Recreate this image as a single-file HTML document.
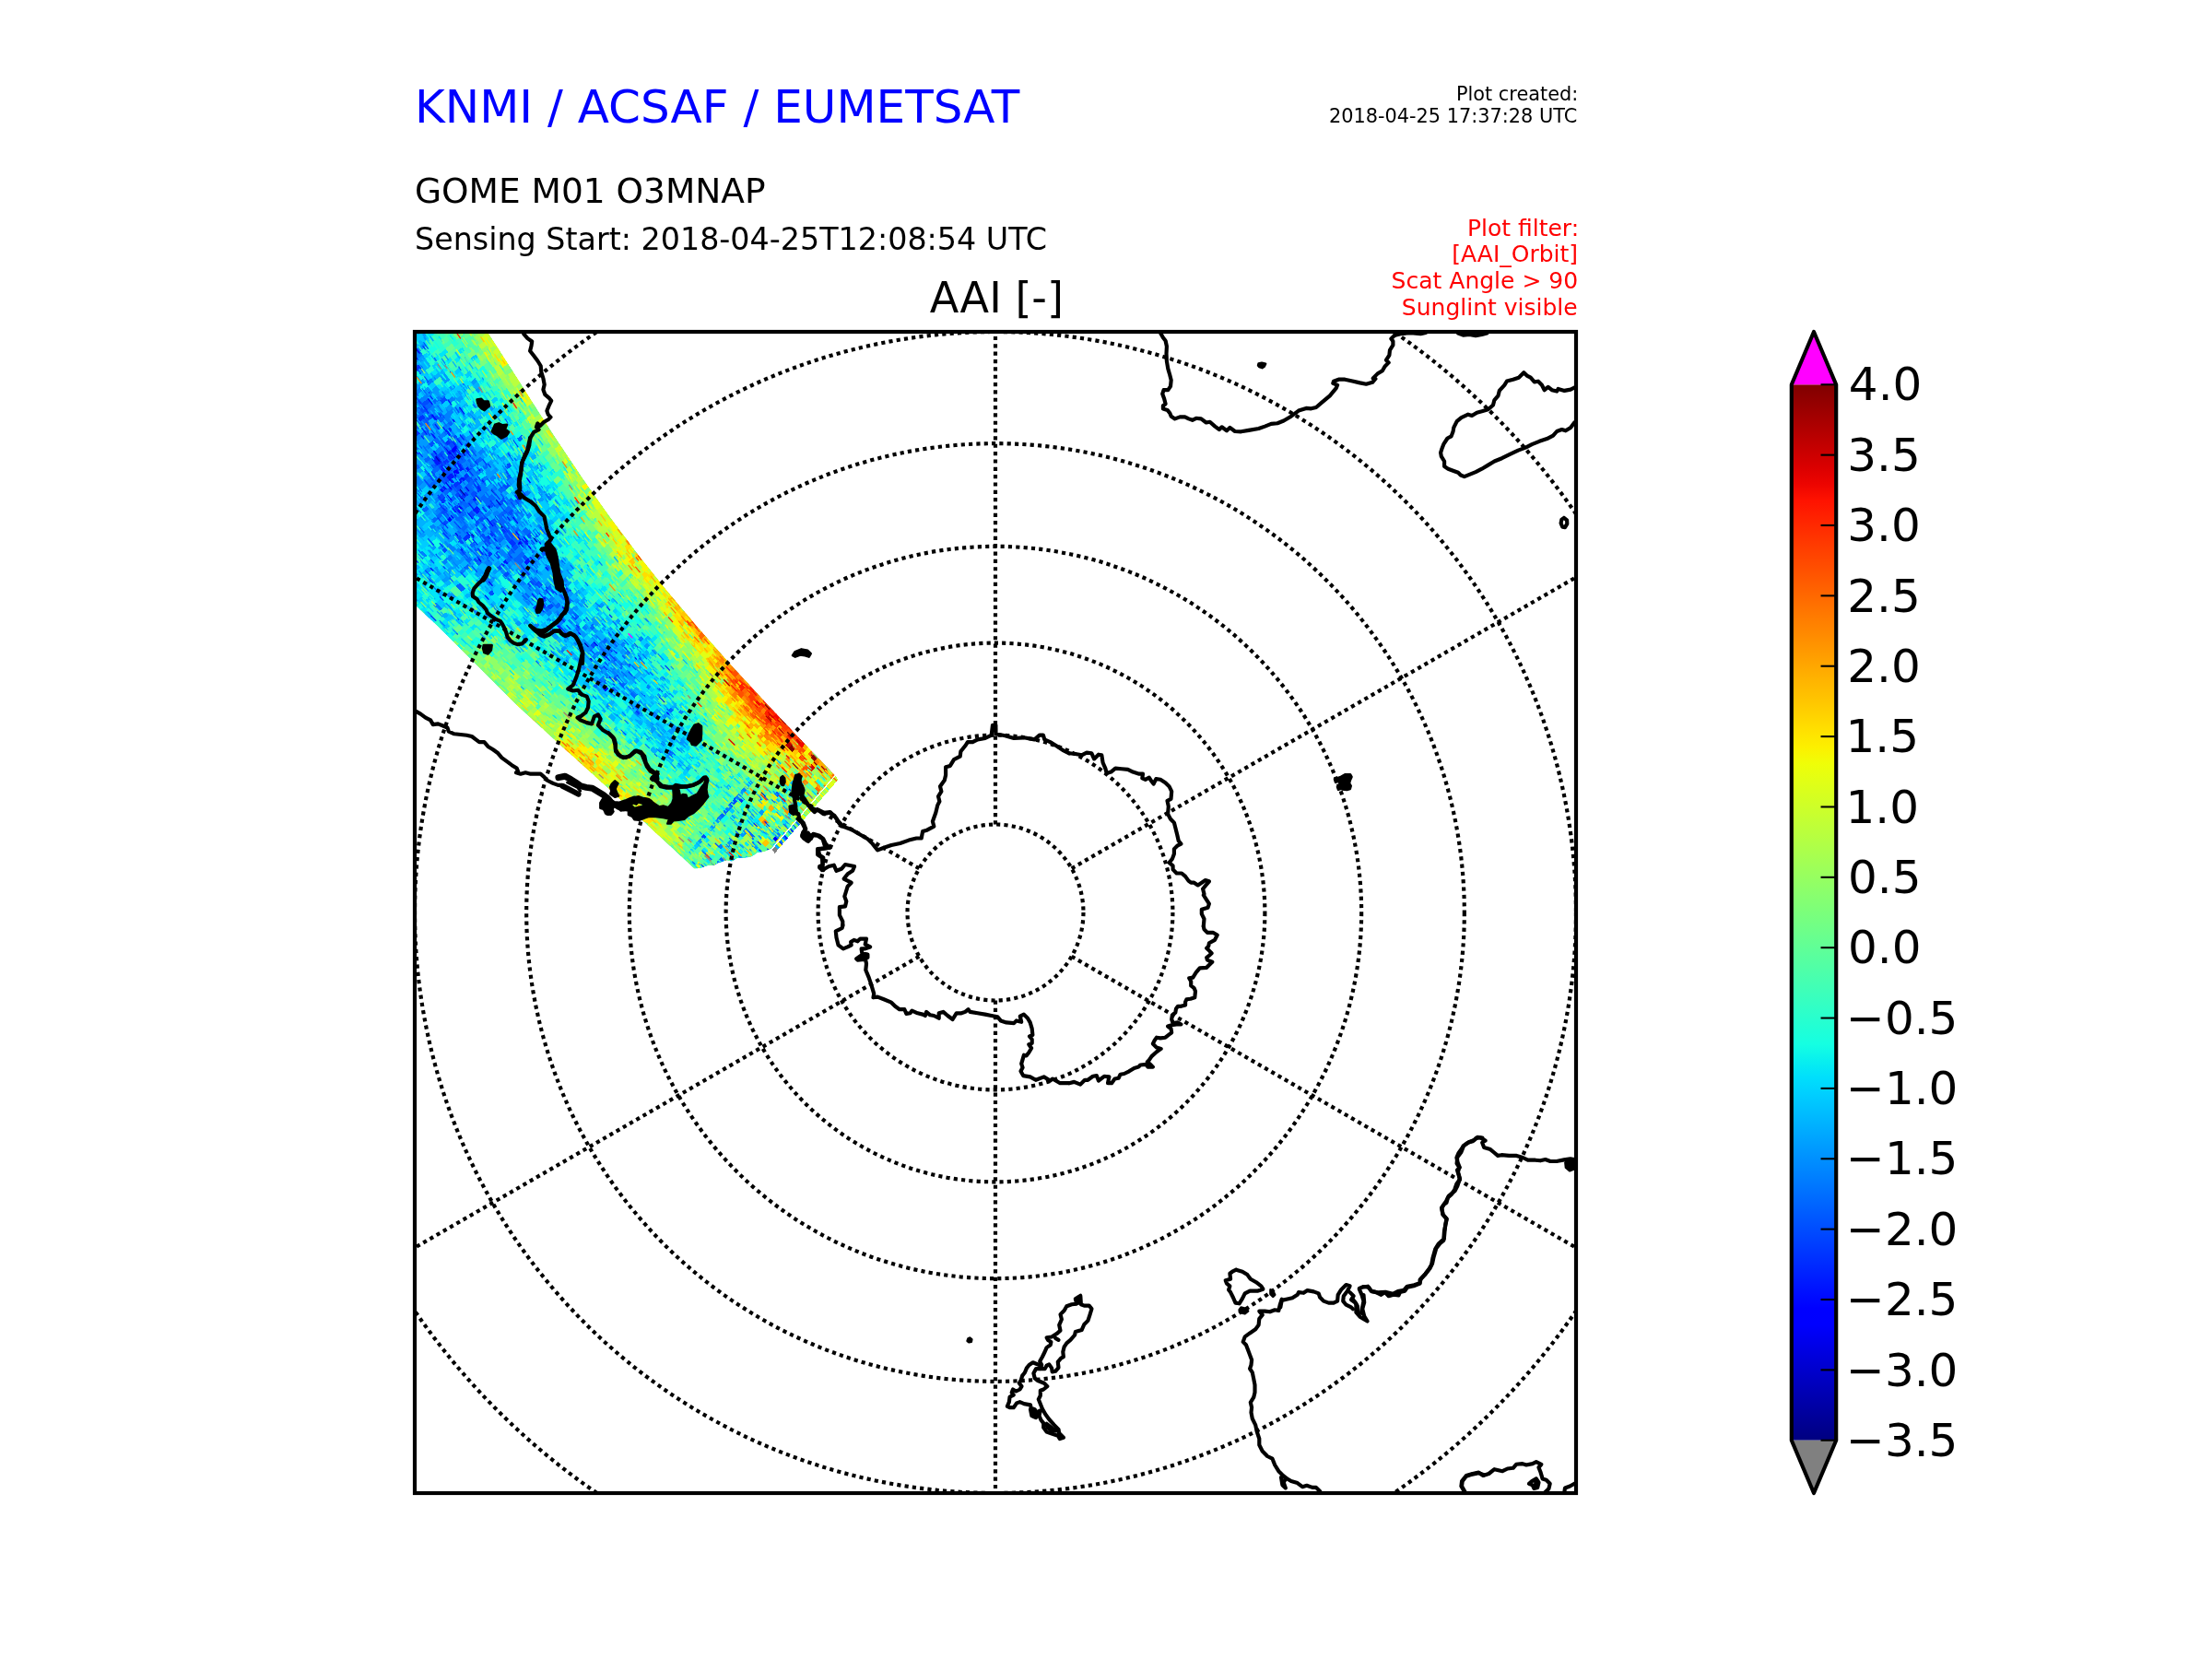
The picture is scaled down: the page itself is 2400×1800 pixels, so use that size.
<!DOCTYPE html>
<html lang="en"><head><meta charset="utf-8"><title>AAI plot</title>
<style>html,body{margin:0;padding:0;background:#fff;}body{width:2400px;height:1800px;overflow:hidden;}svg{display:block;will-change:transform;}</style>
</head><body>
<svg width="2400" height="1800" viewBox="0 0 2400 1800" font-family='"DejaVu Sans","Liberation Sans",sans-serif'>
<defs>
<clipPath id="mapclip"><rect x="450" y="360" width="1260" height="1260"/></clipPath>
<linearGradient id="jet" x1="0" y1="0" x2="0" y2="1"><stop offset="0.0000" stop-color="#800000"/><stop offset="0.0156" stop-color="#920000"/><stop offset="0.0312" stop-color="#a40000"/><stop offset="0.0469" stop-color="#b60000"/><stop offset="0.0625" stop-color="#c80000"/><stop offset="0.0781" stop-color="#da0000"/><stop offset="0.0938" stop-color="#ec0400"/><stop offset="0.1094" stop-color="#fe1200"/><stop offset="0.1250" stop-color="#ff2100"/><stop offset="0.1406" stop-color="#ff3000"/><stop offset="0.1562" stop-color="#ff3f00"/><stop offset="0.1719" stop-color="#ff4d00"/><stop offset="0.1875" stop-color="#ff5c00"/><stop offset="0.2031" stop-color="#ff6b00"/><stop offset="0.2188" stop-color="#ff7a00"/><stop offset="0.2344" stop-color="#ff8800"/><stop offset="0.2500" stop-color="#ff9700"/><stop offset="0.2656" stop-color="#ffa600"/><stop offset="0.2812" stop-color="#ffb500"/><stop offset="0.2969" stop-color="#ffc300"/><stop offset="0.3125" stop-color="#ffd200"/><stop offset="0.3281" stop-color="#ffe100"/><stop offset="0.3438" stop-color="#fcf000"/><stop offset="0.3594" stop-color="#effe08"/><stop offset="0.3750" stop-color="#e2ff15"/><stop offset="0.3906" stop-color="#d5ff21"/><stop offset="0.4062" stop-color="#c9ff2e"/><stop offset="0.4219" stop-color="#bcff3b"/><stop offset="0.4375" stop-color="#afff48"/><stop offset="0.4531" stop-color="#a2ff55"/><stop offset="0.4688" stop-color="#95ff62"/><stop offset="0.4844" stop-color="#88ff6f"/><stop offset="0.5000" stop-color="#7bff7b"/><stop offset="0.5156" stop-color="#6fff88"/><stop offset="0.5312" stop-color="#62ff95"/><stop offset="0.5469" stop-color="#55ffa2"/><stop offset="0.5625" stop-color="#48ffaf"/><stop offset="0.5781" stop-color="#3bffbc"/><stop offset="0.5938" stop-color="#2effc9"/><stop offset="0.6094" stop-color="#21ffd5"/><stop offset="0.6250" stop-color="#15ffe2"/><stop offset="0.6406" stop-color="#08efef"/><stop offset="0.6562" stop-color="#00dffc"/><stop offset="0.6719" stop-color="#00cfff"/><stop offset="0.6875" stop-color="#00bfff"/><stop offset="0.7031" stop-color="#00afff"/><stop offset="0.7188" stop-color="#009fff"/><stop offset="0.7344" stop-color="#008fff"/><stop offset="0.7500" stop-color="#0080ff"/><stop offset="0.7656" stop-color="#0070ff"/><stop offset="0.7812" stop-color="#0060ff"/><stop offset="0.7969" stop-color="#0050ff"/><stop offset="0.8125" stop-color="#0040ff"/><stop offset="0.8281" stop-color="#0030ff"/><stop offset="0.8438" stop-color="#0020ff"/><stop offset="0.8594" stop-color="#0010ff"/><stop offset="0.8750" stop-color="#0000ff"/><stop offset="0.8906" stop-color="#0000fe"/><stop offset="0.9062" stop-color="#0000ec"/><stop offset="0.9219" stop-color="#0000da"/><stop offset="0.9375" stop-color="#0000c8"/><stop offset="0.9531" stop-color="#0000b6"/><stop offset="0.9688" stop-color="#0000a4"/><stop offset="0.9844" stop-color="#000092"/><stop offset="1.0000" stop-color="#000080"/></linearGradient>
</defs>
<rect width="2400" height="1800" fill="#fff"/>
<g clip-path="url(#mapclip)">
<clipPath id="swclip"><polygon points="450.0,360.0 529.4,361.0 555.2,401.0 580.6,441.0 606.5,481.0 633.4,521.0 661.7,561.0 691.7,601.0 723.6,641.0 757.3,681.0 792.7,721.0 829.6,761.0 867.4,801.0 905.6,841.0 836.3,921.0 829.5,923.8 822.0,925.0 815.0,929.5 809.2,930.5 800.0,931.0 794.0,934.5 788.8,933.3 780.0,936.0 774.0,939.0 768.5,938.7 761.0,941.5 753.6,942.5 697.5,890.6 660.7,855.7 605.5,806.1 561.4,765.6 513.6,717.8 476.8,681.0 451.0,657.1 450.0,656.2"/></clipPath>
<g clip-path="url(#swclip)" shape-rendering="crispEdges">
<polygon points="450.0,360.0 529.4,361.0 555.2,401.0 580.6,441.0 606.5,481.0 633.4,521.0 661.7,561.0 691.7,601.0 723.6,641.0 757.3,681.0 792.7,721.0 829.6,761.0 867.4,801.0 905.6,841.0 836.3,921.0 829.5,923.8 822.0,925.0 815.0,929.5 809.2,930.5 800.0,931.0 794.0,934.5 788.8,933.3 780.0,936.0 774.0,939.0 768.5,938.7 761.0,941.5 753.6,942.5 697.5,890.6 660.7,855.7 605.5,806.1 561.4,765.6 513.6,717.8 476.8,681.0 451.0,657.1 450.0,656.2" fill="#40e0c0"/>
<path fill="#0000f3" d="M837.2,910.6l3.7-4.4l4,3.9l-3.7,4.4z"/>
<path fill="#0000ff" d="M442.9,417l6.9-5.6l3.4,4.4l-6.9,5.5zM488.2,488.1l6.5-5.1l3.4,4.4l-6.5,5.1zM489.1,513.1l6.4-5.1l4,4.9l-6.3,5.1zM483.8,563.1l6.1-5l3.5,4.3l-6.1,4.9zM571.3,593.3l5.6-4.9l3.5,4.3l-5.5,4.9z"/>
<path fill="#0019ff" d="M467.7,497.9l6.5-5.2l3.4,4.4l-6.5,5.1zM470.8,501.8l6.5-5.1l3.4,4.4l-6.5,5.1zM477,509.6l6.4-5.1l3.4,4.4l-6.4,5.1zM491.5,504.4l6.4-5.1l3.6,4.7l-6.4,5.1zM483.4,517.6l6.4-5.1l4,4.9l-6.3,5.1zM494.7,508.6l6.4-5.1l3.9,4.9l-6.3,5.1zM475.8,531.1l6.3-5.1l3.5,4.3l-6.3,5.1zM503.9,508.4l6.3-5.1l3.4,4.4l-6.3,5.1zM495.8,521.4l6.3-5.1l3.4,4.4l-6.2,5zM494.7,554.2l6.1-5l3.5,4.3l-6.1,4.9zM511.2,540.9l6.1-5l3.4,4.4l-6.1,4.9zM511.8,553.1l6.1-4.9l5,5.9l-6,5zM560,590l5.6-4.9l3.5,4.3l-5.6,4.9zM543.2,611.4l5.6-4.9l3.6,4.2l-5.6,4.9zM567.8,609.7l5.5-4.8l3.6,4.3l-5.5,4.8zM653.2,747.6l4.5-4.7l3.9,4l-4.5,4.7z"/>
<path fill="#0033ff" d="M449.2,399.1l7-5.6l3.3,4.5l-7,5.6zM443.1,455.1l6.7-5.4l3.5,4.4l-6.7,5.4zM452.2,454.1l6.7-5.4l3.4,4.4l-6.7,5.4zM446.5,471.5l6.7-5.4l3.5,4.3l-6.6,5.3zM481.9,467.6l6.6-5.2l3.3,4.5l-6.6,5.2zM482.1,480.2l6.5-5.2l3.4,4.4l-6.5,5.2zM491,479.5l6.5-5.2l3.3,4.5l-6.5,5.1zM482.4,492.6l6.5-5.1l3.4,4.4l-6.5,5.1zM479.7,501.1l6.5-5.1l3.4,4.4l-6.4,5.1zM485.4,496.6l6.5-5.1l3.4,4.4l-6.4,5.1zM491.2,492l6.5-5.1l3.4,4.4l-6.4,5.1zM490.2,525.9l6.3-5.1l3.5,4.4l-6.2,5zM501.4,516.9l6.3-5.1l3.4,4.4l-6.2,5zM476.6,543.3l6.2-5l3.5,4.3l-6.2,5zM499.5,537.6l6.2-5l3.4,4.4l-6.2,5zM491.6,550.4l6.2-5l3.5,4.3l-6.1,5zM513.6,532.6l6.2-5l3.4,4.4l-6.1,5zM501.7,583.9l5.9-5l3.6,4.2l-5.9,4.9zM527,582.1l5.9-4.9l3.5,4.3l-5.8,4.9zM540.6,577.2l5.8-4.9l3.5,4.4l-5.8,4.9zM526.2,602.2l5.8-4.8l3.6,4.3l-5.8,4.8zM536.5,593.6l5.8-4.8l3.5,4.3l-5.8,4.8zM549.8,588.7l5.8-4.8l5.5,6.2l-5.6,4.9zM585,658.6l5.2-4.8l3.7,4.2l-5.2,4.8zM800.8,868.1l3.8-4.5l4,3.9l-3.8,4.5zM829.8,896.2l3.7-4.4l4,3.9l-3.7,4.4z"/>
<path fill="#004dff" d="M452.1,441.5l6.8-5.5l3.4,4.4l-6.7,5.4zM458.1,436.6l6.8-5.5l3.4,4.4l-6.7,5.4zM455.2,445.4l6.7-5.4l3.4,4.4l-6.7,5.4zM476.2,434.8l6.7-5.4l3.3,4.5l-6.7,5.4zM461.3,453.2l6.7-5.4l3.4,4.4l-6.7,5.4zM470.3,452.3l6.7-5.4l3.4,4.4l-6.6,5.3zM464.3,481.6l6.6-5.2l3.4,4.4l-6.6,5.2zM488,475.5l6.5-5.2l3.3,4.5l-6.5,5.2zM473.5,493.3l6.5-5.2l3.4,4.4l-6.5,5.1zM485.1,484.1l6.5-5.2l3.4,4.4l-6.5,5.1zM465,506.4l6.5-5.1l3.5,4.4l-6.5,5.1zM462.4,514.8l6.5-5.1l3.5,4.3l-6.4,5.1zM473.9,505.7l6.5-5.1l3.4,4.4l-6.4,5.1zM502.7,482.9l6.5-5.1l3.3,4.5l-6.4,5.1zM465.5,518.7l6.4-5.1l3.5,4.3l-6.4,5.1zM494.2,496l6.4-5.1l3.4,4.5l-6.4,5.1zM474.4,518l6.4-5.1l3.7,4.6l-6.4,5.1zM480.1,513.5l6.4-5.1l3.7,4.6l-6.4,5.1zM477.7,522.1l6.4-5.1l4.1,4.9l-6.3,5.1zM473.4,539.5l6.3-5.1l3.5,4.3l-6.2,5zM484.6,530.5l6.3-5.1l3.5,4.3l-6.2,5zM493.3,529.8l6.2-5l3.5,4.4l-6.2,5zM504.4,520.8l6.2-5l3.4,4.4l-6.2,5zM490.8,538.2l6.2-5l3.5,4.4l-6.2,5zM513.1,520.3l6.2-5l3.4,4.4l-6.2,5zM477.4,555.4l6.2-5l3.6,4.3l-6.2,5zM510.6,528.7l6.2-5l3.4,4.4l-6.2,5zM508.1,537l6.2-5l3.4,4.4l-6.1,5zM546.7,505.9l6.2-5l3.2,4.5l-6.1,5zM478.3,567.5l6.1-5l3.6,4.3l-6.1,4.9zM506.4,557.4l6.1-4.9l5.1,6l-6,5zM544.5,526.7l6.1-4.9l4.3,5.4l-6,5zM527.2,549.6l6-5l3.5,4.4l-5.9,5zM477.2,597.9l5.9-5l3.7,4.2l-5.9,5zM493.1,584.5l5.9-5l3.6,4.2l-5.9,5zM514.3,566.8l5.9-5l3.5,4.3l-5.9,5zM519.6,562.3l5.9-5l3.5,4.3l-5.9,5zM540.9,544.6l5.9-5l3.4,4.4l-5.9,5zM496.4,588.3l5.9-5l3.6,4.2l-5.9,4.9zM531.2,565.6l5.9-4.9l3.5,4.4l-5.9,4.9zM518.6,582.6l5.9-4.9l3.5,4.3l-5.9,4.9zM534.4,569.5l5.9-4.9l3.5,4.4l-5.9,4.9zM550.1,556.3l5.9-4.9l3.4,4.4l-5.9,4.9zM521.8,586.5l5.9-4.9l3.5,4.3l-5.8,4.9zM525,590.3l5.8-4.9l3.5,4.3l-5.8,4.9zM512.6,607.1l5.8-4.9l3.6,4.2l-5.8,4.8zM543.7,581.1l5.8-4.9l3.5,4.4l-5.8,4.8zM548.9,576.7l5.8-4.9l3.4,4.4l-5.8,4.8zM546.8,585l5.8-4.8l3.5,4.4l-5.8,4.8zM552,580.6l5.8-4.8l3.4,4.4l-5.8,4.8zM534.4,601.6l5.8-4.8l5.9,6.5l-5.6,4.9zM555,594.4l5.6-4.9l3.6,4.3l-5.6,4.9zM570,581.3l5.6-4.9l3.5,4.3l-5.6,4.9zM538.2,615.8l5.6-4.9l3.6,4.2l-5.6,4.9zM578.1,580.7l5.6-4.9l3.5,4.4l-5.6,4.9zM544.8,623.2l5.5-4.9l3.6,4.2l-5.5,4.8zM564.6,605.9l5.5-4.9l3.6,4.3l-5.5,4.8zM528.3,644.3l5.5-4.8l3.7,4.1l-5.5,4.8zM580.8,604.9l5.5-4.8l3.5,4.3l-5.5,4.8zM570.8,633.4l5.4-4.8l4.5,5.2l-5.4,4.8zM579.6,633.8l5.4-4.8l5.1,5.5l-5.3,4.9zM577,659.2l5.2-4.8l3.7,4.1l-5.2,4.8zM586.3,650.6l5.2-4.8l3.7,4.2l-5.2,4.8zM595.6,642l5.2-4.8l3.7,4.2l-5.2,4.8zM592.9,658l5.2-4.8l3.7,4.2l-5.2,4.8zM619.3,668.9l5-4.8l5.2,5.4l-4.9,4.8zM640,700.1l4.8-4.7l3.8,4.1l-4.8,4.7zM663.1,715.8l4.6-4.8l3.8,4l-4.6,4.8zM661.3,739.2l4.5-4.7l3.9,4l-4.5,4.7zM665.3,735l4.5-4.7l3.9,4l-4.5,4.7zM677.5,722.3l4.5-4.7l3.8,4.1l-4.5,4.7zM759.5,908.7l3.8-4.5l4.1,3.8l-3.8,4.5zM790.4,872.7l3.8-4.5l4,3.9l-3.8,4.5zM793.8,868.7l3.8-4.5l4,3.9l-3.8,4.5z"/>
<path fill="#0066ff" d="M452.2,403.1l7-5.6l3.3,4.5l-6.9,5.6zM449,437.6l6.8-5.5l3.4,4.4l-6.8,5.5zM449.1,450.2l6.7-5.4l3.4,4.4l-6.7,5.4zM461.2,440.5l6.7-5.4l3.4,4.4l-6.7,5.4zM467.2,435.7l6.7-5.4l3.4,4.4l-6.7,5.4zM449.4,462.8l6.7-5.4l3.5,4.4l-6.7,5.4zM455.3,458l6.7-5.4l3.4,4.4l-6.7,5.4zM455.6,470.6l6.6-5.3l3.5,4.4l-6.6,5.3zM473.4,456.3l6.6-5.3l3.4,4.4l-6.6,5.3zM449.4,487.1l6.6-5.2l3.5,4.3l-6.6,5.2zM484.8,459l6.6-5.2l3.3,4.5l-6.6,5.2zM470.2,476.9l6.6-5.2l3.4,4.4l-6.6,5.2zM473.2,480.9l6.6-5.2l3.4,4.4l-6.5,5.2zM447.1,507.9l6.5-5.2l3.5,4.3l-6.5,5.2zM458.8,498.7l6.5-5.2l3.5,4.4l-6.5,5.2zM464.6,494l6.5-5.2l3.4,4.4l-6.5,5.2zM479.3,488.7l6.5-5.2l3.4,4.4l-6.5,5.1zM476.6,497.2l6.5-5.1l3.4,4.4l-6.5,5.1zM468.1,510.3l6.5-5.1l3.5,4.4l-6.4,5.1zM499.9,491.4l6.4-5.1l3.3,4.5l-6.4,5.1zM462.9,527.1l6.4-5.1l3.8,4.6l-6.4,5.1zM468.6,522.5l6.4-5.1l3.8,4.6l-6.4,5.1zM485.8,509l6.4-5.1l3.6,4.7l-6.4,5.1zM497.2,499.9l6.4-5.1l3.6,4.7l-6.4,5.1zM506.1,499.5l6.4-5.1l3.8,4.9l-6.3,5.1zM509.5,503.9l6.3-5.1l3.4,4.4l-6.3,5.1zM515.2,499.4l6.3-5.1l3.3,4.5l-6.3,5.1zM456.6,553.1l6.3-5.1l3.6,4.2l-6.2,5zM479,535l6.3-5.1l3.5,4.3l-6.2,5zM515.6,511.8l6.2-5l3.4,4.5l-6.2,5zM521.2,507.3l6.2-5l3.3,4.5l-6.2,5zM560.2,475.8l6.2-5l3.1,4.6l-6.2,5zM474.2,551.6l6.2-5l3.6,4.3l-6.2,5zM485.3,542.7l6.2-5l3.5,4.3l-6.2,5zM501.9,529.2l6.2-5l3.4,4.4l-6.2,5zM507.5,524.7l6.2-5l3.4,4.4l-6.2,5zM466.3,564.4l6.2-5l3.6,4.3l-6.2,5zM471.9,559.9l6.2-5l3.6,4.3l-6.2,5zM505,533.1l6.2-5l3.4,4.4l-6.2,5zM516.1,524.2l6.2-5l3.4,4.4l-6.2,5zM486.1,554.8l6.2-5l3.5,4.3l-6.1,5zM497.1,545.9l6.2-5l3.5,4.4l-6.1,5zM489.3,558.6l6.1-5l3.5,4.3l-6.1,4.9zM500.2,549.8l6.1-5l3.5,4.4l-6.1,4.9zM505.7,545.4l6.1-5l3.4,4.4l-6.1,4.9zM492.4,562.5l6.1-4.9l3.5,4.3l-6.1,4.9zM497.9,558.1l6.1-4.9l3.5,4.3l-6.1,4.9zM519.7,540.4l6.1-4.9l3.4,4.4l-6.1,4.9zM547,518.4l6.1-4.9l3.3,4.5l-6.1,4.9zM522.7,544.3l6.1-4.9l4.8,5.7l-6,5zM528.1,539.9l6.1-4.9l4.6,5.7l-6,5zM539,531.1l6.1-4.9l4.4,5.5l-6,5zM495.2,576.3l6-5l3.6,4.2l-5.9,5zM500.5,571.9l6-5l3.6,4.3l-5.9,5zM516.5,558.5l6-5l3.5,4.3l-5.9,5zM535.6,549l5.9-5l3.4,4.4l-5.9,5zM549.2,544l5.9-5l3.4,4.4l-5.9,4.9zM520.7,574.4l5.9-4.9l3.5,4.3l-5.9,4.9zM526,570l5.9-4.9l3.5,4.3l-5.9,4.9zM536.5,561.2l5.9-4.9l3.5,4.4l-5.9,4.9zM541.8,556.8l5.9-4.9l3.4,4.4l-5.9,4.9zM547,552.4l5.9-4.9l3.4,4.4l-5.9,4.9zM557.6,543.6l5.9-4.9l3.4,4.4l-5.9,4.9zM497.6,600.2l5.9-4.9l3.6,4.2l-5.9,4.9zM508.1,591.4l5.9-4.9l3.6,4.3l-5.9,4.9zM529.1,573.9l5.9-4.9l3.5,4.3l-5.9,4.9zM539.6,565.1l5.9-4.9l3.5,4.4l-5.9,4.9zM532.3,577.7l5.9-4.9l3.5,4.3l-5.8,4.9zM537.5,573.3l5.9-4.9l3.5,4.4l-5.8,4.9zM542.7,569l5.9-4.9l3.5,4.4l-5.8,4.9zM553.2,560.2l5.9-4.9l3.4,4.4l-5.8,4.9zM558.4,555.9l5.9-4.9l3.4,4.4l-5.8,4.9zM504.2,607.7l5.8-4.9l3.6,4.2l-5.8,4.9zM545.8,572.9l5.8-4.9l3.4,4.4l-5.8,4.9zM502.3,615.8l5.8-4.9l3.7,4.2l-5.8,4.8zM523,598.4l5.8-4.9l3.6,4.3l-5.8,4.8zM538.5,585.4l5.8-4.9l3.5,4.3l-5.8,4.8zM515.9,610.9l5.8-4.8l3.6,4.2l-5.8,4.8zM557.2,576.3l5.8-4.8l3.4,4.4l-5.8,4.8zM493.2,636l5.8-4.8l7.1,7.3l-5.6,4.9zM555,584.4l5.8-4.8l5.3,6.1l-5.6,4.9zM565.3,575.8l5.8-4.8l5,5.9l-5.6,4.9zM550,598.8l5.6-4.9l3.6,4.3l-5.6,4.9zM548.2,607l5.6-4.9l3.6,4.2l-5.6,4.9zM556.4,606.4l5.6-4.9l3.6,4.3l-5.5,4.9zM561.4,602.1l5.6-4.9l3.6,4.3l-5.5,4.9zM559.6,610.2l5.5-4.9l3.6,4.3l-5.5,4.8zM574.5,597.2l5.5-4.9l3.5,4.3l-5.5,4.8zM561.1,622.1l5.5-4.8l3.6,4.3l-5.5,4.8zM585.7,600.6l5.5-4.8l3.5,4.3l-5.5,4.8zM565.2,646.6l5.4-4.8l5.5,5.7l-5.3,4.9zM592.4,638.2l5.2-4.9l3.7,4.2l-5.2,4.8zM588.3,662.3l5.2-4.8l3.7,4.2l-5.2,4.8zM611.4,640.9l5.2-4.8l3.6,4.3l-5.2,4.8zM600.9,657.5l5.2-4.8l3.7,4.2l-5.1,4.8zM610.1,648.9l5.2-4.8l3.6,4.2l-5.1,4.8zM613.3,652.7l5.1-4.8l3.6,4.2l-5.1,4.7zM623.1,681.8l4.9-4.8l3.8,4.1l-4.9,4.8zM631.8,673.2l4.9-4.8l3.7,4.1l-4.9,4.8zM638.5,680.6l4.9-4.8l3.7,4.1l-4.8,4.8zM651.9,695.3l4.8-4.7l3.7,4.2l-4.8,4.7zM638.2,715.8l4.8-4.7l3.8,4.1l-4.8,4.7zM662.7,698.4l4.8-4.7l5.6,5.6l-4.6,4.8zM647.4,725l4.6-4.8l3.9,4l-4.6,4.8zM642.1,744.8l4.6-4.8l3.9,4l-4.6,4.7zM646.2,740.6l4.6-4.8l3.9,4l-4.6,4.7zM678.8,706.6l4.6-4.8l3.8,4.1l-4.6,4.7zM653.7,739.9l4.6-4.7l3.9,4l-4.5,4.7zM670,723l4.6-4.7l3.8,4l-4.5,4.7zM668.8,738.6l4.5-4.7l3.9,4l-4.5,4.7zM672.3,742.1l4.5-4.7l3.9,4l-4.5,4.7zM682.5,752.8l4.5-4.6l5.9,5.7l-4.3,4.7zM687.4,773.5l4.3-4.7l4,3.9l-4.3,4.7zM724.1,770.3l4.2-4.6l3.9,4l-4.2,4.6zM780.1,884.7l3.8-4.5l4,3.9l-3.8,4.5zM783.5,880.7l3.8-4.5l4,3.9l-3.8,4.5zM811,848.7l3.8-4.5l4,3.9l-3.8,4.5zM785.1,918.1l3.8-4.5l4.1,3.8l-3.8,4.4zM778.7,933.4l3.8-4.4l4.1,3.8l-3.8,4.4zM839.3,862l3.8-4.4l4,4l-3.8,4.4zM809.2,905.1l3.8-4.4l4,3.9l-3.8,4.4zM812.8,908.5l3.8-4.4l4,3.9l-3.7,4.4zM830.8,925.8l3.7-4.4l4,3.9l-3.7,4.4zM847.4,906.2l3.7-4.4l4,3.9l-3.7,4.4z"/>
<path fill="#0080ff" d="M446.5,382.2l7.1-5.7l3.3,4.5l-7,5.7zM449.5,386.1l7-5.7l3.3,4.5l-7,5.6zM443,404.1l7-5.6l3.4,4.4l-7,5.6zM449,424.8l6.9-5.5l3.4,4.4l-6.8,5.5zM461.2,415l6.9-5.5l3.3,4.5l-6.8,5.5zM455.1,432.7l6.8-5.5l3.4,4.4l-6.8,5.5zM461.2,427.8l6.8-5.5l3.4,4.4l-6.8,5.5zM446,446.3l6.8-5.5l3.4,4.4l-6.7,5.4zM473.2,430.8l6.7-5.4l3.3,4.5l-6.7,5.4zM458.2,449.3l6.7-5.4l3.4,4.4l-6.7,5.4zM464.2,444.5l6.7-5.4l3.4,4.4l-6.7,5.4zM467.3,448.4l6.7-5.4l3.4,4.4l-6.7,5.4zM485.2,434l6.7-5.4l3.3,4.5l-6.7,5.4zM458.4,461.9l6.7-5.4l3.4,4.4l-6.6,5.3zM449.7,475.3l6.6-5.3l3.5,4.3l-6.6,5.3zM467.4,461l6.6-5.3l3.4,4.4l-6.6,5.3zM479.3,451.5l6.6-5.3l3.3,4.5l-6.6,5.3zM485.2,446.7l6.6-5.3l3.3,4.5l-6.6,5.3zM470.5,465l6.6-5.3l2.8,3.9l-6.6,5.2zM482.3,455.5l6.6-5.3l2.9,4l-6.6,5.2zM478.9,463.6l6.6-5.2l3.3,4.5l-6.6,5.2zM458.4,486.3l6.6-5.2l3.4,4.4l-6.6,5.2zM476.1,472.3l6.6-5.2l3.4,4.4l-6.6,5.2zM485,471.6l6.6-5.2l3.3,4.5l-6.5,5.2zM496.7,462.3l6.6-5.2l3.3,4.5l-6.5,5.2zM470.5,489.4l6.5-5.2l3.4,4.4l-6.5,5.2zM476.3,484.8l6.5-5.2l3.4,4.4l-6.5,5.2zM505.5,461.7l6.5-5.2l3.2,4.5l-6.5,5.2zM461.9,502.5l6.5-5.2l3.5,4.4l-6.5,5.1zM496.8,474.9l6.5-5.2l3.3,4.5l-6.5,5.1zM447.7,520.2l6.5-5.1l3.5,4.3l-6.5,5.1zM450.9,524l6.5-5.1l3.5,4.3l-6.4,5.1zM459.8,523.3l6.4-5.1l3.5,4.3l-6.4,5.1zM482.7,505.1l6.4-5.1l3.4,4.4l-6.4,5.1zM488.5,500.5l6.4-5.1l3.4,4.4l-6.4,5.1zM505.7,486.9l6.4-5.1l3.3,4.5l-6.4,5.1zM508.6,490.8l6.4-5.1l3.5,4.7l-6.4,5.1zM443.6,549.3l6.4-5.1l4.5,5l-6.3,5.1zM455,540.2l6.4-5.1l4.3,5l-6.3,5.1zM500.4,504l6.4-5.1l3.8,4.9l-6.3,5.1zM517.4,490.5l6.4-5.1l3.7,4.8l-6.3,5.1zM492.7,517.5l6.3-5.1l3.4,4.4l-6.3,5.1zM543.3,476.7l6.3-5.1l3.2,4.6l-6.3,5.1zM467.8,544l6.3-5.1l3.6,4.3l-6.2,5zM507,512.4l6.3-5.1l3.4,4.4l-6.2,5zM487.7,534.3l6.2-5l3.5,4.3l-6.2,5zM510,516.3l6.2-5l3.4,4.4l-6.2,5zM468.6,556.1l6.2-5l3.6,4.3l-6.2,5zM496.4,533.7l6.2-5l3.5,4.4l-6.2,5zM521.6,519.7l6.2-5l3.3,4.5l-6.2,5zM464.1,572.6l6.2-5l3.6,4.2l-6.1,5zM480.6,559.3l6.2-5l3.5,4.3l-6.1,5zM502.6,541.5l6.2-5l3.4,4.4l-6.1,5zM519.1,528.1l6.2-5l3.4,4.4l-6.1,5zM530.1,519.2l6.2-5l3.3,4.5l-6.1,5zM472.8,571.9l6.1-5l3.6,4.3l-6.1,4.9zM516.7,536.5l6.1-5l3.4,4.4l-6.1,4.9zM522.2,532.1l6.1-5l3.4,4.4l-6.1,4.9zM476,575.7l6.1-4.9l3.6,4.3l-6.1,4.9zM508.8,549.2l6.1-4.9l3.4,4.4l-6.1,4.9zM514.3,544.8l6.1-4.9l3.4,4.4l-6.1,4.9zM530.7,531.6l6.1-4.9l3.3,4.5l-6.1,4.9zM541.6,522.8l6.1-4.9l3.3,4.5l-6.1,4.9zM451.9,601.3l6.1-4.9l6.3,6.7l-6,5zM479.2,579.4l6.1-4.9l5.7,6.4l-6,5zM495.5,566.2l6.1-4.9l5.4,6.1l-6,5zM489.8,580.8l6-5l3.6,4.2l-5.9,5zM532.5,545.1l6-5l3.4,4.4l-5.9,5zM559.1,522.8l6-5l3.3,4.5l-5.9,5zM580.5,505l6-5l3.2,4.6l-5.9,5zM482.5,593.4l5.9-5l3.7,4.2l-5.9,5zM498.4,580.1l5.9-5l3.6,4.2l-5.9,5zM503.7,575.7l5.9-5l3.6,4.3l-5.9,5zM525,557.9l5.9-5l3.5,4.3l-5.9,5zM485.8,597.1l5.9-5l3.7,4.2l-5.9,4.9zM533.4,557.3l5.9-5l3.5,4.4l-5.9,4.9zM544,548.5l5.9-5l3.4,4.4l-5.9,4.9zM478.6,609.7l5.9-4.9l3.7,4.2l-5.9,4.9zM483.8,605.3l5.9-4.9l3.7,4.2l-5.9,4.9zM494.4,596.5l5.9-4.9l3.6,4.2l-5.9,4.9zM552.3,548l5.9-4.9l3.4,4.4l-5.9,4.9zM562.8,539.2l5.9-4.9l3.3,4.5l-5.9,4.9zM568.1,534.8l5.9-4.9l3.3,4.5l-5.9,4.9zM560.6,547.5l5.9-4.9l3.4,4.5l-5.9,4.9zM480,621.4l5.9-4.9l3.7,4.1l-5.8,4.9zM547.9,564.6l5.9-4.9l3.4,4.4l-5.8,4.9zM530.2,585.9l5.8-4.9l3.5,4.3l-5.8,4.9zM535.4,581.6l5.8-4.9l3.5,4.3l-5.8,4.9zM556.2,564.1l5.8-4.9l3.4,4.4l-5.8,4.9zM561.4,559.8l5.8-4.9l3.4,4.4l-5.8,4.9zM497.1,620.1l5.8-4.9l3.7,4.2l-5.8,4.8zM517.8,602.8l5.8-4.9l3.6,4.3l-5.8,4.8zM533.4,589.8l5.8-4.9l3.5,4.3l-5.8,4.8zM554.1,572.4l5.8-4.9l3.4,4.4l-5.8,4.8zM569.6,559.4l5.8-4.9l3.4,4.5l-5.8,4.8zM590.4,542l5.8-4.9l3.3,4.5l-5.8,4.8zM467.5,657.5l5.8-4.8l7.9,7.8l-5.6,4.9zM524.1,610.2l5.8-4.8l6.2,6.7l-5.6,4.9zM539.5,597.3l5.8-4.8l5.8,6.4l-5.6,4.9zM560.1,580.1l5.8-4.8l5.2,6l-5.6,4.9zM544.9,603.2l5.6-4.9l3.6,4.2l-5.6,4.9zM575,576.9l5.6-4.9l3.5,4.4l-5.6,4.9zM580,572.5l5.6-4.9l3.5,4.4l-5.6,4.9zM523.2,628.9l5.6-4.9l3.7,4.2l-5.6,4.9zM553.2,602.6l5.6-4.9l3.6,4.3l-5.6,4.9zM558.2,598.2l5.6-4.9l3.6,4.3l-5.6,4.9zM563.2,593.9l5.6-4.9l3.5,4.3l-5.6,4.9zM568.1,589.5l5.6-4.9l3.5,4.3l-5.6,4.9zM526.6,632.6l5.6-4.9l3.7,4.2l-5.5,4.9zM541.5,619.5l5.6-4.9l3.6,4.2l-5.5,4.9zM546.5,615.1l5.6-4.9l3.6,4.2l-5.5,4.9zM548,627l5.5-4.8l3.6,4.2l-5.5,4.8zM572.7,605.3l5.5-4.8l3.5,4.3l-5.5,4.8zM592.4,588l5.5-4.8l3.4,4.4l-5.5,4.8zM566,617.8l5.5-4.8l3.6,4.3l-5.5,4.8zM575.9,609.2l5.5-4.8l3.5,4.3l-5.5,4.8zM569.2,621.6l5.5-4.8l3.6,4.3l-5.5,4.8zM562.7,634l5.5-4.8l3.6,4.2l-5.4,4.8zM575.6,629.2l5.4-4.8l4.5,5.1l-5.4,4.8zM590.2,616.4l5.4-4.8l4.2,5l-5.4,4.8zM574.8,638l5.4-4.8l5.2,5.6l-5.3,4.9zM598.8,616.6l5.4-4.8l4.7,5.3l-5.3,4.9zM579.7,643.2l5.3-4.9l3.7,4.2l-5.2,4.9zM603.1,621.4l5.3-4.9l3.6,4.3l-5.2,4.9zM587.7,642.6l5.2-4.9l3.7,4.2l-5.2,4.8zM597,633.9l5.2-4.9l3.6,4.2l-5.2,4.8zM581.7,654.9l5.2-4.8l3.7,4.2l-5.2,4.8zM609.6,629l5.2-4.8l3.6,4.3l-5.2,4.8zM594.3,650l5.2-4.8l3.7,4.2l-5.2,4.8zM608.2,637.1l5.2-4.8l3.6,4.2l-5.2,4.8zM577.8,678.8l5.2-4.8l3.8,4.1l-5.1,4.8zM591.7,666l5.2-4.8l3.7,4.2l-5.1,4.8zM590.4,674l5.1-4.8l3.7,4.2l-5.1,4.7zM599.6,665.5l5.1-4.8l3.7,4.2l-5.1,4.7zM608.7,656.9l5.1-4.8l3.6,4.2l-5.1,4.7zM607.4,664.9l5.1-4.7l3.7,4.2l-5.1,4.7zM601.6,677.1l5.1-4.7l4.7,5.1l-5,4.8zM606.1,672.8l5.1-4.7l4.7,5.1l-5,4.8zM615.2,664.4l5.1-4.7l4.5,5l-5,4.8zM614.8,673.2l5-4.8l5.3,5.5l-4.9,4.8zM610.9,686.8l4.9-4.8l3.8,4.1l-4.9,4.8zM604.7,706.9l4.9-4.8l3.9,4l-4.9,4.8zM630.8,681.2l4.9-4.8l3.7,4.1l-4.9,4.8zM621.2,697.6l4.9-4.8l3.8,4.1l-4.8,4.8zM628,704.9l4.8-4.8l3.8,4.1l-4.8,4.7zM635.7,704.3l4.8-4.7l3.8,4.1l-4.8,4.7zM634.8,712.2l4.8-4.7l3.8,4.1l-4.8,4.7zM647.6,699.5l4.8-4.7l3.7,4.1l-4.8,4.7zM629.7,724.2l4.8-4.7l3.8,4.1l-4.8,4.7zM642.5,711.6l4.8-4.7l3.8,4.1l-4.8,4.7zM646.7,707.4l4.8-4.7l3.8,4.1l-4.8,4.7zM651,703.2l4.8-4.7l3.7,4.1l-4.8,4.7zM650,711l4.8-4.7l6,5.9l-4.6,4.8zM654.2,706.8l4.8-4.7l5.9,5.8l-4.6,4.8zM658.5,702.6l4.8-4.7l5.7,5.7l-4.6,4.8zM672,699.4l4.6-4.8l3.8,4.1l-4.6,4.8zM659,720l4.6-4.8l3.9,4l-4.6,4.8zM650.3,736.3l4.6-4.8l3.9,4l-4.6,4.7zM654.3,732.1l4.6-4.8l3.9,4l-4.6,4.7zM658.4,727.9l4.6-4.8l3.9,4l-4.6,4.7zM662.5,723.6l4.6-4.8l3.9,4l-4.6,4.7zM666.6,719.4l4.6-4.8l3.8,4l-4.6,4.7zM674.8,710.9l4.6-4.8l3.8,4.1l-4.6,4.7zM691.1,693.9l4.6-4.8l3.7,4.1l-4.6,4.7zM661.9,731.4l4.6-4.7l3.9,4l-4.5,4.7zM667.7,754.1l4.5-4.7l3.9,4l-4.5,4.7zM687.2,741l4.5-4.7l3.8,4.1l-4.5,4.6zM680.3,766.5l4.3-4.7l4,3.9l-4.3,4.7zM699.7,745.4l4.3-4.7l3.9,4l-4.3,4.7zM687.7,765.8l4.3-4.7l4,3.9l-4.3,4.7zM710.5,748.3l4.3-4.7l3.9,4l-4.3,4.7zM705.7,775.6l4.3-4.7l3.9,4l-4.3,4.6zM716.5,778.5l4.2-4.6l3.9,4l-4.2,4.6zM723.8,777.9l4.2-4.6l3.9,4l-4.2,4.6zM734.8,773.3l4.2-4.6l3.9,4l-4.2,4.6zM724.7,817.4l4.1-4.6l4,3.9l-4.1,4.6zM776.6,888.7l3.8-4.5l4,3.8l-3.8,4.5zM786.9,876.7l3.8-4.5l4,3.9l-3.8,4.5zM797.2,864.7l3.8-4.5l4,3.9l-3.8,4.5zM804.1,856.7l3.8-4.5l4,3.9l-3.8,4.5zM778.1,918.7l3.8-4.5l4.1,3.8l-3.8,4.5zM775.3,937.4l3.8-4.4l4.1,3.8l-3.8,4.4zM788.8,921.5l3.8-4.4l4.1,3.8l-3.8,4.4zM805.6,901.7l3.8-4.4l4,3.9l-3.8,4.4zM846.4,869l3.8-4.4l3.9,4l-3.7,4.4zM813.1,915.9l3.7-4.4l4,3.9l-3.7,4.4zM840.3,899.2l3.7-4.4l4,3.9l-3.7,4.4zM840.5,906.7l3.7-4.4l4,3.9l-3.7,4.4z"/>
<path fill="#0099ff" d="M452.8,377.1l7.1-5.7l3.3,4.5l-7,5.7zM443.2,391.2l7-5.7l3.3,4.5l-7,5.6zM452.5,390.1l7-5.6l3.3,4.5l-7,5.6zM445.9,420.9l6.9-5.5l3.4,4.4l-6.9,5.5zM452.1,416l6.9-5.5l3.4,4.4l-6.9,5.5zM445.9,433.7l6.8-5.5l3.4,4.4l-6.8,5.5zM458.1,423.8l6.8-5.5l3.4,4.4l-6.8,5.5zM476.4,409.1l6.8-5.5l3.3,4.5l-6.8,5.5zM467.2,422.9l6.8-5.5l3.3,4.5l-6.8,5.5zM479.4,413.1l6.8-5.5l3.3,4.5l-6.8,5.5zM470.2,426.9l6.8-5.5l3.3,4.5l-6.7,5.4zM485.3,421.1l6.7-5.4l3.3,4.5l-6.7,5.4zM446.2,458.9l6.7-5.4l3.5,4.4l-6.7,5.4zM470.2,439.6l6.7-5.4l3.4,4.5l-6.7,5.4zM443.4,467.6l6.7-5.4l3.5,4.3l-6.7,5.4zM497.1,424.4l6.7-5.4l3.2,4.5l-6.7,5.4zM509.1,414.7l6.7-5.4l3.2,4.6l-6.7,5.4zM482.2,442.8l6.7-5.4l3.3,4.5l-6.6,5.3zM494.1,433.2l6.7-5.4l3.3,4.5l-6.6,5.3zM514.8,422.9l6.6-5.3l3.2,4.6l-6.6,5.3zM447,484l6.6-5.3l2.8,3.6l-6.6,5.2zM452.9,479.2l6.6-5.3l2.8,3.7l-6.6,5.2zM458.8,474.5l6.6-5.3l2.8,3.7l-6.6,5.2zM494.1,446l6.6-5.3l2.9,4.1l-6.6,5.2zM455.3,482.4l6.6-5.2l3.5,4.4l-6.6,5.2zM461.2,477.7l6.6-5.2l3.4,4.4l-6.6,5.2zM467.1,473l6.6-5.2l3.4,4.4l-6.6,5.2zM446.6,495.6l6.6-5.2l3.5,4.3l-6.6,5.2zM452.5,490.9l6.6-5.2l3.5,4.4l-6.6,5.2zM505.5,448.9l6.6-5.2l3.2,4.6l-6.6,5.2zM443.9,504.1l6.6-5.2l3.5,4.3l-6.5,5.2zM449.8,499.4l6.6-5.2l3.5,4.3l-6.5,5.2zM455.7,494.8l6.6-5.2l3.5,4.4l-6.5,5.2zM461.5,490.2l6.6-5.2l3.4,4.4l-6.5,5.2zM452.9,503.3l6.5-5.2l3.5,4.3l-6.5,5.2zM528.8,443.1l6.5-5.2l3.1,4.6l-6.5,5.2zM450.3,511.8l6.5-5.2l3.5,4.3l-6.5,5.1zM494,483.5l6.5-5.1l3.3,4.5l-6.5,5.1zM499.7,478.9l6.5-5.1l3.3,4.5l-6.5,5.1zM505.5,474.3l6.5-5.1l3.3,4.5l-6.5,5.1zM445.1,528.6l6.5-5.1l3.6,4.3l-6.4,5.1zM456.6,519.4l6.5-5.1l3.5,4.3l-6.4,5.1zM448.3,532.4l6.4-5.1l3.6,4.3l-6.4,5.1zM454.1,527.8l6.4-5.1l3.5,4.3l-6.4,5.1zM471.3,514.2l6.4-5.1l3.5,4.4l-6.4,5.1zM502.9,495.4l6.4-5.1l3.5,4.7l-6.4,5.1zM449.3,544.8l6.4-5.1l4.4,5l-6.3,5.1zM460.7,535.7l6.4-5.1l4.3,5l-6.3,5.1zM472,526.7l6.4-5.1l4.1,5l-6.3,5.1zM511.8,495l6.4-5.1l3.7,4.9l-6.3,5.1zM442.1,558.4l6.3-5.1l3.7,4.2l-6.3,5.1zM459,544.8l6.3-5.1l3.6,4.3l-6.3,5.1zM464.6,540.2l6.3-5.1l3.6,4.3l-6.3,5.1zM470.2,535.7l6.3-5.1l3.5,4.3l-6.3,5.1zM481.4,526.6l6.3-5.1l3.5,4.3l-6.3,5.1zM498.3,513l6.3-5.1l3.4,4.4l-6.3,5.1zM520.8,494.8l6.3-5.1l3.3,4.5l-6.3,5.1zM532,485.8l6.3-5.1l3.3,4.5l-6.3,5.1zM518.2,503.3l6.3-5.1l3.3,4.5l-6.2,5zM529.4,494.3l6.3-5.1l3.3,4.5l-6.2,5zM454.3,561.3l6.2-5l3.6,4.2l-6.2,5zM459.8,556.8l6.2-5l3.6,4.2l-6.2,5zM498.9,525.3l6.2-5l3.4,4.4l-6.2,5zM526.7,502.8l6.2-5l3.3,4.5l-6.2,5zM524.2,511.3l6.2-5l3.3,4.5l-6.2,5zM540.8,497.8l6.2-5l3.2,4.5l-6.2,5zM494,542l6.2-5l3.5,4.4l-6.2,5zM527.1,515.3l6.2-5l3.3,4.5l-6.2,5zM532.7,510.8l6.2-5l3.3,4.5l-6.2,5zM453.1,581.5l6.2-5l3.7,4.2l-6.1,5zM475.1,563.7l6.2-5l3.6,4.3l-6.1,5zM467.3,576.4l6.1-5l3.6,4.2l-6.1,4.9zM527.6,527.6l6.1-5l3.3,4.5l-6.1,4.9zM544.1,514.4l6.1-5l3.3,4.5l-6.1,4.9zM487,566.9l6.1-4.9l3.5,4.3l-6.1,4.9zM503.3,553.7l6.1-4.9l3.5,4.4l-6.1,4.9zM525.2,536l6.1-4.9l3.4,4.4l-6.1,4.9zM563.4,505.1l6.1-4.9l3.2,4.6l-6.1,4.9zM462.8,592.5l6.1-4.9l6.1,6.6l-6,5zM490,570.6l6.1-4.9l5.5,6.2l-6,5zM500.9,561.8l6.1-4.9l5.3,6.1l-6,5zM533.6,535.5l6.1-4.9l4.5,5.6l-6,5zM549.9,522.3l6.1-4.9l4.2,5.4l-6,5zM473.8,594.2l6-5l3.7,4.2l-5.9,5zM479.2,589.7l6-5l3.7,4.2l-5.9,5zM484.5,585.2l6-5l3.7,4.2l-5.9,5zM537.8,540.6l6-5l3.4,4.4l-5.9,5zM543.1,536.2l6-5l3.4,4.4l-5.9,5zM445.3,624.5l5.9-5l3.8,4l-5.9,5zM509,571.2l5.9-5l3.6,4.3l-5.9,5zM530.3,553.4l5.9-5l3.5,4.4l-5.9,5zM459.3,619.3l5.9-5l3.8,4.1l-5.9,4.9zM517.5,570.6l5.9-5l3.5,4.3l-5.9,4.9zM522.8,566.2l5.9-5l3.5,4.3l-5.9,4.9zM538.7,552.9l5.9-5l3.4,4.4l-5.9,4.9zM468,618.5l5.9-4.9l3.8,4.1l-5.9,4.9zM499.6,592l5.9-4.9l3.6,4.2l-5.9,4.9zM515.4,578.8l5.9-4.9l3.5,4.3l-5.9,4.9zM471.4,622.1l5.9-4.9l3.8,4.1l-5.9,4.9zM487.1,609l5.9-4.9l3.7,4.2l-5.9,4.9zM523.9,578.3l5.9-4.9l3.5,4.3l-5.9,4.9zM544.8,560.7l5.9-4.9l3.4,4.4l-5.9,4.9zM581.6,530l5.9-4.9l3.3,4.5l-5.9,4.9zM485.2,617.1l5.9-4.9l3.7,4.2l-5.8,4.9zM490.5,612.7l5.9-4.9l3.7,4.2l-5.8,4.9zM495.7,608.3l5.9-4.9l3.7,4.2l-5.8,4.9zM500.9,603.9l5.9-4.9l3.6,4.2l-5.8,4.9zM511.4,595.2l5.9-4.9l3.6,4.3l-5.8,4.9zM516.6,590.8l5.9-4.9l3.6,4.3l-5.8,4.9zM574,542.7l5.9-4.9l3.3,4.5l-5.8,4.9zM584.5,534l5.9-4.9l3.3,4.5l-5.8,4.9zM478.2,629.5l5.8-4.9l3.7,4.1l-5.8,4.9zM483.4,625.1l5.8-4.9l3.7,4.1l-5.8,4.9zM514.6,599l5.8-4.9l3.6,4.3l-5.8,4.9zM582.2,542.4l5.8-4.9l3.3,4.5l-5.8,4.9zM507.4,611.4l5.8-4.9l3.6,4.2l-5.8,4.8zM559.3,568.1l5.8-4.9l3.4,4.4l-5.8,4.8zM521,606.6l5.8-4.8l3.6,4.3l-5.8,4.8zM541.7,589.3l5.8-4.8l3.5,4.3l-5.8,4.8zM567.5,567.7l5.8-4.8l3.4,4.4l-5.8,4.8zM482.9,644.6l5.8-4.8l7.4,7.5l-5.6,4.9zM513.8,618.8l5.8-4.8l6.5,6.9l-5.6,4.9zM580.7,563l5.8-4.8l4.6,5.5l-5.6,4.9zM514.9,629.6l5.6-4.9l3.7,4.1l-5.6,4.9zM519.9,625.2l5.6-4.9l3.7,4.1l-5.6,4.9zM534.9,612l5.6-4.9l3.7,4.2l-5.6,4.9zM565,585.6l5.6-4.9l3.5,4.3l-5.6,4.9zM533.2,620.1l5.6-4.9l3.7,4.2l-5.6,4.9zM588.1,572l5.6-4.9l3.4,4.4l-5.6,4.9zM531.6,628.2l5.6-4.9l3.7,4.2l-5.5,4.9zM551.4,610.8l5.6-4.9l3.6,4.2l-5.5,4.9zM549.7,618.9l5.5-4.9l3.6,4.2l-5.5,4.8zM557.9,618.3l5.5-4.8l3.6,4.3l-5.5,4.8zM562.8,614l5.5-4.8l3.6,4.3l-5.5,4.8zM577.6,601l5.5-4.8l3.5,4.3l-5.5,4.8zM541.5,639.4l5.5-4.8l3.7,4.2l-5.5,4.8zM554.6,634.5l5.5-4.8l3.6,4.2l-5.5,4.8zM559.5,630.2l5.5-4.8l3.6,4.2l-5.5,4.8zM564.4,625.9l5.5-4.8l3.6,4.3l-5.5,4.8zM574.1,617.3l5.5-4.8l3.5,4.3l-5.5,4.8zM579,613l5.5-4.8l3.5,4.3l-5.5,4.8zM577.3,621.1l5.5-4.8l3.5,4.3l-5.4,4.8zM541.6,659l5.4-4.8l5,5.4l-5.4,4.8zM565.9,637.7l5.4-4.8l4.6,5.2l-5.4,4.8zM570,642.3l5.4-4.8l5.3,5.7l-5.3,4.9zM603.6,612.3l5.4-4.8l4.6,5.2l-5.3,4.9zM575,647.5l5.3-4.9l3.7,4.2l-5.2,4.9zM589.1,634.5l5.3-4.9l3.7,4.2l-5.2,4.9zM558.4,676.5l5.2-4.8l3.8,4.1l-5.2,4.8zM600.3,637.6l5.2-4.8l3.6,4.2l-5.2,4.8zM566.5,675.8l5.2-4.8l3.8,4.1l-5.2,4.8zM580.4,662.9l5.2-4.8l3.7,4.1l-5.2,4.8zM603.5,641.4l5.2-4.8l3.6,4.2l-5.2,4.8zM612.8,632.8l5.2-4.8l3.6,4.3l-5.2,4.8zM626.7,619.9l5.2-4.8l3.5,4.3l-5.2,4.8zM583.7,666.6l5.2-4.8l3.7,4.1l-5.2,4.8zM597.6,653.7l5.2-4.8l3.7,4.2l-5.2,4.8zM596.3,661.7l5.2-4.8l3.7,4.2l-5.1,4.8zM614.7,644.6l5.2-4.8l3.6,4.3l-5.1,4.8zM604.1,661.2l5.1-4.8l3.7,4.2l-5.1,4.7zM622.5,644.2l5.1-4.8l3.6,4.3l-5.1,4.7zM612,660.7l5.1-4.7l3.6,4.2l-5.1,4.7zM621.1,652.2l5.1-4.7l3.6,4.3l-5.1,4.7zM619.8,660.2l5.1-4.7l4.4,5l-5,4.8zM628.9,651.7l5.1-4.7l4.3,4.9l-5,4.8zM596.8,690.2l5-4.8l5.7,5.7l-4.9,4.8zM619.7,678.2l4.9-4.8l3.8,4.1l-4.9,4.8zM610,694.7l4.9-4.8l3.8,4.1l-4.9,4.8zM618.7,686.1l4.9-4.8l3.8,4.1l-4.9,4.8zM644.9,660.3l4.9-4.8l3.7,4.2l-4.9,4.8zM649.3,656l4.9-4.8l3.7,4.2l-4.9,4.8zM609.1,702.6l4.9-4.8l3.8,4l-4.9,4.8zM622.1,689.7l4.9-4.8l3.8,4.1l-4.9,4.8zM626.5,685.5l4.9-4.8l3.8,4.1l-4.9,4.8zM639.5,672.6l4.9-4.8l3.7,4.2l-4.9,4.8zM629.9,689.1l4.9-4.8l3.8,4.1l-4.8,4.8zM642.9,676.3l4.9-4.8l3.7,4.2l-4.8,4.8zM647.2,672l4.9-4.8l3.7,4.2l-4.8,4.8zM611.6,714l4.8-4.8l3.8,4l-4.8,4.8zM615.9,709.8l4.8-4.8l3.8,4l-4.8,4.8zM628.9,697l4.8-4.8l3.8,4.1l-4.8,4.8zM641.9,684.2l4.8-4.8l3.7,4.1l-4.8,4.8zM632.3,700.7l4.8-4.8l3.8,4.1l-4.8,4.7zM640.9,692.2l4.8-4.8l3.7,4.1l-4.8,4.7zM649.5,683.7l4.8-4.8l3.7,4.2l-4.8,4.7zM622.8,717l4.8-4.7l3.8,4.1l-4.8,4.7zM631.4,708.5l4.8-4.7l3.8,4.1l-4.8,4.7zM657.1,683.2l4.8-4.7l3.7,4.2l-4.8,4.7zM665.7,674.7l4.8-4.7l3.7,4.2l-4.8,4.7zM656.2,691.1l4.8-4.7l3.7,4.2l-4.8,4.7zM655.2,699l4.8-4.7l3.7,4.2l-4.8,4.7zM659.5,694.8l4.8-4.7l3.7,4.2l-4.8,4.7zM668,686.4l4.8-4.7l3.7,4.2l-4.8,4.7zM637.2,723.5l4.8-4.7l6.5,6.2l-4.6,4.8zM641.5,719.3l4.8-4.7l6.3,6.1l-4.6,4.8zM642.7,737.1l4.6-4.8l3.9,4l-4.6,4.8zM650.9,728.5l4.6-4.8l3.9,4l-4.6,4.8zM671.3,707.2l4.6-4.8l3.8,4.1l-4.6,4.8zM682.9,702.4l4.6-4.8l3.8,4.1l-4.6,4.7zM645.6,748.4l4.6-4.7l3.9,4l-4.5,4.7zM649.7,744.1l4.6-4.7l3.9,4l-4.5,4.7zM666,727.2l4.6-4.7l3.8,4l-4.5,4.7zM674.1,718.7l4.6-4.7l3.8,4.1l-4.5,4.7zM697.8,701.3l4.5-4.7l3.7,4.1l-4.5,4.7zM672.9,734.4l4.5-4.7l3.8,4l-4.5,4.7zM676.9,730.2l4.5-4.7l3.8,4.1l-4.5,4.7zM676.3,738l4.5-4.7l3.8,4l-4.5,4.7zM680.3,733.8l4.5-4.7l3.8,4.1l-4.5,4.7zM688.4,725.4l4.5-4.7l3.8,4.1l-4.5,4.7zM655.6,766.6l4.5-4.7l3.9,4l-4.5,4.7zM683.8,737.4l4.5-4.7l3.8,4.1l-4.5,4.7zM691.6,761.6l4.3-4.7l3.9,3.9l-4.3,4.7zM714.7,736.3l4.3-4.7l3.9,4l-4.3,4.7zM691,777l4.3-4.7l4,3.9l-4.3,4.7zM698.6,768.6l4.3-4.7l3.9,4l-4.3,4.7zM710.1,756l4.3-4.7l3.9,4l-4.3,4.7zM698.3,776.3l4.3-4.7l3.9,3.9l-4.3,4.7zM717.5,755.4l4.3-4.7l3.9,4l-4.3,4.7zM709.2,779.2l4.3-4.6l3.9,4l-4.2,4.6zM701.3,795.1l4.2-4.6l4,3.9l-4.2,4.6zM705.1,790.9l4.2-4.6l3.9,3.9l-4.2,4.6zM708.9,786.8l4.2-4.6l3.9,3.9l-4.2,4.6zM712.2,798l4.2-4.6l3.9,3.9l-4.2,4.6zM716,793.8l4.2-4.6l3.9,4l-4.2,4.6zM723.2,793.2l4.2-4.6l5.7,5.3l-4.1,4.7zM726.9,789.1l4.2-4.6l5.6,5.2l-4.1,4.7zM724.8,802.2l4.1-4.7l4,3.9l-4.1,4.6zM721,821.5l4.1-4.6l4,3.8l-4.1,4.6zM735.6,805l4.1-4.6l4,3.9l-4.1,4.6zM739.1,808.4l4.1-4.6l4,3.9l-4,4.6zM756,912.7l3.8-4.5l4.1,3.8l-3.8,4.5zM769.8,896.7l3.8-4.5l4.1,3.8l-3.8,4.5zM773.2,892.7l3.8-4.5l4.1,3.8l-3.8,4.5zM800.7,860.7l3.8-4.5l4,3.9l-3.8,4.5zM807.5,852.7l3.8-4.5l4,3.9l-3.8,4.5zM790.7,887.5l3.8-4.5l4.5,4.3l-3.8,4.5zM788.5,914.1l3.8-4.5l4.1,3.8l-3.8,4.4zM812.1,886.3l3.8-4.5l4,3.9l-3.8,4.4zM802.3,905.6l3.8-4.4l4,3.9l-3.8,4.4zM822.5,881.8l3.8-4.4l4,3.9l-3.8,4.4zM816.7,919.4l3.7-4.4l4,3.9l-3.7,4.4z"/>
<path fill="#00b2ff" d="M440.9,361.1l7.2-5.8l3.3,4.5l-7.2,5.8zM450.3,359.9l7.2-5.8l3.3,4.5l-7.1,5.7zM449.8,373.1l7.1-5.7l3.3,4.5l-7.1,5.7zM446.2,395.2l7-5.6l3.3,4.5l-7,5.6zM455.4,394.1l7-5.6l3.3,4.5l-7,5.6zM458.4,398.1l7-5.6l3.3,4.5l-6.9,5.6zM442.8,429.8l6.9-5.5l3.4,4.4l-6.8,5.5zM467.4,410l6.9-5.5l3.3,4.5l-6.8,5.5zM473.5,405.1l6.9-5.5l3.3,4.5l-6.8,5.5zM464.2,431.7l6.8-5.5l3.4,4.4l-6.7,5.4zM479.3,426l6.7-5.4l3.3,4.5l-6.7,5.4zM473.3,443.6l6.7-5.4l3.4,4.5l-6.7,5.4zM491.2,429.2l6.7-5.4l3.3,4.5l-6.7,5.4zM452.5,466.7l6.7-5.4l3.5,4.4l-6.6,5.3zM464.4,457.1l6.7-5.4l3.4,4.4l-6.6,5.3zM476.3,447.5l6.7-5.4l3.3,4.5l-6.6,5.3zM512,418.8l6.7-5.4l3.2,4.6l-6.6,5.3zM461.5,465.8l6.6-5.3l3.4,4.4l-6.6,5.3zM491.1,442l6.6-5.3l3.3,4.5l-6.6,5.3zM464.7,469.7l6.6-5.3l2.8,3.8l-6.6,5.2zM476.4,460.2l6.6-5.3l2.8,3.9l-6.6,5.2zM500,441.2l6.6-5.3l2.9,4.2l-6.6,5.2zM443.5,491.8l6.6-5.2l3.5,4.3l-6.6,5.2zM487.8,462.9l6.6-5.2l3.3,4.5l-6.6,5.2zM499.6,453.6l6.6-5.2l3.3,4.5l-6.6,5.2zM490.8,466.9l6.6-5.2l3.3,4.5l-6.5,5.2zM508.4,453l6.6-5.2l3.2,4.6l-6.5,5.2zM441.3,512.5l6.5-5.2l3.6,4.3l-6.5,5.2zM511.3,457l6.5-5.2l3.2,4.6l-6.5,5.2zM517.1,452.4l6.5-5.2l3.2,4.6l-6.5,5.2zM444.5,516.4l6.5-5.2l3.5,4.3l-6.5,5.1zM508.4,465.7l6.5-5.2l3.2,4.5l-6.5,5.1zM514.2,461.1l6.5-5.2l3.2,4.6l-6.5,5.1zM534.5,451.3l6.5-5.1l3.1,4.6l-6.5,5.1zM525.8,464.6l6.5-5.1l3.2,4.6l-6.4,5.1zM511.4,482.3l6.4-5.1l3.3,4.5l-6.4,5.1zM445.8,540.7l6.4-5.1l3.9,4.6l-6.4,5.1zM514.4,486.3l6.4-5.1l3.4,4.7l-6.4,5.1zM523.1,485.9l6.4-5.1l3.6,4.8l-6.3,5.1zM487.1,522.1l6.3-5.1l3.5,4.4l-6.3,5.1zM462.2,548.5l6.3-5.1l3.6,4.3l-6.2,5zM443.1,570.3l6.2-5l3.7,4.2l-6.2,5zM448.7,565.8l6.2-5l3.7,4.2l-6.2,5zM465.4,552.3l6.2-5l3.6,4.3l-6.2,5zM471,547.8l6.2-5l3.6,4.3l-6.2,5zM532.3,498.3l6.2-5l3.3,4.5l-6.2,5zM446.4,574l6.2-5l3.7,4.2l-6.2,5zM452,569.6l6.2-5l3.7,4.2l-6.2,5zM457.5,565.1l6.2-5l3.6,4.2l-6.2,5zM463.1,560.6l6.2-5l3.6,4.2l-6.2,5zM529.7,506.8l6.2-5l3.3,4.5l-6.2,5zM546.4,493.4l6.2-5l3.2,4.6l-6.2,5zM449.7,577.8l6.2-5l3.7,4.2l-6.2,5zM482.9,551l6.2-5l3.5,4.3l-6.2,5zM488.4,546.5l6.2-5l3.5,4.3l-6.2,5zM458.6,577l6.2-5l3.6,4.2l-6.1,5zM469.6,568.1l6.2-5l3.6,4.3l-6.1,5zM541.1,510.3l6.2-5l3.3,4.5l-6.1,5zM557.7,497l6.2-5l3.2,4.6l-6.1,5zM461.8,580.8l6.1-5l3.6,4.2l-6.1,4.9zM443.3,602.2l6.1-4.9l3.7,4.1l-6.1,4.9zM470.6,580.1l6.1-4.9l3.6,4.2l-6.1,4.9zM481.5,571.3l6.1-4.9l3.6,4.3l-6.1,4.9zM536.1,527.2l6.1-4.9l3.3,4.5l-6.1,4.9zM574.3,496.3l6.1-4.9l3.1,4.6l-6.1,4.9zM473.7,583.8l6.1-4.9l5.9,6.4l-6,5zM484.6,575l6.1-4.9l5.6,6.3l-6,5zM517.3,548.7l6.1-4.9l4.9,5.8l-6,5zM555.4,518l6.1-4.9l4,5.3l-6,5zM560.8,513.6l6.1-4.9l3.9,5.2l-6,5zM571.7,504.8l6.1-4.9l3.7,5.1l-6,5zM447.2,616.5l6-5l3.8,4.1l-5.9,5zM463.2,603.1l6-5l3.8,4.1l-5.9,5zM505.8,567.4l6-5l3.6,4.3l-5.9,5zM553.8,527.3l6-5l3.3,4.5l-5.9,5zM575.1,509.4l6-5l3.2,4.5l-5.9,5zM461.2,611.2l5.9-5l3.8,4.1l-5.9,5zM471.9,602.3l5.9-5l3.7,4.1l-5.9,5zM556.8,531.2l5.9-5l3.3,4.5l-5.9,5zM562.1,526.8l5.9-5l3.3,4.5l-5.9,5zM572.7,517.9l5.9-5l3.3,4.5l-5.9,5zM583.4,509l5.9-5l3.2,4.6l-5.9,5zM454.1,623.7l5.9-5l3.8,4.1l-5.9,4.9zM512.2,575l5.9-5l3.6,4.3l-5.9,4.9zM528.1,561.7l5.9-5l3.5,4.3l-5.9,4.9zM489.1,600.9l5.9-4.9l3.7,4.2l-5.9,4.9zM510.2,583.2l5.9-4.9l3.6,4.3l-5.9,4.9zM481.9,613.4l5.9-4.9l3.7,4.2l-5.9,4.9zM492.4,604.6l5.9-4.9l3.7,4.2l-5.9,4.9zM474.8,625.8l5.9-4.9l3.8,4.1l-5.8,4.9zM506.1,599.6l5.9-4.9l3.6,4.2l-5.8,4.9zM563.6,551.5l5.9-4.9l3.4,4.5l-5.8,4.9zM499,612l5.8-4.9l3.7,4.2l-5.8,4.9zM509.4,603.3l5.8-4.9l3.6,4.2l-5.8,4.9zM587.4,538l5.8-4.9l3.3,4.5l-5.8,4.9zM471.2,641.8l5.8-4.9l3.8,4.1l-5.8,4.8zM481.5,633.1l5.8-4.9l3.7,4.1l-5.8,4.8zM528.2,594.1l5.8-4.9l3.5,4.3l-5.8,4.8zM595.6,537.7l5.8-4.9l3.2,4.6l-5.8,4.8zM474.6,645.4l5.8-4.8l3.8,4.1l-5.8,4.8zM505.5,619.5l5.8-4.8l3.6,4.2l-5.8,4.8zM531.4,597.9l5.8-4.8l3.5,4.3l-5.8,4.8zM562.3,572l5.8-4.8l3.4,4.4l-5.8,4.8zM577.8,559l5.8-4.8l3.3,4.5l-5.8,4.8zM518.9,614.5l5.8-4.8l6.4,6.8l-5.6,4.9zM529.2,605.9l5.8-4.8l6.1,6.6l-5.6,4.9zM544.7,593l5.8-4.8l5.6,6.3l-5.6,4.9zM575.6,567.3l5.8-4.8l4.7,5.6l-5.6,4.9zM591,554.4l5.8-4.8l4.3,5.3l-5.6,4.9zM596.2,550.1l5.8-4.8l4.1,5.2l-5.6,4.9zM539.9,607.6l5.6-4.9l3.6,4.2l-5.6,4.9zM600,554.9l5.6-4.9l3.4,4.5l-5.6,4.9zM478.3,668.3l5.6-4.9l3.9,4l-5.6,4.9zM503.3,646.4l5.6-4.9l3.8,4.1l-5.6,4.9zM508.3,642l5.6-4.9l3.8,4.1l-5.6,4.9zM528.2,624.5l5.6-4.9l3.7,4.2l-5.6,4.9zM573.1,585.1l5.6-4.9l3.5,4.3l-5.6,4.9zM583.1,576.4l5.6-4.9l3.5,4.4l-5.6,4.9zM593.1,567.6l5.6-4.9l3.4,4.4l-5.6,4.9zM566.3,597.7l5.6-4.9l3.5,4.3l-5.5,4.9zM576.3,589l5.6-4.9l3.5,4.3l-5.5,4.9zM591.2,575.9l5.6-4.9l3.4,4.4l-5.5,4.9zM606.1,562.8l5.6-4.9l3.4,4.5l-5.5,4.9zM525,640.6l5.5-4.9l3.7,4.1l-5.5,4.8zM529.9,636.3l5.5-4.9l3.7,4.2l-5.5,4.8zM554.7,614.6l5.5-4.9l3.6,4.3l-5.5,4.8zM584.4,588.5l5.5-4.9l3.5,4.4l-5.5,4.8zM589.3,584.1l5.5-4.9l3.4,4.4l-5.5,4.8zM582.6,596.7l5.5-4.8l3.5,4.3l-5.5,4.8zM587.5,592.4l5.5-4.8l3.5,4.4l-5.5,4.8zM551.3,630.7l5.5-4.8l3.6,4.2l-5.5,4.8zM571,613.5l5.5-4.8l3.6,4.3l-5.5,4.8zM590.6,596.2l5.5-4.8l3.5,4.4l-5.5,4.8zM530.1,656l5.5-4.8l3.7,4.1l-5.5,4.8zM598.6,595.8l5.5-4.8l3.4,4.4l-5.5,4.8zM603.5,591.5l5.5-4.8l3.4,4.4l-5.5,4.8zM557.8,638.2l5.5-4.8l3.6,4.2l-5.4,4.8zM572.5,625.4l5.5-4.8l3.6,4.3l-5.4,4.8zM556.2,646.2l5.4-4.8l4.8,5.3l-5.4,4.8zM561,641.9l5.4-4.8l4.7,5.2l-5.4,4.8zM580.5,624.9l5.4-4.8l4.4,5.1l-5.4,4.8zM585.3,620.6l5.4-4.8l4.3,5.1l-5.4,4.8zM599.9,607.9l5.4-4.8l4.1,5l-5.4,4.8zM560.5,650.9l5.4-4.8l5.6,5.8l-5.3,4.9zM584.4,629.5l5.4-4.8l5,5.5l-5.3,4.9zM589.2,625.2l5.4-4.8l4.9,5.4l-5.3,4.9zM594,620.9l5.4-4.8l4.8,5.3l-5.3,4.9zM565.6,656.2l5.3-4.9l3.8,4.1l-5.2,4.9zM570.3,651.9l5.3-4.9l3.7,4.1l-5.2,4.9zM593.8,630.1l5.3-4.9l3.6,4.2l-5.2,4.9zM598.4,625.8l5.3-4.9l3.6,4.2l-5.2,4.9zM607.8,617.1l5.3-4.9l3.6,4.3l-5.2,4.9zM612.5,612.7l5.3-4.9l3.6,4.3l-5.2,4.9zM555,672.9l5.2-4.9l3.8,4.1l-5.2,4.8zM578.3,651.2l5.2-4.9l3.7,4.2l-5.2,4.8zM601.7,629.5l5.2-4.9l3.6,4.2l-5.2,4.8zM606.4,625.2l5.2-4.9l3.6,4.3l-5.2,4.8zM611,620.9l5.2-4.9l3.6,4.3l-5.2,4.8zM615.7,616.5l5.2-4.9l3.6,4.3l-5.2,4.8zM567.7,667.9l5.2-4.8l3.8,4.1l-5.2,4.8zM604.9,633.3l5.2-4.8l3.6,4.2l-5.2,4.8zM614.3,624.7l5.2-4.8l3.6,4.3l-5.2,4.8zM598.9,645.7l5.2-4.8l3.6,4.2l-5.2,4.8zM602.2,649.4l5.2-4.8l3.6,4.2l-5.2,4.8zM606.8,645.2l5.2-4.8l3.6,4.2l-5.2,4.8zM564,691.6l5.2-4.8l3.8,4.1l-5.1,4.8zM605.5,653.2l5.2-4.8l3.6,4.2l-5.1,4.8zM585.8,678.2l5.1-4.8l3.7,4.1l-5.1,4.7zM617.9,648.4l5.1-4.8l3.6,4.3l-5.1,4.7zM627.1,639.9l5.1-4.8l3.6,4.3l-5.1,4.7zM584.6,686.1l5.1-4.7l3.7,4.1l-5.1,4.7zM598.3,673.4l5.1-4.7l3.7,4.2l-5.1,4.7zM602.9,669.2l5.1-4.7l3.7,4.2l-5.1,4.7zM605.8,681.7l5-4.8l5.5,5.6l-4.9,4.8zM623.8,664.6l5-4.8l5.1,5.3l-4.9,4.8zM597.8,699.8l4.9-4.8l3.9,4l-4.9,4.8zM602.2,695.4l4.9-4.8l3.8,4l-4.9,4.8zM624.1,673.8l4.9-4.8l3.8,4.1l-4.9,4.8zM601.3,703.3l4.9-4.8l3.9,4l-4.9,4.8zM614.4,690.4l4.9-4.8l3.8,4.1l-4.9,4.8zM635.2,676.9l4.9-4.8l3.7,4.1l-4.9,4.8zM643.9,668.3l4.9-4.8l3.7,4.2l-4.9,4.8zM603.8,714.7l4.9-4.8l3.9,4l-4.8,4.8zM616.8,701.9l4.9-4.8l3.8,4.1l-4.8,4.8zM625.5,693.4l4.9-4.8l3.8,4.1l-4.8,4.8zM634.2,684.8l4.9-4.8l3.7,4.1l-4.8,4.8zM603,722.6l4.8-4.8l3.9,4l-4.8,4.8zM619.4,713.4l4.8-4.8l3.8,4l-4.8,4.7zM636.6,696.4l4.8-4.8l3.8,4.1l-4.8,4.7zM645.2,687.9l4.8-4.8l3.7,4.1l-4.8,4.7zM648.6,691.6l4.8-4.7l3.7,4.1l-4.8,4.7zM626.2,720.6l4.8-4.7l3.8,4.1l-4.8,4.7zM630.5,716.4l4.8-4.7l3.8,4.1l-4.8,4.7zM625.4,728.4l4.8-4.7l3.8,4l-4.8,4.7zM633.9,720l4.8-4.7l3.8,4.1l-4.8,4.7zM663.8,690.6l4.8-4.7l3.7,4.2l-4.8,4.7zM667,694.2l4.8-4.7l5.4,5.5l-4.6,4.8zM630.9,742.1l4.6-4.8l3.9,3.9l-4.6,4.8zM635,737.8l4.6-4.8l3.9,3.9l-4.6,4.8zM643.3,729.3l4.6-4.8l3.9,4l-4.6,4.8zM651.5,720.7l4.6-4.8l3.9,4l-4.6,4.8zM659.7,712.2l4.6-4.8l3.8,4l-4.6,4.8zM663.8,707.9l4.6-4.8l3.8,4.1l-4.6,4.8zM667.9,703.6l4.6-4.8l3.8,4.1l-4.6,4.8zM634.5,745.6l4.6-4.8l3.9,3.9l-4.6,4.8zM657.8,735.7l4.6-4.7l3.9,4l-4.5,4.7zM678.2,714.5l4.6-4.7l3.8,4.1l-4.5,4.7zM682.2,710.3l4.6-4.7l3.8,4.1l-4.5,4.7zM698.5,693.3l4.6-4.7l3.7,4.2l-4.5,4.7zM649.1,751.9l4.5-4.7l3.9,4l-4.5,4.7zM657.2,743.4l4.5-4.7l3.9,4l-4.5,4.7zM669.4,730.8l4.5-4.7l3.8,4l-4.5,4.7zM673.5,726.6l4.5-4.7l3.8,4.1l-4.5,4.7zM689.7,709.7l4.5-4.7l3.8,4.1l-4.5,4.7zM685,721.8l4.5-4.7l3.8,4.1l-4.5,4.7zM689,717.6l4.5-4.7l3.8,4.1l-4.5,4.7zM697.1,709.1l4.5-4.7l3.8,4.1l-4.5,4.7zM668.2,746.3l4.5-4.7l3.9,4l-4.5,4.7zM651.6,770.8l4.5-4.7l3.9,3.9l-4.5,4.7zM659.7,762.4l4.5-4.7l3.9,4l-4.5,4.7zM679.7,741.6l4.5-4.7l3.8,4l-4.5,4.7zM687.8,733.2l4.5-4.7l3.8,4.1l-4.5,4.7zM691.8,729l4.5-4.7l3.8,4.1l-4.5,4.7zM675.2,753.5l4.5-4.7l3.9,4l-4.5,4.6zM679.2,749.3l4.5-4.7l3.8,4l-4.5,4.6zM695.2,732.7l4.5-4.7l3.8,4.1l-4.5,4.6zM658.5,777.7l4.5-4.6l6.7,6.2l-4.3,4.7zM686.5,748.7l4.5-4.6l5.8,5.6l-4.3,4.7zM684.2,762.3l4.3-4.7l4,3.9l-4.3,4.7zM691.9,753.9l4.3-4.7l3.9,4l-4.3,4.7zM707.4,736.9l4.3-4.7l3.9,4l-4.3,4.7zM683.9,770l4.3-4.7l4,3.9l-4.3,4.7zM679.7,781.9l4.3-4.7l4,3.9l-4.3,4.7zM691.3,769.3l4.3-4.7l3.9,3.9l-4.3,4.7zM702.8,756.7l4.3-4.7l3.9,4l-4.3,4.7zM702.5,764.4l4.3-4.7l3.9,4l-4.3,4.7zM690.7,784.6l4.3-4.7l4,3.9l-4.3,4.7zM698.1,784l4.3-4.7l4,3.9l-4.3,4.6zM709.5,771.5l4.3-4.7l3.9,4l-4.3,4.6zM686.4,804l4.3-4.6l4,3.9l-4.2,4.6zM701.6,787.5l4.3-4.6l4,3.9l-4.2,4.6zM720.3,774.4l4.2-4.6l3.9,4l-4.2,4.6zM727.9,766.1l4.2-4.6l3.9,4l-4.2,4.6zM701.1,802.7l4.2-4.6l4,3.9l-4.2,4.6zM708.7,794.4l4.2-4.6l3.9,3.9l-4.2,4.6zM712.5,790.3l4.2-4.6l3.9,4l-4.2,4.6zM704.3,813.7l4.2-4.6l6.2,5.6l-4.1,4.7zM715.6,801.4l4.2-4.6l5.9,5.4l-4.1,4.7zM735.7,789.7l4.1-4.7l4,3.9l-4.1,4.6zM739.2,800.8l4.1-4.6l4,3.9l-4.1,4.6zM742.8,796.7l4.1-4.6l4,3.9l-4.1,4.6zM724.6,825l4.1-4.6l4,3.9l-4,4.6zM746.2,823l4-4.6l4,3.9l-4,4.6zM742.6,834.6l4-4.6l4,3.9l-4,4.6zM786.5,854.3l3.9-4.5l4,3.9l-3.9,4.5zM766.3,900.7l3.8-4.5l4.1,3.8l-3.8,4.5zM760.9,931.3l3.8-4.5l4.1,3.8l-3.8,4.5zM798.4,894.8l3.8-4.5l4,3.9l-3.8,4.5zM856.3,849.7l3.8-4.4l3.9,4l-3.8,4.4zM789.3,936.2l3.8-4.4l4.1,3.8l-3.7,4.4zM859.8,853.2l3.8-4.4l3.9,4l-3.7,4.4zM799.7,931.7l3.7-4.4l4.1,3.8l-3.7,4.4zM853.6,883.5l3.7-4.4l4,4l-3.7,4.4zM850.5,894.9l3.7-4.4l4,3.9l-3.7,4.4z"/>
<path fill="#00ccff" d="M443.9,365.1l7.2-5.8l3.3,4.5l-7.1,5.7zM446.9,369.1l7.1-5.7l3.3,4.5l-7.1,5.7zM453.2,363.9l7.1-5.7l3.3,4.5l-7.1,5.7zM443.5,378.2l7.1-5.7l3.3,4.5l-7.1,5.7zM456.2,368l7.1-5.7l3.3,4.5l-7.1,5.7zM458.7,385.1l7-5.6l3.3,4.5l-7,5.6zM455.2,407l6.9-5.6l3.3,4.5l-6.9,5.5zM467.6,397.1l6.9-5.6l3.3,4.5l-6.9,5.5zM458.2,411l6.9-5.5l3.3,4.5l-6.9,5.5zM452,428.8l6.8-5.5l3.4,4.4l-6.8,5.5zM464.2,418.9l6.8-5.5l3.3,4.5l-6.8,5.5zM442.9,442.5l6.8-5.5l3.4,4.4l-6.8,5.5zM491.5,403.3l6.8-5.5l3.2,4.6l-6.8,5.5zM509.8,388.7l6.8-5.5l3.1,4.6l-6.8,5.5zM476.3,422l6.8-5.5l3.3,4.5l-6.7,5.4zM503.4,406.6l6.7-5.4l3.2,4.6l-6.7,5.4zM482.2,430l6.7-5.4l3.3,4.5l-6.7,5.4zM488.2,425.2l6.7-5.4l3.3,4.5l-6.7,5.4zM494.2,420.3l6.7-5.4l3.2,4.5l-6.7,5.4zM479.2,438.8l6.7-5.4l3.3,4.5l-6.7,5.4zM500.1,428.4l6.7-5.4l3.2,4.5l-6.6,5.3zM497.1,437.2l6.6-5.3l3.3,4.5l-6.6,5.3zM488.2,450.7l6.6-5.3l2.9,4.1l-6.6,5.2zM473,468.3l6.6-5.2l3.4,4.4l-6.6,5.2zM490.8,454.3l6.6-5.2l3.3,4.5l-6.6,5.2zM496.7,449.6l6.6-5.2l3.3,4.5l-6.6,5.2zM493.7,458.3l6.6-5.2l3.3,4.5l-6.6,5.2zM467.4,485.5l6.6-5.2l3.4,4.4l-6.5,5.2zM479.1,476.2l6.6-5.2l3.4,4.4l-6.5,5.2zM514.3,448.3l6.6-5.2l3.2,4.6l-6.5,5.2zM531.8,434.4l6.6-5.2l3.1,4.6l-6.5,5.2zM493.8,470.9l6.5-5.2l3.3,4.5l-6.5,5.2zM523,447.8l6.5-5.2l3.2,4.6l-6.5,5.2zM502.6,470.3l6.5-5.2l3.3,4.5l-6.5,5.1zM531.6,447.2l6.5-5.2l3.1,4.6l-6.5,5.1zM537.4,442.6l6.5-5.2l3.1,4.6l-6.5,5.1zM453.5,515.6l6.5-5.1l3.5,4.3l-6.5,5.1zM459.2,511l6.5-5.1l3.5,4.3l-6.5,5.1zM522.9,460.5l6.5-5.1l3.2,4.6l-6.5,5.1zM540.2,446.8l6.5-5.1l3.1,4.6l-6.5,5.1zM497,487.4l6.5-5.1l3.3,4.5l-6.4,5.1zM508.5,478.3l6.5-5.1l3.3,4.5l-6.4,5.1zM520,469.2l6.5-5.1l3.2,4.6l-6.4,5.1zM442.6,536.9l6.4-5.1l3.6,4.3l-6.4,5.1zM534.4,464.1l6.4-5.1l3.2,4.6l-6.4,5.1zM545.8,455l6.4-5.1l3.1,4.6l-6.4,5.1zM457.2,531.6l6.4-5.1l3.9,4.6l-6.4,5.1zM548.6,459.1l6.4-5.1l3.2,4.7l-6.4,5.1zM466.4,531.2l6.4-5.1l4.2,5l-6.3,5.1zM534.5,476.9l6.4-5.1l3.5,4.8l-6.3,5.1zM447.7,553.8l6.3-5.1l3.6,4.2l-6.3,5.1zM453.3,549.3l6.3-5.1l3.6,4.2l-6.3,5.1zM537.6,481.2l6.3-5.1l3.2,4.6l-6.3,5.1zM512.6,507.9l6.3-5.1l3.4,4.4l-6.2,5zM523.8,498.8l6.3-5.1l3.3,4.5l-6.2,5zM535,489.8l6.3-5.1l3.3,4.5l-6.2,5zM546.2,480.7l6.3-5.1l3.2,4.6l-6.2,5zM551.7,476.2l6.3-5.1l3.2,4.6l-6.2,5zM482.1,538.8l6.2-5l3.5,4.3l-6.2,5zM479.7,547.1l6.2-5l3.5,4.3l-6.2,5zM535.3,502.3l6.2-5l3.3,4.5l-6.2,5zM455.3,573.3l6.2-5l3.7,4.2l-6.2,5zM460.8,568.8l6.2-5l3.6,4.2l-6.2,5zM538.2,506.3l6.2-5l3.3,4.5l-6.2,5zM543.7,501.9l6.2-5l3.2,4.5l-6.2,5zM549.3,497.4l6.2-5l3.2,4.6l-6.2,5zM554.8,492.9l6.2-5l3.2,4.6l-6.2,5zM442,590.4l6.2-5l3.7,4.2l-6.1,5zM447.5,585.9l6.2-5l3.7,4.2l-6.1,5zM535.6,514.8l6.2-5l3.3,4.5l-6.1,5zM552.2,501.5l6.2-5l3.2,4.6l-6.1,5zM450.9,589.6l6.1-5l3.7,4.2l-6.1,4.9zM456.4,585.2l6.1-5l3.7,4.2l-6.1,4.9zM555.1,505.5l6.1-5l3.2,4.6l-6.1,4.9zM571.5,492.2l6.1-5l3.1,4.6l-6.1,4.9zM454.2,593.3l6.1-4.9l3.7,4.2l-6.1,4.9zM459.7,588.9l6.1-4.9l3.7,4.2l-6.1,4.9zM465.1,584.5l6.1-4.9l3.6,4.2l-6.1,4.9zM558,509.6l6.1-4.9l3.2,4.6l-6.1,4.9zM511.2,562.9l6-5l3.5,4.3l-5.9,5zM521.8,554l6-5l3.5,4.3l-5.9,5zM569.8,513.9l6-5l3.3,4.5l-5.9,5zM455.9,615.6l5.9-5l3.8,4.1l-5.9,5zM466.6,606.7l5.9-5l3.7,4.1l-5.9,5zM546.2,540.1l5.9-5l3.4,4.4l-5.9,5zM551.5,535.7l5.9-5l3.4,4.4l-5.9,5zM443.5,632.5l5.9-5l3.9,4l-5.9,4.9zM464.6,614.8l5.9-5l3.8,4.1l-5.9,4.9zM480.5,601.6l5.9-5l3.7,4.2l-5.9,4.9zM491.1,592.7l5.9-5l3.6,4.2l-5.9,4.9zM506.9,579.4l5.9-5l3.6,4.3l-5.9,4.9zM565.1,530.8l5.9-5l3.3,4.5l-5.9,4.9zM570.4,526.3l5.9-5l3.3,4.5l-5.9,4.9zM575.7,521.9l5.9-5l3.3,4.5l-5.9,4.9zM581,517.5l5.9-5l3.2,4.5l-5.9,4.9zM441.7,640.5l5.9-4.9l3.9,4l-5.9,4.9zM447,636.1l5.9-4.9l3.9,4l-5.9,4.9zM445.2,644.1l5.9-4.9l3.9,4l-5.9,4.9zM455.7,635.3l5.9-4.9l3.8,4.1l-5.9,4.9zM460.9,630.9l5.9-4.9l3.8,4.1l-5.9,4.9zM476.6,617.8l5.9-4.9l3.7,4.1l-5.9,4.9zM502.9,595.8l5.9-4.9l3.6,4.2l-5.9,4.9zM513.4,587l5.9-4.9l3.6,4.3l-5.9,4.9zM555.3,551.9l5.9-4.9l3.4,4.4l-5.9,4.9zM565.8,543.1l5.9-4.9l3.3,4.5l-5.9,4.9zM571.1,538.7l5.9-4.9l3.3,4.5l-5.9,4.9zM469.6,630.2l5.9-4.9l3.8,4.1l-5.8,4.9zM568.8,547.1l5.9-4.9l3.3,4.5l-5.8,4.9zM589.7,529.6l5.9-4.9l3.2,4.5l-5.8,4.9zM452.1,651.2l5.8-4.9l3.9,4l-5.8,4.9zM488.6,620.8l5.8-4.9l3.7,4.2l-5.8,4.9zM493.8,616.4l5.8-4.9l3.7,4.2l-5.8,4.9zM519.8,594.6l5.8-4.9l3.6,4.3l-5.8,4.9zM551,568.5l5.8-4.9l3.4,4.4l-5.8,4.9zM566.6,555.4l5.8-4.9l3.4,4.5l-5.8,4.9zM597.8,529.3l5.8-4.9l3.2,4.6l-5.8,4.9zM460.8,650.5l5.8-4.9l3.8,4.1l-5.8,4.8zM476.3,637.5l5.8-4.9l3.8,4.1l-5.8,4.8zM491.9,624.5l5.8-4.9l3.7,4.2l-5.8,4.8zM564.5,563.7l5.8-4.9l3.4,4.4l-5.8,4.8zM574.8,555.1l5.8-4.9l3.3,4.5l-5.8,4.8zM585.2,546.4l5.8-4.9l3.3,4.5l-5.8,4.8zM490,632.5l5.8-4.8l3.7,4.2l-5.8,4.8zM500.4,623.8l5.8-4.8l3.7,4.2l-5.8,4.8zM510.7,615.2l5.8-4.8l3.6,4.2l-5.8,4.8zM588.1,550.4l5.8-4.8l3.3,4.5l-5.8,4.8zM457.2,666.1l5.8-4.8l8.2,8.1l-5.6,4.9zM472.6,653.2l5.8-4.8l7.7,7.7l-5.6,4.9zM570.4,571.5l5.8-4.8l4.9,5.7l-5.6,4.9zM585.9,558.7l5.8-4.8l4.4,5.4l-5.6,4.9zM529.9,616.4l5.6-4.9l3.7,4.2l-5.6,4.9zM585,568.1l5.6-4.9l3.4,4.4l-5.6,4.9zM590,563.7l5.6-4.9l3.4,4.4l-5.6,4.9zM610.1,546.1l5.6-4.9l3.3,4.5l-5.6,4.9zM518.3,633.3l5.6-4.9l3.7,4.1l-5.6,4.9zM598.1,563.2l5.6-4.9l3.4,4.4l-5.6,4.9zM481.9,671.9l5.6-4.9l3.9,4l-5.5,4.9zM486.8,667.5l5.6-4.9l3.9,4l-5.5,4.9zM516.6,641.3l5.6-4.9l3.8,4.1l-5.5,4.9zM521.6,637l5.6-4.9l3.7,4.1l-5.5,4.9zM536.5,623.9l5.6-4.9l3.7,4.2l-5.5,4.9zM586.2,580.2l5.6-4.9l3.5,4.4l-5.5,4.9zM480.4,679.7l5.5-4.9l3.9,4l-5.5,4.8zM495.3,666.7l5.5-4.9l3.9,4l-5.5,4.8zM505.2,658l5.5-4.9l3.8,4.1l-5.5,4.8zM515.1,649.3l5.5-4.9l3.8,4.1l-5.5,4.8zM534.9,631.9l5.5-4.9l3.7,4.2l-5.5,4.8zM569.5,601.5l5.5-4.9l3.5,4.3l-5.5,4.8zM523.4,648.6l5.5-4.8l3.7,4.1l-5.5,4.8zM533.2,640l5.5-4.8l3.7,4.2l-5.5,4.8zM538.2,635.7l5.5-4.8l3.7,4.2l-5.5,4.8zM553,622.7l5.5-4.8l3.6,4.2l-5.5,4.8zM512,665.2l5.5-4.8l3.8,4.1l-5.5,4.8zM526.7,652.3l5.5-4.8l3.7,4.1l-5.5,4.8zM536.6,643.7l5.5-4.8l3.7,4.2l-5.5,4.8zM600.4,587.6l5.5-4.8l3.4,4.4l-5.5,4.8zM544.8,643.1l5.5-4.8l3.7,4.2l-5.5,4.8zM583.9,608.7l5.5-4.8l3.5,4.3l-5.5,4.8zM588.8,604.4l5.5-4.8l3.5,4.4l-5.5,4.8zM593.7,600.1l5.5-4.8l3.5,4.4l-5.5,4.8zM538.3,655.4l5.5-4.8l3.7,4.2l-5.4,4.8zM553,642.5l5.5-4.8l3.6,4.2l-5.4,4.8zM582.2,616.8l5.5-4.8l3.5,4.3l-5.4,4.8zM587.1,612.6l5.5-4.8l3.5,4.3l-5.4,4.8zM592,608.3l5.5-4.8l3.5,4.4l-5.4,4.8zM596.8,604l5.5-4.8l3.5,4.4l-5.4,4.8zM531.7,676.7l5.4-4.8l6.2,6.2l-5.3,4.9zM541.3,668.1l5.4-4.8l6,6.1l-5.3,4.9zM608.4,608l5.4-4.8l4.5,5.1l-5.3,4.9zM560.9,660.6l5.3-4.9l3.8,4.1l-5.2,4.9zM584.4,638.8l5.3-4.9l3.7,4.2l-5.2,4.9zM626.6,599.7l5.3-4.9l3.5,4.4l-5.2,4.9zM564.3,664.2l5.2-4.9l3.8,4.1l-5.2,4.8zM569,659.9l5.2-4.9l3.8,4.1l-5.2,4.8zM573.7,655.6l5.2-4.9l3.7,4.1l-5.2,4.8zM583,646.9l5.2-4.9l3.7,4.2l-5.2,4.8zM572.4,663.6l5.2-4.8l3.7,4.1l-5.2,4.8zM591,646.3l5.2-4.8l3.7,4.2l-5.2,4.8zM589.6,654.3l5.2-4.8l3.7,4.2l-5.2,4.8zM569.9,679.5l5.2-4.8l3.8,4.1l-5.2,4.8zM620.7,632.3l5.2-4.8l3.6,4.3l-5.2,4.8zM587.1,670.3l5.2-4.8l3.7,4.1l-5.1,4.8zM567.5,695.3l5.1-4.8l3.8,4.1l-5.1,4.7zM581.2,682.5l5.1-4.8l3.8,4.1l-5.1,4.7zM595,669.7l5.1-4.8l3.7,4.2l-5.1,4.7zM589.2,681.9l5.1-4.7l3.7,4.1l-5.1,4.7zM625.7,648l5.1-4.7l3.6,4.3l-5.1,4.7zM630.3,643.7l5.1-4.7l3.6,4.3l-5.1,4.7zM610.7,668.6l5.1-4.7l4.6,5.1l-5,4.8zM624.3,656l5.1-4.7l4.4,5l-5,4.8zM628.3,660.4l5-4.8l5,5.3l-4.9,4.8zM615.3,682.5l4.9-4.8l3.8,4.1l-4.9,4.8zM632.9,665.2l4.9-4.8l3.7,4.2l-4.9,4.8zM641.6,656.6l4.9-4.8l3.7,4.2l-4.9,4.8zM588.2,716.2l4.9-4.8l3.9,4l-4.9,4.8zM605.6,699l4.9-4.8l3.8,4l-4.9,4.8zM636.2,668.9l4.9-4.8l3.7,4.2l-4.9,4.8zM613.4,698.3l4.9-4.8l3.8,4.1l-4.9,4.8zM617.8,694l4.9-4.8l3.8,4.1l-4.9,4.8zM648.2,664l4.9-4.8l3.7,4.2l-4.9,4.8zM661.3,651.2l4.9-4.8l3.6,4.2l-4.9,4.8zM607.3,718.3l4.8-4.8l3.9,4l-4.8,4.8zM624.6,701.3l4.8-4.8l3.8,4.1l-4.8,4.8zM633.2,692.8l4.8-4.8l3.8,4.1l-4.8,4.8zM654.8,671.5l4.8-4.8l3.7,4.2l-4.8,4.8zM663.5,663l4.8-4.8l3.6,4.2l-4.8,4.8zM658.1,675.2l4.8-4.8l3.7,4.2l-4.8,4.7zM627.1,712.8l4.8-4.7l3.8,4.1l-4.8,4.7zM652.9,687.4l4.8-4.7l3.7,4.2l-4.8,4.7zM613.4,733.2l4.8-4.7l3.9,4l-4.8,4.7zM639.1,707.9l4.8-4.7l3.8,4.1l-4.8,4.7zM643.4,703.7l4.8-4.7l3.8,4.1l-4.8,4.7zM660.5,686.9l4.8-4.7l3.7,4.2l-4.8,4.7zM664.7,682.7l4.8-4.7l3.7,4.2l-4.8,4.7zM672.3,682.2l4.8-4.7l3.7,4.2l-4.8,4.7zM676.6,678l4.8-4.7l3.6,4.2l-4.8,4.7zM620.2,740.2l4.8-4.7l7.1,6.6l-4.6,4.8zM624.4,736l4.8-4.7l6.9,6.5l-4.6,4.8zM632.9,727.7l4.8-4.7l6.6,6.3l-4.6,4.8zM618.6,754.9l4.6-4.8l4,3.9l-4.6,4.8zM639.1,733.5l4.6-4.8l3.9,4l-4.6,4.8zM655.6,716.5l4.6-4.8l3.9,4l-4.6,4.8zM646.8,732.8l4.6-4.8l3.9,4l-4.6,4.8zM654.9,724.3l4.6-4.8l3.9,4l-4.6,4.8zM667.2,711.5l4.6-4.8l3.8,4.1l-4.6,4.8zM670.7,715.1l4.6-4.8l3.8,4.1l-4.6,4.7zM694.4,697.6l4.6-4.7l3.7,4.1l-4.5,4.7zM681.6,718.1l4.5-4.7l3.8,4.1l-4.5,4.7zM701.9,697l4.5-4.7l3.7,4.2l-4.5,4.7zM652.6,755.4l4.5-4.7l3.9,4l-4.5,4.7zM656.7,751.2l4.5-4.7l3.9,4l-4.5,4.7zM664.8,742.8l4.5-4.7l3.9,4l-4.5,4.7zM680.9,726l4.5-4.7l3.8,4.1l-4.5,4.7zM693.1,713.3l4.5-4.7l3.8,4.1l-4.5,4.7zM652.1,763.1l4.5-4.7l3.9,4l-4.5,4.7zM692.4,721.2l4.5-4.7l3.8,4.1l-4.5,4.7zM700.5,712.8l4.5-4.7l3.8,4.1l-4.5,4.7zM704.5,708.6l4.5-4.7l3.7,4.1l-4.5,4.7zM671.7,749.9l4.5-4.7l3.9,4l-4.5,4.7zM675.7,745.7l4.5-4.7l3.9,4l-4.5,4.7zM659.2,770.1l4.5-4.7l3.9,4l-4.5,4.6zM663.2,766l4.5-4.7l3.9,4l-4.5,4.6zM691.2,736.8l4.5-4.7l3.8,4.1l-4.5,4.6zM703.2,724.3l4.5-4.7l3.8,4.1l-4.5,4.6zM678.5,756.9l4.5-4.6l6.1,5.8l-4.3,4.7zM657.1,791.9l4.3-4.7l4.1,3.8l-4.3,4.7zM672.6,775l4.3-4.7l4,3.9l-4.3,4.7zM676.4,770.8l4.3-4.7l4,3.9l-4.3,4.7zM703.5,741.2l4.3-4.7l3.9,4l-4.3,4.7zM664.6,791.1l4.3-4.7l4,3.8l-4.3,4.7zM695.4,757.4l4.3-4.7l3.9,4l-4.3,4.7zM703.2,748.9l4.3-4.7l3.9,4l-4.3,4.7zM707,744.7l4.3-4.7l3.9,4l-4.3,4.7zM683.6,777.7l4.3-4.7l4,3.9l-4.3,4.7zM695.1,765.1l4.3-4.7l3.9,3.9l-4.3,4.7zM699,760.9l4.3-4.7l3.9,4l-4.3,4.7zM687.1,781.2l4.3-4.7l4,3.9l-4.3,4.7zM706.3,760.2l4.3-4.7l3.9,4l-4.3,4.7zM694.5,780.5l4.3-4.7l4,3.9l-4.3,4.7zM709.8,763.8l4.3-4.7l3.9,4l-4.3,4.7zM701.9,779.8l4.3-4.7l3.9,3.9l-4.3,4.6zM728.6,750.7l4.3-4.7l3.9,4l-4.3,4.6zM716.8,770.9l4.3-4.6l3.9,4l-4.2,4.6zM724.4,762.6l4.3-4.6l3.9,4l-4.2,4.6zM712.7,782.7l4.2-4.6l3.9,4l-4.2,4.6zM704.9,798.6l4.2-4.6l4,3.9l-4.2,4.6zM716.2,786.2l4.2-4.6l3.9,4l-4.2,4.6zM735.1,765.6l4.2-4.6l3.9,4l-4.2,4.6zM708.4,802.1l4.2-4.6l4,3.9l-4.2,4.6zM723.5,785.6l4.2-4.6l3.9,4l-4.2,4.6zM711.9,805.5l4.2-4.6l6,5.5l-4.1,4.7zM719.4,797.3l4.2-4.6l5.8,5.4l-4.1,4.7zM713.8,814.7l4.1-4.7l4,3.8l-4.1,4.6zM717.4,810.5l4.1-4.7l4,3.9l-4.1,4.6zM732.1,793.9l4.1-4.7l4,3.9l-4.1,4.6zM724.7,809.8l4.1-4.6l4,3.9l-4.1,4.6zM728.3,805.7l4.1-4.6l4,3.9l-4.1,4.6zM732,801.5l4.1-4.6l4,3.9l-4.1,4.6zM735.5,812.6l4.1-4.6l4,3.9l-4,4.6zM742.8,804.3l4.1-4.6l4,3.9l-4,4.6zM742.7,811.9l4-4.6l4,3.9l-4,4.6zM731.8,831.8l4-4.6l4,3.9l-4,4.6zM735.5,827.7l4-4.6l4,3.9l-4,4.6zM757,810.7l4-4.6l4,3.9l-4,4.6zM739.1,838.7l4-4.6l4,3.9l-4,4.6zM753.4,822.3l4-4.6l4,3.9l-4,4.6zM739.1,846.2l4-4.6l4,3.9l-4,4.5zM753.4,829.9l4-4.6l4,3.9l-4,4.5zM758.2,856.7l3.9-4.6l4,3.8l-3.9,4.5zM761.7,852.6l3.9-4.6l4,3.8l-3.9,4.5zM745.7,924.7l3.8-4.5l4.1,3.8l-3.8,4.5zM749.2,920.7l3.8-4.5l4.1,3.8l-3.8,4.5zM752.6,916.7l3.8-4.5l4.1,3.8l-3.8,4.5zM790.5,880.1l3.8-4.5l4,3.9l-3.8,4.5zM782.3,936.8l3.8-4.4l4.1,3.8l-3.8,4.4zM819.3,893.2l3.8-4.4l4,3.9l-3.8,4.4zM839.5,869.5l3.8-4.4l4,3.9l-3.8,4.4zM863.1,849.3l3.8-4.4l3.9,4l-3.7,4.4zM859.9,860.7l3.7-4.4l3.9,4l-3.7,4.4zM806.7,931.2l3.7-4.4l4,3.8l-3.7,4.4zM837,903.2l3.7-4.4l4,3.9l-3.7,4.4zM837.4,918l3.7-4.4l4,3.9l-3.7,4.4z"/>
<path fill="#00e5f7" d="M462.5,362.9l7.1-5.7l3.2,4.6l-7.1,5.7zM459.1,372l7.1-5.7l3.3,4.5l-7,5.7zM470.8,388.1l7-5.6l3.2,4.5l-6.9,5.6zM477.1,383.1l7-5.6l3.2,4.6l-6.9,5.6zM464.4,406l6.9-5.5l3.3,4.5l-6.9,5.5zM470.5,401.1l6.9-5.5l3.3,4.5l-6.9,5.5zM482.9,391.2l6.9-5.5l3.2,4.6l-6.9,5.5zM495.2,381.3l6.9-5.5l3.2,4.6l-6.9,5.5zM479.6,400.2l6.9-5.5l3.2,4.5l-6.8,5.5zM491.9,390.3l6.9-5.5l3.2,4.6l-6.8,5.5zM473.3,418l6.8-5.5l3.3,4.5l-6.8,5.5zM494.4,407.4l6.8-5.5l3.2,4.6l-6.7,5.4zM491.3,416.3l6.7-5.4l3.2,4.5l-6.7,5.4zM500.2,415.5l6.7-5.4l3.2,4.6l-6.7,5.4zM503.1,419.6l6.7-5.4l3.2,4.6l-6.7,5.4zM517.9,414l6.7-5.4l3.1,4.6l-6.6,5.3zM443.8,480.1l6.6-5.3l3.5,4.3l-6.6,5.3zM517.7,427l6.6-5.3l2.9,4.4l-6.6,5.2zM502.6,444.9l6.6-5.2l3.2,4.5l-6.6,5.2zM508.5,440.2l6.6-5.2l3.2,4.6l-6.6,5.2zM517.3,439.6l6.6-5.2l3.2,4.6l-6.6,5.2zM540.5,433.9l6.5-5.2l3.1,4.7l-6.5,5.2zM525.8,451.9l6.5-5.2l3.2,4.6l-6.5,5.1zM441.9,524.8l6.5-5.1l3.6,4.3l-6.5,5.1zM517.1,465.1l6.5-5.1l3.2,4.6l-6.5,5.1zM528.7,455.9l6.5-5.1l3.2,4.6l-6.5,5.1zM514.2,473.7l6.5-5.1l3.2,4.5l-6.4,5.1zM543,450.9l6.5-5.1l3.1,4.6l-6.4,5.1zM517.2,477.8l6.4-5.1l3.2,4.5l-6.4,5.1zM522.9,473.2l6.4-5.1l3.2,4.6l-6.4,5.1zM451.5,536.1l6.4-5.1l3.9,4.6l-6.4,5.1zM525.8,477.2l6.4-5.1l3.3,4.7l-6.4,5.1zM531.5,472.7l6.4-5.1l3.3,4.7l-6.4,5.1zM557.2,458.8l6.4-5.1l3.2,4.7l-6.3,5.1zM526.4,490.3l6.3-5.1l3.3,4.5l-6.3,5.1zM548.9,472.1l6.3-5.1l3.2,4.6l-6.3,5.1zM445.4,562.1l6.3-5.1l3.7,4.2l-6.2,5zM537.9,493.8l6.2-5l3.2,4.5l-6.2,5zM549,484.8l6.2-5l3.2,4.6l-6.2,5zM554.6,480.3l6.2-5l3.2,4.6l-6.2,5zM518.6,515.8l6.2-5l3.3,4.5l-6.2,5zM557.5,484.4l6.2-5l3.2,4.6l-6.2,5zM444.2,582.2l6.2-5l3.7,4.2l-6.2,5zM560.3,488.5l6.2-5l3.2,4.6l-6.2,5zM524.6,523.7l6.2-5l3.3,4.5l-6.1,5zM533.1,523.2l6.1-5l3.3,4.5l-6.1,4.9zM538.6,518.8l6.1-5l3.3,4.5l-6.1,4.9zM549.6,509.9l6.1-5l3.2,4.5l-6.1,4.9zM560.5,501.1l6.1-5l3.2,4.6l-6.1,4.9zM566,496.6l6.1-5l3.2,4.6l-6.1,4.9zM577,487.8l6.1-5l3.1,4.6l-6.1,4.9zM448.7,597.8l6.1-4.9l3.7,4.2l-6.1,4.9zM552.5,514l6.1-4.9l3.2,4.5l-6.1,4.9zM568.9,500.7l6.1-4.9l3.2,4.6l-6.1,4.9zM457.4,596.9l6.1-4.9l6.2,6.7l-6,5zM441.9,620.9l6-5l3.8,4l-5.9,5zM452.5,612l6-5l3.8,4.1l-5.9,5zM468.5,598.6l6-5l3.7,4.1l-5.9,5zM450.6,620.1l5.9-5l3.8,4.1l-5.9,5zM487.8,589l5.9-5l3.7,4.2l-5.9,5zM567.4,522.3l5.9-5l3.3,4.5l-5.9,5zM469.9,610.4l5.9-5l3.7,4.1l-5.9,4.9zM554.5,539.6l5.9-5l3.4,4.4l-5.9,4.9zM559.8,535.2l5.9-5l3.3,4.5l-5.9,4.9zM457.5,627.3l5.9-4.9l3.8,4.1l-5.9,4.9zM462.8,622.9l5.9-4.9l3.8,4.1l-5.9,4.9zM473.3,614.1l5.9-4.9l3.7,4.1l-5.9,4.9zM573.4,530.4l5.9-4.9l3.3,4.5l-5.9,4.9zM578.6,525.9l5.9-4.9l3.3,4.5l-5.9,4.9zM594.4,512.7l5.9-4.9l3.2,4.6l-5.9,4.9zM450.4,639.7l5.9-4.9l3.9,4l-5.9,4.9zM466.2,626.5l5.9-4.9l3.8,4.1l-5.9,4.9zM576.3,534.4l5.9-4.9l3.3,4.5l-5.9,4.9zM448.7,647.7l5.9-4.9l3.9,4l-5.8,4.9zM453.9,643.3l5.9-4.9l3.8,4l-5.8,4.9zM594.9,525.3l5.9-4.9l3.2,4.6l-5.8,4.9zM446.9,655.6l5.8-4.9l3.9,4l-5.8,4.9zM462.5,642.5l5.8-4.9l3.8,4.1l-5.8,4.9zM467.7,638.2l5.8-4.9l3.8,4.1l-5.8,4.9zM571.8,551.1l5.8-4.9l3.3,4.5l-5.8,4.9zM455.6,654.8l5.8-4.9l3.9,4l-5.8,4.8zM466,646.1l5.8-4.9l3.8,4.1l-5.8,4.8zM580,550.7l5.8-4.9l3.3,4.5l-5.8,4.8zM453.9,662.7l5.8-4.8l3.9,4l-5.8,4.8zM459.1,658.4l5.8-4.8l3.9,4l-5.8,4.8zM469.4,649.8l5.8-4.8l3.8,4.1l-5.8,4.8zM572.7,563.4l5.8-4.8l3.4,4.5l-5.8,4.8zM583,554.7l5.8-4.8l3.3,4.5l-5.8,4.8zM603.6,537.4l5.8-4.8l3.2,4.6l-5.8,4.8zM508.6,623.1l5.8-4.8l6.7,7l-5.6,4.9zM606.5,541.5l5.8-4.8l3.8,5l-5.6,4.9zM464.8,673.6l5.6-4.9l4,3.9l-5.6,4.9zM484.8,656l5.6-4.9l3.9,4l-5.6,4.9zM489.9,651.6l5.6-4.9l3.8,4l-5.6,4.9zM499.9,642.8l5.6-4.9l3.8,4.1l-5.6,4.9zM524.9,620.8l5.6-4.9l3.7,4.2l-5.6,4.9zM595,559.3l5.6-4.9l3.4,4.4l-5.6,4.9zM498.3,650.8l5.6-4.9l3.8,4.1l-5.6,4.9zM603.1,558.8l5.6-4.9l3.4,4.5l-5.6,4.9zM613,550.1l5.6-4.9l3.3,4.5l-5.6,4.9zM476.9,676.2l5.6-4.9l3.9,4l-5.5,4.9zM491.8,663.1l5.6-4.9l3.9,4l-5.5,4.9zM506.7,650l5.6-4.9l3.8,4.1l-5.5,4.9zM611.1,558.4l5.6-4.9l3.3,4.5l-5.5,4.9zM475.5,684.1l5.5-4.9l3.9,4l-5.5,4.8zM490.3,671.1l5.5-4.9l3.9,4l-5.5,4.8zM520,645l5.5-4.9l3.7,4.1l-5.5,4.8zM579.4,592.8l5.5-4.9l3.5,4.3l-5.5,4.8zM594.3,579.8l5.5-4.9l3.4,4.4l-5.5,4.8zM614.1,562.4l5.5-4.9l3.3,4.5l-5.5,4.8zM479,687.6l5.5-4.8l3.9,4l-5.5,4.8zM493.8,674.6l5.5-4.8l3.9,4l-5.5,4.8zM597.3,583.7l5.5-4.8l3.4,4.4l-5.5,4.8zM487.4,686.8l5.5-4.8l3.9,4l-5.5,4.8zM502.2,673.9l5.5-4.8l3.8,4l-5.5,4.8zM507.1,669.6l5.5-4.8l3.8,4.1l-5.5,4.8zM531.7,648l5.5-4.8l3.7,4.1l-5.5,4.8zM595.5,591.9l5.5-4.8l3.4,4.4l-5.5,4.8zM515.4,668.9l5.5-4.8l3.8,4.1l-5.5,4.8zM525.2,660.3l5.5-4.8l3.8,4.1l-5.5,4.8zM535,651.7l5.5-4.8l3.7,4.1l-5.5,4.8zM608.4,587.2l5.5-4.8l3.4,4.4l-5.5,4.8zM613.3,582.9l5.5-4.8l3.4,4.4l-5.5,4.8zM509.1,681l5.5-4.8l3.8,4l-5.4,4.8zM518.8,672.5l5.5-4.8l3.8,4.1l-5.4,4.8zM523.7,668.2l5.5-4.8l3.8,4.1l-5.4,4.8zM548.1,646.8l5.5-4.8l3.7,4.2l-5.4,4.8zM567.6,629.7l5.5-4.8l3.6,4.3l-5.4,4.8zM611.5,591.2l5.5-4.8l3.4,4.4l-5.4,4.8zM522.2,676l5.4-4.8l5.3,5.5l-5.4,4.8zM531.9,667.5l5.4-4.8l5.1,5.4l-5.4,4.8zM536.7,663.2l5.4-4.8l5.1,5.4l-5.4,4.8zM546.5,654.7l5.4-4.8l4.9,5.3l-5.4,4.8zM551.3,650.5l5.4-4.8l4.8,5.3l-5.4,4.8zM595,612.1l5.4-4.8l4.2,5l-5.4,4.8zM624.2,586.6l5.4-4.8l3.7,4.8l-5.4,4.8zM629.1,582.3l5.4-4.8l3.6,4.7l-5.4,4.8zM550.9,659.5l5.4-4.8l5.8,5.9l-5.3,4.9zM632.3,586.6l5.4-4.8l3.9,4.8l-5.3,4.9zM528.1,691.1l5.3-4.9l3.9,4l-5.2,4.9zM546.9,673.7l5.3-4.9l3.8,4l-5.2,4.9zM551.6,669.3l5.3-4.9l3.8,4.1l-5.2,4.9zM621.9,604l5.3-4.9l3.5,4.3l-5.2,4.9zM563.1,672.2l5.2-4.8l3.8,4.1l-5.2,4.8zM623.6,616l5.2-4.8l3.5,4.3l-5.2,4.8zM561.8,680.1l5.2-4.8l3.8,4.1l-5.2,4.8zM571.1,671.5l5.2-4.8l3.8,4.1l-5.2,4.8zM575.7,667.2l5.2-4.8l3.7,4.1l-5.2,4.8zM565.2,683.8l5.2-4.8l3.8,4.1l-5.2,4.8zM579.1,670.9l5.2-4.8l3.7,4.1l-5.2,4.8zM634.5,619.4l5.2-4.8l3.5,4.3l-5.2,4.8zM643.8,610.8l5.2-4.8l3.5,4.4l-5.2,4.8zM568.6,687.4l5.2-4.8l3.8,4.1l-5.1,4.8zM573.2,683.1l5.2-4.8l3.8,4.1l-5.1,4.8zM582.4,674.6l5.2-4.8l3.7,4.1l-5.1,4.8zM623.9,636.1l5.2-4.8l3.6,4.3l-5.1,4.8zM637.7,623.3l5.2-4.8l3.5,4.3l-5.1,4.8zM562.9,699.5l5.1-4.8l3.8,4l-5.1,4.7zM576.6,686.7l5.1-4.8l3.8,4.1l-5.1,4.7zM631.7,635.7l5.1-4.8l3.5,4.3l-5.1,4.7zM566.3,703.1l5.1-4.7l3.8,4l-5.1,4.7zM580,690.4l5.1-4.7l3.8,4.1l-5.1,4.7zM634.8,639.5l5.1-4.7l3.5,4.3l-5.1,4.7zM583.3,694l5.1-4.7l5.1,5.3l-5,4.8zM592.4,685.5l5.1-4.7l4.9,5.2l-5,4.8zM597,681.3l5.1-4.7l4.8,5.2l-5,4.8zM638,643.3l5.1-4.7l4.1,4.8l-5,4.8zM583.4,702.9l5-4.8l6.1,5.9l-4.9,4.8zM610.3,677.4l5-4.8l5.4,5.5l-4.9,4.8zM650.7,639.1l5-4.8l4.4,4.9l-4.9,4.8zM580.3,717l4.9-4.8l3.9,3.9l-4.9,4.8zM606.6,691.1l4.9-4.8l3.8,4l-4.9,4.8zM628.5,669.5l4.9-4.8l3.7,4.1l-4.9,4.8zM637.2,660.9l4.9-4.8l3.7,4.2l-4.9,4.8zM646,652.3l4.9-4.8l3.7,4.2l-4.9,4.8zM600.4,711.2l4.9-4.8l3.9,4l-4.9,4.8zM590.8,727.6l4.9-4.8l3.9,4l-4.8,4.8zM599.5,719l4.9-4.8l3.9,4l-4.8,4.8zM612.5,706.2l4.9-4.8l3.8,4l-4.8,4.8zM598.7,726.8l4.8-4.8l3.9,4l-4.8,4.8zM650.5,675.7l4.8-4.8l3.7,4.2l-4.8,4.8zM606.5,726.1l4.8-4.8l3.9,4l-4.8,4.7zM610.8,721.9l4.8-4.8l3.9,4l-4.8,4.7zM653.8,679.4l4.8-4.8l3.7,4.2l-4.8,4.7zM666.8,666.7l4.8-4.8l3.6,4.2l-4.8,4.7zM609.9,729.7l4.8-4.7l3.9,4l-4.8,4.7zM644.3,695.8l4.8-4.7l3.7,4.1l-4.8,4.7zM617.7,729l4.8-4.7l3.9,4l-4.8,4.7zM616.9,736.8l4.8-4.7l3.9,4l-4.8,4.7zM628.7,731.9l4.8-4.7l6.8,6.4l-4.6,4.8zM626.8,746.4l4.6-4.8l4,3.9l-4.6,4.8zM676.1,695.1l4.6-4.8l3.8,4.1l-4.6,4.8zM680.3,690.8l4.6-4.8l3.8,4.1l-4.6,4.8zM638.6,741.3l4.6-4.8l3.9,3.9l-4.6,4.8zM675.4,703l4.6-4.8l3.8,4.1l-4.6,4.8zM679.5,698.7l4.6-4.8l3.8,4.1l-4.6,4.8zM683.6,694.5l4.6-4.8l3.8,4.1l-4.6,4.8zM700,677.4l4.6-4.8l3.7,4.2l-4.6,4.8zM633.9,753.3l4.6-4.8l4,3.9l-4.6,4.7zM637.5,756.8l4.6-4.7l4,3.9l-4.5,4.7zM645.1,756.1l4.5-4.7l3.9,3.9l-4.5,4.7zM685.6,713.9l4.5-4.7l3.8,4.1l-4.5,4.7zM693.7,705.5l4.5-4.7l3.8,4.1l-4.5,4.7zM705.9,692.8l4.5-4.7l3.7,4.2l-4.5,4.7zM640.5,768l4.5-4.7l4,3.9l-4.5,4.7zM660.7,747l4.5-4.7l3.9,4l-4.5,4.7zM705.2,700.7l4.5-4.7l3.7,4.2l-4.5,4.7zM644.1,771.5l4.5-4.7l4,3.9l-4.5,4.7zM660.2,754.7l4.5-4.7l3.9,4l-4.5,4.7zM664.2,750.5l4.5-4.7l3.9,4l-4.5,4.7zM684.4,729.6l4.5-4.7l3.8,4.1l-4.5,4.7zM647.6,775l4.5-4.7l4,3.9l-4.5,4.7zM699.8,720.7l4.5-4.7l3.8,4.1l-4.5,4.7zM683.2,745.1l4.5-4.7l3.8,4l-4.5,4.6zM699.2,728.5l4.5-4.7l3.8,4.1l-4.5,4.6zM715.2,711.8l4.5-4.7l3.7,4.2l-4.5,4.6zM662.5,773.5l4.5-4.6l6.6,6.1l-4.3,4.7zM666.5,769.4l4.5-4.6l6.5,6l-4.3,4.7zM674.5,761.1l4.5-4.6l6.2,5.9l-4.3,4.7zM690.5,744.5l4.5-4.6l5.7,5.5l-4.3,4.7zM694.5,740.4l4.5-4.6l5.5,5.5l-4.3,4.7zM698.5,736.2l4.5-4.6l5.4,5.4l-4.3,4.7zM702.5,732.1l4.5-4.6l5.3,5.3l-4.3,4.7zM718.5,715.5l4.5-4.6l4.7,4.9l-4.3,4.7zM664.8,783.4l4.3-4.7l4,3.9l-4.3,4.7zM668.7,779.2l4.3-4.7l4,3.9l-4.3,4.7zM695.8,749.6l4.3-4.7l3.9,4l-4.3,4.7zM718.6,732.1l4.3-4.7l3.8,4l-4.3,4.7zM706.6,752.5l4.3-4.7l3.9,4l-4.3,4.7zM714.3,744.1l4.3-4.7l3.9,4l-4.3,4.7zM671.8,797.9l4.3-4.7l4,3.9l-4.3,4.7zM675.6,793.7l4.3-4.7l4,3.9l-4.3,4.7zM679.5,789.5l4.3-4.7l4,3.9l-4.3,4.7zM683.3,785.4l4.3-4.7l4,3.9l-4.3,4.7zM686.9,788.8l4.3-4.7l4,3.9l-4.3,4.7zM702.2,772.1l4.3-4.7l3.9,4l-4.3,4.7zM706,767.9l4.3-4.7l3.9,4l-4.3,4.7zM732.7,738.7l4.3-4.7l3.8,4.1l-4.3,4.7zM679,804.8l4.3-4.7l4,3.9l-4.3,4.6zM686.6,796.4l4.3-4.7l4,3.9l-4.3,4.6zM694.2,788.1l4.3-4.7l4,3.9l-4.3,4.6zM713.3,767.3l4.3-4.7l3.9,4l-4.3,4.6zM736.2,742.3l4.3-4.7l3.8,4.1l-4.3,4.6zM690.2,799.9l4.3-4.6l4,3.9l-4.2,4.6zM694,795.8l4.3-4.6l4,3.9l-4.2,4.6zM705.4,783.3l4.3-4.6l3.9,3.9l-4.2,4.6zM720.6,766.7l4.3-4.6l3.9,4l-4.2,4.6zM735.8,750.1l4.3-4.6l3.8,4.1l-4.2,4.6zM690,807.5l4.2-4.6l4,3.9l-4.2,4.6zM739.2,753.7l4.2-4.6l3.8,4.1l-4.2,4.6zM704.7,806.2l4.2-4.6l4,3.9l-4.2,4.6zM719.7,789.7l4.2-4.6l3.9,4l-4.2,4.6zM731,777.4l4.2-4.6l3.9,4l-4.2,4.6zM708.1,809.6l4.2-4.6l6.1,5.6l-4.1,4.7zM717.4,818.1l4.1-4.6l4,3.8l-4.1,4.6zM721.1,814l4.1-4.6l4,3.9l-4.1,4.6zM735.6,797.4l4.1-4.6l4,3.9l-4.1,4.6zM739.3,793.2l4.1-4.6l4,3.9l-4.1,4.6zM742.9,789.1l4.1-4.6l4,3.9l-4.1,4.6zM750.2,780.8l4.1-4.6l3.9,4l-4.1,4.6zM717.4,825.7l4.1-4.6l4,3.8l-4.1,4.6zM731.9,809.1l4.1-4.6l4,3.9l-4.1,4.6zM717.4,833.2l4.1-4.6l4.1,3.8l-4,4.6zM728.3,820.8l4.1-4.6l4,3.9l-4,4.6zM731.9,824.3l4-4.6l4,3.9l-4,4.6zM728.2,835.9l4-4.6l4,3.8l-4,4.6zM739.1,823.6l4-4.6l4,3.9l-4,4.6zM742.7,819.5l4-4.6l4,3.9l-4,4.6zM757.1,803.1l4-4.6l3.9,3.9l-4,4.6zM735.5,842.8l4-4.6l4,3.9l-4,4.6zM742.7,842.1l4-4.6l4,3.9l-4,4.5zM753.3,844.9l4-4.5l5.2,4.8l-3.9,4.6zM775.7,836.4l3.9-4.6l4,3.9l-3.9,4.5zM789.9,842.7l3.9-4.5l4,3.9l-3.9,4.5zM807.4,845.1l3.9-4.5l4,3.9l-3.8,4.5zM763.1,912.1l3.8-4.5l4.1,3.8l-3.8,4.5zM807.7,860.2l3.8-4.5l4,3.9l-3.8,4.5zM759.9,923.4l3.8-4.5l4.8,4.3l-3.8,4.5zM764.6,934.6l3.8-4.5l4.1,3.8l-3.8,4.5zM828.8,858.9l3.8-4.5l4,3.9l-3.8,4.5zM778.4,926.1l3.8-4.5l4.1,3.8l-3.8,4.4zM781.8,922.1l3.8-4.5l4.1,3.8l-3.8,4.4zM795.3,906.2l3.8-4.5l4,3.8l-3.8,4.4zM808.8,890.3l3.8-4.5l4,3.9l-3.8,4.4zM815.7,889.8l3.8-4.4l4,3.9l-3.8,4.4zM849.6,857.6l3.8-4.4l3.9,4l-3.8,4.4zM799.4,924.4l3.8-4.4l4.1,3.8l-3.7,4.4zM806.1,916.4l3.8-4.4l4,3.9l-3.7,4.4zM806.4,923.8l3.7-4.4l4,3.8l-3.7,4.4zM856.8,872.1l3.7-4.4l3.9,4l-3.7,4.4zM820.3,922.8l3.7-4.4l4,3.9l-3.7,4.4zM847,891.4l3.7-4.4l4,3.9l-3.7,4.4zM863.6,871.7l3.7-4.4l3.9,4l-3.7,4.4zM834.1,921.9l3.7-4.4l4,3.9l-3.7,4.4z"/>
<path fill="#15ffe2" d="M468.9,357.8l7.1-5.7l3.2,4.6l-7.1,5.7zM462,376l7-5.7l3.3,4.5l-7,5.6zM465,380l7-5.6l3.2,4.5l-7,5.6zM461.7,389.1l7-5.6l3.3,4.5l-7,5.6zM486.6,369l7-5.6l3.2,4.6l-7,5.6zM446,408.1l7-5.6l3.4,4.4l-6.9,5.6zM449,412l6.9-5.6l3.4,4.4l-6.9,5.5zM476.7,396.1l6.9-5.5l3.2,4.5l-6.9,5.5zM455.1,419.9l6.9-5.5l3.4,4.4l-6.8,5.5zM482.3,417.1l6.8-5.5l3.3,4.5l-6.7,5.4zM488.4,412.3l6.8-5.5l3.2,4.5l-6.7,5.4zM497.3,411.4l6.7-5.4l3.2,4.6l-6.7,5.4zM506.2,410.7l6.7-5.4l3.2,4.6l-6.7,5.4zM518.2,401l6.7-5.4l3.1,4.6l-6.7,5.4zM521,405.1l6.7-5.4l3.1,4.6l-6.7,5.4zM488.2,438l6.7-5.4l3.3,4.5l-6.6,5.3zM503,432.4l6.6-5.3l3.2,4.5l-6.6,5.3zM508.9,427.7l6.6-5.3l3.2,4.6l-6.6,5.3zM505.9,436.5l6.6-5.3l2.9,4.3l-6.6,5.2zM511.8,431.7l6.6-5.3l2.9,4.3l-6.6,5.2zM520.3,430.8l6.6-5.2l3.1,4.6l-6.6,5.2zM534.9,425.6l6.6-5.2l3.1,4.7l-6.6,5.2zM502.5,457.6l6.6-5.2l3.3,4.5l-6.5,5.2zM520.1,443.7l6.6-5.2l3.2,4.6l-6.5,5.2zM499.6,466.3l6.5-5.2l3.3,4.5l-6.5,5.2zM534.6,438.5l6.5-5.2l3.1,4.6l-6.5,5.2zM456.1,507.1l6.5-5.2l3.5,4.3l-6.5,5.1zM543.2,438l6.5-5.2l3.1,4.7l-6.5,5.1zM548.8,446.3l6.5-5.1l3.1,4.7l-6.4,5.1zM528.6,468.7l6.4-5.1l3.2,4.6l-6.4,5.1zM540.1,459.6l6.4-5.1l3.1,4.6l-6.4,5.1zM520.1,481.8l6.4-5.1l3.4,4.7l-6.4,5.1zM537.2,468.2l6.4-5.1l3.3,4.7l-6.4,5.1zM540.2,472.4l6.4-5.1l3.4,4.8l-6.3,5.1zM545.8,467.8l6.4-5.1l3.3,4.8l-6.3,5.1zM560.1,463.1l6.3-5.1l3.1,4.6l-6.3,5.1zM451,557.6l6.3-5.1l3.6,4.2l-6.2,5zM540.6,485.3l6.3-5.1l3.2,4.6l-6.2,5zM557.3,471.7l6.3-5.1l3.1,4.6l-6.2,5zM543.5,489.3l6.2-5l3.2,4.6l-6.2,5zM571.3,466.8l6.2-5l3.1,4.7l-6.2,5zM551.9,488.9l6.2-5l3.2,4.6l-6.2,5zM563,479.9l6.2-5l3.1,4.6l-6.2,5zM568.6,475.4l6.2-5l3.1,4.6l-6.2,5zM568.7,488.1l6.2-5l3.1,4.6l-6.1,5zM445.4,594.1l6.1-5l3.7,4.2l-6.1,4.9zM441,610.1l6.1-4.9l6.6,6.9l-6,5zM468.3,588.1l6.1-4.9l6,6.5l-6,5zM457.9,607.5l6-5l3.8,4.1l-5.9,5zM564.5,518.3l6-5l3.3,4.5l-5.9,5zM578,513.5l5.9-5l3.2,4.5l-5.9,5zM588.7,504.6l5.9-5l3.2,4.6l-5.9,5zM448.8,628.1l5.9-5l3.8,4.1l-5.9,4.9zM452.2,631.7l5.9-4.9l3.8,4.1l-5.9,4.9zM583.9,521.5l5.9-4.9l3.2,4.5l-5.9,4.9zM589.2,517.1l5.9-4.9l3.2,4.6l-5.9,4.9zM586.8,525.6l5.9-4.9l3.2,4.5l-5.9,4.9zM592.1,521.2l5.9-4.9l3.2,4.6l-5.9,4.9zM459.1,638.9l5.9-4.9l3.8,4.1l-5.8,4.9zM464.3,634.5l5.9-4.9l3.8,4.1l-5.8,4.9zM579.3,538.4l5.9-4.9l3.3,4.5l-5.8,4.9zM472.9,633.8l5.8-4.9l3.8,4.1l-5.8,4.9zM577,546.7l5.8-4.9l3.3,4.5l-5.8,4.9zM592.6,533.7l5.8-4.9l3.2,4.6l-5.8,4.9zM603,525l5.8-4.9l3.2,4.6l-5.8,4.9zM450.4,659.2l5.8-4.9l3.9,4l-5.8,4.8zM464.2,654.1l5.8-4.8l3.8,4.1l-5.8,4.8zM484.9,636.8l5.8-4.8l3.7,4.1l-5.8,4.8zM593.3,546.1l5.8-4.8l3.3,4.5l-5.8,4.8zM598.5,541.8l5.8-4.8l3.2,4.6l-5.8,4.8zM477.8,648.9l5.8-4.8l7.6,7.6l-5.6,4.9zM503.5,627.4l5.8-4.8l6.8,7.1l-5.6,4.9zM601.3,545.8l5.8-4.8l4,5.1l-5.6,4.9zM494.9,647.2l5.6-4.9l3.8,4.1l-5.6,4.9zM504.9,638.4l5.6-4.9l3.8,4.1l-5.6,4.9zM509.9,634l5.6-4.9l3.8,4.1l-5.6,4.9zM605.1,550.5l5.6-4.9l3.3,4.5l-5.6,4.9zM488.3,659.6l5.6-4.9l3.9,4l-5.6,4.9zM513.3,637.7l5.6-4.9l3.8,4.1l-5.6,4.9zM608.1,554.5l5.6-4.9l3.3,4.5l-5.6,4.9zM496.8,658.8l5.6-4.9l3.8,4l-5.5,4.9zM501.7,654.4l5.6-4.9l3.8,4.1l-5.5,4.9zM511.7,645.7l5.6-4.9l3.8,4.1l-5.5,4.9zM581.2,584.6l5.6-4.9l3.5,4.4l-5.5,4.9zM596.2,571.5l5.6-4.9l3.4,4.4l-5.5,4.9zM510.1,653.7l5.5-4.9l3.8,4.1l-5.5,4.8zM539.8,627.6l5.5-4.9l3.7,4.2l-5.5,4.8zM599.2,575.4l5.5-4.9l3.4,4.4l-5.5,4.8zM609.1,566.8l5.5-4.9l3.4,4.5l-5.5,4.8zM503.7,666l5.5-4.8l3.8,4l-5.5,4.8zM513.5,657.3l5.5-4.8l3.8,4.1l-5.5,4.8zM518.4,653l5.5-4.8l3.8,4.1l-5.5,4.8zM543.1,631.3l5.5-4.8l3.7,4.2l-5.5,4.8zM602.3,579.4l5.5-4.8l3.4,4.4l-5.5,4.8zM482.5,691.1l5.5-4.8l3.9,4l-5.5,4.8zM521.8,656.6l5.5-4.8l3.8,4.1l-5.5,4.8zM546.4,635.1l5.5-4.8l3.7,4.2l-5.5,4.8zM520.3,664.6l5.5-4.8l3.8,4.1l-5.5,4.8zM539.9,647.4l5.5-4.8l3.7,4.2l-5.5,4.8zM504.2,685.3l5.5-4.8l3.9,4l-5.4,4.8zM543.2,651.1l5.5-4.8l3.7,4.2l-5.4,4.8zM601.7,599.7l5.5-4.8l3.4,4.4l-5.4,4.8zM606.6,595.5l5.5-4.8l3.4,4.4l-5.4,4.8zM616.3,586.9l5.5-4.8l3.4,4.4l-5.4,4.8zM626.1,578.3l5.5-4.8l3.3,4.5l-5.4,4.8zM493,701.6l5.4-4.8l5.8,5.7l-5.4,4.8zM527,671.8l5.4-4.8l5.2,5.5l-5.4,4.8zM609.6,599.3l5.4-4.8l3.9,4.9l-5.4,4.8zM614.5,595.1l5.4-4.8l3.8,4.9l-5.4,4.8zM507.7,698.1l5.4-4.8l6.8,6.5l-5.3,4.9zM512.5,693.8l5.4-4.8l6.7,6.4l-5.3,4.9zM536.5,672.4l5.4-4.8l6.1,6.1l-5.3,4.9zM555.7,655.2l5.4-4.8l5.7,5.9l-5.3,4.9zM618,599.4l5.4-4.8l4.2,5l-5.3,4.9zM532.8,686.7l5.3-4.9l3.9,4l-5.2,4.9zM537.5,682.4l5.3-4.9l3.9,4l-5.2,4.9zM542.2,678l5.3-4.9l3.9,4l-5.2,4.9zM556.2,665l5.3-4.9l3.8,4.1l-5.2,4.9zM617.2,608.4l5.3-4.9l3.5,4.3l-5.2,4.9zM536.3,690.3l5.2-4.9l3.9,4l-5.2,4.8zM541,685.9l5.2-4.9l3.9,4l-5.2,4.8zM545.6,681.6l5.2-4.9l3.8,4l-5.2,4.8zM550.3,677.2l5.2-4.9l3.8,4l-5.2,4.8zM559.7,668.6l5.2-4.9l3.8,4.1l-5.2,4.8zM629.7,603.5l5.2-4.9l3.5,4.4l-5.2,4.8zM618.9,620.4l5.2-4.8l3.6,4.3l-5.2,4.8zM632.9,607.4l5.2-4.8l3.5,4.4l-5.2,4.8zM529.4,710.3l5.2-4.8l3.9,3.9l-5.2,4.8zM543.3,697.4l5.2-4.8l3.9,4l-5.2,4.8zM547.9,693l5.2-4.8l3.9,4l-5.2,4.8zM631.4,615.6l5.2-4.8l3.5,4.3l-5.2,4.8zM574.5,675.2l5.2-4.8l3.8,4.1l-5.2,4.8zM616,636.6l5.2-4.8l3.6,4.3l-5.2,4.8zM625.3,628l5.2-4.8l3.6,4.3l-5.2,4.8zM639.1,615.1l5.2-4.8l3.5,4.4l-5.2,4.8zM628.5,631.8l5.2-4.8l3.5,4.3l-5.1,4.8zM633.1,627.6l5.2-4.8l3.5,4.3l-5.1,4.8zM572,691l5.1-4.8l3.8,4.1l-5.1,4.7zM640.8,627.1l5.1-4.8l3.5,4.3l-5.1,4.7zM593.7,677.7l5.1-4.7l3.7,4.2l-5.1,4.7zM639.4,635.2l5.1-4.7l3.5,4.3l-5.1,4.7zM653.1,622.5l5.1-4.7l3.5,4.4l-5.1,4.7zM560.6,715.1l5.1-4.7l5.4,5.5l-5,4.8zM574.2,702.4l5.1-4.7l5.2,5.4l-5,4.8zM578.8,698.2l5.1-4.7l5.1,5.3l-5,4.8zM633.4,647.5l5.1-4.7l4.2,4.9l-5,4.8zM642.6,639.1l5.1-4.7l4.1,4.8l-5,4.8zM646.2,643.4l5-4.8l4.5,5l-4.9,4.8zM659.7,630.6l5-4.8l4.2,4.8l-4.9,4.8zM668.7,622.1l5-4.8l3.9,4.7l-4.9,4.8zM584.6,712.7l4.9-4.8l3.9,4l-4.9,4.8zM589,708.4l4.9-4.8l3.9,4l-4.9,4.8zM596.9,707.6l4.9-4.8l3.9,4l-4.9,4.8zM627.5,677.5l4.9-4.8l3.8,4.1l-4.9,4.8zM640.6,664.6l4.9-4.8l3.7,4.2l-4.9,4.8zM658,647.4l4.9-4.8l3.6,4.2l-4.9,4.8zM587.3,724l4.9-4.8l3.9,4l-4.9,4.8zM591.7,719.8l4.9-4.8l3.9,4l-4.9,4.8zM656.9,655.4l4.9-4.8l3.6,4.2l-4.9,4.8zM651.5,667.7l4.9-4.8l3.7,4.2l-4.8,4.8zM664.5,654.9l4.9-4.8l3.6,4.2l-4.8,4.8zM590,735.3l4.8-4.8l3.9,3.9l-4.8,4.8zM620.3,705.5l4.8-4.8l3.8,4.1l-4.8,4.8zM637.6,688.5l4.8-4.8l3.7,4.1l-4.8,4.8zM646.2,680l4.8-4.8l3.7,4.2l-4.8,4.8zM667.8,658.7l4.8-4.8l3.6,4.2l-4.8,4.8zM672.1,654.4l4.8-4.8l3.6,4.3l-4.8,4.8zM597.9,734.6l4.8-4.8l3.9,4l-4.8,4.7zM602.2,730.4l4.8-4.8l3.9,4l-4.8,4.7zM623.7,709.1l4.8-4.8l3.8,4.1l-4.8,4.7zM675.4,658.2l4.8-4.8l3.6,4.3l-4.8,4.7zM679.7,654l4.8-4.8l3.6,4.3l-4.8,4.7zM684,649.7l4.8-4.8l3.6,4.3l-4.8,4.7zM614.2,725.4l4.8-4.7l3.9,4l-4.8,4.7zM618.5,721.2l4.8-4.7l3.8,4l-4.8,4.7zM661.4,678.9l4.8-4.7l3.7,4.2l-4.8,4.7zM670,670.5l4.8-4.7l3.6,4.2l-4.8,4.7zM596.3,750.1l4.8-4.7l3.9,3.9l-4.8,4.7zM600.6,745.9l4.8-4.7l3.9,4l-4.8,4.7zM621.1,732.6l4.8-4.7l3.8,4l-4.8,4.7zM680.8,673.8l4.8-4.7l3.6,4.3l-4.8,4.7zM685.1,669.6l4.8-4.7l3.6,4.3l-4.8,4.7zM693.6,661.2l4.8-4.7l3.6,4.3l-4.8,4.7zM645.7,715.1l4.8-4.7l6.2,6l-4.6,4.8zM688.3,673.4l4.8-4.7l4.6,5l-4.6,4.8zM626.3,754.1l4.6-4.8l4,3.9l-4.6,4.8zM630.4,749.8l4.6-4.8l4,3.9l-4.6,4.8zM621.7,766.1l4.6-4.8l4,3.9l-4.6,4.7zM695.2,689.6l4.6-4.8l3.7,4.2l-4.6,4.7zM629.3,765.3l4.6-4.7l4,3.9l-4.5,4.7zM686.3,706l4.6-4.7l3.8,4.1l-4.5,4.7zM690.4,701.8l4.6-4.7l3.8,4.1l-4.5,4.7zM636.9,764.5l4.5-4.7l4,3.9l-4.5,4.7zM710,688.6l4.5-4.7l3.7,4.2l-4.5,4.7zM648.6,759.6l4.5-4.7l3.9,3.9l-4.5,4.7zM701.2,704.9l4.5-4.7l3.7,4.1l-4.5,4.7zM656.1,758.9l4.5-4.7l3.9,4l-4.5,4.7zM696.5,717l4.5-4.7l3.8,4.1l-4.5,4.7zM663.7,758.3l4.5-4.7l3.9,4l-4.5,4.7zM695.8,724.8l4.5-4.7l3.8,4.1l-4.5,4.7zM651.1,778.5l4.5-4.7l3.9,3.9l-4.5,4.6zM667.2,761.8l4.5-4.7l3.9,4l-4.5,4.6zM671.2,757.6l4.5-4.7l3.9,4l-4.5,4.6zM646.5,790.1l4.5-4.6l7.1,6.5l-4.3,4.7zM714.5,719.6l4.5-4.6l4.8,5l-4.3,4.7zM653.2,796.1l4.3-4.7l4.1,3.8l-4.3,4.7zM715.1,728.5l4.3-4.7l3.8,4l-4.3,4.7zM668.4,786.9l4.3-4.7l4,3.9l-4.3,4.7zM676.1,778.4l4.3-4.7l4,3.9l-4.3,4.7zM680,774.2l4.3-4.7l4,3.9l-4.3,4.7zM699.3,753.2l4.3-4.7l3.9,4l-4.3,4.7zM710.9,740.5l4.3-4.7l3.9,4l-4.3,4.7zM675.9,786.1l4.3-4.7l4,3.9l-4.3,4.7zM718.2,739.9l4.3-4.7l3.9,4l-4.3,4.7zM725.9,731.5l4.3-4.7l3.8,4.1l-4.3,4.7zM714,751.9l4.3-4.7l3.9,4l-4.3,4.7zM717.8,747.7l4.3-4.7l3.9,4l-4.3,4.7zM721.6,743.5l4.3-4.7l3.9,4l-4.3,4.7zM675.4,801.3l4.3-4.7l4,3.9l-4.3,4.7zM721.3,751.2l4.3-4.7l3.9,4l-4.3,4.7zM728.9,742.9l4.3-4.7l3.8,4.1l-4.3,4.7zM690.4,792.3l4.3-4.7l4,3.9l-4.3,4.6zM720.9,759l4.3-4.7l3.9,4l-4.3,4.6zM724.7,754.8l4.3-4.7l3.9,4l-4.3,4.6zM697.8,791.6l4.3-4.6l4,3.9l-4.2,4.6zM743.4,741.8l4.3-4.6l3.8,4.1l-4.2,4.6zM686.2,811.6l4.2-4.6l4,3.9l-4.2,4.6zM697.6,799.2l4.2-4.6l4,3.9l-4.2,4.6zM731.7,762l4.2-4.6l3.9,4l-4.2,4.6zM697.3,806.8l4.2-4.6l4,3.9l-4.2,4.6zM727.6,773.8l4.2-4.6l3.9,4l-4.2,4.6zM731.3,769.7l4.2-4.6l3.9,4l-4.2,4.6zM738.9,761.5l4.2-4.6l3.8,4l-4.2,4.6zM738.6,769.2l4.2-4.6l3.9,4l-4.2,4.6zM734.4,780.9l4.2-4.6l5.3,5.1l-4.1,4.7zM742,772.7l4.2-4.6l5.1,5l-4.1,4.7zM721.1,806.4l4.1-4.7l4,3.9l-4.1,4.6zM753.9,776.6l4.1-4.6l3.9,4l-4.1,4.6zM728.3,813.3l4.1-4.6l4,3.9l-4.1,4.6zM761,776l4.1-4.6l3.9,4l-4.1,4.6zM750,796.1l4.1-4.6l4,3.9l-4,4.6zM721,836.6l4-4.6l4,3.8l-4,4.6zM735.5,820.1l4-4.6l4,3.9l-4,4.6zM739.1,816l4-4.6l4,3.9l-4,4.6zM749.9,803.7l4-4.6l4,3.9l-4,4.6zM746.3,815.4l4-4.6l4,3.9l-4,4.6zM735.5,835.2l4-4.6l4,3.9l-4,4.6zM742.6,827.1l4-4.6l4,3.9l-4,4.6zM749.8,818.9l4-4.6l4,3.9l-4,4.6zM724.7,855l4-4.6l4.1,3.8l-4,4.6zM728.3,850.9l4-4.6l4,3.8l-4,4.6zM731.9,846.8l4-4.6l4,3.8l-4,4.6zM746.2,830.5l4-4.6l4,3.9l-4,4.6zM749.8,826.4l4-4.6l4,3.9l-4,4.6zM757,818.3l4-4.6l4,3.9l-4,4.6zM735.5,850.3l4-4.6l4,3.8l-4,4.5zM764.1,817.7l4-4.6l4,3.9l-4,4.5zM767.7,813.6l4-4.6l3.9,4l-4,4.5zM742.6,857l4-4.5l5.4,4.9l-3.9,4.6zM749.8,849l4-4.5l5.2,4.8l-3.9,4.6zM756.9,840.9l4-4.5l5.1,4.7l-3.9,4.6zM765.1,841.1l3.9-4.6l4,3.9l-3.9,4.6zM765.2,848.6l3.9-4.6l4,3.9l-3.9,4.5zM751.4,872.3l3.9-4.5l4.1,3.8l-3.9,4.5zM754.9,868.3l3.9-4.5l4.1,3.8l-3.9,4.5zM772.4,855.4l3.9-4.5l4,3.9l-3.9,4.5zM779.3,847.3l3.9-4.5l4,3.9l-3.9,4.5zM772.5,862.9l3.9-4.5l4,3.9l-3.9,4.5zM776,858.9l3.9-4.5l4,3.9l-3.9,4.5zM796.9,842.2l3.9-4.5l4,3.9l-3.9,4.5zM783.2,865.8l3.9-4.5l4,3.9l-3.9,4.5zM762.9,904.7l3.8-4.5l4.1,3.8l-3.8,4.5zM780.3,892.1l3.8-4.5l4,3.8l-3.8,4.5zM783.7,888.1l3.8-4.5l4,3.9l-3.8,4.5zM800.9,875.6l3.8-4.5l4.4,4.2l-3.8,4.5zM804.4,871.6l3.8-4.5l4.4,4.2l-3.8,4.5zM784.6,903.3l3.8-4.5l4.1,3.8l-3.8,4.5zM788,899.4l3.8-4.5l4.1,3.8l-3.8,4.5zM801.6,883.4l3.8-4.5l4,3.9l-3.8,4.5zM757.8,942.6l3.8-4.5l4.1,3.7l-3.8,4.5zM764.9,942l3.8-4.5l4.1,3.8l-3.8,4.4zM845.9,846.5l3.8-4.5l3.9,4l-3.8,4.4zM819.1,885.8l3.8-4.4l4,3.9l-3.8,4.4zM825.8,877.8l3.8-4.4l4,3.9l-3.8,4.4zM792.4,924.9l3.8-4.4l4.1,3.8l-3.8,4.4zM852.9,853.6l3.8-4.4l3.9,4l-3.8,4.4zM796.1,928.3l3.8-4.4l4.1,3.8l-3.7,4.4zM836.3,880.9l3.8-4.4l4,3.9l-3.7,4.4zM816.4,912l3.7-4.4l4,3.9l-3.7,4.4zM856.6,864.6l3.7-4.4l3.9,4l-3.7,4.4zM826.7,907.6l3.7-4.4l4,3.9l-3.7,4.4zM840.1,891.8l3.7-4.4l4,3.9l-3.7,4.4zM813.6,930.7l3.7-4.4l4,3.9l-3.7,4.4zM883.6,848.1l3.7-4.4l3.9,4l-3.7,4.4zM874,874.9l3.7-4.4l3.9,4l-3.7,4.4z"/>
<path fill="#29ffce" d="M459.6,358.8l7.1-5.7l3.2,4.6l-7.1,5.7zM465.4,366.9l7.1-5.7l3.2,4.6l-7,5.7zM455.8,381.1l7-5.7l3.3,4.5l-7,5.6zM468.3,370.9l7-5.7l3.2,4.6l-7,5.6zM471.2,375l7-5.6l3.2,4.6l-7,5.6zM474.1,379l7-5.6l3.2,4.6l-7,5.6zM464.6,393.1l7-5.6l3.3,4.5l-6.9,5.6zM489.5,373.1l7-5.6l3.2,4.6l-6.9,5.6zM461.4,402.1l6.9-5.6l3.3,4.5l-6.9,5.5zM498.5,372.2l6.9-5.6l3.1,4.6l-6.9,5.5zM489,386.2l6.9-5.5l3.2,4.6l-6.9,5.5zM482.5,404.2l6.8-5.5l3.2,4.5l-6.8,5.5zM494.8,394.4l6.8-5.5l3.2,4.6l-6.8,5.5zM485.5,408.2l6.8-5.5l3.2,4.5l-6.8,5.5zM497.6,398.4l6.8-5.5l3.2,4.6l-6.8,5.5zM503.7,393.6l6.8-5.5l3.2,4.6l-6.8,5.5zM512.6,392.8l6.8-5.5l3.1,4.6l-6.7,5.4zM509.4,401.8l6.7-5.4l3.2,4.6l-6.7,5.4zM520.7,418.1l6.6-5.3l3.1,4.6l-6.6,5.3zM514.4,435.5l6.6-5.2l3.2,4.6l-6.6,5.2zM526.2,426.2l6.6-5.2l3.1,4.6l-6.6,5.2zM511.4,444.3l6.6-5.2l3.2,4.6l-6.6,5.2zM523.1,434.9l6.6-5.2l3.1,4.6l-6.6,5.2zM537.7,429.7l6.6-5.2l3.1,4.7l-6.5,5.2zM543.5,425.1l6.6-5.2l3.1,4.7l-6.5,5.2zM546.3,429.3l6.5-5.2l3.1,4.7l-6.5,5.2zM520,456.5l6.5-5.2l3.2,4.6l-6.5,5.1zM511.3,469.7l6.5-5.1l3.2,4.5l-6.5,5.1zM546,442.2l6.5-5.1l3.1,4.7l-6.5,5.1zM528.8,481.4l6.4-5.1l3.5,4.8l-6.3,5.1zM562.9,454.3l6.4-5.1l3.2,4.7l-6.3,5.1zM554.5,467.6l6.3-5.1l3.1,4.6l-6.3,5.1zM574.1,470.9l6.2-5l3.1,4.7l-6.2,5zM571.4,479.5l6.2-5l3.1,4.6l-6.2,5zM563.2,492.6l6.2-5l3.2,4.6l-6.1,5zM574.2,483.7l6.2-5l3.1,4.6l-6.1,5zM566.3,509.2l6.1-4.9l3.8,5.1l-6,5zM577.1,500.4l6.1-4.9l3.6,5l-6,5zM548.5,531.7l6-5l3.4,4.4l-5.9,5zM475.2,606l5.9-5l3.7,4.1l-5.9,4.9zM586.3,513.1l5.9-5l3.2,4.6l-5.9,4.9zM504.9,587.6l5.9-4.9l3.6,4.3l-5.9,4.9zM597.3,516.8l5.9-4.9l3.2,4.6l-5.9,4.9zM602.5,512.4l5.9-4.9l3.2,4.6l-5.9,4.9zM605.4,516.5l5.9-4.9l3.2,4.6l-5.8,4.9zM457.3,646.9l5.8-4.9l3.8,4l-5.8,4.9zM479.7,641.1l5.8-4.8l3.8,4.1l-5.8,4.8zM495.2,628.2l5.8-4.8l3.7,4.2l-5.8,4.8zM462.3,661.8l5.8-4.8l8,8l-5.6,4.9zM498.4,631.7l5.8-4.8l7,7.2l-5.6,4.9zM468.4,677.1l5.6-4.9l4,3.9l-5.6,4.9zM473.4,672.7l5.6-4.9l3.9,4l-5.6,4.9zM483.3,663.9l5.6-4.9l3.9,4l-5.6,4.9zM471.9,680.6l5.6-4.9l3.9,3.9l-5.5,4.9zM616,554.1l5.6-4.9l3.3,4.5l-5.5,4.9zM604.2,571.1l5.5-4.9l3.4,4.4l-5.5,4.8zM483.9,683.3l5.5-4.8l3.9,4l-5.5,4.8zM626.9,557.7l5.5-4.8l3.3,4.5l-5.5,4.8zM497.3,678.2l5.5-4.8l3.9,4l-5.5,4.8zM516.9,660.9l5.5-4.8l3.8,4.1l-5.5,4.8zM556.2,626.4l5.5-4.8l3.6,4.2l-5.5,4.8zM605.3,583.3l5.5-4.8l3.4,4.4l-5.5,4.8zM615.2,574.7l5.5-4.8l3.4,4.5l-5.5,4.8zM486.1,694.6l5.5-4.8l3.9,4l-5.5,4.8zM495.9,686l5.5-4.8l3.9,4l-5.5,4.8zM549.7,638.8l5.5-4.8l3.7,4.2l-5.5,4.8zM494.5,693.9l5.5-4.8l3.9,4l-5.4,4.8zM621.2,582.6l5.5-4.8l3.4,4.5l-5.4,4.8zM497.9,697.3l5.4-4.8l5.7,5.7l-5.4,4.8zM517.3,680.3l5.4-4.8l5.4,5.6l-5.4,4.8zM604.8,603.6l5.4-4.8l4,4.9l-5.4,4.8zM633.9,578l5.4-4.8l3.5,4.7l-5.4,4.8zM522.1,685.2l5.4-4.8l6.4,6.3l-5.3,4.9zM627.6,590.9l5.4-4.8l4,4.9l-5.3,4.9zM631.3,595.3l5.3-4.9l3.5,4.4l-5.2,4.9zM640.7,586.6l5.3-4.9l3.4,4.4l-5.2,4.9zM517.6,707.6l5.2-4.9l4,3.9l-5.2,4.8zM639.1,594.9l5.2-4.9l3.5,4.4l-5.2,4.8zM530.5,702.4l5.2-4.8l3.9,4l-5.2,4.8zM539.8,693.8l5.2-4.8l3.9,4l-5.2,4.8zM544.4,689.5l5.2-4.8l3.9,4l-5.2,4.8zM549.1,685.2l5.2-4.8l3.8,4l-5.2,4.8zM640.6,607l5.2-4.8l3.5,4.4l-5.2,4.8zM645.3,602.7l5.2-4.8l3.5,4.4l-5.2,4.8zM629.9,623.7l5.2-4.8l3.5,4.3l-5.2,4.8zM648.4,606.6l5.2-4.8l3.5,4.4l-5.2,4.8zM559.4,695.9l5.2-4.8l3.8,4l-5.1,4.8zM619.3,640.4l5.2-4.8l3.6,4.3l-5.1,4.8zM642.3,619l5.2-4.8l3.5,4.4l-5.1,4.8zM651.5,610.5l5.2-4.8l3.5,4.4l-5.1,4.8zM557.2,711.6l5.1-4.7l3.9,4l-5.1,4.7zM570.9,698.9l5.1-4.7l3.8,4.1l-5.1,4.7zM616.6,656.4l5.1-4.7l3.6,4.2l-5.1,4.7zM648.6,626.8l5.1-4.7l3.5,4.4l-5.1,4.7zM551.4,723.5l5.1-4.7l5.6,5.5l-5,4.8zM565.1,710.9l5.1-4.7l5.4,5.4l-5,4.8zM647.1,634.8l5.1-4.7l4,4.8l-5,4.8zM656.2,626.4l5.1-4.7l3.8,4.7l-5,4.8zM569.9,715.7l5-4.8l6.4,6.1l-4.9,4.8zM601.3,685.9l5-4.8l5.6,5.7l-4.9,4.8zM641.7,647.6l5-4.8l4.6,5.1l-4.9,4.8zM655.2,634.9l5-4.8l4.3,4.9l-4.9,4.8zM593.4,704.1l4.9-4.8l3.9,4l-4.9,4.8zM583.8,720.5l4.9-4.8l3.9,3.9l-4.9,4.8zM652.6,659.7l4.9-4.8l3.7,4.2l-4.9,4.8zM670,642.6l4.9-4.8l3.6,4.3l-4.9,4.8zM668.9,650.7l4.9-4.8l3.6,4.3l-4.8,4.8zM659.2,667.2l4.8-4.8l3.7,4.2l-4.8,4.8zM680.8,645.9l4.8-4.8l3.6,4.3l-4.8,4.8zM615.1,717.6l4.8-4.8l3.8,4l-4.8,4.7zM671.1,662.5l4.8-4.8l3.6,4.2l-4.8,4.7zM601.4,738.1l4.8-4.7l3.9,4l-4.8,4.7zM605.7,733.9l4.8-4.7l3.9,4l-4.8,4.7zM682.9,657.8l4.8-4.7l3.6,4.3l-4.8,4.7zM609.1,737.4l4.8-4.7l3.9,4l-4.8,4.7zM622,724.8l4.8-4.7l3.8,4l-4.8,4.7zM669,678.5l4.8-4.7l3.7,4.2l-4.8,4.7zM673.3,674.2l4.8-4.7l3.6,4.2l-4.8,4.7zM677.6,670l4.8-4.7l3.6,4.2l-4.8,4.7zM690.4,657.4l4.8-4.7l3.6,4.3l-4.8,4.7zM612.6,741l4.8-4.7l3.9,4l-4.8,4.7zM697.9,657l4.8-4.7l3.6,4.3l-4.8,4.7zM671.2,690.1l4.8-4.7l5.2,5.4l-4.6,4.8zM675.5,685.9l4.8-4.7l5.1,5.3l-4.6,4.8zM684,677.5l4.8-4.7l4.8,5.1l-4.6,4.8zM622.7,750.6l4.6-4.8l4,3.9l-4.6,4.8zM684.4,686.5l4.6-4.8l3.7,4.1l-4.6,4.8zM691.8,685.9l4.6-4.8l3.7,4.2l-4.6,4.8zM625.7,761.8l4.6-4.8l4,3.9l-4.6,4.7zM638,749.1l4.6-4.8l3.9,3.9l-4.6,4.7zM707.4,676.9l4.6-4.8l3.7,4.2l-4.6,4.7zM633.4,761l4.6-4.7l4,3.9l-4.5,4.7zM632.9,768.7l4.5-4.7l4,3.9l-4.5,4.7zM641,760.3l4.5-4.7l3.9,3.9l-4.5,4.7zM636.5,772.2l4.5-4.7l4,3.9l-4.5,4.7zM644.5,763.8l4.5-4.7l3.9,3.9l-4.5,4.7zM713.3,692.3l4.5-4.7l3.7,4.2l-4.5,4.7zM640,775.7l4.5-4.7l4,3.9l-4.5,4.7zM648.1,767.3l4.5-4.7l3.9,3.9l-4.5,4.7zM639.6,783.3l4.5-4.7l4,3.9l-4.5,4.7zM711.9,708.1l4.5-4.7l3.7,4.2l-4.5,4.7zM715.9,704l4.5-4.7l3.7,4.2l-4.5,4.7zM711.2,716l4.5-4.7l3.7,4.1l-4.5,4.6zM642.5,794.3l4.5-4.6l7.3,6.6l-4.3,4.7zM654.5,781.8l4.5-4.6l6.9,6.3l-4.3,4.7zM670.5,765.2l4.5-4.6l6.3,6l-4.3,4.7zM688,758.1l4.3-4.7l3.9,3.9l-4.3,4.7zM711.3,732.7l4.3-4.7l3.9,4l-4.3,4.7zM719,724.3l4.3-4.7l3.8,4.1l-4.3,4.7zM722.9,720l4.3-4.7l3.8,4.1l-4.3,4.7zM726.8,715.8l4.3-4.7l3.8,4.1l-4.3,4.7zM730.6,711.6l4.3-4.7l3.8,4.1l-4.3,4.7zM668.2,794.5l4.3-4.7l4,3.8l-4.3,4.7zM694.8,772.8l4.3-4.7l3.9,3.9l-4.3,4.7zM740.8,722.5l4.3-4.7l3.8,4.1l-4.3,4.7zM679.2,797.2l4.3-4.7l4,3.9l-4.3,4.7zM683,793l4.3-4.7l4,3.9l-4.3,4.7zM713.6,759.6l4.3-4.7l3.9,4l-4.3,4.7zM713,775l4.3-4.6l3.9,4l-4.2,4.6zM732,754.3l4.3-4.6l3.9,4l-4.2,4.6zM743,749.6l4.2-4.6l3.8,4.1l-4.2,4.6zM689.8,815.1l4.2-4.6l4,3.9l-4.2,4.6zM700.9,810.3l4.2-4.6l4,3.9l-4.2,4.6zM742.3,765l4.2-4.6l3.8,4l-4.2,4.6zM696.8,821.9l4.2-4.6l6.5,5.8l-4.1,4.7zM730.7,785l4.2-4.6l5.4,5.2l-4.1,4.7zM738.2,776.8l4.2-4.6l5.2,5l-4.1,4.7zM710.1,818.9l4.1-4.7l4.1,3.8l-4.1,4.6zM739.4,785.6l4.1-4.7l4,3.9l-4.1,4.6zM746.7,777.2l4.1-4.7l3.9,4l-4.1,4.6zM750.4,773.1l4.1-4.7l3.9,4l-4.1,4.6zM695.5,843l4.1-4.6l4.1,3.8l-4.1,4.6zM713.8,822.3l4.1-4.6l4,3.8l-4.1,4.6zM746.6,784.9l4.1-4.6l3.9,3.9l-4.1,4.6zM710.1,833.9l4.1-4.6l4.1,3.8l-4.1,4.6zM750.1,788.4l4.1-4.6l3.9,3.9l-4.1,4.6zM757.4,780.2l4.1-4.6l3.9,4l-4.1,4.6zM710.1,841.5l4.1-4.6l4.1,3.8l-4,4.6zM713.8,837.3l4.1-4.6l4.1,3.8l-4,4.6zM721,829.1l4.1-4.6l4,3.8l-4,4.6zM731.9,816.7l4.1-4.6l4,3.9l-4,4.6zM746.4,800.2l4.1-4.6l4,3.9l-4,4.6zM713.8,844.8l4-4.6l4.1,3.8l-4,4.6zM724.6,832.5l4-4.6l4,3.8l-4,4.6zM757.2,795.5l4-4.6l3.9,4l-4,4.6zM713.8,852.3l4-4.6l4.1,3.8l-4,4.6zM760.7,799l4-4.6l3.9,4l-4,4.6zM717.5,855.7l4-4.6l4.1,3.8l-4,4.6zM739,831.1l4-4.6l4,3.9l-4,4.6zM753.4,814.8l4-4.6l4,3.9l-4,4.6zM764.2,802.5l4-4.6l3.9,4l-4,4.6zM760.6,814.2l4-4.6l4,3.9l-4,4.6zM764.2,810.1l4-4.6l3.9,3.9l-4,4.6zM767.8,806l4-4.6l3.9,4l-4,4.6zM728.3,858.4l4-4.6l4.1,3.8l-4,4.5zM746.2,838l4-4.6l4,3.9l-4,4.5zM739.1,853.7l4-4.5l4,3.8l-4,4.5zM742.7,849.6l4-4.5l4,3.9l-4,4.5zM749.8,841.5l4-4.5l4,3.9l-4,4.5zM760.5,829.3l4-4.5l4,3.9l-4,4.5zM767.7,821.2l4-4.5l4,3.9l-4,4.5zM771.2,817.1l4-4.5l3.9,4l-4,4.5zM724.8,877.3l4-4.5l5.7,5l-3.9,4.6zM760.5,836.8l4-4.5l5,4.7l-3.9,4.6zM771.1,824.7l4-4.5l4.8,4.6l-3.9,4.6zM747.6,861.5l3.9-4.6l4.1,3.8l-3.9,4.6zM772.1,832.9l3.9-4.6l4,3.9l-3.9,4.6zM775.6,828.8l3.9-4.6l4,3.9l-3.9,4.6zM744.2,873l3.9-4.6l4.1,3.8l-3.9,4.5zM751.2,864.9l3.9-4.6l4.1,3.8l-3.9,4.5zM775.8,843.9l3.9-4.5l4,3.9l-3.9,4.5zM779.2,839.8l3.9-4.5l4,3.9l-3.9,4.5zM782.7,835.8l3.9-4.5l4,3.9l-3.9,4.5zM762,867.6l3.9-4.5l4.1,3.8l-3.9,4.5zM765.4,863.5l3.9-4.5l4,3.8l-3.9,4.5zM775.9,851.4l3.9-4.5l4,3.9l-3.9,4.5zM762.1,875l3.9-4.5l4.1,3.8l-3.9,4.5zM782.9,850.8l3.9-4.5l4,3.9l-3.9,4.5zM769.2,874.4l3.9-4.5l4,3.8l-3.9,4.5zM790,850.2l3.9-4.5l4,3.9l-3.9,4.5zM762.5,889.9l3.9-4.5l4.1,3.8l-3.9,4.5zM772.8,877.8l3.9-4.5l4,3.8l-3.9,4.5zM762.7,897.3l3.9-4.5l4.1,3.8l-3.8,4.5zM769.6,889.3l3.9-4.5l4.1,3.8l-3.8,4.5zM779.9,877.2l3.9-4.5l4,3.9l-3.8,4.5zM790.2,865.2l3.9-4.5l4,3.9l-3.8,4.5zM797.1,857.2l3.9-4.5l4,3.9l-3.8,4.5zM763.3,919.4l3.8-4.5l4.8,4.3l-3.8,4.5zM814.6,859.6l3.8-4.5l4.3,4.2l-3.8,4.5zM818,855.7l3.8-4.5l4.3,4.2l-3.8,4.5zM811.7,871.4l3.8-4.5l4,3.9l-3.8,4.5zM768,930.7l3.8-4.5l4.1,3.8l-3.8,4.5zM771.4,926.7l3.8-4.5l4.1,3.8l-3.8,4.5zM781.5,914.7l3.8-4.5l4.1,3.8l-3.8,4.5zM822.1,866.9l3.8-4.5l4,3.9l-3.8,4.5zM825.5,862.9l3.8-4.5l4,3.9l-3.8,4.5zM805.4,894.2l3.8-4.5l4,3.9l-3.8,4.4zM782,929.4l3.8-4.4l4.1,3.8l-3.8,4.4zM812.4,893.7l3.8-4.4l4,3.9l-3.8,4.4zM859.5,838.2l3.8-4.4l3.9,4l-3.8,4.4zM789.1,928.9l3.8-4.4l4.1,3.8l-3.8,4.4zM799.1,917l3.8-4.4l4,3.8l-3.8,4.4zM842.8,865.5l3.8-4.4l3.9,4l-3.8,4.4zM846.2,861.5l3.8-4.4l3.9,4l-3.8,4.4zM859.6,845.7l3.8-4.4l3.9,4l-3.8,4.4zM823.1,904.1l3.7-4.4l4,3.9l-3.7,4.4zM863.5,864.2l3.7-4.4l3.9,4l-3.7,4.4zM860.3,875.7l3.7-4.4l3.9,4l-3.7,4.4zM854,898.4l3.7-4.4l4,3.9l-3.7,4.4zM864,886.6l3.7-4.4l3.9,4l-3.7,4.4z"/>
<path fill="#3effb9" d="M474.6,365.9l7-5.7l3.2,4.6l-7,5.6zM483.8,364.9l7-5.6l3.2,4.6l-7,5.6zM467.9,384.1l7-5.6l3.2,4.5l-7,5.6zM480.4,374l7-5.6l3.2,4.6l-7,5.6zM495.7,368.1l7-5.6l3.1,4.6l-6.9,5.6zM473.8,392.1l6.9-5.6l3.2,4.5l-6.9,5.5zM492.3,377.2l6.9-5.6l3.2,4.6l-6.9,5.5zM501.3,376.3l6.9-5.5l3.1,4.6l-6.9,5.5zM504.1,380.4l6.9-5.5l3.1,4.6l-6.8,5.5zM470.3,414l6.8-5.5l3.3,4.5l-6.8,5.5zM488.6,399.3l6.8-5.5l3.2,4.6l-6.8,5.5zM500.5,402.5l6.8-5.5l3.2,4.6l-6.7,5.4zM512.2,405.8l6.7-5.4l3.2,4.6l-6.7,5.4zM515.1,409.9l6.7-5.4l3.1,4.6l-6.7,5.4zM523.9,409.3l6.7-5.4l3.1,4.6l-6.6,5.3zM529.5,417.5l6.6-5.3l3,4.5l-6.6,5.2zM535.4,412.8l6.6-5.3l3,4.6l-6.6,5.2zM532.1,421.5l6.6-5.2l3.1,4.7l-6.6,5.2zM529,430.3l6.6-5.2l3.1,4.6l-6.6,5.2zM526,439l6.6-5.2l3.1,4.6l-6.5,5.2zM531.5,460l6.5-5.1l3.2,4.6l-6.4,5.1zM537.3,455.5l6.5-5.1l3.1,4.6l-6.4,5.1zM560.1,450.1l6.4-5.1l3.1,4.7l-6.4,5.1zM562.9,467.2l6.3-5.1l3.1,4.6l-6.2,5zM565.8,471.3l6.2-5l3.1,4.6l-6.2,5zM565.8,484l6.2-5l3.1,4.6l-6.2,5zM446.5,605.7l6.1-4.9l6.5,6.8l-6,5zM582.6,496l6.1-4.9l3.4,4.9l-6,5zM588,491.6l6.1-4.9l3.3,4.8l-6,5zM585.8,500.5l6-5l3.2,4.6l-5.9,5zM591.5,508.6l5.9-5l3.2,4.6l-5.9,4.9zM605,503.9l5.9-4.9l3.1,4.6l-5.9,4.9zM443.4,652l5.9-4.9l3.9,4l-5.8,4.9zM486.7,628.8l5.8-4.9l3.7,4.1l-5.8,4.8zM600.7,533.4l5.8-4.9l3.2,4.6l-5.8,4.8zM469.8,669.2l5.6-4.9l3.9,4l-5.6,4.9zM479.8,660.4l5.6-4.9l3.9,4l-5.6,4.9zM615.1,541.7l5.6-4.9l3.3,4.5l-5.6,4.9zM493.3,655.2l5.6-4.9l3.8,4l-5.6,4.9zM618,545.7l5.6-4.9l3.3,4.5l-5.6,4.9zM601.1,567.2l5.6-4.9l3.4,4.4l-5.5,4.9zM500.2,662.4l5.5-4.9l3.8,4l-5.5,4.8zM619,558.1l5.5-4.9l3.3,4.5l-5.5,4.8zM488.9,678.9l5.5-4.8l3.9,4l-5.5,4.8zM607.2,575l5.5-4.8l3.4,4.4l-5.5,4.8zM622,562.1l5.5-4.8l3.3,4.5l-5.5,4.8zM610.3,579l5.5-4.8l3.4,4.4l-5.5,4.8zM620.1,570.4l5.5-4.8l3.3,4.5l-5.5,4.8zM625,566.1l5.5-4.8l3.3,4.5l-5.5,4.8zM500.7,681.7l5.5-4.8l3.9,4l-5.5,4.8zM510.5,673.2l5.5-4.8l3.8,4.1l-5.5,4.8zM618.2,578.6l5.5-4.8l3.4,4.5l-5.5,4.8zM623.1,574.4l5.5-4.8l3.3,4.5l-5.5,4.8zM499.3,689.6l5.5-4.8l3.9,4l-5.4,4.8zM528.6,663.9l5.5-4.8l3.8,4.1l-5.4,4.8zM507.6,688.8l5.4-4.8l5.5,5.6l-5.4,4.8zM619.3,590.8l5.4-4.8l3.8,4.8l-5.4,4.8zM546.1,663.8l5.4-4.8l5.9,6l-5.3,4.9zM613.2,603.7l5.4-4.8l4.3,5.1l-5.3,4.9zM622.8,595.1l5.4-4.8l4.1,4.9l-5.3,4.9zM641.9,578l5.4-4.8l3.7,4.7l-5.3,4.9zM509.4,708.5l5.3-4.9l4,3.9l-5.2,4.9zM514,704.1l5.3-4.9l4,3.9l-5.2,4.9zM522.3,703.3l5.2-4.9l3.9,3.9l-5.2,4.8zM620.4,612.2l5.2-4.9l3.5,4.3l-5.2,4.8zM634.4,599.2l5.2-4.9l3.5,4.4l-5.2,4.8zM553.7,680.8l5.2-4.8l3.8,4l-5.2,4.8zM637.5,603.1l5.2-4.8l3.5,4.4l-5.2,4.8zM642.2,598.8l5.2-4.8l3.5,4.4l-5.2,4.8zM552.5,688.7l5.2-4.8l3.8,4l-5.2,4.8zM617.5,628.5l5.2-4.8l3.6,4.3l-5.2,4.8zM622.1,624.2l5.2-4.8l3.6,4.3l-5.2,4.8zM560.6,688l5.2-4.8l3.8,4.1l-5.2,4.8zM653,602.3l5.2-4.8l3.4,4.4l-5.2,4.8zM554.8,700.2l5.2-4.8l3.9,4l-5.1,4.8zM646.9,614.7l5.2-4.8l3.5,4.4l-5.1,4.8zM650,618.6l5.1-4.8l3.5,4.4l-5.1,4.7zM654.6,614.4l5.1-4.8l3.5,4.4l-5.1,4.7zM659.2,610.1l5.1-4.8l3.4,4.4l-5.1,4.7zM644,631l5.1-4.7l3.5,4.3l-5.1,4.7zM587.9,689.7l5.1-4.7l5,5.2l-5,4.8zM560.9,724.2l5-4.8l6.6,6.3l-4.9,4.8zM578.9,707.2l5-4.8l6.2,6l-4.9,4.8zM587.9,698.7l5-4.8l6,5.9l-4.9,4.8zM592.4,694.4l5-4.8l5.9,5.8l-4.9,4.8zM632.8,656.1l5-4.8l4.8,5.2l-4.9,4.8zM637.2,651.9l5-4.8l4.7,5.1l-4.9,4.8zM664.2,626.4l5-4.8l4,4.7l-4.9,4.8zM650.4,647.9l4.9-4.8l3.6,4.2l-4.9,4.8zM575.1,729.1l4.9-4.8l4,3.9l-4.9,4.8zM579.4,724.8l4.9-4.8l3.9,3.9l-4.9,4.8zM592.5,711.9l4.9-4.8l3.9,4l-4.9,4.8zM653.7,651.7l4.9-4.8l3.6,4.2l-4.9,4.8zM671.1,634.5l4.9-4.8l3.6,4.3l-4.9,4.8zM675.5,630.2l4.9-4.8l3.6,4.3l-4.9,4.8zM679.9,625.9l4.9-4.8l3.5,4.3l-4.9,4.8zM574.3,736.9l4.9-4.8l4,3.9l-4.9,4.8zM583,728.3l4.9-4.8l3.9,3.9l-4.9,4.8zM596,715.5l4.9-4.8l3.9,4l-4.9,4.8zM665.6,646.9l4.9-4.8l3.6,4.3l-4.9,4.8zM595.2,723.3l4.9-4.8l3.9,4l-4.8,4.8zM608.2,710.5l4.9-4.8l3.8,4l-4.8,4.8zM655.9,663.5l4.9-4.8l3.7,4.2l-4.8,4.8zM660.2,659.2l4.9-4.8l3.6,4.2l-4.8,4.8zM677.6,642.1l4.9-4.8l3.6,4.3l-4.8,4.8zM577.1,748.1l4.8-4.8l4,3.9l-4.8,4.8zM594.3,731.1l4.8-4.8l3.9,4l-4.8,4.8zM589.2,743.1l4.8-4.8l3.9,3.9l-4.8,4.7zM588.5,750.8l4.8-4.7l4,3.9l-4.8,4.7zM678.6,662l4.8-4.7l3.6,4.3l-4.8,4.7zM579.2,766.9l4.8-4.7l4,3.9l-4.8,4.7zM592,754.3l4.8-4.7l4,3.9l-4.8,4.7zM604.9,741.6l4.8-4.7l3.9,4l-4.8,4.7zM681.8,665.8l4.8-4.7l3.6,4.3l-4.8,4.7zM686.1,661.6l4.8-4.7l3.6,4.3l-4.8,4.7zM591.3,762l4.8-4.7l4,3.9l-4.8,4.7zM599.8,753.6l4.8-4.7l3.9,3.9l-4.8,4.7zM604.1,749.4l4.8-4.7l3.9,4l-4.8,4.7zM689.3,665.4l4.8-4.7l3.6,4.3l-4.8,4.7zM607.4,752.7l4.8-4.7l7.5,6.9l-4.6,4.8zM611.7,748.6l4.8-4.7l7.4,6.8l-4.6,4.8zM615.9,744.4l4.8-4.7l7.2,6.7l-4.6,4.8zM679.7,681.7l4.8-4.7l4.9,5.2l-4.6,4.8zM696.8,665l4.8-4.7l4.3,4.8l-4.6,4.8zM692.6,678l4.6-4.8l3.7,4.2l-4.6,4.8zM687.7,690.2l4.6-4.8l3.7,4.1l-4.6,4.8zM629.8,757.6l4.6-4.8l4,3.9l-4.6,4.7zM687,698.1l4.6-4.8l3.8,4.1l-4.6,4.7zM703.3,681.2l4.6-4.8l3.7,4.2l-4.6,4.7zM621.2,773.7l4.6-4.7l4,3.9l-4.5,4.7zM641.5,752.6l4.6-4.7l3.9,3.9l-4.5,4.7zM702.6,689.1l4.6-4.7l3.7,4.2l-4.5,4.7zM706.7,684.9l4.6-4.7l3.7,4.2l-4.5,4.7zM624.8,777.2l4.5-4.7l4,3.9l-4.5,4.7zM628.8,773l4.5-4.7l4,3.9l-4.5,4.7zM632.4,776.4l4.5-4.7l4,3.9l-4.5,4.7zM709.2,696.5l4.5-4.7l3.7,4.2l-4.5,4.7zM643.6,779.1l4.5-4.7l4,3.9l-4.5,4.7zM703.8,716.5l4.5-4.7l3.8,4.1l-4.5,4.7zM707.9,712.3l4.5-4.7l3.7,4.1l-4.5,4.7zM647.1,782.6l4.5-4.7l4,3.9l-4.5,4.6zM655.2,774.3l4.5-4.7l3.9,3.9l-4.5,4.6zM707.2,720.2l4.5-4.7l3.8,4.1l-4.5,4.6zM723.2,703.5l4.5-4.7l3.7,4.2l-4.5,4.6zM726.5,707.2l4.5-4.6l4.4,4.8l-4.3,4.7zM653,803.7l4.3-4.7l4.1,3.8l-4.3,4.7zM672,790.3l4.3-4.7l4,3.9l-4.3,4.7zM722,735.7l4.3-4.7l3.8,4l-4.3,4.7zM725.5,739.3l4.3-4.7l3.8,4.1l-4.3,4.7zM729.3,735.1l4.3-4.7l3.8,4.1l-4.3,4.7zM737,726.7l4.3-4.7l3.8,4.1l-4.3,4.7zM682.8,800.6l4.3-4.7l4,3.9l-4.3,4.6zM740,738.2l4.3-4.7l3.8,4.1l-4.3,4.6zM747.6,729.9l4.3-4.7l3.8,4.1l-4.3,4.6zM728.2,758.4l4.3-4.6l3.9,4l-4.2,4.6zM739.6,746l4.3-4.6l3.8,4.1l-4.2,4.6zM678.6,819.9l4.2-4.6l4,3.8l-4.2,4.6zM682.4,815.8l4.2-4.6l4,3.9l-4.2,4.6zM693.8,803.4l4.2-4.6l4,3.9l-4.2,4.6zM735.5,757.9l4.2-4.6l3.8,4l-4.2,4.6zM682.2,823.3l4.2-4.6l4,3.8l-4.2,4.6zM720,782.1l4.2-4.6l3.9,4l-4.2,4.6zM742.7,757.3l4.2-4.6l3.8,4.1l-4.2,4.6zM746.5,753.2l4.2-4.6l3.8,4.1l-4.2,4.6zM689.6,822.6l4.2-4.6l4,3.9l-4.2,4.6zM727.3,781.5l4.2-4.6l3.9,4l-4.2,4.6zM746.1,760.9l4.2-4.6l3.8,4.1l-4.2,4.6zM749.9,756.8l4.2-4.6l3.8,4.1l-4.2,4.6zM753.7,752.7l4.2-4.6l3.8,4.1l-4.2,4.6zM700.6,817.8l4.2-4.6l6.3,5.7l-4.1,4.7zM728.4,798l4.1-4.7l4,3.9l-4.1,4.6zM743,781.4l4.1-4.7l3.9,3.9l-4.1,4.6zM702.8,834.7l4.1-4.6l4.1,3.8l-4.1,4.6zM706.5,830.6l4.1-4.6l4.1,3.8l-4.1,4.6zM710.1,826.4l4.1-4.6l4.1,3.8l-4.1,4.6zM717.4,840.7l4-4.6l4.1,3.8l-4,4.6zM728.2,828.4l4-4.6l4,3.9l-4,4.6zM746.3,807.8l4-4.6l4,3.9l-4,4.6zM753.6,799.6l4-4.6l4,3.9l-4,4.6zM721,844.1l4-4.6l4.1,3.8l-4,4.6zM724.6,840l4-4.6l4,3.8l-4,4.6zM749.9,811.3l4-4.6l4,3.9l-4,4.6zM753.5,807.2l4-4.6l4,3.9l-4,4.6zM724.7,847.5l4-4.6l4.1,3.8l-4,4.6zM728.3,843.4l4-4.6l4,3.8l-4,4.6zM771.4,794.3l4-4.6l3.9,4l-4,4.6zM721.1,859.1l4-4.6l4.1,3.8l-4,4.6zM749.8,834l4-4.6l4,3.9l-4,4.5zM771.3,809.5l4-4.6l3.9,4l-4,4.5zM735.5,857.7l4-4.5l4,3.8l-4,4.5zM764.1,825.3l4-4.5l4,3.9l-4,4.5zM774.8,813.1l4-4.5l3.9,4l-4,4.5zM728.4,873.2l4-4.5l5.6,5l-3.9,4.6zM735.5,865.1l4-4.5l5.5,4.9l-3.9,4.6zM764,832.8l4-4.5l5,4.7l-3.9,4.6zM774.7,820.6l4-4.5l4.8,4.6l-3.9,4.6zM740.6,869.6l3.9-4.6l4.1,3.8l-3.9,4.6zM782.6,820.7l3.9-4.6l4,3.9l-3.9,4.6zM733.8,885.2l3.9-4.6l4.1,3.8l-3.9,4.5zM772.2,840.4l3.9-4.6l4,3.9l-3.9,4.5zM744.4,880.4l3.9-4.5l4.1,3.8l-3.9,4.5zM758.3,864.2l3.9-4.5l4.1,3.8l-3.9,4.5zM765.3,856.1l3.9-4.5l4,3.8l-3.9,4.5zM744.8,895.2l3.9-4.5l4.1,3.8l-3.9,4.5zM751.7,887.2l3.9-4.5l4.1,3.8l-3.9,4.5zM779.5,854.8l3.9-4.5l4,3.9l-3.9,4.5zM800.3,838.1l3.9-4.5l4,3.9l-3.9,4.5zM748.9,913.4l3.9-4.5l4.1,3.8l-3.8,4.5zM738.9,932.7l3.8-4.5l4.1,3.7l-3.8,4.5zM777,903.5l3.8-4.5l4.7,4.3l-3.8,4.5zM783.8,895.5l3.8-4.5l4.6,4.3l-3.8,4.5zM787.3,891.5l3.8-4.5l4.6,4.3l-3.8,4.5zM764.3,927.3l3.8-4.5l4.1,3.8l-3.8,4.5zM791.4,895.4l3.8-4.5l4,3.8l-3.8,4.5zM808.4,875.4l3.8-4.5l4,3.9l-3.8,4.5zM774.7,922.7l3.8-4.5l4.1,3.8l-3.8,4.5zM784.9,910.7l3.8-4.5l4.1,3.8l-3.8,4.5zM791.6,902.8l3.8-4.5l4,3.8l-3.8,4.5zM811.9,878.9l3.8-4.5l4,3.9l-3.8,4.5zM775,930l3.8-4.5l4.1,3.8l-3.8,4.4zM835.8,858.5l3.8-4.5l4,3.9l-3.8,4.4zM798.9,909.6l3.8-4.4l4,3.8l-3.8,4.4zM832.6,869.9l3.8-4.4l4,3.9l-3.8,4.4zM822.9,896.7l3.8-4.4l4,3.9l-3.7,4.4zM796.3,935.7l3.7-4.4l4.1,3.8l-3.7,4.4zM826.5,900.2l3.7-4.4l4,3.9l-3.7,4.4zM883.4,833.1l3.7-4.4l3.9,4l-3.7,4.4zM836.7,895.7l3.7-4.4l4,3.9l-3.7,4.4zM866.8,860.3l3.7-4.4l3.9,4l-3.7,4.4zM870.3,863.9l3.7-4.4l3.9,4l-3.7,4.4zM880.5,859.6l3.7-4.4l3.9,4l-3.7,4.4zM887.1,851.7l3.7-4.4l3.9,4l-3.7,4.4z"/>
<path fill="#52ffa5" d="M471.8,361.8l7.1-5.7l3.2,4.6l-7,5.7zM480.9,360.8l7-5.7l3.2,4.6l-7,5.6zM477.5,370l7-5.6l3.2,4.6l-7,5.6zM480,387.1l6.9-5.6l3.2,4.6l-6.9,5.5zM486.1,382.2l6.9-5.6l3.2,4.6l-6.9,5.5zM504.7,367.2l6.9-5.6l3.1,4.7l-6.9,5.5zM507.5,371.4l6.9-5.5l3.1,4.7l-6.9,5.5zM485.8,395.2l6.9-5.5l3.2,4.6l-6.8,5.5zM498,385.4l6.9-5.5l3.2,4.6l-6.8,5.5zM510.3,375.5l6.9-5.5l3.1,4.7l-6.8,5.5zM500.9,389.5l6.8-5.5l3.2,4.6l-6.8,5.5zM513.1,379.6l6.8-5.5l3.1,4.7l-6.8,5.5zM506.5,397.7l6.8-5.5l3.2,4.6l-6.7,5.4zM524.2,396.2l6.7-5.4l3.1,4.7l-6.7,5.4zM527,400.3l6.7-5.4l3.1,4.7l-6.7,5.4zM506,423.6l6.7-5.4l3.2,4.6l-6.6,5.3zM529.8,404.5l6.7-5.4l3.1,4.7l-6.6,5.3zM526.7,413.4l6.6-5.3l3.1,4.6l-6.6,5.3zM523.6,422.2l6.6-5.3l3,4.5l-6.6,5.2zM554.9,428.8l6.5-5.2l3,4.7l-6.5,5.1zM551.8,437.6l6.5-5.1l3.1,4.7l-6.5,5.1zM551.6,450.5l6.4-5.1l3.1,4.7l-6.4,5.1zM551.5,463.3l6.4-5.1l3.3,4.8l-6.3,5.1zM565.8,458.5l6.3-5.1l3.1,4.7l-6.3,5.1zM568.5,462.7l6.3-5.1l3.1,4.7l-6.2,5zM582.5,483.4l6.1-5l3.1,4.7l-6.1,4.9zM590.7,483.1l6.1-4.9l3.1,4.7l-6.1,4.9zM594,500.1l5.9-5l3.2,4.6l-5.9,5zM607.8,508l5.9-4.9l3.1,4.6l-5.9,4.9zM605.9,529l5.8-4.9l3.2,4.6l-5.8,4.8zM608.8,533.1l5.8-4.8l3.2,4.6l-5.8,4.8zM614,528.8l5.8-4.8l3.2,4.6l-5.8,4.8zM488.1,640.3l5.8-4.8l7.3,7.4l-5.6,4.9zM611.6,537.2l5.8-4.8l3.7,4.9l-5.6,4.9zM616.8,532.9l5.8-4.8l3.5,4.8l-5.6,4.9zM474.8,664.8l5.6-4.9l3.9,4l-5.6,4.9zM485.4,675.4l5.5-4.9l3.9,4l-5.5,4.8zM498.7,670.3l5.5-4.8l3.9,4l-5.5,4.8zM612.1,570.7l5.5-4.8l3.4,4.5l-5.5,4.8zM617.1,566.4l5.5-4.8l3.3,4.5l-5.5,4.8zM631.9,553.4l5.5-4.8l3.3,4.5l-5.5,4.8zM491,690.3l5.5-4.8l3.9,4l-5.5,4.8zM505.6,677.4l5.5-4.8l3.8,4l-5.5,4.8zM514,676.8l5.5-4.8l3.8,4.1l-5.4,4.8zM640.7,565.5l5.5-4.8l3.3,4.5l-5.4,4.8zM502.7,693.1l5.4-4.8l5.6,5.7l-5.4,4.8zM512.4,684.5l5.4-4.8l5.4,5.6l-5.4,4.8zM502.9,702.4l5.4-4.8l6.9,6.6l-5.3,4.9zM517.3,689.5l5.4-4.8l6.6,6.4l-5.3,4.9zM526.9,680.9l5.4-4.8l6.3,6.3l-5.3,4.9zM637.1,582.3l5.4-4.8l3.8,4.7l-5.3,4.9zM504.7,712.8l5.3-4.9l4,3.9l-5.2,4.9zM518.7,699.8l5.3-4.9l4,3.9l-5.2,4.9zM636,591l5.3-4.9l3.5,4.4l-5.2,4.9zM527,698.9l5.2-4.9l3.9,4l-5.2,4.8zM628.2,611.7l5.2-4.8l3.5,4.3l-5.2,4.8zM534,706l5.2-4.8l3.9,4l-5.2,4.8zM557.2,684.4l5.2-4.8l3.8,4.1l-5.2,4.8zM532.9,713.8l5.2-4.8l3.9,3.9l-5.2,4.8zM542.1,705.2l5.2-4.8l3.9,4l-5.2,4.8zM551.4,696.6l5.2-4.8l3.9,4l-5.2,4.8zM541,713l5.2-4.8l3.9,4l-5.1,4.8zM545.6,708.7l5.2-4.8l3.9,4l-5.1,4.8zM656.1,606.2l5.2-4.8l3.4,4.4l-5.1,4.8zM544.5,716.5l5.1-4.8l3.9,4l-5.1,4.7zM558.3,703.8l5.1-4.8l3.8,4l-5.1,4.7zM636.2,631.4l5.1-4.8l3.5,4.3l-5.1,4.7zM552.6,715.8l5.1-4.7l3.9,4l-5.1,4.7zM561.7,707.3l5.1-4.7l3.8,4l-5.1,4.7zM556,719.3l5.1-4.7l5.5,5.5l-5,4.8zM569.7,706.6l5.1-4.7l5.3,5.4l-5,4.8zM651.7,630.6l5.1-4.7l3.9,4.7l-5,4.8zM571.5,725.7l4.9-4.8l4,3.9l-4.9,4.8zM575.9,721.3l4.9-4.8l3.9,3.9l-4.9,4.8zM562,742l4.9-4.8l4,3.9l-4.9,4.8zM662.4,643.1l4.9-4.8l3.6,4.3l-4.9,4.8zM578.6,732.6l4.9-4.8l4,3.9l-4.9,4.8zM560.5,757.5l4.9-4.8l4,3.8l-4.8,4.8zM577.8,740.4l4.9-4.8l4,3.9l-4.8,4.8zM586.5,731.8l4.9-4.8l3.9,3.9l-4.8,4.8zM673.2,646.4l4.9-4.8l3.6,4.3l-4.8,4.8zM581.4,743.8l4.8-4.8l4,3.9l-4.8,4.8zM585.7,739.6l4.8-4.8l3.9,3.9l-4.8,4.8zM676.4,650.2l4.8-4.8l3.6,4.3l-4.8,4.8zM576.3,755.8l4.8-4.8l4,3.9l-4.8,4.7zM593.5,738.8l4.8-4.8l3.9,3.9l-4.8,4.7zM662.4,671l4.8-4.8l3.7,4.2l-4.8,4.7zM579.9,759.3l4.8-4.7l4,3.9l-4.8,4.7zM691.5,649.3l4.8-4.7l3.6,4.3l-4.8,4.7zM608.4,745.2l4.8-4.7l3.9,4l-4.8,4.7zM606.3,767.7l4.6-4.8l4,3.8l-4.6,4.8zM696.7,673.7l4.6-4.8l3.7,4.2l-4.6,4.8zM704.9,665.2l4.6-4.8l3.7,4.2l-4.6,4.8zM614,766.9l4.6-4.8l4,3.9l-4.6,4.8zM617.6,770.3l4.6-4.8l4,3.9l-4.6,4.7zM699.3,685.4l4.6-4.8l3.7,4.2l-4.6,4.7zM625.3,769.5l4.6-4.7l4,3.9l-4.5,4.7zM714.8,676.4l4.6-4.7l3.7,4.2l-4.5,4.7zM612.6,789.8l4.5-4.7l4.1,3.8l-4.5,4.7zM717.3,688.1l4.5-4.7l3.7,4.2l-4.5,4.7zM632,784.1l4.5-4.7l4,3.9l-4.5,4.7zM636,779.9l4.5-4.7l4,3.9l-4.5,4.7zM708.5,704.4l4.5-4.7l3.7,4.2l-4.5,4.7zM719.9,699.8l4.5-4.7l3.7,4.2l-4.5,4.7zM719.2,707.7l4.5-4.7l3.7,4.2l-4.5,4.6zM650.5,786l4.5-4.6l7,6.4l-4.3,4.7zM706.5,727.9l4.5-4.6l5.1,5.2l-4.3,4.7zM710.5,723.8l4.5-4.6l5,5.1l-4.3,4.7zM649.3,800.3l4.3-4.7l4.1,3.8l-4.3,4.7zM660.9,787.7l4.3-4.7l4,3.8l-4.3,4.7zM672.3,782.7l4.3-4.7l4,3.9l-4.3,4.7zM730.2,719.5l4.3-4.7l3.8,4.1l-4.3,4.7zM729.7,727.3l4.3-4.7l3.8,4.1l-4.3,4.7zM667.9,802.1l4.3-4.7l4,3.8l-4.3,4.7zM733.2,730.9l4.3-4.7l3.8,4.1l-4.3,4.7zM725.1,747.1l4.3-4.7l3.9,4l-4.3,4.7zM744.2,726.2l4.3-4.7l3.8,4.1l-4.3,4.7zM671.4,813.1l4.3-4.7l4,3.8l-4.3,4.6zM675.2,808.9l4.3-4.7l4,3.8l-4.3,4.6zM732.4,746.5l4.3-4.7l3.8,4.1l-4.3,4.6zM747.2,737.7l4.3-4.6l3.8,4.1l-4.2,4.6zM751,733.5l4.3-4.6l3.8,4.1l-4.2,4.6zM750.6,741.3l4.2-4.6l3.8,4.1l-4.2,4.6zM686,819.2l4.2-4.6l4,3.9l-4.2,4.6zM754,745l4.2-4.6l3.8,4.1l-4.2,4.6zM697.1,814.4l4.2-4.6l4,3.9l-4.2,4.6zM693.1,826l4.2-4.6l6.6,5.8l-4.1,4.7zM749.5,764.5l4.2-4.6l4.9,4.8l-4.1,4.7zM695.5,835.5l4.1-4.7l4.1,3.8l-4.1,4.6zM702.8,827.2l4.1-4.7l4.1,3.8l-4.1,4.6zM706.5,823l4.1-4.7l4.1,3.8l-4.1,4.6zM691.9,854.6l4.1-4.6l4.1,3.7l-4.1,4.6zM713.7,829.8l4.1-4.6l4.1,3.8l-4.1,4.6zM746.5,792.6l4.1-4.6l4,3.9l-4.1,4.6zM753.6,791.9l4.1-4.6l3.9,4l-4,4.6zM757.3,787.8l4.1-4.6l3.9,4l-4,4.6zM760.9,783.7l4.1-4.6l3.9,4l-4,4.6zM764.5,779.6l4.1-4.6l3.9,4l-4,4.6zM710.2,849l4-4.6l4.1,3.8l-4,4.6zM767.9,790.8l4-4.6l3.9,4l-4,4.6zM721.1,851.6l4-4.6l4.1,3.8l-4,4.6zM731.9,839.3l4-4.6l4,3.8l-4,4.6zM731.9,854.3l4-4.6l4,3.8l-4,4.5zM760.5,821.8l4-4.6l4,3.9l-4,4.5zM728.4,865.9l4-4.5l4.1,3.8l-4,4.5zM753.4,837.4l4-4.5l4,3.9l-4,4.5zM757,833.4l4-4.5l4,3.9l-4,4.5zM778.4,809l4-4.5l3.9,4l-4,4.5zM796.2,788.7l4-4.5l3.9,4l-4,4.5zM732,869.2l4-4.5l5.6,5l-3.9,4.6zM739.1,861.1l4-4.5l5.4,4.9l-3.9,4.6zM746.2,853l4-4.5l5.3,4.8l-3.9,4.6zM767.6,828.7l4-4.5l4.9,4.6l-3.9,4.6zM744.1,865.5l3.9-4.6l4.1,3.8l-3.9,4.6zM751.1,857.4l3.9-4.6l4.1,3.8l-3.9,4.6zM737.3,881.1l3.9-4.6l4.1,3.8l-3.9,4.5zM747.7,868.9l3.9-4.6l4.1,3.8l-3.9,4.5zM754.7,860.8l3.9-4.6l4.1,3.8l-3.9,4.5zM786.1,824.2l3.9-4.6l4,3.9l-3.9,4.5zM761.8,860.1l3.9-4.5l4,3.8l-3.9,4.5zM768.8,852l3.9-4.5l4,3.9l-3.9,4.5zM786.2,831.7l3.9-4.5l4,3.9l-3.9,4.5zM734.2,900l3.9-4.5l4.1,3.7l-3.9,4.5zM748.1,883.8l3.9-4.5l4.1,3.8l-3.9,4.5zM724,919.5l3.9-4.5l4.2,3.7l-3.9,4.5zM748.3,891.2l3.9-4.5l4.1,3.8l-3.9,4.5zM755.2,883.1l3.9-4.5l4.1,3.8l-3.9,4.5zM769.1,867l3.9-4.5l4,3.8l-3.9,4.5zM803.7,826.6l3.9-4.5l3.9,4l-3.9,4.5zM751.9,894.6l3.9-4.5l4.1,3.8l-3.9,4.5zM776.1,866.4l3.9-4.5l4,3.9l-3.9,4.5zM779.6,862.3l3.9-4.5l4,3.9l-3.9,4.5zM783.1,858.3l3.9-4.5l4,3.9l-3.9,4.5zM759,893.9l3.9-4.5l4.1,3.8l-3.9,4.5zM765.9,885.9l3.9-4.5l4.1,3.8l-3.9,4.5zM769.4,881.9l3.9-4.5l4.1,3.8l-3.9,4.5zM776.3,873.8l3.9-4.5l4,3.9l-3.9,4.5zM786.6,861.8l3.9-4.5l4,3.9l-3.9,4.5zM797,849.7l3.9-4.5l4,3.9l-3.9,4.5zM803.9,841.6l3.9-4.5l4,3.9l-3.9,4.5zM807.3,837.6l3.9-4.5l4,3.9l-3.9,4.5zM738.6,925.4l3.9-4.5l4.1,3.7l-3.8,4.5zM776.5,881.3l3.9-4.5l4,3.8l-3.8,4.5zM742.3,928.7l3.8-4.5l4.1,3.7l-3.8,4.5zM752.9,924.1l3.8-4.5l4.1,3.8l-3.8,4.5zM759.7,916.1l3.8-4.5l4.1,3.8l-3.8,4.5zM770,904.1l3.8-4.5l4.1,3.8l-3.8,4.5zM773.4,900.1l3.8-4.5l4.1,3.8l-3.8,4.5zM787.1,884.1l3.8-4.5l4,3.9l-3.8,4.5zM835.1,828.2l3.8-4.5l3.9,4l-3.8,4.5zM746.2,939.3l3.8-4.5l5,4.4l-3.8,4.5zM831.7,839.7l3.8-4.5l4.2,4.1l-3.8,4.5zM757.5,935.3l3.8-4.5l4.1,3.7l-3.8,4.5zM798.2,887.4l3.8-4.5l4,3.9l-3.8,4.5zM842.2,835.5l3.8-4.5l3.9,4l-3.8,4.5zM795,898.8l3.8-4.5l4,3.8l-3.8,4.5zM771.6,934l3.8-4.5l4.1,3.8l-3.8,4.4zM802,898.2l3.8-4.5l4,3.9l-3.8,4.4zM832.4,862.4l3.8-4.5l4,3.9l-3.8,4.4zM792.7,932.3l3.8-4.4l4.1,3.8l-3.7,4.4zM802.8,920.4l3.8-4.4l4,3.8l-3.7,4.4zM816.2,904.6l3.8-4.4l4,3.9l-3.7,4.4zM829.6,888.8l3.8-4.4l4,3.9l-3.7,4.4zM849.7,865.1l3.8-4.4l3.9,4l-3.7,4.4zM856.4,857.2l3.8-4.4l3.9,4l-3.7,4.4zM803,927.8l3.7-4.4l4,3.8l-3.7,4.4zM843.2,880.4l3.7-4.4l4,3.9l-3.7,4.4zM873.5,852.4l3.7-4.4l3.9,4l-3.7,4.4zM816.9,926.8l3.7-4.4l4,3.9l-3.7,4.4zM823.6,918.9l3.7-4.4l4,3.9l-3.7,4.4zM850.3,887.4l3.7-4.4l4,3.9l-3.7,4.4zM877,856l3.7-4.4l3.9,4l-3.7,4.4zM823.9,926.3l3.7-4.4l4,3.9l-3.7,4.4zM827.2,922.3l3.7-4.4l4,3.9l-3.7,4.4zM863.8,879.2l3.7-4.4l3.9,4l-3.7,4.4zM890.5,847.8l3.7-4.4l3.9,4l-3.7,4.4z"/>
<path fill="#67ff90" d="M483.3,378.1l7-5.6l3.2,4.6l-6.9,5.6zM501.9,363.1l7-5.6l3.1,4.7l-6.9,5.6zM510.9,362.3l6.9-5.6l3.1,4.7l-6.9,5.5zM515.9,383.8l6.8-5.5l3.1,4.7l-6.8,5.5zM538,416.8l6.6-5.2l3.1,4.7l-6.6,5.2zM557.6,433l6.5-5.1l3,4.7l-6.5,5.1zM557.3,445.9l6.4-5.1l3.1,4.7l-6.4,5.1zM542.9,463.7l6.4-5.1l3.2,4.7l-6.4,5.1zM554.4,454.6l6.4-5.1l3.1,4.7l-6.4,5.1zM568.5,449.8l6.4-5.1l3.1,4.7l-6.3,5.1zM579.7,479.2l6.2-5l3.1,4.7l-6.1,5zM579.8,491.9l6.1-4.9l3.1,4.6l-6.1,4.9zM585.3,487.5l6.1-4.9l3.1,4.7l-6.1,4.9zM591.1,496l6-5l3.2,4.6l-5.9,5zM599.3,495.7l5.9-5l3.1,4.6l-5.9,5zM596.8,504.2l5.9-5l3.2,4.6l-5.9,4.9zM599.7,508.3l5.9-4.9l3.2,4.6l-5.9,4.9zM608.3,520.6l5.8-4.9l3.2,4.6l-5.8,4.9zM611.1,524.7l5.8-4.9l3.2,4.6l-5.8,4.8zM620.1,537.3l5.6-4.9l3.3,4.5l-5.6,4.9zM621,549.7l5.6-4.9l3.3,4.5l-5.5,4.9zM633.9,545l5.5-4.9l3.3,4.6l-5.5,4.8zM492.4,682.5l5.5-4.8l3.9,4l-5.5,4.8zM629.9,561.7l5.5-4.8l3.3,4.5l-5.5,4.8zM533.5,659.6l5.5-4.8l3.7,4.1l-5.4,4.8zM631,574.1l5.5-4.8l3.3,4.5l-5.4,4.8zM508.3,716.3l5.2-4.9l4,3.9l-5.2,4.8zM625.1,607.9l5.2-4.9l3.5,4.3l-5.2,4.8zM521.2,711.1l5.2-4.8l4,3.9l-5.2,4.8zM525.8,706.8l5.2-4.8l3.9,3.9l-5.2,4.8zM535.1,698.1l5.2-4.8l3.9,4l-5.2,4.8zM520.1,718.9l5.2-4.8l4,3.9l-5.2,4.8zM538.6,701.7l5.2-4.8l3.9,4l-5.2,4.8zM636,611.3l5.2-4.8l3.5,4.4l-5.2,4.8zM649.9,598.4l5.2-4.8l3.4,4.4l-5.2,4.8zM546.8,700.9l5.2-4.8l3.9,4l-5.2,4.8zM527.2,725.8l5.2-4.8l4,3.9l-5.1,4.8zM536.4,717.3l5.2-4.8l3.9,4l-5.1,4.8zM530.8,729.3l5.1-4.8l4,3.9l-5.1,4.7zM549.1,712.3l5.1-4.8l3.9,4l-5.1,4.7zM553.7,708l5.1-4.8l3.9,4l-5.1,4.7zM645.4,622.9l5.1-4.8l3.5,4.4l-5.1,4.7zM543.5,724.3l5.1-4.7l3.9,4l-5.1,4.7zM548,720.1l5.1-4.7l3.9,4l-5.1,4.7zM575.4,694.6l5.1-4.7l3.8,4.1l-5.1,4.7zM538.5,745.5l5-4.8l7.2,6.6l-4.9,4.8zM556.4,728.5l5-4.8l6.8,6.3l-4.9,4.8zM545.2,751.6l4.9-4.8l4.1,3.8l-4.9,4.8zM558.3,738.6l4.9-4.8l4,3.9l-4.9,4.8zM562.7,734.3l4.9-4.8l4,3.9l-4.9,4.8zM654.8,643.6l4.9-4.8l3.6,4.2l-4.9,4.8zM659.2,639.3l4.9-4.8l3.6,4.3l-4.9,4.8zM667.9,630.7l4.9-4.8l3.6,4.3l-4.9,4.8zM544.5,759.3l4.9-4.8l4.1,3.8l-4.9,4.8zM566.3,737.7l4.9-4.8l4,3.9l-4.9,4.8zM666.8,638.8l4.9-4.8l3.6,4.3l-4.9,4.8zM556.8,754.1l4.9-4.8l4,3.8l-4.9,4.8zM565.6,745.5l4.9-4.8l4,3.9l-4.9,4.8zM569.9,741.2l4.9-4.8l4,3.9l-4.9,4.8zM674.3,638.3l4.9-4.8l3.6,4.3l-4.9,4.8zM573.5,744.6l4.9-4.8l4,3.9l-4.8,4.8zM582.2,736.1l4.9-4.8l4,3.9l-4.8,4.8zM685.1,641.7l4.8-4.8l3.6,4.3l-4.8,4.8zM597.1,742.3l4.8-4.7l3.9,4l-4.8,4.7zM687.2,653.6l4.8-4.7l3.6,4.3l-4.8,4.7zM694.7,653.2l4.8-4.7l3.6,4.3l-4.8,4.7zM595.6,757.8l4.8-4.7l3.9,3.9l-4.8,4.7zM598.9,761.1l4.8-4.7l7.8,7.1l-4.6,4.8zM603.2,756.9l4.8-4.7l7.7,7l-4.6,4.8zM692.5,669.2l4.8-4.7l4.5,4.9l-4.6,4.8zM701,660.8l4.8-4.7l4.2,4.7l-4.6,4.8zM589.8,784.8l4.6-4.8l4.1,3.8l-4.6,4.8zM598,776.3l4.6-4.8l4.1,3.8l-4.6,4.8zM614.5,759.2l4.6-4.8l4,3.9l-4.6,4.8zM688.5,682.3l4.6-4.8l3.7,4.2l-4.6,4.8zM601.7,779.7l4.6-4.8l4.1,3.8l-4.6,4.8zM622.2,758.4l4.6-4.8l4,3.9l-4.6,4.8zM695.9,681.7l4.6-4.8l3.7,4.2l-4.6,4.8zM704.1,673.2l4.6-4.8l3.7,4.2l-4.6,4.8zM613.5,774.6l4.6-4.8l4,3.8l-4.6,4.7zM718.1,680.2l4.5-4.7l3.7,4.2l-4.5,4.7zM620.3,789l4.5-4.7l4,3.8l-4.5,4.7zM721.4,683.9l4.5-4.7l3.7,4.2l-4.5,4.7zM712.6,700.2l4.5-4.7l3.7,4.2l-4.5,4.7zM716.6,696.1l4.5-4.7l3.7,4.2l-4.5,4.7zM720.6,691.9l4.5-4.7l3.7,4.2l-4.5,4.7zM724.7,687.7l4.5-4.7l3.7,4.2l-4.5,4.7zM623.5,800l4.5-4.7l4,3.8l-4.5,4.7zM635.5,787.5l4.5-4.7l4,3.9l-4.5,4.7zM728,691.4l4.5-4.7l3.7,4.2l-4.5,4.7zM639.1,790.9l4.5-4.7l4,3.9l-4.5,4.6zM643.1,786.8l4.5-4.7l4,3.9l-4.5,4.6zM656.8,799.5l4.3-4.7l4.1,3.8l-4.3,4.7zM660.7,795.3l4.3-4.7l4,3.8l-4.3,4.7zM722.5,727.9l4.3-4.7l3.8,4.1l-4.3,4.7zM664.3,798.7l4.3-4.7l4,3.8l-4.3,4.7zM737.4,718.9l4.3-4.7l3.8,4.1l-4.3,4.7zM664.1,806.3l4.3-4.7l4.1,3.8l-4.3,4.7zM744.7,718.4l4.3-4.7l3.8,4.1l-4.3,4.7zM736.6,734.5l4.3-4.7l3.8,4.1l-4.3,4.7zM740.4,730.4l4.3-4.7l3.8,4.1l-4.3,4.7zM717.1,763.1l4.3-4.7l3.9,4l-4.3,4.6zM671.2,820.6l4.3-4.6l4.1,3.8l-4.2,4.6zM675,816.5l4.3-4.6l4,3.8l-4.2,4.6zM678.8,812.3l4.3-4.6l4,3.8l-4.2,4.6zM754.4,737.2l4.2-4.6l3.8,4.1l-4.2,4.6zM693.6,810.9l4.2-4.6l4,3.9l-4.2,4.6zM745.7,768.6l4.2-4.6l5,4.9l-4.1,4.7zM753.3,760.4l4.2-4.6l4.8,4.8l-4.1,4.7zM699.2,831.3l4.1-4.7l4.1,3.8l-4.1,4.6zM754,768.9l4.1-4.7l3.9,4l-4.1,4.6zM761.2,768.3l4.1-4.6l3.9,4l-4.1,4.6zM764.8,764.2l4.1-4.6l3.9,4l-4.1,4.6zM699.3,853.8l4.1-4.6l4.1,3.8l-4,4.6zM768.1,775.4l4.1-4.6l3.9,4l-4,4.6zM702.9,857.2l4-4.6l4.1,3.8l-4,4.6zM760.8,791.3l4-4.6l3.9,4l-4,4.6zM764.4,787.2l4-4.6l3.9,4l-4,4.6zM768,783.1l4-4.6l3.9,4l-4,4.6zM710.3,863.9l4-4.6l4.1,3.8l-4,4.6zM760.6,806.6l4-4.6l3.9,3.9l-4,4.6zM767.8,798.4l4-4.6l3.9,4l-4,4.6zM724.8,862.5l4-4.6l4.1,3.8l-4,4.5zM757,825.8l4-4.6l4,3.9l-4,4.5zM782,797.3l4-4.6l3.9,4l-4,4.5zM724.8,869.9l4-4.5l4.1,3.8l-4,4.5zM746.2,845.6l4-4.5l4,3.9l-4,4.5zM778.3,816.6l4-4.5l4.7,4.5l-3.9,4.6zM733.6,877.8l3.9-4.6l4.1,3.8l-3.9,4.6zM737.1,873.7l3.9-4.6l4.1,3.8l-3.9,4.6zM754.6,853.3l3.9-4.6l4.1,3.8l-3.9,4.6zM758.1,849.2l3.9-4.6l4,3.8l-3.9,4.6zM761.6,845.1l3.9-4.6l4,3.9l-3.9,4.6zM768.6,837l3.9-4.6l4,3.9l-3.9,4.6zM740.7,877.1l3.9-4.6l4.1,3.8l-3.9,4.5zM768.7,844.5l3.9-4.6l4,3.9l-3.9,4.5zM782.6,828.2l3.9-4.6l4,3.9l-3.9,4.5zM789.6,820.1l3.9-4.6l4,3.9l-3.9,4.5zM734,892.6l3.9-4.5l4.1,3.7l-3.9,4.5zM737.4,888.5l3.9-4.5l4.1,3.8l-3.9,4.5zM740.9,884.5l3.9-4.5l4.1,3.8l-3.9,4.5zM744.6,887.8l3.9-4.5l4.1,3.8l-3.9,4.5zM768.9,859.5l3.9-4.5l4,3.9l-3.9,4.5zM789.8,835.2l3.9-4.5l4,3.9l-3.9,4.5zM793.2,831.1l3.9-4.5l4,3.9l-3.9,4.5zM796.7,827.1l3.9-4.5l4,3.9l-3.9,4.5zM737.9,903.3l3.9-4.5l4.1,3.7l-3.9,4.5zM765.6,871l3.9-4.5l4,3.8l-3.9,4.5zM786.4,846.8l3.9-4.5l4,3.9l-3.9,4.5zM800.3,830.6l3.9-4.5l4,3.9l-3.9,4.5zM748.5,898.6l3.9-4.5l4.1,3.8l-3.9,4.5zM772.7,870.4l3.9-4.5l4,3.8l-3.9,4.5zM814.2,822l3.9-4.5l3.9,4l-3.9,4.5zM738.4,918.1l3.9-4.5l4.1,3.7l-3.9,4.5zM745.2,910l3.9-4.5l4.1,3.8l-3.9,4.5zM748.7,906l3.9-4.5l4.1,3.8l-3.9,4.5zM752.1,902l3.9-4.5l4.1,3.8l-3.9,4.5zM779.7,869.8l3.9-4.5l4,3.9l-3.9,4.5zM755.8,905.3l3.9-4.5l4.1,3.8l-3.8,4.5zM759.3,901.3l3.9-4.5l4.1,3.8l-3.8,4.5zM766.1,893.3l3.9-4.5l4.1,3.8l-3.8,4.5zM783.3,873.2l3.9-4.5l4,3.9l-3.8,4.5zM786.8,869.2l3.9-4.5l4,3.9l-3.8,4.5zM800.5,853.2l3.9-4.5l4,3.9l-3.8,4.5zM814.4,844.7l3.8-4.5l3.9,4l-3.8,4.5zM824.7,832.6l3.8-4.5l3.9,4l-3.8,4.5zM742.6,936l3.8-4.5l4.1,3.7l-3.8,4.5zM756.3,920.1l3.8-4.5l4.1,3.8l-3.8,4.5zM749.6,935.3l3.8-4.5l4.9,4.4l-3.8,4.5zM766.7,915.4l3.8-4.5l4.8,4.3l-3.8,4.5zM773.6,907.5l3.8-4.5l4.7,4.3l-3.8,4.5zM780.4,899.5l3.8-4.5l4.6,4.3l-3.8,4.5zM794.1,883.6l3.8-4.5l4.5,4.2l-3.8,4.5zM807.8,867.6l3.8-4.5l4.4,4.2l-3.8,4.5zM750.7,943.3l3.8-4.5l4.1,3.7l-3.8,4.5zM781.2,907.3l3.8-4.5l4.1,3.8l-3.8,4.5zM838.9,839.4l3.8-4.5l3.9,4l-3.8,4.5zM761.2,938.6l3.8-4.5l4.1,3.8l-3.8,4.5zM801.8,890.8l3.8-4.5l4,3.9l-3.8,4.5zM808.6,882.8l3.8-4.5l4,3.9l-3.8,4.5zM768.3,938l3.8-4.5l4.1,3.8l-3.8,4.4zM818.9,878.3l3.8-4.5l4,3.9l-3.8,4.4zM792.2,917.5l3.8-4.4l4.1,3.8l-3.8,4.4zM809,897.7l3.8-4.4l4,3.9l-3.8,4.4zM846,854l3.8-4.4l3.9,4l-3.8,4.4zM853.1,861.1l3.8-4.4l3.9,4l-3.7,4.4zM866.5,845.3l3.8-4.4l3.9,4l-3.7,4.4zM843.8,902.7l3.7-4.4l4,3.9l-3.7,4.4zM853.8,891l3.7-4.4l4,3.9l-3.7,4.4zM867.3,882.7l3.7-4.4l3.9,4l-3.7,4.4z"/>
<path fill="#7bff7b" d="M490,359.9l7-5.6l3.1,4.6l-7,5.6zM492.9,364l7-5.6l3.1,4.6l-7,5.6zM507,384.6l6.8-5.5l3.1,4.6l-6.8,5.5zM515.4,396.9l6.7-5.4l3.1,4.6l-6.7,5.4zM521.4,392.1l6.7-5.4l3.1,4.7l-6.7,5.4zM532.6,408.6l6.6-5.3l3.1,4.7l-6.6,5.3zM547.2,403.3l6.6-5.3l3,4.7l-6.6,5.2zM540.8,420.9l6.6-5.2l3.1,4.7l-6.6,5.2zM549.1,433.4l6.5-5.2l3.1,4.7l-6.5,5.1zM563.1,441.4l6.4-5.1l3,4.7l-6.4,5.1zM565.8,445.5l6.4-5.1l3,4.7l-6.4,5.1zM574.2,445.2l6.4-5.1l3,4.7l-6.3,5.1zM577,449.4l6.3-5.1l3,4.7l-6.3,5.1zM579.7,466.5l6.2-5l3.1,4.7l-6.2,5zM585.2,462l6.2-5l3,4.7l-6.2,5zM576.9,475.1l6.2-5l3.1,4.7l-6.2,5zM582.4,470.6l6.2-5l3.1,4.7l-6.2,5zM588,478.9l6.1-5l3.1,4.7l-6.1,4.9zM613,503.6l5.9-4.9l3.1,4.6l-5.9,4.9zM600.2,520.9l5.9-4.9l3.2,4.6l-5.8,4.9zM618.7,511.9l5.8-4.9l3.1,4.6l-5.8,4.9zM619.1,524.5l5.8-4.8l3.1,4.6l-5.8,4.8zM628,536.9l5.6-4.9l3.3,4.6l-5.6,4.9zM633,532.6l5.6-4.9l3.2,4.6l-5.6,4.9zM626,545.3l5.6-4.9l3.3,4.5l-5.5,4.9zM508.6,661.6l5.5-4.8l3.8,4.1l-5.5,4.8zM628,570.1l5.5-4.8l3.3,4.5l-5.5,4.8zM632.9,565.8l5.5-4.8l3.3,4.5l-5.5,4.8zM635.8,569.8l5.5-4.8l3.3,4.5l-5.4,4.8zM638.8,573.8l5.4-4.8l3.5,4.7l-5.4,4.8zM523.4,695.4l5.3-4.9l3.9,3.9l-5.2,4.9zM512.9,711.9l5.2-4.9l4,3.9l-5.2,4.8zM643.7,590.5l5.2-4.9l3.4,4.4l-5.2,4.8zM511.9,719.7l5.2-4.8l4,3.9l-5.2,4.8zM516.5,715.4l5.2-4.8l4,3.9l-5.2,4.8zM646.8,594.4l5.2-4.8l3.4,4.4l-5.2,4.8zM654.6,594l5.2-4.8l3.4,4.4l-5.2,4.8zM519,726.6l5.2-4.8l4,3.9l-5.2,4.8zM537.5,709.5l5.2-4.8l3.9,4l-5.2,4.8zM556,692.3l5.2-4.8l3.8,4l-5.2,4.8zM657.6,598l5.2-4.8l3.4,4.4l-5.2,4.8zM550.2,704.5l5.2-4.8l3.9,4l-5.1,4.8zM526.2,733.6l5.1-4.8l4,3.9l-5.1,4.7zM539.9,720.8l5.1-4.8l3.9,4l-5.1,4.7zM663.8,605.9l5.1-4.8l3.4,4.4l-5.1,4.7zM657.7,618.3l5.1-4.7l3.5,4.4l-5.1,4.7zM533.2,740.4l5.1-4.7l5.9,5.7l-5,4.8zM537.8,736.2l5.1-4.7l5.8,5.6l-5,4.8zM542.3,732l5.1-4.7l5.7,5.6l-5,4.8zM660.8,622.2l5.1-4.7l3.7,4.7l-5,4.8zM565.4,719.9l5-4.8l6.5,6.2l-4.9,4.8zM574.4,711.4l5-4.8l6.3,6.1l-4.9,4.8zM553.2,750.6l4.9-4.8l4,3.8l-4.9,4.8zM570.7,733.4l4.9-4.8l4,3.9l-4.9,4.8zM561.2,749.8l4.9-4.8l4,3.9l-4.9,4.8zM678.7,634l4.9-4.8l3.6,4.3l-4.9,4.8zM569.1,748.9l4.9-4.8l4,3.9l-4.8,4.8zM681.9,637.8l4.9-4.8l3.6,4.3l-4.8,4.8zM572,760l4.8-4.8l4,3.9l-4.8,4.7zM580.6,751.6l4.8-4.8l4,3.9l-4.8,4.7zM692.6,641.3l4.8-4.8l3.5,4.3l-4.8,4.7zM567,771.9l4.8-4.7l4,3.8l-4.8,4.7zM592.8,746.6l4.8-4.7l3.9,3.9l-4.8,4.7zM674.3,666.2l4.8-4.7l3.6,4.2l-4.8,4.7zM587.8,758.5l4.8-4.7l4,3.9l-4.8,4.7zM703.2,644.7l4.8-4.7l3.5,4.3l-4.8,4.7zM573.4,786.2l4.8-4.7l8.7,7.7l-4.6,4.8zM594.7,765.3l4.8-4.7l8,7.2l-4.6,4.8zM610.4,763.5l4.6-4.8l4,3.8l-4.6,4.8zM700.8,669.4l4.6-4.8l3.7,4.2l-4.6,4.8zM709,660.9l4.6-4.8l3.7,4.2l-4.6,4.8zM609.9,771.2l4.6-4.8l4,3.8l-4.6,4.8zM618.1,762.6l4.6-4.8l4,3.9l-4.6,4.8zM708.2,668.9l4.6-4.8l3.7,4.2l-4.6,4.8zM711.5,672.7l4.6-4.8l3.7,4.2l-4.6,4.7zM710.7,680.6l4.6-4.7l3.7,4.2l-4.5,4.7zM718.9,672.2l4.6-4.7l3.7,4.2l-4.5,4.7zM624.3,784.8l4.5-4.7l4,3.9l-4.5,4.7zM628.4,780.6l4.5-4.7l4,3.9l-4.5,4.7zM627.5,795.9l4.5-4.7l4,3.8l-4.5,4.7zM631.5,791.7l4.5-4.7l4,3.9l-4.5,4.7zM723.9,695.6l4.5-4.7l3.7,4.2l-4.5,4.7zM727.2,699.3l4.5-4.7l3.7,4.2l-4.5,4.6zM634.5,802.5l4.5-4.6l7.5,6.7l-4.3,4.7zM638.5,798.4l4.5-4.6l7.4,6.6l-4.3,4.7zM722.5,711.4l4.5-4.6l4.6,4.9l-4.3,4.7zM641.6,808.8l4.3-4.7l4.1,3.8l-4.3,4.7zM645.5,804.6l4.3-4.7l4.1,3.8l-4.3,4.7zM645.3,812.1l4.3-4.7l4.1,3.8l-4.3,4.7zM649.1,807.9l4.3-4.7l4.1,3.8l-4.3,4.7zM726.3,723.7l4.3-4.7l3.8,4.1l-4.3,4.7zM737.9,711l4.3-4.7l3.8,4.1l-4.3,4.7zM652.8,811.3l4.3-4.7l4.1,3.8l-4.3,4.7zM656.6,807.1l4.3-4.7l4.1,3.8l-4.3,4.7zM660.5,802.9l4.3-4.7l4.1,3.8l-4.3,4.7zM745.1,710.5l4.3-4.7l3.8,4.1l-4.3,4.7zM749,706.3l4.3-4.7l3.8,4.2l-4.3,4.7zM656.3,822.2l4.3-4.7l4.1,3.8l-4.3,4.7zM663.9,813.9l4.3-4.7l4.1,3.8l-4.3,4.7zM667.7,809.7l4.3-4.7l4,3.8l-4.3,4.7zM671.6,805.5l4.3-4.7l4,3.8l-4.3,4.7zM751.9,717.8l4.3-4.7l3.8,4.1l-4.3,4.7zM743.8,734l4.3-4.7l3.8,4.1l-4.3,4.6zM682.6,808.2l4.3-4.6l4,3.9l-4.2,4.6zM754.8,729.4l4.3-4.6l3.8,4.1l-4.2,4.6zM648.3,853l4.2-4.6l4.1,3.7l-4.2,4.6zM667.2,832.3l4.2-4.6l4.1,3.8l-4.2,4.6zM671,828.2l4.2-4.6l4.1,3.8l-4.2,4.6zM746.8,745.4l4.2-4.6l3.8,4.1l-4.2,4.6zM750.2,749.1l4.2-4.6l3.8,4.1l-4.2,4.6zM663.2,851.4l4.2-4.6l4.1,3.8l-4.2,4.6zM674.5,839.1l4.2-4.6l4.1,3.8l-4.2,4.6zM693.4,818.5l4.2-4.6l4,3.9l-4.2,4.6zM761.2,744.5l4.2-4.6l3.8,4.1l-4.2,4.6zM678,842.3l4.2-4.6l7,6.1l-4.1,4.7zM681.8,838.2l4.2-4.6l6.9,6l-4.1,4.7zM685.5,834.2l4.2-4.6l6.8,6l-4.1,4.7zM689.3,830.1l4.2-4.6l6.7,5.9l-4.1,4.7zM760.8,752.2l4.2-4.6l4.5,4.6l-4.1,4.7zM772.1,739.9l4.2-4.6l4.2,4.4l-4.1,4.7zM688.2,843.8l4.1-4.7l4.1,3.7l-4.1,4.6zM757.7,764.8l4.1-4.7l3.9,4l-4.1,4.6zM765,756.4l4.1-4.7l3.9,4l-4.1,4.6zM699.2,838.9l4.1-4.6l4.1,3.8l-4.1,4.6zM757.5,772.5l4.1-4.6l3.9,4l-4.1,4.6zM699.2,846.4l4.1-4.6l4.1,3.8l-4.1,4.6zM702.8,842.2l4.1-4.6l4.1,3.8l-4.1,4.6zM706.5,838.1l4.1-4.6l4.1,3.8l-4.1,4.6zM753.7,784.3l4.1-4.6l3.9,4l-4.1,4.6zM768.3,767.7l4.1-4.6l3.9,4l-4.1,4.6zM706.5,845.6l4.1-4.6l4.1,3.8l-4,4.6zM771.8,771.3l4.1-4.6l3.9,4l-4,4.6zM695.7,865.4l4-4.6l4.1,3.7l-4,4.6zM703,864.6l4-4.6l4.1,3.8l-4,4.6zM706.6,860.5l4-4.6l4.1,3.8l-4,4.6zM710.2,856.4l4-4.6l4.1,3.8l-4,4.6zM717.4,848.2l4-4.6l4.1,3.8l-4,4.6zM688.7,888.4l4-4.6l4.2,3.7l-4,4.6zM699.5,876.2l4-4.6l4.1,3.7l-4,4.6zM713.9,859.8l4-4.6l4.1,3.8l-4,4.6zM775,790.2l4-4.6l3.9,4l-4,4.6zM710.4,871.3l4-4.6l4.1,3.8l-4,4.6zM771.3,801.9l4-4.6l3.9,4l-4,4.6zM774.9,797.9l4-4.6l3.9,4l-4,4.6zM696.1,895l4-4.6l4.1,3.7l-4,4.5zM774.9,805.5l4-4.6l3.9,4l-4,4.5zM778.4,801.4l4-4.6l3.9,4l-4,4.5zM789.2,789.2l4-4.6l3.9,4l-4,4.5zM721.3,874l4-4.5l4.1,3.8l-4,4.5zM732,861.8l4-4.5l4.1,3.8l-4,4.5zM721.3,881.3l4-4.5l5.8,5.1l-3.9,4.6zM785.4,808.5l4-4.5l4.6,4.5l-3.9,4.6zM730.1,881.9l3.9-4.6l4.1,3.8l-3.9,4.6zM789.6,812.5l3.9-4.6l4,3.9l-3.9,4.6zM779.1,832.3l3.9-4.6l4,3.9l-3.9,4.5zM772.3,848l3.9-4.5l4,3.9l-3.9,4.5zM789.7,827.7l3.9-4.5l4,3.9l-3.9,4.5zM793.2,823.6l3.9-4.5l4,3.9l-3.9,4.5zM741.1,891.9l3.9-4.5l4.1,3.8l-3.9,4.5zM786.3,839.2l3.9-4.5l4,3.9l-3.9,4.5zM800.2,823l3.9-4.5l3.9,4l-3.9,4.5zM727.5,915.5l3.9-4.5l4.1,3.7l-3.9,4.5zM758.7,879.1l3.9-4.5l4.1,3.8l-3.9,4.5zM793.3,838.7l3.9-4.5l4,3.9l-3.9,4.5zM796.8,834.6l3.9-4.5l4,3.9l-3.9,4.5zM727.7,922.8l3.9-4.5l4.2,3.7l-3.9,4.5zM741.6,906.7l3.9-4.5l4.1,3.8l-3.9,4.5zM755.4,890.5l3.9-4.5l4.1,3.8l-3.9,4.5zM762.3,882.5l3.9-4.5l4.1,3.8l-3.9,4.5zM765.8,878.5l3.9-4.5l4.1,3.8l-3.9,4.5zM734.9,922.1l3.9-4.5l4.1,3.7l-3.9,4.5zM755.6,897.9l3.9-4.5l4.1,3.8l-3.9,4.5zM793.5,853.7l3.9-4.5l4,3.9l-3.9,4.5zM800.4,845.7l3.9-4.5l4,3.9l-3.9,4.5zM735.2,929.4l3.9-4.5l4.1,3.7l-3.8,4.5zM742,921.4l3.9-4.5l4.1,3.7l-3.8,4.5zM752.4,909.3l3.9-4.5l4.1,3.8l-3.8,4.5zM773,885.3l3.9-4.5l4,3.8l-3.8,4.5zM804,849.2l3.9-4.5l4,3.9l-3.8,4.5zM821.3,836.6l3.8-4.5l3.9,4l-3.8,4.5zM776.8,896.1l3.8-4.5l4,3.8l-3.8,4.5zM804.2,864.1l3.8-4.5l4,3.9l-3.8,4.5zM811.1,856.2l3.8-4.5l4,3.9l-3.8,4.5zM814.5,852.2l3.8-4.5l4,3.9l-3.8,4.5zM753.1,931.4l3.8-4.5l4.9,4.4l-3.8,4.5zM797.5,879.6l3.8-4.5l4.5,4.2l-3.8,4.5zM811.2,863.6l3.8-4.5l4.3,4.2l-3.8,4.5zM828.3,843.7l3.8-4.5l4.2,4.2l-3.8,4.5zM838.6,831.8l3.8-4.5l4.1,4.1l-3.8,4.5zM842,827.8l3.8-4.5l4.1,4.1l-3.8,4.5zM774.5,915.3l3.8-4.5l4.1,3.8l-3.8,4.5zM828.7,851.4l3.8-4.5l4,3.9l-3.8,4.5zM805.2,886.8l3.8-4.5l4,3.9l-3.8,4.5zM815.3,874.9l3.8-4.5l4,3.9l-3.8,4.5zM832.2,854.9l3.8-4.5l4,3.9l-3.8,4.5zM842.4,843l3.8-4.5l3.9,4l-3.8,4.5zM815.5,882.3l3.8-4.5l4,3.9l-3.8,4.4zM842.5,850.5l3.8-4.5l3.9,4l-3.8,4.4zM785.7,932.8l3.8-4.4l4.1,3.8l-3.8,4.4zM846.6,876.5l3.7-4.4l4,3.9l-3.7,4.4zM810,927.3l3.7-4.4l4,3.9l-3.7,4.4zM870.1,856.4l3.7-4.4l3.9,4l-3.7,4.4zM833.6,907.1l3.7-4.4l4,3.9l-3.7,4.4zM843.6,895.3l3.7-4.4l4,3.9l-3.7,4.4zM857,879.6l3.7-4.4l3.9,4l-3.7,4.4zM833.9,914.5l3.7-4.4l4,3.9l-3.7,4.4zM860.7,890.6l3.7-4.4l3.9,4l-3.7,4.4z"/>
<path fill="#90ff67" d="M516.4,370.6l6.9-5.5l3.1,4.7l-6.8,5.5zM521.9,378.9l6.8-5.5l3.1,4.7l-6.8,5.5zM518.6,387.9l6.8-5.5l3.1,4.7l-6.7,5.4zM527.5,387.2l6.7-5.4l3.1,4.7l-6.7,5.4zM544.4,399.1l6.6-5.3l3,4.7l-6.6,5.3zM543.9,412.1l6.6-5.2l3,4.7l-6.6,5.2zM546.7,416.3l6.6-5.2l3,4.7l-6.6,5.2zM549.4,420.5l6.6-5.2l3,4.7l-6.5,5.2zM558,420l6.5-5.2l3,4.7l-6.5,5.2zM554.6,441.7l6.5-5.1l3.1,4.7l-6.4,5.1zM571.5,441l6.4-5.1l3,4.7l-6.4,5.1zM576.9,462.3l6.2-5l3.1,4.7l-6.2,5zM588,466.1l6.2-5l3,4.7l-6.2,5zM585.2,474.8l6.2-5l3.1,4.7l-6.1,5zM590.7,470.3l6.2-5l3,4.7l-6.1,5zM593.5,487.2l6.1-4.9l3.2,4.8l-6,5zM598.9,482.9l6.1-4.9l3.1,4.7l-6,5zM596.5,491.6l6-5l3.1,4.6l-5.9,5zM602.1,499.8l5.9-5l3.1,4.6l-5.9,4.9zM616.3,520.4l5.8-4.9l3.1,4.6l-5.8,4.8zM621.5,516l5.8-4.9l3.1,4.6l-5.8,4.8zM624,553.7l5.5-4.9l3.3,4.5l-5.5,4.8zM638.8,540.7l5.5-4.9l3.2,4.6l-5.5,4.8zM489.6,698.2l5.5-4.8l3.9,4l-5.4,4.8zM498.1,706.7l5.4-4.8l7,6.6l-5.3,4.9zM531.6,694.6l5.2-4.9l3.9,4l-5.2,4.8zM648.4,586.2l5.2-4.9l3.4,4.4l-5.2,4.8zM515.4,723.2l5.2-4.8l4,3.9l-5.2,4.8zM528.3,718.1l5.2-4.8l4,3.9l-5.2,4.8zM522.6,730.1l5.2-4.8l4,3.9l-5.1,4.8zM531.8,721.6l5.2-4.8l3.9,3.9l-5.1,4.8zM535.4,725.1l5.1-4.8l3.9,3.9l-5.1,4.7zM662.3,614l5.1-4.7l3.4,4.4l-5.1,4.7zM666.8,609.8l5.1-4.7l3.4,4.4l-5.1,4.7zM671.4,605.6l5.1-4.7l3.4,4.4l-5.1,4.7zM546.9,727.7l5.1-4.7l5.7,5.6l-5,4.8zM665.3,617.9l5.1-4.7l3.7,4.6l-5,4.8zM683.6,601.1l5.1-4.7l3.4,4.5l-5,4.8zM543,741.2l5-4.8l7.1,6.5l-4.9,4.8zM567.1,730l4.9-4.8l4,3.9l-4.9,4.8zM663.5,635l4.9-4.8l3.6,4.3l-4.9,4.8zM672.3,626.3l4.9-4.8l3.6,4.3l-4.9,4.8zM556.1,761.7l4.9-4.8l4.1,3.8l-4.8,4.8zM572.7,752.4l4.8-4.8l4,3.9l-4.8,4.8zM563.4,768.5l4.8-4.8l4,3.8l-4.8,4.7zM584.9,747.3l4.8-4.8l4,3.9l-4.8,4.7zM688.3,645.5l4.8-4.8l3.6,4.3l-4.8,4.7zM571.3,767.7l4.8-4.7l4,3.9l-4.8,4.7zM584.2,755l4.8-4.7l4,3.9l-4.8,4.7zM583.5,762.7l4.8-4.7l4,3.9l-4.8,4.7zM702.1,652.8l4.8-4.7l3.5,4.3l-4.8,4.7zM577.6,782l4.8-4.7l8.6,7.6l-4.6,4.8zM586.1,773.6l4.8-4.7l8.3,7.4l-4.6,4.8zM590.4,769.5l4.8-4.7l8.1,7.3l-4.6,4.8zM605.8,775.4l4.6-4.8l4.1,3.8l-4.6,4.8zM609.4,778.8l4.6-4.8l4,3.8l-4.6,4.7zM596.8,799.1l4.6-4.7l4.1,3.8l-4.5,4.7zM722.9,667.9l4.6-4.7l3.6,4.3l-4.5,4.7zM616.7,785.6l4.5-4.7l4,3.8l-4.5,4.7zM620.7,781.4l4.5-4.7l4,3.9l-4.5,4.7zM714,684.4l4.5-4.7l3.7,4.2l-4.5,4.7zM722.1,675.9l4.5-4.7l3.7,4.2l-4.5,4.7zM619.9,796.6l4.5-4.7l4,3.8l-4.5,4.7zM627.9,788.2l4.5-4.7l4,3.9l-4.5,4.7zM635.1,795.1l4.5-4.7l4,3.9l-4.5,4.6zM734.5,707.4l4.3-4.7l3.8,4.1l-4.3,4.7zM738.4,703.1l4.3-4.7l3.8,4.1l-4.3,4.7zM742.2,698.9l4.3-4.7l3.8,4.1l-4.3,4.7zM741.7,706.8l4.3-4.7l3.8,4.1l-4.3,4.7zM745.6,702.6l4.3-4.7l3.8,4.1l-4.3,4.7zM641.2,823.9l4.3-4.7l4.1,3.7l-4.3,4.7zM733.6,723.1l4.3-4.7l3.8,4.1l-4.3,4.7zM741.3,714.7l4.3-4.7l3.8,4.1l-4.3,4.7zM656.4,814.7l4.3-4.7l4.1,3.8l-4.3,4.7zM656,837.2l4.3-4.6l4.1,3.8l-4.2,4.6zM758.6,725.2l4.3-4.6l3.8,4.1l-4.2,4.6zM674.8,824l4.2-4.6l4,3.8l-4.2,4.6zM655.8,852.2l4.2-4.6l4.1,3.8l-4.2,4.6zM678.3,835l4.2-4.6l4.1,3.8l-4.2,4.6zM685.8,826.7l4.2-4.6l4,3.8l-4.2,4.6zM677.2,856.3l4.1-4.7l4.2,3.7l-4.1,4.6zM691.8,839.7l4.1-4.7l4.1,3.8l-4.1,4.6zM761.3,760.6l4.1-4.7l3.9,4l-4.1,4.6zM779.6,739.8l4.1-4.7l3.8,4.1l-4.1,4.6zM680.9,859.6l4.1-4.6l4.2,3.7l-4.1,4.6zM768.5,760l4.1-4.6l3.9,4l-4.1,4.6zM684.7,862.9l4.1-4.6l4.1,3.7l-4.1,4.6zM695.6,850.5l4.1-4.6l4.1,3.8l-4.1,4.6zM764.7,771.9l4.1-4.6l3.9,4l-4.1,4.6zM771.9,763.6l4.1-4.6l3.9,4l-4.1,4.6zM702.9,849.7l4.1-4.6l4.1,3.8l-4,4.6zM692.2,876.9l4-4.6l4.1,3.7l-4,4.6zM764.3,794.9l4-4.6l3.9,4l-4,4.6zM778.7,778.5l4-4.6l3.9,4l-4,4.6zM782.2,782l4-4.6l3.9,4l-4,4.6zM789.4,773.8l4-4.6l3.9,4l-4,4.6zM703.2,879.5l4-4.6l4.1,3.7l-4,4.6zM717.5,863.2l4-4.6l4.1,3.8l-4,4.6zM778.5,793.8l4-4.6l3.9,4l-4,4.6zM721.2,866.5l4-4.6l4.1,3.8l-4,4.5zM710.6,886.2l4-4.5l4.1,3.8l-4,4.5zM781.9,804.9l4-4.5l3.9,4l-4,4.5zM714.1,889.4l4-4.5l5.9,5.1l-3.9,4.6zM796.1,796.3l4-4.5l4.4,4.4l-3.9,4.6zM779.1,824.7l3.9-4.6l4,3.9l-3.9,4.6zM786.1,816.6l3.9-4.6l4,3.9l-3.9,4.6zM793.1,808.4l3.9-4.6l3.9,4l-3.9,4.6zM796.6,804.3l3.9-4.6l3.9,4l-3.9,4.6zM719.8,901.5l3.9-4.6l4.2,3.7l-3.9,4.5zM723.3,897.4l3.9-4.6l4.1,3.7l-3.9,4.5zM793.1,816l3.9-4.6l4,3.9l-3.9,4.5zM800.1,807.9l3.9-4.6l3.9,4l-3.9,4.5zM723.5,904.8l3.9-4.5l4.1,3.7l-3.9,4.5zM747.9,876.4l3.9-4.5l4.1,3.8l-3.9,4.5zM720.3,916.2l3.9-4.5l4.2,3.7l-3.9,4.5zM737.7,895.9l3.9-4.5l4.1,3.8l-3.9,4.5zM751.6,879.7l3.9-4.5l4.1,3.8l-3.9,4.5zM755,875.7l3.9-4.5l4.1,3.8l-3.9,4.5zM758.5,871.6l3.9-4.5l4.1,3.8l-3.9,4.5zM782.8,843.3l3.9-4.5l4,3.9l-3.9,4.5zM807.2,822.5l3.9-4.5l3.9,4l-3.9,4.5zM810.6,818.5l3.9-4.5l3.9,4l-3.9,4.5zM731.2,918.8l3.9-4.5l4.1,3.7l-3.9,4.5zM738.1,910.7l3.9-4.5l4.1,3.7l-3.9,4.5zM758.9,886.5l3.9-4.5l4.1,3.8l-3.9,4.5zM793.4,846.2l3.9-4.5l4,3.9l-3.9,4.5zM803.8,834.1l3.9-4.5l4,3.9l-3.9,4.5zM741.8,914l3.9-4.5l4.1,3.7l-3.9,4.5zM790.1,857.7l3.9-4.5l4,3.9l-3.9,4.5zM745.5,917.4l3.9-4.5l4.1,3.8l-3.8,4.5zM793.7,861.2l3.9-4.5l4,3.9l-3.8,4.5zM814.3,837.1l3.9-4.5l3.9,4l-3.8,4.5zM821.2,829.1l3.9-4.5l3.9,4l-3.8,4.5zM817.8,840.6l3.8-4.5l3.9,4l-3.8,4.5zM746,932l3.8-4.5l4.1,3.7l-3.8,4.5zM749.4,928.1l3.8-4.5l4.1,3.8l-3.8,4.5zM766.6,908.1l3.8-4.5l4.1,3.8l-3.8,4.5zM794,876.1l3.8-4.5l4,3.9l-3.8,4.5zM797.4,872.1l3.8-4.5l4,3.9l-3.8,4.5zM770.2,911.4l3.8-4.5l4.7,4.3l-3.8,4.5zM821.5,851.7l3.8-4.5l4.3,4.2l-3.8,4.5zM824.9,847.7l3.8-4.5l4.2,4.2l-3.8,4.5zM767.7,923.3l3.8-4.5l4.1,3.8l-3.8,4.5zM794.8,891.4l3.8-4.5l4,3.9l-3.8,4.5zM805,879.4l3.8-4.5l4,3.9l-3.8,4.5zM815.1,867.4l3.8-4.5l4,3.9l-3.8,4.5zM825.3,855.4l3.8-4.5l4,3.9l-3.8,4.5zM788.3,906.8l3.8-4.5l4.1,3.8l-3.8,4.5zM835.6,851l3.8-4.5l3.9,4l-3.8,4.5zM845.8,839l3.8-4.5l3.9,4l-3.8,4.5zM798.6,902.2l3.8-4.5l4,3.8l-3.8,4.4zM839.1,854.5l3.8-4.5l3.9,4l-3.8,4.4zM856,834.6l3.8-4.5l3.9,4l-3.8,4.4zM795.5,913.6l3.8-4.4l4.1,3.8l-3.8,4.4zM812.6,901.1l3.8-4.4l4,3.9l-3.8,4.4zM809.5,912.5l3.8-4.4l4,3.9l-3.7,4.4zM809.7,919.9l3.7-4.4l4,3.9l-3.7,4.4zM819.8,908l3.7-4.4l4,3.9l-3.7,4.4zM873.3,844.9l3.7-4.4l3.9,4l-3.7,4.4zM876.7,841l3.7-4.4l3.9,4l-3.7,4.4zM820,915.4l3.7-4.4l4,3.9l-3.7,4.4zM846.8,883.9l3.7-4.4l4,3.9l-3.7,4.4zM853.4,876.1l3.7-4.4l3.9,4l-3.7,4.4zM883.5,840.6l3.7-4.4l3.9,4l-3.7,4.4zM830.5,918.4l3.7-4.4l4,3.9l-3.7,4.4zM867.2,875.3l3.7-4.4l3.9,4l-3.7,4.4zM877.1,863.5l3.7-4.4l3.9,4l-3.7,4.4z"/>
<path fill="#a5ff52" d="M513.6,366.4l6.9-5.5l3.1,4.7l-6.9,5.5zM519.8,361.5l6.9-5.5l3,4.7l-6.9,5.5zM530.7,378.2l6.8-5.5l3,4.7l-6.7,5.4zM530.2,391.4l6.7-5.4l3.1,4.7l-6.7,5.4zM533,395.5l6.7-5.4l3.1,4.7l-6.7,5.4zM541.3,408l6.6-5.3l3,4.6l-6.6,5.2zM552.1,424.6l6.5-5.2l3,4.7l-6.5,5.2zM560.3,437.2l6.5-5.1l3,4.7l-6.4,5.1zM574.1,458.1l6.3-5.1l3.1,4.7l-6.2,5zM579.7,453.6l6.3-5.1l3,4.7l-6.2,5zM593.4,474.5l6.1-5l3,4.7l-6.1,4.9zM596.2,478.7l6.1-4.9l3,4.7l-6.1,4.9zM604.6,491.2l5.9-5l3.1,4.6l-5.9,5zM627.1,524.3l5.8-4.8l3.2,4.6l-5.6,4.9zM625.1,532.9l5.6-4.9l3.3,4.6l-5.6,4.9zM628.9,549.4l5.5-4.9l3.3,4.5l-5.5,4.8zM634.8,557.4l5.5-4.8l3.3,4.5l-5.5,4.8zM639.7,553.1l5.5-4.8l3.3,4.6l-5.5,4.8zM643.6,569.5l5.4-4.8l3.4,4.6l-5.4,4.8zM650,577.9l5.3-4.9l3.4,4.4l-5.2,4.9zM524.7,714.6l5.2-4.8l4,3.9l-5.2,4.8zM659.2,589.7l5.2-4.8l3.4,4.4l-5.2,4.8zM523.7,722.3l5.2-4.8l4,3.9l-5.2,4.8zM534.3,732.8l5.1-4.7l4,3.9l-5.1,4.7zM538.9,728.6l5.1-4.7l3.9,3.9l-5.1,4.7zM547.5,737l5-4.8l7,6.5l-4.9,4.8zM673.2,617.9l5-4.8l3.8,4.6l-4.9,4.8zM554,742.9l4.9-4.8l4,3.8l-4.9,4.8zM557.6,746.3l4.9-4.8l4,3.8l-4.9,4.8zM552.5,758.3l4.9-4.8l4.1,3.8l-4.9,4.8zM568.4,756.6l4.8-4.8l4,3.9l-4.8,4.8zM559.1,772.8l4.8-4.8l4.1,3.8l-4.8,4.7zM562.7,776.2l4.8-4.7l4.1,3.8l-4.8,4.7zM695.8,645.1l4.8-4.7l3.5,4.3l-4.8,4.7zM574.9,771.1l4.8-4.7l4,3.9l-4.8,4.7zM582.8,770.4l4.8-4.7l4,3.9l-4.8,4.7zM581.9,777.8l4.8-4.7l8.4,7.5l-4.6,4.8zM705.3,656.6l4.8-4.7l4,4.6l-4.6,4.8zM593.9,780.6l4.6-4.8l4.1,3.8l-4.6,4.8zM602.1,772l4.6-4.8l4.1,3.8l-4.6,4.8zM589.4,792.5l4.6-4.8l4.1,3.8l-4.6,4.8zM597.6,783.9l4.6-4.8l4.1,3.8l-4.6,4.8zM712.3,664.6l4.6-4.8l3.7,4.2l-4.6,4.8zM593.1,795.8l4.6-4.8l4.1,3.8l-4.6,4.7zM597.2,791.5l4.6-4.8l4.1,3.8l-4.6,4.7zM601.2,787.3l4.6-4.8l4.1,3.8l-4.6,4.7zM605.3,783.1l4.6-4.8l4.1,3.8l-4.6,4.7zM609,786.4l4.6-4.7l4.1,3.8l-4.5,4.7zM613,782.2l4.6-4.7l4,3.8l-4.5,4.7zM725.4,679.7l4.5-4.7l3.7,4.2l-4.5,4.7zM623.9,792.4l4.5-4.7l4,3.8l-4.5,4.7zM619.5,804.2l4.5-4.7l4.1,3.8l-4.5,4.7zM623.1,807.6l4.5-4.7l4,3.8l-4.5,4.6zM627.1,803.4l4.5-4.7l4,3.8l-4.5,4.6zM631.1,799.3l4.5-4.7l4,3.9l-4.5,4.6zM731.2,695.2l4.5-4.7l3.7,4.2l-4.5,4.6zM739.2,686.9l4.5-4.7l3.6,4.3l-4.5,4.6zM630.5,806.7l4.5-4.6l7.7,6.8l-4.3,4.7zM730.5,703.1l4.5-4.6l4.3,4.7l-4.3,4.7zM641.4,816.4l4.3-4.7l4.1,3.8l-4.3,4.7zM734,715.2l4.3-4.7l3.8,4.1l-4.3,4.7zM748.5,714.2l4.3-4.7l3.8,4.1l-4.3,4.7zM748,722l4.3-4.7l3.8,4.1l-4.3,4.7zM755.7,713.7l4.3-4.7l3.8,4.2l-4.3,4.7zM652.3,833.9l4.3-4.7l4.1,3.8l-4.3,4.6zM656.1,829.7l4.3-4.7l4.1,3.8l-4.3,4.6zM659.9,825.6l4.3-4.7l4.1,3.8l-4.3,4.6zM667.6,817.3l4.3-4.7l4.1,3.8l-4.3,4.6zM758.2,733l4.2-4.6l3.8,4.1l-4.2,4.6zM670.9,835.7l4.2-4.6l4.1,3.8l-4.2,4.6zM674.7,831.6l4.2-4.6l4.1,3.8l-4.2,4.6zM678.4,827.4l4.2-4.6l4,3.8l-4.2,4.6zM761.6,736.7l4.2-4.6l3.8,4.1l-4.2,4.6zM674.2,846.4l4.2-4.6l7.1,6.2l-4.1,4.7zM764.5,748.1l4.2-4.6l4.4,4.6l-4.1,4.7zM684.5,848l4.1-4.7l4.1,3.7l-4.1,4.6zM768.6,752.3l4.1-4.7l3.9,4l-4.1,4.6zM691.9,847.2l4.1-4.6l4.1,3.8l-4.1,4.6zM772.1,755.9l4.1-4.6l3.9,4l-4.1,4.6zM673.8,875.3l4.1-4.6l4.2,3.7l-4.1,4.6zM677.4,871.2l4.1-4.6l4.2,3.7l-4.1,4.6zM688.3,858.8l4.1-4.6l4.1,3.7l-4.1,4.6zM684.7,870.3l4.1-4.6l4.2,3.7l-4,4.6zM692,862.1l4.1-4.6l4.1,3.7l-4,4.6zM684.8,877.8l4-4.6l4.2,3.7l-4,4.6zM699.3,861.3l4-4.6l4.1,3.8l-4,4.6zM775.3,774.9l4-4.6l3.9,4l-4,4.6zM695.8,872.8l4-4.6l4.1,3.7l-4,4.6zM771.5,786.7l4-4.6l3.9,4l-4,4.6zM782.3,774.4l4-4.6l3.9,4l-4,4.6zM692.3,884.4l4-4.6l4.1,3.7l-4,4.6zM778.6,786.1l4-4.6l3.9,4l-4,4.6zM713.9,867.2l4-4.6l4.1,3.8l-4,4.6zM782.1,789.7l4-4.6l3.9,4l-4,4.6zM710.5,878.8l4-4.6l4.1,3.8l-4,4.5zM714,874.7l4-4.6l4.1,3.8l-4,4.5zM717.6,870.6l4-4.6l4.1,3.8l-4,4.5zM707,890.2l4-4.5l4.1,3.7l-4,4.5zM714.1,882.1l4-4.5l4.1,3.8l-4,4.5zM785.5,800.9l4-4.5l3.9,4l-4,4.5zM710.6,893.5l4-4.5l6,5.2l-3.9,4.6zM781.8,812.5l4-4.5l4.6,4.5l-3.9,4.6zM789,804.4l4-4.5l4.5,4.4l-3.9,4.6zM719.6,894.1l3.9-4.6l4.1,3.7l-3.9,4.6zM712.8,909.6l3.9-4.6l4.2,3.7l-3.9,4.5zM730.3,889.3l3.9-4.6l4.1,3.7l-3.9,4.5zM716.6,912.9l3.9-4.5l4.2,3.7l-3.9,4.5zM720,908.8l3.9-4.5l4.2,3.7l-3.9,4.5zM800.1,815.5l3.9-4.5l3.9,4l-3.9,4.5zM723.8,912.1l3.9-4.5l4.2,3.7l-3.9,4.5zM727.2,908.1l3.9-4.5l4.1,3.7l-3.9,4.5zM730.7,904l3.9-4.5l4.1,3.7l-3.9,4.5zM803.7,819l3.9-4.5l3.9,4l-3.9,4.5zM734.4,907.4l3.9-4.5l4.1,3.7l-3.9,4.5zM741.3,899.3l3.9-4.5l4.1,3.8l-3.9,4.5zM734.7,914.7l3.9-4.5l4.1,3.7l-3.9,4.5zM807.3,830.1l3.9-4.5l3.9,4l-3.9,4.5zM810.8,833.6l3.9-4.5l3.9,4l-3.9,4.5zM810.9,841.1l3.9-4.5l4,3.9l-3.8,4.5zM817.8,833.1l3.9-4.5l3.9,4l-3.8,4.5zM828.1,821.1l3.9-4.5l3.9,4l-3.8,4.5zM831.6,824.6l3.8-4.5l3.9,4l-3.8,4.5zM817.9,848.2l3.8-4.5l3.9,4l-3.8,4.5zM831.6,832.2l3.8-4.5l3.9,4l-3.8,4.5zM841.9,820.2l3.8-4.5l3.9,4l-3.8,4.5zM835.1,835.7l3.8-4.5l4.1,4.1l-3.8,4.5zM777.9,911.3l3.8-4.5l4.1,3.8l-3.8,4.5zM818.5,863.4l3.8-4.5l4,3.9l-3.8,4.5zM849,827.5l3.8-4.5l3.9,4l-3.8,4.5zM818.7,870.9l3.8-4.5l4,3.9l-3.8,4.5zM855.9,827l3.8-4.5l3.9,4l-3.8,4.5zM829.2,873.9l3.8-4.4l4,3.9l-3.8,4.4zM842.7,858l3.8-4.4l3.9,4l-3.8,4.4zM795.8,920.9l3.8-4.4l4.1,3.8l-3.8,4.4zM802.5,913l3.8-4.4l4,3.8l-3.8,4.4zM805.9,909.1l3.8-4.4l4,3.9l-3.8,4.4zM836.1,873.4l3.8-4.4l4,3.9l-3.8,4.4zM843,873l3.8-4.4l4,3.9l-3.7,4.4zM880,837l3.7-4.4l3.9,4l-3.7,4.4zM830,903.6l3.7-4.4l4,3.9l-3.7,4.4zM833.4,899.7l3.7-4.4l4,3.9l-3.7,4.4zM860.5,883.1l3.7-4.4l3.9,4l-3.7,4.4zM870.7,878.8l3.7-4.4l3.9,4l-3.7,4.4z"/>
<path fill="#b9ff3e" d="M499.1,359l7-5.6l3.1,4.7l-7,5.6zM508.1,358.1l7-5.6l3.1,4.7l-6.9,5.6zM519.2,374.7l6.8-5.5l3.1,4.7l-6.8,5.5zM525.3,369.8l6.8-5.5l3,4.7l-6.8,5.5zM536.2,386.5l6.7-5.4l3,4.7l-6.7,5.4zM535.7,399.7l6.7-5.4l3.1,4.7l-6.6,5.3zM538.5,403.8l6.6-5.3l3.1,4.7l-6.6,5.3zM549.9,407.4l6.6-5.2l3,4.7l-6.6,5.2zM552.6,411.6l6.6-5.2l3,4.7l-6.6,5.2zM555.3,415.8l6.6-5.2l3,4.7l-6.5,5.2zM560.7,424.2l6.5-5.2l3,4.7l-6.5,5.1zM607.4,495.4l5.9-5l3.1,4.6l-5.9,4.9zM610.6,512.1l5.9-4.9l3.1,4.6l-5.8,4.9zM615.8,507.8l5.9-4.9l3.1,4.6l-5.8,4.9zM613.5,516.2l5.8-4.9l3.1,4.6l-5.8,4.9zM624.3,520.2l5.8-4.8l3.1,4.6l-5.8,4.8zM621.9,528.6l5.8-4.8l3.4,4.7l-5.6,4.9zM630.9,541l5.6-4.9l3.3,4.6l-5.5,4.9zM637.8,561.5l5.5-4.8l3.3,4.5l-5.5,4.8zM642.6,557.2l5.5-4.8l3.3,4.6l-5.5,4.8zM645.6,561.2l5.5-4.8l3.3,4.6l-5.4,4.8zM648.5,565.3l5.4-4.8l3.3,4.6l-5.4,4.8zM653.4,561l5.4-4.8l3.2,4.6l-5.4,4.8zM646.7,573.7l5.4-4.8l3.6,4.6l-5.3,4.9zM651.5,569.4l5.4-4.8l3.5,4.5l-5.3,4.9zM645.3,582.2l5.3-4.9l3.4,4.4l-5.2,4.9zM654.7,573.5l5.3-4.9l3.4,4.5l-5.2,4.9zM653.1,581.8l5.2-4.9l3.4,4.4l-5.2,4.8zM657.8,577.5l5.2-4.9l3.4,4.5l-5.2,4.8zM656.1,585.8l5.2-4.8l3.4,4.4l-5.2,4.8zM662.2,593.7l5.2-4.8l3.4,4.4l-5.2,4.8zM660.7,601.9l5.2-4.8l3.4,4.4l-5.1,4.8zM669.9,593.4l5.2-4.8l3.4,4.5l-5.1,4.8zM529.8,737l5.1-4.7l4,3.9l-5.1,4.7zM669.9,613.7l5.1-4.7l3.6,4.6l-5,4.8zM551.9,732.7l5-4.8l6.9,6.4l-4.9,4.8zM677.6,613.6l5-4.8l3.7,4.5l-4.9,4.8zM549.6,747.3l4.9-4.8l4.1,3.8l-4.9,4.8zM676.7,622l4.9-4.8l3.5,4.3l-4.9,4.8zM681.1,617.7l4.9-4.8l3.5,4.3l-4.9,4.8zM688.6,617.3l4.9-4.8l3.5,4.4l-4.9,4.8zM548.1,762.6l4.9-4.8l4.1,3.8l-4.9,4.8zM551.8,766l4.9-4.8l4.1,3.8l-4.8,4.8zM564.8,753.2l4.9-4.8l4,3.9l-4.8,4.8zM690.6,629.3l4.9-4.8l3.5,4.3l-4.8,4.8zM555.5,769.4l4.8-4.8l4.1,3.8l-4.8,4.8zM564.1,760.9l4.8-4.8l4,3.8l-4.8,4.8zM689.4,637.4l4.8-4.8l3.5,4.3l-4.8,4.8zM701.2,632.8l4.8-4.8l3.5,4.4l-4.8,4.7zM575.6,763.5l4.8-4.7l4,3.9l-4.8,4.7zM700.1,640.9l4.8-4.7l3.5,4.3l-4.8,4.7zM570.7,775.4l4.8-4.7l4,3.8l-4.8,4.7zM570,783l4.8-4.7l4,3.8l-4.8,4.7zM574.3,778.8l4.8-4.7l4,3.9l-4.8,4.7zM587.1,766.2l4.8-4.7l4,3.9l-4.8,4.7zM706.4,648.6l4.8-4.7l3.5,4.3l-4.8,4.7zM585.7,789.1l4.6-4.8l4.1,3.8l-4.6,4.8zM713.1,656.6l4.6-4.8l3.6,4.3l-4.6,4.8zM592.7,803.4l4.6-4.7l4.1,3.8l-4.5,4.7zM617.1,778l4.6-4.7l4,3.8l-4.5,4.7zM600.4,802.5l4.5-4.7l4.1,3.8l-4.5,4.7zM604.5,798.3l4.5-4.7l4.1,3.8l-4.5,4.7zM608.6,794l4.5-4.7l4.1,3.8l-4.5,4.7zM612.2,797.4l4.5-4.7l4.1,3.8l-4.5,4.7zM615.8,800.8l4.5-4.7l4.1,3.8l-4.5,4.7zM615.5,808.4l4.5-4.7l4.1,3.8l-4.5,4.7zM738.5,694.8l4.5-4.6l4,4.5l-4.3,4.7zM633.7,824.8l4.3-4.7l4.1,3.7l-4.3,4.7zM648.9,815.5l4.3-4.7l4.1,3.8l-4.3,4.7zM641.1,831.4l4.3-4.7l4.1,3.7l-4.3,4.7zM660.3,810.5l4.3-4.7l4.1,3.8l-4.3,4.7zM637.1,843.1l4.3-4.7l4.2,3.7l-4.3,4.7zM641,838.9l4.3-4.7l4.1,3.7l-4.3,4.7zM660.1,818l4.3-4.7l4.1,3.8l-4.3,4.7zM640.9,846.4l4.3-4.7l4.1,3.7l-4.3,4.6zM663.7,821.4l4.3-4.7l4.1,3.8l-4.3,4.6zM644.6,849.7l4.3-4.6l4.1,3.7l-4.2,4.6zM667.4,824.8l4.3-4.6l4.1,3.8l-4.2,4.6zM663.4,836.5l4.2-4.6l4.1,3.8l-4.2,4.6zM667.1,839.8l4.2-4.6l4.1,3.8l-4.2,4.6zM757.8,740.8l4.2-4.6l3.8,4.1l-4.2,4.6zM655.7,859.6l4.2-4.6l4.1,3.7l-4.2,4.6zM667,847.3l4.2-4.6l4.1,3.8l-4.2,4.6zM757.4,748.6l4.2-4.6l3.8,4.1l-4.2,4.6zM663,858.7l4.2-4.6l7.5,6.4l-4.1,4.7zM670.5,850.5l4.2-4.6l7.2,6.2l-4.1,4.7zM757,756.3l4.2-4.6l4.7,4.7l-4.1,4.7zM768.3,744l4.2-4.6l4.3,4.5l-4.1,4.7zM670,872.1l4.1-4.6l4.2,3.7l-4.1,4.6zM673.6,867.9l4.1-4.6l4.2,3.7l-4.1,4.6zM684.6,855.5l4.1-4.6l4.1,3.7l-4.1,4.6zM695.6,858l4.1-4.6l4.1,3.7l-4,4.6zM775.4,767.2l4.1-4.6l3.9,4l-4,4.6zM692.1,869.5l4-4.6l4.1,3.7l-4,4.6zM706.5,853.1l4-4.6l4.1,3.8l-4,4.6zM778.9,770.8l4-4.6l3.9,4l-4,4.6zM775.1,782.6l4-4.6l3.9,4l-4,4.6zM706.7,868l4-4.6l4.1,3.8l-4,4.6zM785.8,777.9l4-4.6l3.9,4l-4,4.6zM706.8,875.4l4-4.6l4.1,3.8l-4,4.6zM785.6,793.3l4-4.6l3.9,4l-4,4.5zM717.7,878l4-4.5l4.1,3.8l-4,4.5zM789.1,796.8l4-4.5l3.9,4l-4,4.5zM707,897.5l4-4.5l6,5.2l-3.9,4.6zM792.5,800.4l4-4.5l4.4,4.4l-3.9,4.6zM716.1,898.2l3.9-4.6l4.2,3.7l-3.9,4.6zM723.1,890l3.9-4.6l4.1,3.7l-3.9,4.6zM726.8,893.3l3.9-4.6l4.1,3.7l-3.9,4.5zM730.5,896.7l3.9-4.5l4.1,3.7l-3.9,4.5zM796.6,819.5l3.9-4.5l4,3.9l-3.9,4.5zM807.1,814.9l3.9-4.5l3.9,4l-3.9,4.5zM730.9,911.4l3.9-4.5l4.1,3.7l-3.9,4.5zM745,902.6l3.9-4.5l4.1,3.8l-3.9,4.5zM824.5,809.9l3.9-4.5l3.9,4l-3.9,4.5zM814.2,829.6l3.9-4.5l3.9,4l-3.9,4.5zM817.7,825.6l3.9-4.5l3.9,4l-3.9,4.5zM821.1,821.5l3.9-4.5l3.9,4l-3.9,4.5zM831.5,817.1l3.9-4.5l3.9,4l-3.8,4.5zM828.1,828.6l3.8-4.5l3.9,4l-3.8,4.5zM824.8,840.2l3.8-4.5l3.9,4l-3.8,4.5zM756.5,927.4l3.8-4.5l4.9,4.3l-3.8,4.5zM845.4,823.8l3.8-4.5l4,4.1l-3.8,4.5zM848.8,819.8l3.8-4.5l4,4.1l-3.8,4.5zM821.9,859.4l3.8-4.5l4,3.9l-3.8,4.5zM835.5,843.4l3.8-4.5l3.9,4l-3.8,4.5zM791.9,910.2l3.8-4.5l4.1,3.8l-3.8,4.4zM829,866.4l3.8-4.5l4,3.9l-3.8,4.4zM852.6,838.6l3.8-4.5l3.9,4l-3.8,4.4zM785.4,925.5l3.8-4.4l4.1,3.8l-3.8,4.4zM835.9,865.9l3.8-4.4l4,3.9l-3.8,4.4zM852.8,846.1l3.8-4.4l3.9,4l-3.8,4.4zM862.9,834.2l3.8-4.4l3.9,4l-3.8,4.4zM869.6,826.3l3.8-4.4l3.9,4l-3.8,4.4zM816,897.2l3.8-4.4l4,3.9l-3.8,4.4zM826,885.3l3.8-4.4l4,3.9l-3.8,4.4zM876.5,825.9l3.8-4.4l3.9,4l-3.8,4.4zM833,884.8l3.8-4.4l4,3.9l-3.7,4.4zM836.5,888.3l3.7-4.4l4,3.9l-3.7,4.4zM866.6,852.8l3.7-4.4l3.9,4l-3.7,4.4zM813.3,923.3l3.7-4.4l4,3.9l-3.7,4.4zM830.3,911l3.7-4.4l4,3.9l-3.7,4.4zM873.6,859.9l3.7-4.4l3.9,4l-3.7,4.4zM847.2,898.8l3.7-4.4l4,3.9l-3.7,4.4zM857.2,887l3.7-4.4l3.9,4l-3.7,4.4zM893.8,843.9l3.7-4.4l3.9,4l-3.7,4.4zM844.1,910.1l3.7-4.4l4,3.9l-3.7,4.4zM884,863.2l3.7-4.4l3.9,4l-3.7,4.4zM887.3,859.2l3.7-4.4l3.9,4l-3.7,4.4zM897.2,847.5l3.7-4.4l3.9,4l-3.7,4.4z"/>
<path fill="#ceff29" d="M522.5,365.6l6.9-5.5l3,4.7l-6.8,5.5zM528,374l6.8-5.5l3,4.7l-6.8,5.5zM524.7,383l6.8-5.5l3.1,4.7l-6.7,5.4zM533.5,382.4l6.7-5.4l3,4.7l-6.7,5.4zM568.8,436.8l6.4-5.1l3,4.7l-6.4,5.1zM571.4,454l6.3-5.1l3.1,4.7l-6.3,5.1zM601.8,487.1l6-5l3.1,4.6l-5.9,5zM623,541.3l5.6-4.9l3.3,4.5l-5.6,4.9zM635.9,536.6l5.6-4.9l3.2,4.6l-5.5,4.9zM636.8,549.1l5.5-4.8l3.3,4.6l-5.5,4.8zM647.5,552.9l5.5-4.8l3.2,4.6l-5.5,4.8zM656.3,565.1l5.4-4.8l3.4,4.5l-5.3,4.9zM651.5,590.1l5.2-4.8l3.4,4.4l-5.2,4.8zM660.8,581.5l5.2-4.8l3.4,4.5l-5.2,4.8zM665.4,577.2l5.2-4.8l3.4,4.5l-5.2,4.8zM663.8,585.4l5.2-4.8l3.4,4.5l-5.2,4.8zM668.5,581.1l5.2-4.8l3.4,4.5l-5.2,4.8zM665.3,597.6l5.2-4.8l3.4,4.4l-5.1,4.8zM674.5,589.1l5.2-4.8l3.4,4.5l-5.1,4.8zM676,601.3l5.1-4.7l3.4,4.5l-5.1,4.7zM548.8,755l4.9-4.8l4.1,3.8l-4.9,4.8zM684.2,621.6l4.9-4.8l3.5,4.3l-4.9,4.8zM683.1,629.7l4.9-4.8l3.5,4.3l-4.9,4.8zM691.8,621.1l4.9-4.8l3.5,4.4l-4.9,4.8zM686.2,633.6l4.9-4.8l3.5,4.3l-4.8,4.8zM699.2,620.7l4.9-4.8l3.5,4.4l-4.8,4.8zM567.7,764.3l4.8-4.8l4,3.9l-4.8,4.7zM696.9,637l4.8-4.8l3.5,4.3l-4.8,4.7zM705.5,628.5l4.8-4.8l3.5,4.4l-4.8,4.7zM704.4,636.7l4.8-4.7l3.5,4.4l-4.8,4.7zM698.9,649l4.8-4.7l3.5,4.3l-4.8,4.7zM707.5,640.5l4.8-4.7l3.5,4.4l-4.8,4.7zM717.3,652.3l4.6-4.8l3.6,4.3l-4.6,4.8zM585.3,796.7l4.6-4.8l4.1,3.7l-4.6,4.8zM593.5,788.2l4.6-4.8l4.1,3.8l-4.6,4.8zM716.4,660.4l4.6-4.8l3.6,4.3l-4.6,4.8zM715.6,668.4l4.6-4.8l3.7,4.2l-4.6,4.7zM600.8,794.9l4.6-4.7l4.1,3.8l-4.5,4.7zM726.2,671.7l4.5-4.7l3.6,4.3l-4.5,4.7zM608.2,801.6l4.5-4.7l4.1,3.8l-4.5,4.7zM616.2,793.2l4.5-4.7l4,3.8l-4.5,4.7zM607.8,809.2l4.5-4.7l4.1,3.8l-4.5,4.7zM728.7,683.5l4.5-4.7l3.7,4.2l-4.5,4.7zM732,687.3l4.5-4.7l3.7,4.2l-4.5,4.7zM619.1,811.8l4.5-4.7l4.1,3.8l-4.5,4.6zM735.2,691l4.5-4.7l3.7,4.2l-4.5,4.6zM633.8,817.2l4.3-4.7l4.1,3.7l-4.3,4.7zM652.6,818.9l4.3-4.7l4.1,3.8l-4.3,4.7zM752.3,710l4.3-4.7l3.8,4.2l-4.3,4.7zM760,701.6l4.3-4.7l3.7,4.2l-4.3,4.7zM652.4,826.4l4.3-4.7l4.1,3.8l-4.3,4.7zM648.5,838.1l4.3-4.7l4.1,3.7l-4.3,4.6zM751.4,725.7l4.3-4.7l3.8,4.1l-4.3,4.6zM755.2,721.5l4.3-4.7l3.8,4.1l-4.3,4.6zM759.1,717.4l4.3-4.7l3.7,4.2l-4.3,4.6zM648.4,845.5l4.3-4.6l4.1,3.7l-4.2,4.6zM652.2,841.4l4.3-4.6l4.1,3.8l-4.2,4.6zM659.8,833.1l4.3-4.6l4.1,3.8l-4.2,4.6zM762.4,721.1l4.3-4.6l3.7,4.2l-4.2,4.6zM655.9,844.7l4.2-4.6l4.1,3.8l-4.2,4.6zM762,728.9l4.2-4.6l3.8,4.1l-4.2,4.6zM663.3,843.9l4.2-4.6l4.1,3.8l-4.2,4.6zM670.8,843.2l4.2-4.6l4.1,3.8l-4.2,4.6zM682.1,830.9l4.2-4.6l4,3.8l-4.2,4.6zM765,740.4l4.2-4.6l3.8,4.1l-4.2,4.6zM768.7,736.3l4.2-4.6l3.8,4.1l-4.2,4.6zM772.5,732.1l4.2-4.6l3.7,4.2l-4.2,4.6zM775.8,735.8l4.2-4.6l4.1,4.4l-4.1,4.7zM680.9,852.1l4.1-4.7l4.1,3.7l-4.1,4.6zM775.7,751.7l4.1-4.6l3.9,4.1l-4.1,4.6zM681,867l4.1-4.6l4.2,3.7l-4.1,4.6zM779.2,755.3l4.1-4.6l3.9,4.1l-4.1,4.6zM677.5,878.6l4.1-4.6l4.2,3.7l-4,4.6zM681.1,874.5l4.1-4.6l4.2,3.7l-4,4.6zM688.4,866.2l4.1-4.6l4.1,3.7l-4,4.6zM681.2,881.9l4-4.6l4.2,3.7l-4,4.6zM782.5,766.7l4-4.6l3.9,4l-4,4.6zM688.6,881l4-4.6l4.2,3.7l-4,4.6zM699.4,868.7l4-4.6l4.1,3.7l-4,4.6zM785.9,770.2l4-4.6l3.9,4l-4,4.6zM695.9,880.3l4-4.6l4.1,3.7l-4,4.6zM703.1,872.1l4-4.6l4.1,3.8l-4,4.6zM792.9,777.4l4-4.6l3.9,4l-4,4.6zM699.9,898.3l4-4.5l4.1,3.7l-4,4.5zM703.4,894.3l4-4.5l4.1,3.7l-4,4.5zM792.6,792.8l4-4.5l3.9,4l-4,4.5zM803.3,780.6l4-4.5l3.8,4.1l-4,4.5zM703.5,901.6l4-4.5l6.1,5.2l-3.9,4.6zM712.6,902.3l3.9-4.6l4.2,3.7l-3.9,4.6zM726.6,885.9l3.9-4.6l4.1,3.7l-3.9,4.6zM803.6,796.2l3.9-4.6l3.9,4l-3.9,4.6zM716.3,905.6l3.9-4.6l4.2,3.7l-3.9,4.5zM796.6,811.9l3.9-4.6l3.9,4l-3.9,4.5zM803.6,803.8l3.9-4.6l3.9,4l-3.9,4.5zM807.1,799.7l3.9-4.6l3.9,4l-3.9,4.5zM727,900.7l3.9-4.5l4.1,3.7l-3.9,4.5zM807.1,807.4l3.9-4.5l3.9,4l-3.9,4.5zM810.6,803.3l3.9-4.5l3.9,4l-3.9,4.5zM814.1,806.8l3.9-4.5l3.9,4l-3.9,4.5zM817.6,802.8l3.9-4.5l3.9,4l-3.9,4.5zM814.1,814.4l3.9-4.5l3.9,4l-3.9,4.5zM817.6,818l3.9-4.5l3.9,4l-3.9,4.5zM824.6,825.1l3.9-4.5l3.9,4l-3.8,4.5zM771.1,919.3l3.8-4.5l4.1,3.8l-3.8,4.5zM832.1,847.4l3.8-4.5l3.9,4l-3.8,4.5zM839,847l3.8-4.5l3.9,4l-3.8,4.5zM849.3,842.5l3.8-4.5l3.9,4l-3.8,4.4zM862.8,826.6l3.8-4.5l3.9,4l-3.8,4.4zM771.9,941.3l3.8-4.4l4.1,3.8l-3.8,4.4zM849.9,872.5l3.7-4.4l3.9,4l-3.7,4.4zM880.3,852.1l3.7-4.4l3.9,4l-3.7,4.4zM890.3,840.3l3.7-4.4l3.9,4l-3.7,4.4zM870.5,871.3l3.7-4.4l3.9,4l-3.7,4.4zM893.9,851.4l3.7-4.4l3.9,4l-3.7,4.4z"/>
<path fill="#e2ff15" d="M582.5,457.8l6.2-5l3,4.7l-6.2,5zM610.2,499.5l5.9-4.9l3.1,4.6l-5.9,4.9zM641.7,544.7l5.5-4.8l3.2,4.6l-5.5,4.8zM644.6,548.8l5.5-4.8l3.2,4.6l-5.5,4.8zM650.5,556.9l5.5-4.8l3.2,4.6l-5.4,4.8zM671.5,585.1l5.2-4.8l3.4,4.5l-5.2,4.8zM672.9,597.3l5.1-4.8l3.4,4.5l-5.1,4.7zM680.5,597.1l5.1-4.7l3.4,4.5l-5.1,4.7zM674.4,609.5l5.1-4.7l3.5,4.6l-5,4.8zM685.5,613.4l4.9-4.8l3.5,4.4l-4.9,4.8zM689.8,609.1l4.9-4.8l3.5,4.4l-4.9,4.8zM687.4,625.4l4.9-4.8l3.5,4.3l-4.9,4.8zM559.8,765.1l4.8-4.8l4,3.8l-4.8,4.8zM693.7,633.2l4.8-4.8l3.5,4.3l-4.8,4.8zM566.4,779.6l4.8-4.7l4,3.8l-4.8,4.7zM578.5,774.6l4.8-4.7l4,3.9l-4.8,4.7zM710.6,644.4l4.8-4.7l3.5,4.4l-4.8,4.7zM709.5,652.5l4.8-4.7l3.9,4.5l-4.6,4.8zM713.8,648.3l4.8-4.7l3.7,4.4l-4.6,4.8zM581.6,793.4l4.6-4.8l4.1,3.7l-4.6,4.8zM589,800l4.6-4.8l4.1,3.7l-4.6,4.7zM719.7,664.2l4.6-4.8l3.6,4.3l-4.6,4.7zM723.8,659.9l4.6-4.8l3.6,4.3l-4.6,4.7zM604.9,790.7l4.6-4.7l4.1,3.8l-4.5,4.7zM727,663.7l4.6-4.7l3.6,4.3l-4.5,4.7zM600.1,810l4.5-4.7l4.1,3.8l-4.5,4.7zM604.1,805.8l4.5-4.7l4.1,3.8l-4.5,4.7zM611.8,805l4.5-4.7l4.1,3.8l-4.5,4.7zM734.5,698.9l4.5-4.6l4.2,4.6l-4.3,4.7zM648.8,823l4.3-4.7l4.1,3.8l-4.3,4.7zM648.6,830.6l4.3-4.7l4.1,3.8l-4.3,4.7zM759.5,709.5l4.3-4.7l3.7,4.2l-4.3,4.7zM644.7,842.2l4.3-4.7l4.1,3.7l-4.3,4.6zM762.9,713.2l4.3-4.7l3.7,4.2l-4.3,4.6zM766.7,709l4.3-4.7l3.7,4.2l-4.3,4.6zM770.5,704.9l4.3-4.7l3.7,4.2l-4.3,4.6zM663.6,828.9l4.3-4.6l4.1,3.8l-4.2,4.6zM652.1,848.9l4.2-4.6l4.1,3.7l-4.2,4.6zM659.7,840.6l4.2-4.6l4.1,3.8l-4.2,4.6zM659.6,848.1l4.2-4.6l4.1,3.8l-4.2,4.6zM780,723.9l4.2-4.6l3.7,4.2l-4.2,4.6zM659.2,862.8l4.2-4.6l7.6,6.4l-4.1,4.7zM666.3,868.8l4.1-4.7l4.2,3.7l-4.1,4.6zM673.6,860.5l4.1-4.7l4.2,3.7l-4.1,4.6zM772.3,748.1l4.1-4.7l3.9,4.1l-4.1,4.6zM688.2,851.3l4.1-4.6l4.1,3.7l-4.1,4.6zM779,763.1l4.1-4.6l3.9,4l-4,4.6zM688.5,873.6l4-4.6l4.1,3.7l-4,4.6zM771.6,779l4-4.6l3.9,4l-4,4.6zM685,885.2l4-4.6l4.2,3.7l-4,4.6zM789.6,766.1l4-4.6l3.9,4.1l-4,4.6zM696,887.7l4-4.6l4.1,3.7l-4,4.6zM785.7,785.6l4-4.6l3.9,4l-4,4.6zM706.9,882.8l4-4.6l4.1,3.8l-4,4.5zM792.7,785.1l4-4.6l3.9,4l-4,4.5zM799.8,784.6l4-4.5l3.9,4l-4,4.5zM799.6,792.3l4-4.5l4.3,4.3l-3.9,4.6zM709.1,906.3l3.9-4.6l4.2,3.7l-3.9,4.6zM800.1,800.3l3.9-4.6l3.9,4l-3.9,4.6zM810.6,795.7l3.9-4.6l3.9,4l-3.9,4.5zM803.6,811.4l3.9-4.5l3.9,4l-3.9,4.5zM814.1,799.2l3.9-4.5l3.9,4l-3.9,4.5zM817.5,795.2l3.9-4.5l3.9,4l-3.9,4.5zM817.6,810.4l3.9-4.5l3.9,4l-3.9,4.5zM810.7,826.1l3.9-4.5l3.9,4l-3.9,4.5zM731.5,926.1l3.9-4.5l4.1,3.7l-3.9,4.5zM821.4,844.2l3.8-4.5l3.9,4l-3.8,4.5zM828.2,836.2l3.8-4.5l3.9,4l-3.8,4.5zM838.5,824.2l3.8-4.5l3.9,4l-3.8,4.5zM754.1,939.3l3.8-4.5l4.1,3.7l-3.8,4.5zM849.1,835l3.8-4.5l3.9,4l-3.8,4.5zM839.7,876.9l3.8-4.4l4,3.9l-3.7,4.4zM833.2,892.3l3.7-4.4l4,3.9l-3.7,4.4zM823.4,911.5l3.7-4.4l4,3.9l-3.7,4.4zM860.1,868.2l3.7-4.4l3.9,4l-3.7,4.4zM880.2,844.6l3.7-4.4l3.9,4l-3.7,4.4zM850.7,902.3l3.7-4.4l4,3.9l-3.7,4.4zM857.4,894.5l3.7-4.4l4,3.9l-3.7,4.4z"/>
<path fill="#f7f600" d="M539,390.7l6.7-5.4l3,4.7l-6.7,5.4zM541.7,394.9l6.7-5.4l3,4.7l-6.6,5.3zM563.4,428.4l6.5-5.1l3,4.7l-6.5,5.1zM566.1,432.6l6.5-5.1l3,4.7l-6.4,5.1zM630.1,528.5l5.6-4.9l3.2,4.6l-5.6,4.9zM659.4,569.2l5.3-4.9l3.4,4.5l-5.2,4.9zM662.4,573.2l5.2-4.9l3.4,4.5l-5.2,4.8zM666.9,589.4l5.2-4.8l3.4,4.5l-5.2,4.8zM668.3,601.6l5.1-4.8l3.4,4.4l-5.1,4.7zM679,605.3l5.1-4.7l3.4,4.5l-5,4.8zM693,613l4.9-4.8l3.5,4.4l-4.9,4.8zM696.1,616.9l4.9-4.8l3.5,4.4l-4.9,4.8zM698.1,628.9l4.8-4.8l3.5,4.4l-4.8,4.8zM708.6,632.4l4.8-4.7l3.5,4.4l-4.8,4.7zM711.8,636.3l4.8-4.7l3.5,4.4l-4.8,4.7zM714.9,640.2l4.8-4.7l3.5,4.4l-4.8,4.7zM596.4,806.7l4.5-4.7l4.1,3.8l-4.5,4.7zM729.5,675.5l4.5-4.7l3.6,4.3l-4.5,4.7zM603.7,813.4l4.5-4.7l4.1,3.8l-4.5,4.7zM732.7,679.3l4.5-4.7l3.6,4.3l-4.5,4.7zM736,683.1l4.5-4.7l3.6,4.3l-4.5,4.7zM740,678.9l4.5-4.7l3.6,4.3l-4.5,4.7zM611.1,820.1l4.5-4.7l4.1,3.8l-4.5,4.6zM615.1,815.9l4.5-4.7l4.1,3.8l-4.5,4.6zM743.3,682.7l4.5-4.7l3.6,4.3l-4.5,4.6zM618.5,819.1l4.5-4.6l8.1,7.1l-4.3,4.7zM626.5,810.8l4.5-4.6l7.8,6.9l-4.3,4.7zM746.5,686.5l4.5-4.6l3.8,4.3l-4.3,4.7zM630,821.5l4.3-4.7l4.1,3.7l-4.3,4.7zM637.7,813l4.3-4.7l4.1,3.7l-4.3,4.7zM746.1,694.7l4.3-4.7l3.7,4.2l-4.3,4.7zM626,833.2l4.3-4.7l4.2,3.7l-4.3,4.7zM645.1,819.7l4.3-4.7l4.1,3.8l-4.3,4.7zM637.3,835.6l4.3-4.7l4.1,3.7l-4.3,4.7zM767.2,701.2l4.3-4.7l3.7,4.2l-4.3,4.7zM765.8,724.8l4.2-4.6l3.7,4.2l-4.2,4.6zM773.4,716.5l4.2-4.6l3.7,4.2l-4.2,4.6zM652,856.3l4.2-4.6l4.1,3.7l-4.2,4.6zM765.4,732.6l4.2-4.6l3.8,4.1l-4.2,4.6zM769.1,728.5l4.2-4.6l3.7,4.2l-4.2,4.6zM669.9,864.6l4.1-4.7l4.2,3.7l-4.1,4.6zM783,743.4l4.1-4.6l3.8,4.1l-4.1,4.6zM775.6,759.5l4.1-4.6l3.9,4l-4.1,4.6zM782.7,758.9l4.1-4.6l3.9,4.1l-4,4.6zM786.3,754.8l4.1-4.6l3.8,4.1l-4,4.6zM793.2,762l4-4.6l3.8,4.1l-4,4.6zM800.2,761.6l4-4.6l3.8,4.1l-4,4.6zM699.6,883.6l4-4.6l4.1,3.7l-4,4.6zM789.3,781.5l4-4.6l3.9,4l-4,4.6zM703.3,886.9l4-4.6l4.1,3.7l-4,4.5zM803.2,788.2l4-4.5l4.2,4.3l-3.9,4.6zM806.8,784.2l4-4.5l4.2,4.3l-3.9,4.6zM814.1,791.6l3.9-4.6l3.9,4l-3.9,4.5zM821,791.1l3.9-4.5l3.9,4l-3.9,4.5zM810.6,810.9l3.9-4.5l3.9,4l-3.9,4.5zM824.5,802.3l3.9-4.5l3.9,4l-3.9,4.5zM821.1,814l3.9-4.5l3.9,4l-3.9,4.5zM824.6,817.5l3.9-4.5l3.9,4l-3.9,4.5zM828,813.5l3.9-4.5l3.9,4l-3.9,4.5zM835,820.6l3.8-4.5l3.9,4l-3.8,4.5zM838.4,816.6l3.8-4.5l3.9,4l-3.8,4.5zM862.7,819.1l3.8-4.5l3.9,4l-3.8,4.5zM825.6,870.4l3.8-4.5l4,3.9l-3.8,4.4zM869.5,818.7l3.8-4.5l3.9,4l-3.8,4.4zM872.9,814.7l3.8-4.5l3.9,4l-3.8,4.4zM829.4,881.3l3.8-4.4l4,3.9l-3.8,4.4zM819.5,900.6l3.8-4.4l4,3.9l-3.7,4.4zM839.9,884.4l3.7-4.4l4,3.9l-3.7,4.4zM843.4,887.9l3.7-4.4l4,3.9l-3.7,4.4zM876.8,848.5l3.7-4.4l3.9,4l-3.7,4.4zM840.8,914.1l3.7-4.4l4,3.9l-3.7,4.4zM880.6,867.1l3.7-4.4l3.9,4l-3.7,4.4z"/>
<path fill="#ffde00" d="M677.5,593.1l5.1-4.8l3.4,4.5l-5.1,4.7zM686.6,605.1l5-4.8l3.5,4.4l-4.9,4.8zM694.9,625l4.9-4.8l3.5,4.4l-4.8,4.8zM702.4,624.6l4.8-4.8l3.5,4.4l-4.8,4.8zM718,644.1l4.8-4.7l3.6,4.3l-4.6,4.8zM721.4,648.1l4.6-4.8l3.6,4.3l-4.6,4.8zM720.5,656.1l4.6-4.8l3.6,4.3l-4.6,4.8zM730.3,667.5l4.5-4.7l3.6,4.3l-4.5,4.7zM734.3,663.3l4.5-4.7l3.6,4.3l-4.5,4.7zM733.5,671.3l4.5-4.7l3.6,4.3l-4.5,4.7zM740.8,670.9l4.5-4.7l3.6,4.3l-4.5,4.7zM611.4,812.6l4.5-4.7l4.1,3.8l-4.5,4.7zM622.5,815l4.5-4.6l7.9,7l-4.3,4.7zM742.5,690.6l4.5-4.6l3.9,4.4l-4.3,4.7zM622.2,829.9l4.3-4.7l4.2,3.7l-4.3,4.7zM750,690.5l4.3-4.7l3.7,4.2l-4.3,4.7zM637.5,820.6l4.3-4.7l4.1,3.7l-4.3,4.7zM753.3,694.2l4.3-4.7l3.7,4.2l-4.3,4.7zM633.5,832.3l4.3-4.7l4.1,3.7l-4.3,4.7zM637.4,828.1l4.3-4.7l4.1,3.7l-4.3,4.7zM752.8,702.1l4.3-4.7l3.7,4.2l-4.3,4.7zM756.7,697.9l4.3-4.7l3.7,4.2l-4.3,4.7zM644.9,827.2l4.3-4.7l4.1,3.8l-4.3,4.7zM756.2,705.8l4.3-4.7l3.7,4.2l-4.3,4.7zM763.8,697.4l4.3-4.7l3.7,4.2l-4.3,4.7zM644.8,834.7l4.3-4.7l4.1,3.7l-4.3,4.7zM763.3,705.3l4.3-4.7l3.7,4.2l-4.3,4.7zM659.5,855.5l4.2-4.6l4.1,3.8l-4.2,4.6zM666.7,854.6l4.2-4.6l7.3,6.3l-4.1,4.7zM783.3,735.6l4.1-4.7l3.8,4.1l-4.1,4.6zM677.3,863.8l4.1-4.6l4.2,3.7l-4.1,4.6zM779.4,747.6l4.1-4.6l3.8,4.1l-4.1,4.6zM796.6,765.7l4-4.6l3.8,4.1l-4,4.6zM692.4,891.7l4-4.6l4.2,3.7l-4,4.6zM796.4,773.4l4-4.6l3.8,4.1l-4,4.6zM699.7,891l4-4.6l4.1,3.7l-4,4.5zM796.3,781l4-4.6l3.9,4l-4,4.5zM799.9,777l4-4.6l3.8,4.1l-4,4.5zM717.7,885.4l4-4.5l5.8,5.1l-3.9,4.6zM807.1,792.1l3.9-4.6l3.9,4l-3.9,4.6zM814.1,783.9l3.9-4.6l3.9,4l-3.9,4.6zM821,806.4l3.9-4.5l3.9,4l-3.9,4.5zM831.4,794.2l3.9-4.5l3.9,4l-3.9,4.5zM831.5,809.5l3.9-4.5l3.9,4l-3.9,4.5zM835,813.1l3.9-4.5l3.9,4l-3.8,4.5zM838.4,809l3.9-4.5l3.9,4l-3.8,4.5zM845.3,816.2l3.8-4.5l3.9,4l-3.8,4.5zM848.8,812.2l3.8-4.5l3.9,4l-3.8,4.5zM852.2,815.8l3.8-4.5l4,4.1l-3.8,4.5zM845.6,831.5l3.8-4.5l3.9,4l-3.8,4.5zM855.8,819.5l3.8-4.5l3.9,4l-3.8,4.5zM859.3,823.1l3.8-4.5l3.9,4l-3.8,4.5zM822.3,874.4l3.8-4.5l4,3.9l-3.8,4.4zM859.4,830.6l3.8-4.5l3.9,4l-3.8,4.4zM849.4,850.1l3.8-4.4l3.9,4l-3.8,4.4zM873,822.3l3.8-4.4l3.9,4l-3.8,4.4zM873.2,837.4l3.8-4.4l3.9,4l-3.7,4.4zM867,867.8l3.7-4.4l3.9,4l-3.7,4.4zM887,844.2l3.7-4.4l3.9,4l-3.7,4.4zM873.8,867.4l3.7-4.4l3.9,4l-3.7,4.4zM877.3,871l3.7-4.4l3.9,4l-3.7,4.4z"/>
<path fill="#ffc600" d="M682.1,609.3l5-4.8l3.6,4.4l-4.9,4.8zM727.8,655.7l4.6-4.8l3.6,4.3l-4.6,4.7zM737.6,667.1l4.5-4.7l3.6,4.3l-4.5,4.7zM736.8,675.1l4.5-4.7l3.6,4.3l-4.5,4.7zM614.5,823.3l4.5-4.6l8.2,7.2l-4.3,4.7zM750.5,682.3l4.5-4.6l3.6,4.3l-4.3,4.7zM629.8,829l4.3-4.7l4.2,3.7l-4.3,4.7zM749.5,698.4l4.3-4.7l3.7,4.2l-4.3,4.7zM629.7,836.5l4.3-4.7l4.2,3.7l-4.3,4.7zM633.4,839.8l4.3-4.7l4.2,3.7l-4.3,4.7zM766.2,716.9l4.3-4.6l3.7,4.2l-4.2,4.6zM770,712.8l4.3-4.6l3.7,4.2l-4.2,4.6zM769.6,720.6l4.2-4.6l3.7,4.2l-4.2,4.6zM783.8,719.8l4.2-4.6l3.7,4.2l-4.2,4.6zM779.6,731.7l4.2-4.6l4,4.3l-4.1,4.7zM776,744l4.1-4.7l3.8,4.1l-4.1,4.6zM782.8,751.2l4.1-4.6l3.8,4.1l-4.1,4.6zM786.5,747l4.1-4.6l3.8,4.1l-4.1,4.6zM797.2,742.4l4.1-4.6l3.8,4.1l-4,4.6zM786.1,762.5l4-4.6l3.9,4.1l-4,4.6zM789.7,758.4l4-4.6l3.8,4.1l-4,4.6zM793,769.8l4-4.6l3.9,4.1l-4,4.6zM803.6,765.2l4-4.6l3.8,4.1l-4,4.6zM810.5,772.5l4-4.5l3.8,4.1l-4,4.5zM824.5,794.7l3.9-4.5l3.9,4l-3.9,4.5zM859.2,815.5l3.8-4.5l3.9,4l-3.8,4.5zM852.5,831l3.8-4.5l3.9,4l-3.8,4.5zM822.7,889.3l3.8-4.4l4,3.9l-3.8,4.4zM879.9,829.5l3.8-4.4l3.9,4l-3.7,4.4zM853.3,868.6l3.7-4.4l3.9,4l-3.7,4.4zM886.9,836.7l3.7-4.4l3.9,4l-3.7,4.4zM826.9,915l3.7-4.4l4,3.9l-3.7,4.4z"/>
<path fill="#ffaf00" d="M724.6,651.9l4.6-4.8l3.6,4.3l-4.6,4.8zM731.1,659.5l4.6-4.7l3.6,4.3l-4.5,4.7zM747.3,678.5l4.5-4.7l3.6,4.3l-4.5,4.6zM753.9,686.2l4.3-4.7l3.7,4.2l-4.3,4.7zM760.5,693.7l4.3-4.7l3.7,4.2l-4.3,4.7zM773.8,708.6l4.3-4.6l3.7,4.2l-4.2,4.6zM777.1,712.3l4.2-4.6l3.7,4.2l-4.2,4.6zM772.9,724.3l4.2-4.6l3.7,4.2l-4.2,4.6zM789.9,750.7l4.1-4.6l3.8,4.1l-4,4.6zM796.8,757.9l4-4.6l3.8,4.1l-4,4.6zM803.5,772.9l4-4.6l3.8,4.1l-4,4.5zM806.9,776.5l4-4.5l3.8,4.1l-4,4.5zM810.3,780.1l4-4.5l4.1,4.2l-3.9,4.6zM810.6,788l3.9-4.6l3.9,4l-3.9,4.6zM817.5,787.5l3.9-4.6l3.9,4l-3.9,4.5zM828,805.9l3.9-4.5l3.9,4l-3.9,4.5zM841.8,789.8l3.9-4.5l3.9,4.1l-3.9,4.5zM845.3,801l3.9-4.5l3.9,4l-3.8,4.5zM841.9,812.6l3.8-4.5l3.9,4l-3.8,4.5zM845.3,808.6l3.8-4.5l3.9,4l-3.8,4.5zM848.7,804.6l3.8-4.5l3.9,4.1l-3.8,4.5zM869.4,811.1l3.8-4.5l3.9,4l-3.8,4.5zM866.2,830.2l3.8-4.4l3.9,4l-3.8,4.4zM832.8,877.4l3.8-4.4l4,3.9l-3.8,4.4zM873.1,829.8l3.8-4.4l3.9,4l-3.8,4.4zM863.3,856.8l3.7-4.4l3.9,4l-3.7,4.4zM886.7,829.1l3.7-4.4l3.9,4l-3.7,4.4zM890.2,832.7l3.7-4.4l3.9,4l-3.7,4.4zM897.1,840l3.7-4.4l3.9,4l-3.7,4.4z"/>
<path fill="#ff9700" d="M626.1,825.7l4.3-4.7l4.2,3.7l-4.3,4.7zM776.7,720.2l4.2-4.6l3.7,4.2l-4.2,4.6zM776.3,728l4.2-4.6l3.7,4.2l-4.2,4.6zM783.4,727.6l4.2-4.6l3.9,4.2l-4.1,4.7zM787.1,723.5l4.2-4.6l3.8,4.1l-4.1,4.7zM786.9,731.5l4.1-4.7l3.8,4.1l-4.1,4.6zM790.3,735.1l4.1-4.6l3.8,4.1l-4.1,4.6zM790.1,742.9l4.1-4.6l3.8,4.1l-4.1,4.6zM804.2,742l4-4.6l3.8,4.1l-4,4.6zM800,769.3l4-4.6l3.8,4.1l-4,4.6zM817.6,779.9l3.9-4.6l3.9,4l-3.9,4.6zM821,783.5l3.9-4.6l3.9,4l-3.9,4.5zM824.5,787.1l3.9-4.5l3.9,4l-3.9,4.5zM821,798.7l3.9-4.5l3.9,4l-3.9,4.5zM834.9,790.2l3.9-4.5l3.9,4l-3.9,4.5zM834.9,805.5l3.9-4.5l3.9,4l-3.9,4.5zM845.3,793.4l3.9-4.5l3.9,4.1l-3.9,4.5zM852.4,823.5l3.8-4.5l3.9,4l-3.8,4.5zM856.1,842.1l3.8-4.4l3.9,4l-3.8,4.4zM866.4,837.8l3.8-4.4l3.9,4l-3.8,4.4zM869.9,841.3l3.8-4.4l3.9,4l-3.7,4.4zM850.1,880l3.7-4.4l4,4l-3.7,4.4z"/>
<path fill="#ff8000" d="M607.4,816.7l4.5-4.7l4.1,3.8l-4.5,4.7zM780.5,716.1l4.2-4.6l3.7,4.2l-4.2,4.6zM790.6,727.3l4.1-4.7l3.8,4.1l-4.1,4.6zM786.7,739.3l4.1-4.6l3.8,4.1l-4.1,4.6zM797.4,734.6l4.1-4.6l3.8,4.1l-4.1,4.6zM793.5,746.6l4.1-4.6l3.8,4.1l-4,4.6zM793.3,754.3l4-4.6l3.8,4.1l-4,4.6zM803.8,757.5l4-4.6l3.8,4.1l-4,4.6zM807.4,753.4l4-4.6l3.8,4.1l-4,4.6zM807.1,768.8l4-4.6l3.8,4.1l-4,4.5zM821.2,760.3l4-4.5l3.8,4.1l-4,4.5zM824.6,771.7l3.9-4.6l3.9,4.1l-3.9,4.6zM834.9,782.5l3.9-4.5l3.9,4.1l-3.9,4.5zM828,798.3l3.9-4.5l3.9,4l-3.9,4.5zM831.5,801.9l3.9-4.5l3.9,4l-3.9,4.5zM838.4,801.4l3.9-4.5l3.9,4l-3.9,4.5zM855.6,804.2l3.8-4.5l3.9,4.1l-3.8,4.5zM826.2,892.7l3.8-4.4l4,3.9l-3.7,4.4zM883.3,825.5l3.8-4.4l3.9,4l-3.7,4.4zM870,848.9l3.7-4.4l3.9,4l-3.7,4.4z"/>
<path fill="#ff6800" d="M744,674.7l4.5-4.7l3.6,4.3l-4.5,4.7zM757.2,690l4.3-4.7l3.7,4.2l-4.3,4.7zM800.8,738.3l4.1-4.6l3.8,4.1l-4,4.6zM804,749.7l4-4.6l3.8,4.1l-4,4.6zM807.2,761.1l4-4.6l3.8,4.1l-4,4.6zM817.8,756.6l4-4.6l3.8,4.1l-4,4.5zM814,768.4l4-4.5l3.8,4.1l-4,4.5zM813.9,776.1l4-4.5l4,4.2l-3.9,4.6zM821.1,775.8l3.9-4.6l3.9,4l-3.9,4.6zM828,790.6l3.9-4.5l3.9,4l-3.9,4.5zM831.4,786.6l3.9-4.5l3.9,4l-3.9,4.5zM841.8,782.1l3.9-4.5l3.8,4.1l-3.9,4.5zM834.9,797.8l3.9-4.5l3.9,4l-3.9,4.5zM848.7,797l3.9-4.5l3.9,4.1l-3.8,4.5zM859.1,807.8l3.8-4.5l3.9,4.1l-3.8,4.5zM862.6,811.5l3.8-4.5l3.9,4l-3.8,4.5zM876.4,818.3l3.8-4.4l3.9,4l-3.8,4.4zM883.8,855.7l3.7-4.4l3.9,4l-3.7,4.4zM890.6,855.3l3.7-4.4l3.9,4l-3.7,4.4zM900.6,843.6l3.7-4.4l3.9,4l-3.7,4.4z"/>
<path fill="#ff5000" d="M794,731l4.1-4.6l3.8,4.1l-4.1,4.6zM793.7,738.8l4.1-4.6l3.8,4.1l-4.1,4.6zM796.9,750.2l4-4.6l3.8,4.1l-4,4.6zM800.4,753.8l4-4.6l3.8,4.1l-4,4.6zM807.6,745.6l4-4.6l3.8,4.1l-4,4.6zM814.4,753l4-4.6l3.8,4.1l-4,4.6zM810.6,764.8l4-4.6l3.8,4.1l-4,4.5zM821,768l4-4.5l3.9,4.1l-3.9,4.6zM828.1,767.6l3.9-4.6l3.8,4.1l-3.9,4.6zM824.5,779.4l3.9-4.6l3.9,4l-3.9,4.5zM838.4,793.8l3.9-4.5l3.9,4l-3.9,4.5zM841.8,805l3.9-4.5l3.9,4l-3.8,4.5zM852.2,793l3.9-4.5l3.8,4.1l-3.8,4.5zM855.6,796.6l3.8-4.5l3.8,4.1l-3.8,4.5zM866,815.1l3.8-4.5l3.9,4l-3.8,4.5zM863,841.7l3.8-4.4l3.9,4l-3.8,4.4zM869.7,833.8l3.8-4.4l3.9,4l-3.8,4.4z"/>
<path fill="#ff3900" d="M810.8,757l4-4.6l3.8,4.1l-4,4.6zM814.2,760.7l4-4.6l3.8,4.1l-4,4.5zM817.5,772l4-4.5l4,4.2l-3.9,4.6zM828,783l3.9-4.5l3.9,4l-3.9,4.5zM838.4,786.2l3.9-4.5l3.9,4.1l-3.9,4.5zM845.3,785.7l3.9-4.5l3.8,4.1l-3.9,4.5zM841.8,797.4l3.9-4.5l3.9,4l-3.9,4.5zM848.7,789.4l3.9-4.5l3.8,4.1l-3.9,4.5zM852.2,800.6l3.8-4.5l3.9,4.1l-3.8,4.5zM859.1,800.2l3.8-4.5l3.8,4.1l-3.8,4.5zM866.1,822.7l3.8-4.5l3.9,4l-3.8,4.4z"/>
<path fill="#ff2100" d="M800.6,746.1l4-4.6l3.8,4.1l-4,4.6zM811,749.3l4-4.6l3.8,4.1l-4,4.6zM824.6,763.9l4-4.5l3.8,4.1l-3.9,4.6zM828,775.3l3.9-4.6l3.9,4.1l-3.9,4.5zM831.5,771.2l3.9-4.6l3.8,4.1l-3.9,4.5zM835,774.9l3.9-4.5l3.8,4.1l-3.9,4.5zM893.7,836.4l3.7-4.4l3.9,4l-3.7,4.4z"/>
<path fill="#f30900" d="M817.6,764.3l4-4.5l3.8,4.1l-4,4.5zM838.4,778.5l3.9-4.5l3.8,4.1l-3.9,4.5zM866,807.5l3.8-4.5l3.9,4l-3.8,4.5z"/>
<path fill="#d60000" d="M831.5,778.9l3.9-4.5l3.9,4.1l-3.9,4.5zM862.5,803.9l3.8-4.5l3.9,4.1l-3.8,4.5zM876.6,833.4l3.8-4.4l3.9,4l-3.7,4.4z"/>
<path fill="#b90000" d="M852.2,808.2l3.8-4.5l3.9,4.1l-3.8,4.5z"/>
<path fill="#9c0000" d="M879.8,821.9l3.8-4.4l3.9,4l-3.8,4.4z"/>
<path fill="#800000" d="M855.7,811.8l3.8-4.5l3.9,4.1l-3.8,4.5z"/>
<g fill="none" stroke-width="1.3" shape-rendering="auto">
<path stroke="#000080" d="M541.5 567.9l3.7 4.6"/>
<path stroke="#00009c" d="M648.3 724l5.1 5.2M499.1 531l5.3 6.6"/>
<path stroke="#0000b9" d="M634.3 697.5l4.2 4.5M578.2 582.5l4.5 5.6M472.7 495.4l5.4 6.8M771 935.1l4.9 4.5M450.7 377.7l4.1 5.5M509.7 576.9l4.7 5.6M533.3 531.5l4.7 5.7M825.7 859.6l5.1 5"/>
<path stroke="#0000d6" d="M530.2 548.9l4.2 5.2M537.4 560.1l3.3 4.1M610.3 658.5l4.2 4.8M637.1 710.4l5 5.4M538.3 542.2l5 6.3M564.7 623.2l2.9 3.4M498.3 537.7l2.9 3.6M558.8 537.5l3.8 4.9M498.3 536.5l5.7 7.1M489.3 491.4l4.4 5.7M501.8 490.6l3 4"/>
<path stroke="#0000f3" d="M496.9 547.8l3.4 4.2M527.8 561.9l3.6 4.4M489.4 494.8l3.4 4.3M483.3 486.3l5.3 6.9M563 588l4.7 5.6M487.6 519.9l3.2 4M445.9 396.7l3.5 4.5M530.1 630.9l4.4 4.9M490.4 514.2l5.5 6.7M483.6 523.3l6.2 7.7M494 578.2l3 3.5M590 591.3l3.9 4.9M561.8 582.3l6.1 6.9M551.4 566.6l4.4 5.6M499.2 552l4.1 5M624.8 683.2l5.1 5.5M518.6 605.5l3.6 4.2M498.4 441.9l5.4 7.6M505.3 528.3l3.6 4.5M447.1 386.3l5 6.5M644.5 696.5l4.2 4.6"/>
<path stroke="#0000ff" d="M591.8 615.1l3 3.6M487.2 489.9l5.6 7.2M556.6 561.2l5.3 6.8M496.5 491.5l3.4 4.5M464.3 613.1l5.9 6.4M531.1 566.2l4.1 5M462.2 421.8l3.4 4.5M498.5 479l2.9 3.8M603.4 677.5l5 5.4M585.7 643.4l5.6 6.3M491.4 512.8l3.7 4.6M568 582.3l4.7 5.7M464.4 432.4l4.9 6.3M654.6 722.6l4.2 4.3M485.1 536.9l5.2 6.3M470.4 488.9l3.4 4.2M489.8 525.7l3.4 4.2M506.4 577.3l3.5 4.2M485.7 467.6l3.1 4.1M580.5 617.1l4.4 5.3M468.6 449.5l5.1 6.5M490.8 550.9l4.1 5M658.4 658.4l3.5 4M715.1 756.2l6 6.1M523.1 520.8l3.6 4.7M760.3 937.9l3.4 3M489.6 520.2l3.1 3.9M495.7 590.3l6.3 7.2M491.8 479.7l4.1 5.5M723.3 772.8l3.2 3.2M507.2 556.5l5.8 6.7M564.6 487.9l5.6 8.1M620.5 651.8l4.3 5M687.3 711.8l3.6 3.8M491.3 455l3.3 4.4M571.4 518.4l4.1 5.6M517.6 506.6l3.3 4.3M523.8 643.4l6.6 7.2M559.6 576.7l3.7 4.6M493.6 483.8l4 5.2M655 710.3l6.8 6.7"/>
<path stroke="#0019ff" d="M817.3 892.7l4.4 4.2M471.9 460.2l4.5 6M459.2 440.8l6.1 7.8M448.4 387.8l4.3 5.6M478.6 461l5.9 7.7M536.3 584l3.4 4.1M452.1 456.4l3.8 4.8M526.3 600.8l4.2 5M554.7 545.5l4 5.1M820.5 911.6l5.2 5M523.5 550l4.5 5.5M566.1 584.5l6.4 7.7M660.8 734.3l5.7 5.9M512.7 584.9l5.5 6.5M552.7 602.1l6.5 7.5M606.2 678.5l6.8 6.9M478.5 505.2l3.5 4.4M576.9 643.9l6.5 7.2M466.4 429.1l3.2 4.2M517.5 572.8l3.9 4.6M478.2 480l4.8 6.2M557.1 534.2l4.4 5.8M499 471.5l4.7 6.2M508.5 545.8l6.1 7.6M829.6 891.3l4.4 4.2M485.7 433.5l4.5 6.1M569.7 586.5l3.8 4.6M665.9 705.3l3.6 3.8M476.6 546.6l6.4 7.6M769.6 812.9l5.2 5.2M583 585.3l4.2 5.2M469.2 470.9l3.4 4.4M545.6 641.8l3.6 4.1M469.1 497.8l5.3 6.6M575.2 604.4l5.9 7.2M449.1 384.6l5.5 7.4M561 518.7l3.2 4.3M450.6 376.6l5.3 7.1M657.4 700l6.7 6.7M457.4 464.1l6 7.5M468.2 450.6l4 5M823.5 921.7l5.4 5.2M484.6 542.9l4.1 5M465.9 628.4l4 4.2M518.2 594.8l6.1 7.2M510.6 580.2l3.4 4M819.9 861.5l6.4 6.3M550.2 560.7l3.3 4.2M518.1 527.2l3.8 4.9M653.8 703.9l3.1 3.4M505.3 488.5l5.5 7.2M450.1 487.9l4 4.9M588.7 574.6l6.1 7.6M523.4 592.5l5.1 6.1M613.9 634.6l5.7 6.7M457.1 472.7l2.9 3.6M486.3 470.5l4.6 6.1M467.5 469.8l4.8 6.2M446.6 485.3l5.5 6.6M645.9 722.3l3.9 3.8"/>
<path stroke="#0033ff" d="M481.7 568l4.5 5.3M496.2 533.8l4.8 6M487.3 507.9l5 6.3M482.9 549.5l3.5 4.3M601.5 641.9l3 3.4M625 677.7l3.5 3.8M556.8 477.5l5.6 8M721.5 721.9l5.3 5.6M798.2 903l4.8 4.5M686 745l3.9 4.1M580.1 663.7l4.4 4.8M513 522.7l5.7 7.3M565.2 530.8l5.1 6.8M601.5 599.2l4.2 5.3M484.9 398.8l3.9 5.4M447.5 544l6.5 7.2M460.6 520.9l6 7.3M660.7 742.9l6.6 6.7M546.3 571.2l4.6 5.8M518.1 539.4l4.3 5.4M477 647.2l4.4 4.4M474.9 536.9l3.2 3.9M582.9 516.2l3.5 4.8M575.8 610.4l6.3 7.6M467.6 492.3l3.8 4.8M576.7 649l3.8 4.1M449.7 606.3l4.3 4.5M681.9 728.8l4.3 4.5M476.9 500.6l4.6 5.8M474.8 561.6l5.7 6.8M522 567.1l5.2 6.2M514.6 567.3l4.2 5M624.4 692.5l5.1 5.5M451.2 430.9l6 7.6M461.4 463.7l3.6 4.5M529.3 503l3.3 4.4M604.5 665.9l5.4 6.1M531.8 542.9l5.4 6.8M585.8 571.8l6 7.5M762.5 923.9l5.3 4.8M497.1 587.4l5.4 6.2M608.2 645.2l6.4 7.4M590.4 634.5l3.9 4.5M458.6 375.1l5.6 7.5M480.7 577.7l6.7 7.4M565.2 613l5.3 6.3M485.1 502.6l4.4 5.6M479.7 613.2l4.7 5.2M683.6 765.1l4 4M507.6 634.5l6.1 6.5M536.9 535.2l5.6 6.9M851.8 851.8l6.5 6.5M498.3 594.6l5.6 6.4M599.6 597l5.7 7.1M832.4 920.8l7.1 6.8M661.3 709.7l4.6 4.8M532.5 576.2l5.4 6.7M476.9 589.3l4.1 4.6M576.4 585.9l3.4 4.2M585.7 643.8l4.6 5.2M477.6 492.3l4.5 5.8M619.7 738.2l6.3 5.9M640.6 705.5l3.2 3.5M509.2 468l5.1 6.9M587.1 660.6l3.3 3.7M477.5 506.1l3.4 4.2M661.6 738.1l5.5 5.7M837.1 867.8l3.6 3.6M515.4 500.4l3.4 4.5M614.5 678.1l6 6.4M767.9 845.7l6.4 6.1M535.6 567.2l4.6 5.7M549.6 591.4l3.2 3.6M695.7 751.2l4.9 4.9M463.4 468l3.7 4.9M661.1 666.8l3.1 3.5M610.1 632.9l5.5 6.4M491.9 666.3l6.2 6.3M660.7 749.2l6.6 6.7M451.4 438.8l3.1 4M465.7 532.8l4 4.6M454 490.2l4.6 5.7M468.7 385.1l4.8 6.5M609 671l3.7 4M518 525.1l3.6 4.7M467 667.5l6.3 6.2M593.1 648.9l4.5 5.1M496.6 570.2l3.9 4.4M523.5 498.1l4.9 6.5M479.7 572.4l5.8 6.8M498 531.7l5.1 6.4M690.2 771.3l3.5 3.4M571 620l3.3 3.9M592 639.8l6.3 7.1M677.2 701.9l3.4 3.6M509.2 511l4.3 5.5M551.1 491.7l5.8 8.1M505.3 486.4l3.8 5M492.3 516l4.1 5.2"/>
<path stroke="#004dff" d="M489.1 547.7l5.4 6.5M609 607.4l4.2 4.8M528.2 463.9l5.6 7.9M472.5 452.2l5.9 7.7M515.4 577.1l3.9 4.7M577.1 630.5l4.3 4.9M514.8 595.6l4 4.7M517.5 574.8l5.9 7M693.4 713.8l6.1 6.5M502.9 599.5l5 5.8M597.3 705.8l3.9 4M526.1 565.2l6.3 7.7M490.1 681.7l6.7 6.8M595.9 678.6l4.1 4.6M533.1 530.3l4.7 6.2M452.7 534.8l5 5.9M529.8 520.5l3.4 4.4M578.8 540.9l4 5.3M540.1 523.7l5 6.6M509.9 496.8l4.5 5.8M492.6 565.8l4.4 5M524.5 568.5l3.5 4.3M491.6 478.3l6 7.9M545 557.9l5.8 7.3M576.1 626.4l5.5 6.3M488.7 492.8l3.1 4M464.3 584.3l6.5 7.4M714.2 746l4.8 4.9M516.9 573l3.6 4.3M523.8 551.5l3.2 3.9M673.2 791.6l6.2 5.9M559.8 637.4l4.5 5.2M498.8 411.1l4.8 6.7M665.2 745.5l5.7 5.8M500.1 560.4l3.5 3.9M511.8 614l5.9 6.8M660 686l3.4 3.8M791.2 909l4.8 4.5M612 688.8l3.7 3.9M507.6 418.4l3.1 4.4M723.3 768.5l3.4 3.5M461.3 618.7l6 6.4M492.1 478.6l4 5.2M592.8 678.8l6.4 7M766.9 928.1l5.4 5M466.9 606.8l4.3 4.6M658 734.7l6.1 6.2M491.7 528.4l5.3 6.6M468.1 491.8l3.8 4.8M594.2 739.3l4.6 4.5M460.2 453.8l4.7 5.9M479.3 476.4l5.4 6.9M512.2 489l4.5 6M507.1 592.6l5.2 6.1M547.6 508.5l4.1 5.7M551.1 577.1l5.6 7.1M671.7 740.7l6.8 7M598.7 636.4l3.9 4.5M548.7 554.9l3.8 4.8M500.2 621.1l4.8 5.4M480.6 556.1l5.6 6.7M448.2 422.1l5.8 7.5M775.7 914.8l4.7 4.4M447.2 390.2l6.1 8M545.3 540.2l5.6 7.2M522.9 602.5l3.6 4.2M522.8 519l3.5 4.6M542.4 548.1l5.9 7.4M490.9 514.1l3 3.6M543.3 535.7l4.3 5.4M619.5 724.2l6.9 7.1M472.7 601l5.8 6.4M497.6 397.7l3 4.3M500.1 504.7l5.9 7.4M485.6 475.2l5.5 7.2M481 553l6.3 7.5M793.9 930.3l6.5 6.1M700.3 727.2l4.3 4.6M581.7 621.4l5.3 6.1M590.8 595l6 7.5M516.6 520.9l2.8 3.7M511.6 488.1l2.7 3.6M459.5 371.4l5.2 7.2M549.9 598.6l4.9 5.7M688 697.9l4.4 4.8M460.5 443.8l3.9 4.9M496.9 492.5l5.2 6.9M656 718.5l4.2 4.3M460.3 408.5l4.7 6.2M685.3 721.9l4.7 5M587.6 596.9l6.1 7.5M750.4 934.4l3.9 3.4M656.1 645.7l5.6 6.5M519.5 552.7l4.1 5M479.4 482.8l5.3 6.8M711.5 760.9l5.6 5.6M476.7 525.7l5.1 6.2M496.4 540.1l4.8 5.9M496 499.8l3.2 4.1M591.9 612.3l4 4.7M690.7 703.6l3.8 4.1M586.5 527.2l4.9 6.7M448.3 434.1l6.2 7.8M498 583l3.4 3.9M675.1 711.3l3.2 3.3M548 454.6l3 4.4M514.8 599.6l5 5.8M558.9 541.9l4.2 5.5M557.9 564l2.9 3.8M480.8 516.1l6.3 7.5M674.3 728.6l5.5 5.7M528.9 519.1l3.2 4.3M640.9 704.9l4.8 5.2M477.3 447.1l5.1 6.6M463.3 626.5l4 4.3M688.6 766.4l5.1 5M462.3 458.7l3.6 4.6M724.6 813.1l3.7 3.6M658.9 723.3l4.7 4.9M548.9 511.7l4.4 6M513.3 438.6l2.9 4M724.8 816.9l5.2 5M609.9 682.7l4.4 4.4M494 441.9l4.1 5.8M478.2 431.7l3.2 4.2M551.4 627.2l3.7 4.2M514 543.2l4 5M555.2 533.3l4.5 5.9M572.9 580.2l3.5 4.3M650.1 700.9l6.4 7M466.3 464.2l5.3 7M460.6 508.9l4.4 5.3M553.9 595.1l4.5 5.2M512.8 560.9l6.2 7.4M460.3 520.4l5.4 6.6"/>
<path stroke="#0066ff" d="M603.5 712.5l4.7 4.8M564.1 505.4l5.9 7.9M481.8 536l5.9 7.2M527.9 605.8l3.2 3.4M457.8 421.2l4.7 6.1M849.8 868.6l3.5 3.5M678.3 720.3l4 4.3M489.7 524.6l6.2 7.8M453.8 596.6l3.2 3.5M660.2 731.5l6.8 6.9M632.3 628.8l5.7 6.8M456.7 502.1l5.3 6.5M551.6 614.1l4.5 5.3M612.3 681.7l5.9 6.2M546 501.4l5.1 7.1M866.2 855.7l3.3 3.3M663.9 685.2l5.8 6.6M474.5 439.9l5.8 7.5M500.4 573.1l5.3 6.1M627.9 696.5l3.1 3.3M472.9 477.1l6.1 7.8M647 689.6l4.9 5.3M494.1 513.3l4 5.1M591.9 535.8l3 4.1M649.9 740.6l5.9 5.9M487.8 627l4.1 4.5M582.5 600.3l5 6.1M511.8 659.1l6.3 6.7M633.9 654.8l4 4.3M495.4 560.9l5.7 7M536 659.4l5.6 6M561.8 535.9l3.1 4.1M574.1 574.5l5.6 7M511.5 506.3l6.1 7.9M452.7 527.4l5.3 6.3M677.5 781.1l4.4 4.2M535.9 565l5 6.2M507.9 584.4l4.2 5M697 709.6l5 5.5M482.3 557.4l4.1 4.9M685.6 732l6.1 6.4M462.4 468.2l3.8 5M502.5 586.6l3.1 3.6M652.7 675.9l4.4 4.9M506.1 596.8l5 5.8M500.8 552.6l6.3 7.8M531.7 604.1l4.2 4.5M581.3 717l6.1 6.1M460.6 511.2l4.9 6M480.7 547.3l3.3 4M584.3 633.9l6.3 7.1M691.3 774.4l3.6 3.5M558.6 549.8l5.4 7M676 693.2l6.1 6.5M529.2 577.8l4.7 5.7M828.3 902.5l7.1 6.8M574.6 613.8l5.9 7M492.6 429.4l3.1 4.3M460.6 501.6l5.5 6.8M469.4 504l5.6 6.9M512.1 554l5.3 6.1M694.3 761.3l4.3 4.3M448.2 422.2l4.4 5.7M445.7 434l5.6 7M500 513.3l3 3.9M486 474.8l2.9 3.8M542.8 649.2l3.3 3.7M496.9 474.9l5 6.6M850 894l5.7 5.7M712.1 812l5.1 4.9M733.9 811.2l6.5 6.2M541.5 515.1l3.6 4.9M573.1 625.6l3.9 4.6M500.7 520.7l4 5.1M445.5 461.4l6.3 7.7M510.2 520l3.7 4.8M476.5 514.1l3.4 4.1M704.9 729l3.8 3.8M526.9 534l3.8 5M467.6 627l4.2 4.5M618.6 612.7l3.9 4.7M661.9 713l6.9 7.2M445.3 406.8l5.2 6.7M519.3 600l6.1 7.1M599.9 654.7l4.6 5.2M490.9 529.3l3.3 4.1M503.2 603.3l4.2 4.9M480.5 490.6l3.7 4.7M498.4 557.3l4.6 5.7M459 483.7l6 7.6M707.7 774.8l5.4 5.4M499.9 563l5.1 5.7M479.2 558.3l6 7.1M648.3 655.6l3.3 3.8M718.8 852.4l4.8 4.4M555.5 493.3l4.8 6.7M692.1 769.8l4.7 4.7M545.4 624l3.6 4.1M664.5 747.7l5.2 5.3M455.2 572.2l5.1 5.8M572.3 650l6.2 6.8M481.3 467.7l3.3 4.3M513.9 592.7l4.6 5.4M692.2 710.7l3.6 3.9M726.8 813.8l6 5.7M599.1 653.3l6 6.8M573 637.3l3.4 3.5M504.5 491.5l3.8 5M514.5 537.8l6.2 7.9M836.8 903.5l3.4 3.4M506.1 428.1l4.3 6M679.2 745.3l6.3 6.6M535.1 525.7l4.2 5.5M562.5 609.1l6 7M701.4 801.3l3.4 3.3M500.4 652.9l6.8 7.1M479.8 518.8l2.9 3.5M480.7 457.1l4.1 5.6M457.7 456.6l5.4 6.8M470.4 515.8l3.2 3.9M625.5 702.5l5.5 5.8M473.1 467.3l4.1 5.3M524.8 523.1l2.8 3.7M532.3 584.9l5.8 7M709.9 817.6l3.3 3.1M829.3 864.1l4.2 4.2M641.8 753.3l5.5 5.4M554.9 546.4l4.2 5.4M606.3 645l5.3 6.1M614.5 615.2l3.9 4.7M470.7 637.2l3.9 4.2M501.2 471.7l5.9 7.9M650.3 701.1l5.9 6.4M621.7 664.3l5.7 5.8M539.4 493.5l2.8 3.9M510.4 448.4l5.2 7.3M699.9 670.6l3.7 4.1M510.1 595l5.4 6.2M476.6 545.3l4.5 5.3M664.7 673.8l5.4 6.2M541.2 578.5l5 6.1M547.7 537.5l5.2 6.8M491.3 498l5.6 7.3M483.5 575.7l5.6 6.2M523.5 596.2l6 7.1M506 503.6l5.4 6.9M506.3 607l4.5 5.2M565.9 589.9l5.8 6.9M517.4 632.7l3.1 3.4M720.6 736l5.1 5.3M484.2 502l3 3.8M550.4 603.1l5.2 6.1M495.4 487.2l2.8 3.6M492.3 545.4l3.7 4.6M495.3 672.3l6.4 6.5M569.1 620.8l3.4 4M490.1 490.9l3.5 4.6M496.9 509.1l3.3 4.1M567 552.2l5.9 7.7M553.9 570l4.5 5.8M584.2 750l5.5 5.3M613.9 716l4.8 5M797.9 901.5l7 6.6M498 443.4l5.5 7.5"/>
<path stroke="#0080ff" d="M484.1 563.4l6 7.2M624.8 674.5l3.5 3.8M720.7 735.3l5.5 5.7M506.8 503.6l3.3 4.2M590.8 653.2l3.1 3.5M542.3 512.4l4.8 6.5M603.9 572.9l4.9 6.3M601.7 630.8l5 5.7M571.2 564.5l5.6 7.3M716.5 721.9l4.1 4.1M576.3 587.5l5.9 7.3M514.6 555.6l4 4.7M823 862.6l3.4 3.3M795.7 914.3l5.4 5M679.2 751.6l3.3 3.4M726.8 827.6l6 5.6M469 406.8l4 5.4M608.8 644.5l5.4 6.3M579.2 609.6l5 6.1M669.9 728.2l5.9 6.1M535.7 496.6l5 6.8M526.2 665.8l4.7 5.1M691.5 781.5l4.7 4.6M614.7 618.1l5.5 6.5M651.9 728.9l4 4.1M539.4 518.2l2.8 3.7M519.2 564.4l4.2 5.1M717 806l3.8 3.5M595.1 534.9l3.7 5.2M494.9 570.7l6.3 7.3M527.1 587.8l4.9 5.8M452.5 574.7l4.6 5.1M484.2 444.2l5.1 6.8M560 589.5l6.3 7.5M499.3 573.9l5.3 6.2M726.3 751.9l4.5 4.6M706.4 783.9l6.2 6.1M513.3 435.8l4.7 6.6M515.6 622.3l3.5 3.7M478.4 388.2l5.7 7.8M461.3 539l4.1 4.6M547.4 691.4l4.1 4.2M649.3 724.6l4.8 4.9M641.2 735.4l3.4 3.4M551.8 522.5l2.8 3.5M555.1 608.6l3.8 4.5M571.3 651.7l3.5 3.8M687.4 772.6l5.4 5.3M658.8 695.4l5.5 6.1M466 627.4l6.6 7.1M505.2 428.2l3.6 5.1M641.5 687.5l6 6.6M527.9 592.8l3.2 3.8M484.6 496.3l3.1 4M585.9 697.1l3.4 3.5M588.2 562.4l4.3 5.5M507.8 503l4.1 5.3M523.8 548.1l5.2 6.4M586.6 527.4l5.1 7M745 855.6l7 6.3M790.9 934.5l4.7 4.4M566.9 565.8l3.2 4.2M450 474.9l4.8 5.9M667.8 744.6l3.6 3.7M482.3 544.7l5.8 6.9M735.9 828.3l3.4 3.3M652.1 700.9l4.9 5.4M822.9 906.4l3.4 3.3M496 482.5l3.9 5.2M610.4 604.6l3.5 4M495.6 604.3l3.7 4.1M563.6 593.4l2.9 3.5M584.4 534l3.9 5.2M548.1 540.2l4.2 5.5M451.6 550.5l5.5 6.3M578.4 512.2l4.2 5.8M528.7 472.2l3.8 5.3M532.2 624l5.5 6.2M604 625l3.1 3.6M505.2 568l3.8 4.5M509 496.7l6 7.6M657.8 699.7l5.8 5.8M747.4 779.7l4.1 4.1M563 429.6l4.3 6.6M558.9 560.8l5.1 6.5M678 718l6.1 6.4M557.8 493.6l3.1 4.3M483.3 584.7l3.2 3.6M570.8 622.2l5 6M651.7 705.9l5.8 5.7M541.1 579.8l3.1 3.8M649.8 609.1l3.7 4.6M487.6 602.9l4.3 4.8M460.9 460.8l3.9 4.9M454.5 516.6l3.7 4.4M581.3 518.9l3.4 4.6M446.7 579.4l4.3 4.8M544.8 505l4 5.5M510.5 500.7l4.3 5.7M534.7 504.3l4.5 6M517.9 510.3l3 4M596.4 699.5l5.1 5.3M483.7 654.3l6.6 6.7M454.4 619.4l5.9 6.2M468.6 517.1l6 7.2M558.9 553.5l5.6 7.3M559.5 519.5l4.6 6.2M532.9 655.1l3.7 4M508 534.1l5.5 6.9M661.2 756.2l4.5 4.5M601.7 547.4l3.8 4.7M674.7 729.8l4.8 5M658.8 765.5l5.7 5.7M692 796.4l4.8 4.7M499.3 445.3l4.9 6.8M510.9 422.2l3 4.2M733.1 767.1l3.3 3.4M579.2 663l5.2 5.7M447 403.9l2.9 3.8M648.9 777.6l5.4 5.3M657 723.7l3.7 3.8M622.7 654.5l4 4.4M560.6 511.3l4 5.2M594.1 709.2l3.2 3.3M466.8 498.1l4.9 6.1M746.1 829.1l4.2 4.1M654 671.5l4.1 4.6M604.1 550.6l5 6.6M447.7 427.8l5.6 7.1M492.5 444.5l3.9 5.5M674.8 772.5l4.3 4.2M684.1 748.2l7 6.7M534.5 520.5l5.2 6.9M718.2 804.2l4.1 3.7M447.7 544.3l3.8 4.2M513.7 662.5l6.5 6.9M473.2 400.5l5.2 7.1M584.9 572.6l4.1 5.1M483.6 643.9l4.5 4.6M491.6 592.7l5.9 6.7M564.7 568.4l2.8 3.6M536.9 512.2l4.9 6.7M591.4 589.2l5.6 7M585 598.8l6.1 7.6M713.6 709.1l6.4 7.1M493.5 543.7l4.5 5.5M645 694.1l5.8 6.3M733.8 800.5l5.3 5.2M564.8 585.6l4.5 5.4M567.5 649.5l6.8 7.3M595.7 590l5.1 6.4M704 771.3l5.6 5.6M566.1 642.7l3.3 3.7M608.6 706.6l4.8 5M495 461.5l5.7 7.7M646 653.7l3.9 4.4M505.1 559.2l3.7 4.2M549.9 578.2l4.8 5.9M576.4 674.9l4.3 4.6M675.6 733l5.2 5.5M479.6 424.4l3.5 4.8M626.2 652.6l5.3 5.9M476.7 673.1l6.1 6.1M723.6 785.2l6.8 6.9M595.8 627l6.3 7.2M560.1 618.6l3.7 4.4M841.2 914.3l4.7 4.6M468.6 570.5l4.7 5.4M520 533.9l3.1 4M623.4 713.5l3.3 3.5M473.9 571.3l5.9 6.9M600.8 668.1l4.1 4.6M602.3 542.8l3 3.8M580.7 682.2l4.4 4.7M700 807.3l4.8 4.7M556.1 696.1l5.4 5.5M729.2 788l5 4.6M692 746.5l7 6.7M511.7 527.8l4.4 5.6M837.1 899.8l5 4.9M643.9 735.9l7 7M667.3 724l3.1 3.3M522.2 557.9l3 3.7M608.8 571.5l5.3 6.9M668.9 775.3l6 5.8M674.2 749.6l3.8 3.9M583.3 619.3l3.3 4M564.7 518.7l5.7 7.6M555.2 605.3l6.2 7.2M473.5 465.6l5.2 6.8M578.6 648.5l6.4 7.1M487.6 554.4l3.9 4.7M590.3 565.2l3.2 4.1M482.5 587.4l6.6 7.4M502.4 549.4l5.2 6.4M499.6 552.4l4.6 5.7M463.9 663.7l4.2 4.2M567.1 659.1l6.7 7.2M633.1 694l6.3 6.8M486.5 602.5l5.4 6M495 572.1l3.9 4.4M489.8 511.2l3.1 3.8M568.8 483.3l4.3 6.2M530.6 590.8l4.5 5.4M567.7 562.6l3.8 4.9M579.3 580.9l5.8 7.3M571.7 525.1l3.7 5M451.5 529.7l5.6 6.6M550.8 542.9l4.4 5.6M559.3 529.3l5.5 7.3M707.3 704.9l4.6 5.1M501.1 547.8l3.8 4.8M726.5 804.7l4.1 4M695.1 734.9l6.7 6.6M445.3 491.9l4.1 4.9M509.9 568.5l3.8 4.5M607.1 717.5l3.7 3.8M801 928.2l4.4 4.1M491.6 609.4l6.6 7.4M621.1 572.3l3.3 4.3M505.1 596.5l5.1 5.9M529.5 487.1l5.4 7.4M802.6 916.1l6.6 6.2M581.4 524.8l5 6.9"/>
<path stroke="#0099ff" d="M679.3 673.4l5.9 6.8M487.9 658.9l6.7 6.8M788.4 921.7l5.1 4.7M761.5 922.4l3.9 3.5M470.1 482.1l4 5.1M721.4 774.5l6 6.1M670.2 703.6l4.1 4.3M810.8 877.8l6.7 6.4M537.8 629.8l3.9 4.4M670.6 730.1l4.5 4.7M659.8 698.4l6.2 6.1M485.1 597l6.6 7.3M507.9 620l3.3 3.8M651.4 766.6l5.5 5.5M782.1 891.9l5 4.7M590.4 711.7l5.2 5.2M501 654.5l4 4.1M446 512.7l5.8 6.9M507.8 638.4l3.3 3.6M452.1 437.1l4.6 5.9M485.3 552.7l4.4 5.3M610.2 660.9l5.2 5.9M568.5 644.8l6.2 6.4M691.5 726.3l4.7 5M457.6 456.9l4.7 5.9M486.1 482.9l2.9 3.8M689.3 780.4l5.6 5.4M582.8 691l6 6.2M555.5 501.9l5.6 7.9M698.7 795.3l6.6 6.4M521.8 510.7l2.8 3.7M490.7 606.3l5.3 6M490.8 427.2l5.7 7.8M750.3 823l6 5.8M693.4 701.8l5.8 6.4M514.2 529.9l6.1 7.8M657.1 728.4l4.3 4.4M690.9 719.3l3.3 3.6M542.5 606.7l5.7 6.6M830.2 854.3l6.4 6.4M464.9 625l6.2 6.6M689.9 738.2l3.5 3.7M556.3 555.5l4.1 5.2M732.8 763.1l6.8 7M552.9 482.3l4.9 6.9M698.7 670.2l3.5 3.9M448.9 647.4l4.5 4.6M739.2 803.7l5.5 5.3M624.5 542.8l2.7 3.7M522.9 409.5l3 4.4M467.8 541l3.7 4.4M497.8 452.6l4.5 6.1M523.1 501.6l3.2 4.2M559.4 702.1l5.6 5.8M715.3 772.5l6.7 6.7M702.9 714.6l4.3 4.7M462.9 425l3.4 4.5M727.6 722.8l3.3 3.5M603.3 604.1l4.5 5.4M468.2 385.6l4.8 6.5M471.5 580.3l4.7 5.5M458.6 362.5l3.8 5.3M666.4 712.1l4.9 5.1M455.9 438.6l4.3 5.5M664.4 648.3l5.8 6.7M462.3 607.9l5.5 5.9M452.5 408.2l4.2 5.5M543 577.8l5.8 7.2M644.5 769.9l4.8 4.7M447.2 399.1l3.6 4.6M487.3 558.9l3.7 4.4M589.3 574.6l3.6 4.5M553.2 548.2l5.8 7.5M637 612.6l4.5 5.5M585.1 565l4 5.1M670.6 675.3l5.3 6.1M602.3 541.7l5.5 7M744.2 832l3.5 3.4M719.9 764.3l4.1 4.2M599.9 706.7l6 6.2M525.4 485.3l5.1 6.7M720.6 817.1l6.7 6.4M713.8 811.9l5.3 5M472.9 440.4l5.6 7.3M723.8 799.1l6.8 6.5M570.3 658.6l6.7 7.3M587.6 658.6l6.1 6.8M471.4 544.9l4.6 5.5M457.2 423.8l4.3 5.6M811.1 890.4l6.4 6.2M842.5 880.7l4.9 4.8M649.4 763.8l6.3 6.3M456.1 490l3.7 4.5M634.5 700.3l5.7 6.1M531.1 636.6l3.6 3.9M591.6 605.2l3.7 4.6M727.1 774.6l4.9 4.9M502.1 424.3l2.9 4.1M713.2 769.9l3.4 3.4M735.7 805.1l3.9 3.8M624.2 684.8l4.6 4.9M738.3 811.8l4.5 4.3M732.2 801.5l5.2 5M575.7 637.8l3.7 3.9M838.8 858.4l4.4 4.4M741.2 794.1l6.8 6.6M735.7 787.6l6.5 6.4M507.5 444.2l4.5 6.2M861.3 861.6l5.7 5.8M459.7 365.8l4.7 6.5M698.6 763.6l5.4 5.4M753.5 834.9l5.2 5.1M597.5 599.5l3.6 4.5M655.1 653.1l5.3 6.1M646.5 673.3l5 5.6M489.1 440.1l3.5 4.6M504 457.8l5.1 7M541.8 549.2l4 5.1M698.9 726.7l4.3 4.6M515.6 503.2l4.6 6M588.6 594.8l3.2 3.9M645.9 710.7l6.7 6.5M488.1 502.1l4.5 5.8M480.5 535.1l3.3 4M645.6 725.9l6.7 6.8M659.8 750.1l6.7 6.8M482.5 384.9l4.2 5.9M722.8 750.1l3.9 4M664.2 698.6l5.8 5.8M694.3 721.6l5.7 6.1M478.1 479l4.2 5.3M495.2 464.4l3.4 4.6M495.1 591.1l4.3 4.9M498.6 612.9l5.3 6M758.5 902.3l3.3 3.1M855.2 885.9l3.3 3.3M512.4 645.6l3.4 3.7M547 638.4l4.5 5.1M583.1 619.9l3.8 4.3M609.9 690l4.9 5.1M813.3 921.3l4.4 4.2M531.2 558.9l3.7 4.6M486.2 483.8l3.3 4.3M468.8 533.4l4.9 5.8M473.2 435.8l3.4 4.4M444.9 368.9l5.2 6.9M450 560.9l3.4 3.8M524.1 595.1l4.9 5.9M462.6 486l4.2 5.3M456.1 607.9l4.5 4.8M736.8 824.9l7 6.7M655.5 752.1l3.7 3.7M533.1 503l3.8 5.1M715.8 777l5.4 5.5M619.3 684.5l6.5 7M520.8 687.2l6.6 6.3M723.1 803.7l5.7 5.4M861.5 871.7l4.4 4.4M725 771.1l4.7 4.8M792.3 901.6l6.3 6M749.6 860.4l4.4 4.1M767.9 915.5l3.4 3M465.7 596.7l6.8 7.3M496.7 432.7l2.8 3.8M457 357.7l5 6.9M705.3 786.1l6.2 6.2M490.6 582.6l5.4 6.2M528.5 602.9l5.5 5.9M477.5 674.9l3.3 3.3M594.4 695l4.6 4.5M520.5 464.6l4.2 5.8M660.3 710.5l5.8 6M599.1 671.9l6 6.7M493.9 616.1l4.2 4.7M536.7 594.2l2.9 3.5M596.8 570.6l4 5.2M493.4 434.1l3.3 4.4M447.8 411.9l4.9 6.2M489.1 601.1l4.8 5.4M477.2 482.7l6 7.7M522.5 608.6l3.2 3.7M681.5 662.5l3.7 4.3M550.5 694.5l6.1 6.3M499 416.8l3.6 4.9M504.3 387.4l3.9 5.7M629.6 654l4.4 4.9M477.8 596.8l5.6 6.2M528.7 512.2l3.6 4.8M503.9 417.6l2.8 4M636.7 679.7l3.3 3.6M647.8 702.3l6.1 6.7M537 588.8l3.9 4.8M651.4 753.4l4 4.1M497.4 670.4l5.2 5.4M624.3 683.2l3.1 3.3M567.3 669.4l4.3 4.6M852.1 890.3l4.9 4.8M465.7 561.1l4 4.7M491.5 572.4l4.5 5M468.6 552.7l3.1 3.6M540.4 453.6l2.8 4.1M777.7 849.8l5.4 5.1M727.9 775.7l3.5 3.6M609.1 736.8l5.9 6M522.2 601.6l4.4 5.2M474.2 663.3l6.1 6.1M740.5 744.2l5 5.3M717.5 743.4l5.4 5.6M849.6 874.3l5.1 5.1M686.9 789.7l4 3.8M538.3 658.7l3.1 3.4M668.9 682.4l6.1 6.9M709.2 704.6l3.6 4M574.2 664.5l5.3 5.8M551.9 678.5l6.6 6.9M552 474.3l5.1 7.3M566 634.5l4.7 5.3M549.7 563.7l5.6 7.1M634.8 677.8l3.4 3.7M697.7 761.4l4.1 4.1M567.5 509.7l4.6 6.1M606.8 575.5l4.6 5.9M525.9 635.7l3.2 3.5M646.8 725.4l5.1 5.2M674.3 732.4l5 5.2M481.1 621.8l6.7 7.4M614.7 683.7l5.1 5.4M598.7 672.7l5.4 6.1M467.2 549.7l6.2 7.3M647.9 677.6l5 5.6M466.6 364.8l3.7 5.2M712.3 788.7l3.5 3.5M464.1 596.8l6.1 6.5M586.4 607.2l5.9 7.3M606.8 651.1l3.2 3.7M601 709.6l5.4 5.5M665.5 773.3l4.2 3.9M650.5 698.1l5.4 5.9M561.8 700.3l6.5 6.8M496.5 423.8l4 5.5M621.1 671.6l5.5 5.6M699.5 765.6l5.1 5.1M552.8 570.9l6.2 7.8M795.6 932.8l4.3 4M512.6 525.8l5.1 6.6M473.7 425.1l4.2 5.6M684.9 794.5l5.8 5.6M622.9 576.4l5.9 7.8M524.7 428.3l4.8 6.9M582.4 550.4l4.1 5.5M519.7 567.6l3.6 4.3M516 621.5l6.7 7M481.5 572.9l6.7 7.3M584.9 619.6l3.6 4.1M520.9 470.4l4 5.5M691.2 677l4.1 4.5M448.8 505.8l3.7 4.4M521.3 474.7l4.3 6M448.8 522.8l5.5 6.5M537.9 569.4l5.4 6.7M528.2 593.6l3.5 4.2M493.6 475.5l5.9 7.9"/>
<path stroke="#00b2ff" d="M717 735.3l3.8 3.9M572 598l4.9 5.9M876 861.1l6.4 6.5M588.1 605l5 6.1M525.2 597l4.4 5.2M839.5 903.3l4.4 4.3M717.1 768.4l5.8 5.9M567.1 692.3l3.9 4.2M476.7 570.7l3.6 4.3M474.4 473.6l3.5 4.5M612.8 692.3l4.2 4.4M458.4 498.9l5.1 6.3M736.2 829.6l6.4 6.1M498 510.8l5.4 6.9M535.1 488.9l4.1 5.7M671.4 752.4l4.6 4.7M592.4 649.5l5.1 5.7M549 696l5.8 6M811.8 887.5l6.2 5.9M519.5 444.1l4.1 5.8M755.4 914.4l4.9 4.5M467 445.3l2.8 3.7M683.6 804.9l6.1 5.8M722.6 823l6.5 6.1M497.1 408.4l4.1 5.8M811.2 929.2l4.1 3.9M620.1 700.1l3.2 3.4M740.9 715.5l4.6 4.9M790.9 835.1l3.7 3.7M729.7 760.8l4.4 4.5M594.9 627.1l5.3 6.1M671.3 732.9l5.4 5.6M668.2 697.5l6.4 6.8M675.8 708.5l3.5 3.7M714.7 810.7l5.4 5.1M455.8 570.3l3.5 4M457.7 388.7l4.6 6.1M679.9 693l5.9 6.3M830.2 853.9l4.7 4.7M786.2 923.2l7.1 6.6M459.9 625l4.7 4.9M450.5 622.9l5 5.3M594.9 581.4l5.8 7.3M643.1 747.4l3.5 3.5M454.8 395.1l5.4 7.2M565 744.6l3.6 3.4M509.9 496.6l4.9 6.3M567.9 473.3l4.9 7.2M465.8 643.3l6.4 6.8M647.8 783.2l4.7 4.6M523.7 595.6l3.1 3.7M530.9 619l5.9 6.6M780.2 909.3l4.5 4.1M665.3 750.5l3.6 3.6M493.9 382l5 7M618.9 542.3l5.4 7.3M562.4 557.5l3.2 4.2M534 558.2l6.3 7.8M538.4 587.6l5 6.1M460.3 419.4l4.8 6.3M559.5 514.8l3.1 4M480.5 678.6l5.7 5.7M855.5 863.3l6.5 6.5M670.8 643.8l3.2 3.8M558.4 647.3l4.6 5M590.2 540.6l5.6 7.7M545.2 533.8l3.9 5.1M666.2 604l5.6 7.2M657.7 715l5.3 5.5M507.5 573.4l4.9 5.8M731.7 852.1l3.7 3.5M490.7 682.1l4.8 4.9M658 669.6l4.1 4.6M566.1 604.8l3.4 4M514.9 523.2l3.2 4.1M454.6 400.1l4.7 6.2M539.4 655.9l3.4 3.7M576.2 548.3l3.1 4.1M546.5 692.7l4.9 5M603.5 702.7l6.9 7.2M485.4 596.7l6.6 7.4M502.4 593.2l5.2 6M574.4 587.9l4.2 5.1M617.7 696.1l4.2 4.4M517.1 657.9l4.5 4.8M701.4 786.9l3.7 3.7M601.5 645.2l5.2 5.9M576.2 669.8l5.9 6.4M689.7 687.6l4.3 4.7M752.5 808.8l5.3 5.2M465.4 554.7l5.8 6.7M489.2 611.8l3.3 3.7M659.7 723.5l4.3 4.5M831.1 905.8l7 6.8M690.7 724.3l4.5 4.8M512.8 434.7l3.9 5.6M708.5 725.8l5.2 5.2M478.4 392.4l4.3 5.9M449.8 555.8l4.3 4.9M629.8 642.6l5.4 6.4M613.8 713.6l3.4 3.6M444.9 615.3l5.6 5.8M535.3 654.5l5.2 5.7M607.3 610.8l4.9 5.5M646.4 657l5.6 6.3M690.5 786.2l4.7 4.6M519.2 483.6l3.2 4.3M589.5 504.5l3.4 4.9M695.2 777.3l4.9 4.8M463.1 544.5l4.8 5.7M675.8 749.1l3.3 3.4M571.7 598l4.2 5.1M680.1 701.4l5.1 5.4M541 574l6 7.4M607.5 583.9l5.5 7M648.9 719.7l4.2 4.2M523 440.6l5.3 7.6M621.6 644.4l4.2 4.9M469.2 576.4l4.1 4.8M542.9 656.2l5.5 5.9M610.6 610.5l6.4 7.5M709.5 800.2l6.1 6M638.9 717.4l7.2 6.9M712.2 739.9l4.5 4.6M758 936.8l4.2 3.8M819.8 892.4l6.9 6.7M795.8 914.8l3.4 3.2M504.9 657.5l5.4 5.6M692.7 769.8l3.9 3.9M696.2 686.3l3.7 4M517.5 521.1l3.9 5M490.9 392.1l4.5 6.3M563.1 423.3l4.6 7.1M696.8 767.4l5.5 5.5M578.3 700.4l3.6 3.7M547.8 440l4.6 6.8M510.6 447.5l4 5.6M699.9 789.9l3.8 3.8M549.7 677.3l6.2 6.5M565.2 697.7l4.8 5M651 668.2l3 3.4M589.8 526.6l4.9 6.8M570.6 663.1l4.2 4.6M558.7 501.6l5.7 8M672.3 655.7l6.1 7.1M460.1 400.8l4.3 5.6M583.6 582.5l4.4 5.4M700.6 752.7l4 4.1M483.1 584.5l4.5 5.1M653.6 663.2l5.4 6.1M490.6 462.3l3.4 4.5M803.9 916.3l5.6 5.3M559.4 439.7l5.5 8.3M467 433.3l5.3 7M516.2 516.6l6 7.8M743.6 825.8l4.5 4.3M569.6 547.6l4.9 6.5M658.4 722.7l3.4 3.5M648.5 670.5l4.3 4.8M486.8 572.9l3.1 3.4M518.7 632.3l5.7 6.3M520.6 663.8l5.2 5.5M823.3 899l7.1 6.8M514.8 623.3l3.2 3.3M586.7 673.7l5.5 6M822.8 867.7l4.5 4.4M662.1 643.3l4.4 5.1M506 556.8l5.1 5.9M544.4 498.2l5.5 7.6M545.4 469.9l3.7 5.1M519.6 657.1l5.5 5.8M476.2 426.2l3.4 4.5M448.5 505.4l3.5 4.2M836.5 884.9l6.3 6.2M608 596.6l3.2 4.1M541.8 550.1l3.7 4.7M515.5 610.8l5.7 6.6M832.2 897.7l5.1 4.9M602.4 665.2l5.1 5.7M563.4 496.7l3.2 4.5M467.5 405l3.3 4.5M688.5 715.4l6.3 6.8M464.2 502.2l5.6 7M641.7 770.9l4.8 4.7M491 666.6l5.7 5.9M500.8 584.5l6.1 7M444.7 652.9l6 6.1M495.3 490.8l3.7 4.9M640.2 735.4l6.6 6.6M569.7 656.4l5.7 6.2M694.9 755l6.4 6.4M626.3 770.2l5.9 5.6M719.2 791.9l5.3 5.3M563.6 533.2l3.2 4.2M796.2 891.8l6.7 6.4M622.9 637.9l5.5 6.5M507.7 392l5.6 8.1M556.3 458.7l3.1 4.4M722.2 799.5l7.2 6.8M563.8 532.8l4.2 5.5M539.2 589.2l5.7 6.9M603.3 646.4l3.9 4.5M842.2 823.8l4.9 4.9M465 506.5l3.1 3.8M488.1 453.7l4.7 6.3M741.9 771.3l6.2 5.9M446.9 617l4.1 4.3M648.6 688.1l5.9 6.6M611.6 734.3l3.9 4M613.4 545.8l2.9 3.9M486 665.9l5.8 5.9M604 618.7l4 4.7M663.2 767.5l3.6 3.7M624 765.5l5.7 5.4M712.6 764.4l6.9 7M537 497.5l3.1 4.2M816 878.1l5.7 5.6M589.5 671.6l5.7 6.3M486.5 424.1l3.4 4.6M585.6 688.1l5.5 5.7M507.4 403.5l4.1 5.9M531.9 550.6l3.6 4.5M512.2 600.1l6.3 7.3M571.1 591.6l5.3 6.5M635.8 709.8l4.2 4.5M505.9 617.7l5.9 6.7M582.2 636l6.7 7.4M553.4 507.9l5.7 7.9M585.1 709.7l4.4 4.4M620.7 559l2.9 3.9M772.5 848.7l5.1 4.9M588.8 534.8l4.3 5.9M682.8 757.4l3.5 3.3M459.3 621.8l3.7 3.9M718.9 739.6l3.5 3.7M681.3 736.9l3.2 3.3M459.3 635.3l5.9 6.2M775.9 850.8l4.6 4.4M547.7 519l5.5 6.8M521.8 582.3l3.5 4.2M788.1 829.6l4.3 4.2M501.8 662.4l3.2 3.3M536.7 624.2l6.4 7.2M456.4 582.5l3.9 4.4M619.3 691.5l5.3 5.6M743.6 824.8l5.7 5.5M547.8 496.7l4.2 5.8M491.9 665.1l4.4 4.5M713.3 783.7l7 6.9M462.6 526.3l4.4 5.2M795.9 876.4l6.5 6.1M580.4 702.7l4.9 4.7M480.9 655.9l6.8 6.9M491.7 467.6l2.7 3.6M658.4 691.1l5.1 5.7M594.3 640l3.1 3.5M582.4 688.8l5.3 5.7M751.5 861.9l4.6 4.3M788.6 924.4l3.3 3.1M635.2 761l4.1 4M751.9 802.3l5 4.9M454 484.5l6.2 7.7M606.3 585l3.9 5M769.1 812.7l5.3 5.3M574.3 531l5.9 7.8M692.8 776.4l5 4.9M827 899.6l6.6 6.4M634.1 673.2l3.3 3.6M649.1 755.2l5.8 5.8M769.8 849.7l4.5 4.3M477.9 663.8l5.1 5.2M598.9 668.9l3.3 3.6M653.4 698l5.9 6.4M619.5 696.9l6.5 6.9M719.4 851.4l5.8 5.3M523.7 612.9l3.1 3.3M555.5 501.4l3.6 5.1M848.1 882.2l5.5 5.4M482.2 619.4l5 5.5M495.1 504.5l3.4 4.3M692 782.3l3.9 3.8M456.6 425.2l3.3 4.3M718.9 740.6l6.9 7.1M749.4 769.5l5.9 6M722.7 753.4l5.4 5.5M680.8 690.4l5.7 6.2M763.7 832.2l6.1 5.6M661.4 696.4l5.2 5.2M592.2 603.5l4.4 5.4M532.4 594.6l3.1 3.7M727.2 766l3.4 3.5M482.7 621.2l4.4 4.9"/>
<path stroke="#00ccff" d="M639.2 665.9l4.2 4.6M505.6 634.1l4.9 5.2M706.2 781.7l6.7 6.6M673.5 854l4.7 4M573.5 540.8l3 4M688.2 682.5l6 6.6M500.4 692.8l6.1 6.1M640.6 706.8l3.4 3.6M629.1 742.4l4 3.9M455.9 624.1l4.1 4.3M560.1 525.9l4 5.3M485.5 665.7l6.5 6.6M537.4 630l6.2 6.9M537.9 662.8l4.9 5.2M677.8 721.8l5 5.3M716.6 750.2l4.4 4.6M614.5 635.2l3.7 4.4M717.2 777.1l5.4 5.5M508.8 419.3l5.1 7.2M502.1 592.1l3.3 3.8M568 483.2l4.6 6.6M695.7 778.5l5.5 5.4M612.3 646.9l4.6 5.3M668.6 722.4l5 5.2M653.3 652.6l3.4 3.8M795.7 884l4.8 4.5M542.4 515.4l5.5 7.4M818.2 858.8l5.4 5.3M471.6 393.3l5.1 6.9M656.5 789.6l5.9 5.5M516.5 634l3.1 3.4M473 400l5.3 7.2M810.8 911.9l6.8 6.5M633.1 741.9l6 5.9M503.1 455.9l4.1 5.6M648.3 743.7l3.5 3.5M746.8 908.4l4.7 4.3M722.1 759.9l6.8 6.9M668.5 689.7l4.4 4.5M500.8 420.4l2.8 3.9M649.7 639l5.8 6.4M671.5 793.6l6.7 6.4M612.3 709.2l5.9 6.1M699.9 754.5l6.3 6.4M721.4 746.3l5.1 5.2M528 439.2l3.6 5.2M594.7 673.5l3.5 3.9M528.2 424.6l4.7 6.9M693.3 748.1l5.9 5.9M534.5 691.1l4 4M632.6 606l3.9 4.8M617.1 622.8l6 7.1M603.9 575.5l4 5.1M663.7 753.8l4.2 4.2M612.5 573.5l3.5 4.5M838.6 915.5l6.9 6.7M451.4 558.5l3 3.4M516.9 445.4l3.5 4.9M624.2 635.5l3.3 3.9M500.1 463.4l2.8 3.8M669.8 771.7l4.5 4.2M739.8 776.7l6.6 6.3M795.2 888.7l5.7 5.4M527.2 622.8l4.4 4.9M637.7 650.9l3.9 4.2M617.7 708.8l4.7 4.9M463.5 657.1l6.8 6.7M606 721.3l3.2 3.3M585.9 544.5l5 6.8M546.1 595.4l4 4.4M474.8 635.9l3.2 3.4M527.8 414.5l4.5 6.7M709.9 800.9l4.2 4.2M552.1 626l3 3.4M481.2 418.4l4.2 5.7M485.4 465.7l4.9 6.5M624.8 602.8l4.8 5.9M868.2 847.7l3.6 3.7M660.9 728.1l5.1 5.2M697 726.1l4.1 4.4M702 749l6.6 6.7M461.8 652.5l3.5 3.6M504.2 674.6l4.2 4.3M730.2 813.6l3.3 3.1M759.2 817.1l3.8 3.8M763.7 779.8l3.3 3.4M585.8 548.4l3.5 4.6M618.5 677.5l4 4.3M453.5 390.6l3.6 4.8M548.4 585.6l6.5 7.3M536.8 577.6l3.6 4.5M688.3 737.4l6 6.3M787.6 859.2l5.6 5.4M764.1 805.4l5.6 5.6M538.1 559.8l3.3 4.1M643.2 690.3l5.1 5.6M845.3 890.5l4.4 4.3M451.7 362l5.4 7.3M589.2 563.4l5.8 7.4M533.7 596.6l3.2 3.8M530.7 457.2l3.1 4.5M663.7 701.8l4.9 4.9M486 669.4l3.9 4M749 934.6l6.3 5.5M541.3 502.2l4.5 6.2M731.2 744.4l4.7 4.9M463.7 367.8l4.1 5.6M715.1 820.5l4.4 4.2M733.7 819.9l6.3 6M506.8 512.4l3.9 5M492.2 476.5l4.1 5.4M549 638.4l4.9 5.6M799.8 840.4l6.1 6M712.7 716.9l3.1 3.5M600.1 728.9l6.3 6.3M574.7 687.2l4.8 5.1M580.1 603.8l3.5 4.2M729.5 795.7l3.8 3.6M723.3 843.3l3.9 3.6M476.8 438.1l4.7 6.1M553 656.5l3.9 4M508.3 404.4l3.4 4.9M519.1 467.3l5.3 7.3M785.4 851.7l4.5 4.4M469.1 556.2l4.6 5.4M747.9 830.1l4.1 3.9M507.7 617.8l4.6 5.2M679.1 721.6l4.6 4.8M707.3 713.2l3.5 3.9M607.5 708.1l3.2 3.3M564.1 635.5l5.3 5.9M469 543.9l3.5 4.2M445.2 387.9l3.9 5.1M455.6 517.6l3.5 4.2M536.1 680.9l6 6.1M743.2 766l3.4 3.5M568.8 566.6l4.7 6.1M715.8 737l5 5.2M849.9 836.6l6.6 6.7M618.8 682.9l3.9 4.2M713 787.6l3.4 3.4M708.8 709.9l3.2 3.5M583.8 613.2l3.8 4.6M611.1 698.1l5.4 5.6M744.1 737.2l3.6 3.8M656.9 786.3l6.4 6M634 588.7l6.2 7.8M724.1 727.1l4.5 4.8M570.4 662.1l4.9 5.3M695.8 704.7l4.7 5.1M742.3 799.8l6 5.9M721.8 734.5l5 5.3M526.2 568.9l5 6.1M732.4 881.8l4.6 4.2M755 812.9l3.4 3.4M507.3 456.7l4.6 6.4M677.2 745.3l5.9 6.1M586.2 642.5l4.3 4.8M577.4 736.2l3.3 3.2M770.2 897.6l5.3 4.9M698 750l4.1 4.1M601.5 584.3l5.2 6.6M701.2 789l5.3 5.2M493.8 556.2l3.6 4.4M686.7 746l6.6 6.3M622 581.4l4.1 5.4M578.2 662.6l4.8 5.2M797.2 844.5l6 5.9M624.9 716.1l3.1 3.3M672.9 735.4l5.7 5.9M467.5 670.9l4 3.9M492.9 537.7l5.3 6.5M806.4 847.7l4.1 4M881.1 857.9l6.7 6.9M541 467.5l3.1 4.4M658.3 794.2l5.7 5.3M449.9 480.4l4.2 5.4M480.9 506l3.3 4.2M595.9 640.7l3.6 4.1M620.1 652.3l4.5 5.2M560.4 513.3l5.6 7.2M683.4 742.2l5.3 5.6M681 673.9l3.7 4.2M461.7 505l6.1 7.5M553.1 529.9l5.5 7.2M523.9 420.8l4 6M536.6 600.6l3.1 3.4M529.9 637.2l3.3 3.6M619.8 611.5l4.9 5.9M600 638.1l5.5 6.3M649.3 756.8l3.3 3.3M453.2 639.7l5.7 5.9M608 604.2l5.5 6.2M556.7 485l4.3 6.1M831.7 906.7l6.9 6.7M783.3 829.8l7 6.8M587.4 589.5l5.3 6.5M467.6 613.8l6.3 6.8M444.9 654.5l5.1 5.1M573.8 510.9l5.4 7.3M804 877.8l5.9 5.7M657.5 756.3l5.2 5.3M632.5 719.8l5.8 6.1M713.6 819.8l4.6 4.3M511.6 563.6l4.1 4.9M511.1 498.7l3.5 4.4M571.3 540.9l5.6 7.4M659.5 681.8l6.6 7.4M742.4 883.6l6.1 5.6M611.8 708.6l6.8 7M488.2 413.5l3.3 4.5M573.3 589.9l5.8 7M496 672.6l6.4 6.5M504.6 398.4l3.1 4.4M835.4 915.5l6.5 6.4M449.9 538.2l5.6 6.5M536.6 628.7l3.2 3.6M522 622.8l5 5.6M486.8 423.4l5.9 7.9M522.8 543.4l3.4 4M457.2 502l5.6 6.9M859.3 865l4.2 4.2M743.2 710.5l4.5 4.8M452.1 482l3.9 4.8M563.5 679.8l5.8 6.2M606.5 729.9l5.5 5.6M445.6 634.4l6 6.1M475.5 617.6l6.2 6.8M494.9 518.3l3.7 4.7M571.5 529.2l3 4M514.4 466.8l5 6.9M599.8 594.1l3.3 4.2M497.8 588.5l4.6 5.3M463.3 369.7l2.9 4M616.1 697.9l5.7 6M612.9 704.5l6.6 6.9M552.6 677.4l3.3 3.5M764 784.3l4.2 4.3M779.1 877.5l5.4 5.1M591.6 545.9l3.6 4.9M629.5 639.4l4.1 4.9M580.9 490l3.5 5.2M648 671.7l4.7 5.2M542.3 507l3.6 4.9M605 558.2l4 5.3M482.6 540.8l3.8 4.5M498.6 650.5l3.2 3.4M455.8 590l6.5 7.3M450.3 445.2l3.8 4.8M578 613.8l4.3 5.1M598.9 663.9l4.5 5.1M472 446.2l4.8 6.2M592.3 672.9l5.4 6M562.4 576.5l3.9 4.5M496.8 420l4.5 6.2M491.4 444.8l5.5 7.7M513.7 577l4.6 5.5M527.1 652.9l4.1 4.4M666.3 673l3.7 4.2M530.6 580.1l6.3 7.7M635.1 673.6l5.9 6.5M684.5 689.6l5.4 5.9M444.2 546l5.9 6.6M608.8 554.9l5 6.5M563.7 590.8l4 4.8M679.7 776.4l6.1 6M580 508.4l4.9 6.8M763.5 936.6l7 6.4M547.7 611.5l4.1 4.8M737.4 819.6l5.6 5.4M766.7 822.3l5.4 5.3M724.7 775.7l4.5 4.6M522 433l4.9 7M713.9 742.8l6.9 7.1M754.8 800.6l6.1 6.1M503.4 456.6l4.4 6.1M491.1 666l5 5.1M523.7 491.7l4.9 6.6M636.8 684.6l3.3 3.6M737.1 826.7l4.5 4.3M616.7 691.1l5.7 6.1M458.5 603.2l6.7 7.2M633.3 660.2l5.9 6.6M529.3 662.3l4.3 4.7M716.5 860.2l6.1 5.7M541.5 606.3l4.9 5.6M457.8 656.3l3.4 3.5M535.1 469.4l3.2 4.5M667.3 717.5l6 6.3M584.1 475.9l4.9 7.3M509.3 413.1l5 7.2M622.6 653l5.1 5.7M495.5 590.3l4.5 5.1M466.2 492.7l4.8 6M447.3 510.7l5 6M762.6 783.3l4.1 4.1M529.6 620l5 5.6M497.5 401.3l4.8 6.7M576.8 670.8l3.1 3.4M829.9 904.6l5.6 5.4M779.2 932.9l5.3 4.9M453.1 603.4l3.4 3.6M607 587.3l3.8 4.8M671.8 748.9l3.7 3.8M582.8 571.7l4.7 5.9M683.5 792.9l7.2 6.9M710.1 724.2l4.7 4.7"/>
<path stroke="#00e5f7" d="M565.9 513.7l4.6 6.2M496.7 649.5l5 5.2M450.3 486.3l3.8 4.7M520.7 423.5l3.5 5.2M758.2 851.6l5.7 5.3M748 870.4l6.4 5.9M740.4 875.2l7.3 6.7M820.2 905.6l6 5.8M499.9 422.7l4.1 5.6M692.8 756.1l4.9 4.9M581.3 662.6l6.4 7M755.8 821.1l6.8 6.7M490.2 402.1l5.6 7.7M680.2 779l3.9 3.8M643.5 659.4l4.1 4.6M723.5 806l6.7 6.5M650.8 619.6l3.9 4.8M715.3 781l4.2 4.2M669.8 743l5.6 5.8M541.8 654.9l6.6 7M651.6 770.2l4.4 4.4M682.9 642.4l3.1 3.6M559.9 635l6.5 7.5M611.3 506.5l4.9 7.1M565.8 546.5l5.7 7.5M497.6 458.8l5.3 7.2M801 838.8l5.2 5.1M674.3 670.5l3.4 3.9M481.6 612.9l4.1 4.5M488.2 551.2l5.4 6.5M581.4 483.7l5.1 7.6M619.8 718.5l3.9 4.1M487.1 673.3l5.8 5.9M778.8 827.4l3.8 3.7M819.9 897.8l4.3 4.2M478.3 405.5l3.5 4.7M516.6 403.8l5.4 7.7M510.5 621.7l6.7 7M632.4 682.7l4.1 4.5M576.6 547.1l3.1 4.1M710.6 734.5l4.3 4.4M467.1 538.2l5.1 6.1M747.9 800.6l4.7 4.7M658.4 728.8l5.3 5.4M506.6 698.1l6.2 5.9M510.8 457.9l4.2 5.8M569.4 545.1l4.6 6.1M706.2 736l6 6.1M544.6 447.1l4.4 6.5M593.5 518.6l5.1 7.1M761.2 824l4.1 4M510.5 428.7l5 7.3M758.4 851.8l6.4 6M820.5 852.8l3.9 3.8M575.5 590.5l5.9 7.2M515.6 397.8l3.2 4.6M487.1 414.5l4.9 6.6M536.7 483.6l3.4 4.7M694.7 777.1l4.4 4.3M672.5 642.5l4.5 5.3M666.7 740.1l4 4.1M547.3 657.3l5.8 6.2M590.2 528.1l2.7 3.7M493 650.6l3.7 3.8M624.5 702.9l5.1 5.4M609.1 709.4l5 5.2M623.8 612.6l5.1 6.1M710.4 838.9l4.4 4.1M626.9 599l5.3 6.5M709.6 741.4l5.3 5.4M471.6 442.8l3.4 4.4M736.4 889.1l7 6.3M507.3 589.7l3.5 4.1M444.9 598.6l5.6 6.2M662.2 737.4l4.4 4.5M599.6 775.5l4.2 3.9M727 777.1l4.7 4.8M722 800.7l5 4.8M730.2 706.5l6.3 6.8M839.4 875l5.4 5.3M516.6 625.7l6.6 7.2M500.8 410.6l3.4 4.8M741.5 787.3l5.5 5.4M451.9 369.4l3.6 4.9M650.3 680.3l6.3 7M701.8 759.7l5.7 5.7M476.4 423.8l4.1 5.4M752.6 828.9l3.6 3.5M766 877.3l7.2 6.8M483.4 416.7l5.2 7M516 477.6l5.6 7.6M711.2 726.1l6.6 6.7M628.6 560.5l5.8 7.8M588.6 697l5.3 5.2M607.8 690.8l3.8 4M536.1 458.7l3.2 4.5M601.7 544.4l5.2 6.5M695 698.2l5.8 6.3M703.1 802.5l6.7 6.6M809.1 882.8l7.2 6.9M725.7 847.4l7.2 6.8M567.3 657.1l4.5 4.9M796 844.2l6.3 6.2M468.8 426.7l5.9 7.7M461.3 669.6l4.8 4.8M552.8 727.2l5.1 5M573.7 618.4l5.3 6.2M506.2 627.8l6 6.2M818.3 914.5l5.9 5.6M566.8 525l4.1 5.5M693.8 672.6l5 5.5M537.8 654.7l6.2 6.8M565.5 714.2l3.6 3.6M703.7 774.6l3.7 3.7M472.5 383.3l3.9 5.4M661.3 736.4l3.5 3.6M598.6 582.8l5.6 7.1M714.9 817.8l4.6 4.3M757 796l5.8 5.8M722.2 737.3l6.9 7.2M483.7 656.3l4.3 4.4M705.7 804.6l3.4 3.3M624.8 707.6l4.1 4.4M600.4 523.3l4.3 6M752.4 725.2l4.5 4.9M681.1 651.2l5.9 7M637.7 759.6l3.7 3.6M578.8 641.8l3.7 4.1M602.3 698.1l6.8 7M488.3 425l4 5.4M643.6 801.2l6.7 6.1M622.8 595l5.2 6M522.3 425.4l5.2 7.5M584.6 498.7l4.7 6.5M559.3 693.8l6.4 6.7M592.7 576.3l3 3.8M554.6 704.4l4.1 4.2M606.2 710l3.5 3.6M587.6 658.6l3.6 4M598.6 637.2l3.3 3.8M740.2 842l5.4 5.1M625.6 739.6l4.1 3.8M797.8 824l3.2 3.2M473.3 659.2l3.9 3.9M571.7 564.7l3.3 4.3M760.3 850.3l4.8 4.6M889.5 840.4l5.3 5.5M598 552.4l5.5 7.1M622.1 661.7l5.5 5.7M761.9 812.9l6.4 6.3M741.3 758.1l5 5.3M753.4 815.8l3.7 3.7M620.6 666.1l3.5 3.6M653 635.6l3.7 4.1M738.7 756.9l6.5 6.8M792 902.6l4.3 4M621.5 571.5l5.1 6.7M518.6 581.7l3.5 4.1M613.6 544.5l4.2 5.6M635.9 762.7l6.7 6.6M654.8 758.3l4.4 4.4M577.5 507.6l4.4 6.1M474.3 601.2l6 6.6M499.6 654.6l6.2 6.5M464.5 418.4l4.8 6.3M626.4 749.8l3.3 3.2M818.1 841.6l6.8 6.8M587 668.3l6.6 7.3M499.3 450.3l3.5 4.8M528.1 662.8l6.3 6.8M607.3 586.7l5.2 6.7M486.7 567.5l4.5 5.4M615.7 546.2l2.9 3.8M465 592.9l4.5 4.8M741.7 806.6l3.5 3.4M633.3 581l3.1 4M463.1 384.6l4.2 5.7M598.3 569.7l4.5 5.7M767.9 904.3l3.6 3.3M784.6 864.7l5.3 5.1M748.9 817.8l5.7 5.5M695.8 664.3l3.4 3.7M557.6 558l3.3 4.3M844.8 859l5.1 5.2M731.9 771.1l5.8 6M715.5 791.1l4.6 4.6M603 530.9l4.9 6.8M460.2 558.3l5.1 5.9M509.9 693.8l4.1 4M652.3 639.3l6.4 7M784.5 857.4l7 6.8M522.5 506.5l4.4 5.8M674.8 675l4.8 5.5M491.2 449.3l2.7 3.8M641.3 603.3l5.3 6.6M695 828.9l6.5 5.7M752.8 938.2l4.7 4.2M717.3 697.9l6.3 7M579.1 648.5l4.9 5.4M739.2 808.6l7 6.7M488.3 363.7l3.2 4.7M674.4 688.5l4.9 5M714.6 679.5l6.3 7.1M627 763.3l4.3 4.2M670.4 687.1l6.4 6.5M491.1 425.2l4.3 5.9M591.2 721.9l5.4 5.4M544.2 593.6l6.4 7M653.8 731.1l3.7 3.7M660.6 641.9l3.5 4.1M804.6 879.6l7.1 6.8M699.5 660.8l4.6 5M666.8 658.2l4.6 5.3M494.9 647.4l4.8 5M629.8 578.1l3.1 4.1M549.6 460.2l2.8 4.1M578.6 652.4l6.3 6.9M612.9 739.4l4.7 4.8M661.3 720.8l4.1 4.3M581 572.2l4 5M634.4 651.5l4.6 4.9M723.5 822.4l5 4.7M550.2 674.6l3.7 3.9M848.6 868l6 6M840.6 867.6l6.1 6.1M724.9 810.7l4.7 4.5M695.5 644.6l3.7 4.5M585 526l5 6.9M505.6 450.3l3 4.2M558.5 668.3l4.9 5.1M610.3 655.4l3.3 3.8M446 361.8l5.6 7.6M573.9 658.6l6.2 6.8M495.2 667.3l5.3 5.5M540.1 599.8l6.6 7.2M687 679.9l6.2 6.9M853.8 896.6l4.3 4.3M732 845.4l6 5.6M768 882.1l6.8 6.4M702.3 740.4l6.9 7M580.4 591.2l6.3 7.8M479.7 557.9l5.8 6.9M635.4 773.1l3.6 3.5M636.6 615.6l4.4 5.3M543.2 484.6l5.6 7.8M528.8 643.3l4.7 5.2M476.5 365.3l3.6 5.1M619 702.5l6.4 6.7M793 871.7l4.7 4.5M582.2 596.2l6.3 7.7M552.8 574l3.2 4M612.5 730.5l4.3 4.4M739.9 764.5l6.4 6.6M460.5 605.2l6.6 7.1M524.5 641.1l5 5.5M454.5 639.4l3.9 4M693.9 761.9l3.6 3.6M584.9 708.5l5.5 5.5M759.5 782.1l4.6 4.6M556.3 452.6l5 7.4M740.5 888.6l3.8 3.5M495.2 354.6l5 7.4M696.2 760l3.3 3.3M847.9 902.9l6.1 6M580.1 575.5l4.5 5.6M609.8 551l2.8 3.8M475.7 364.4l4.6 6.5M500.1 590.5l5.4 6.3M473.1 582.5l3.4 3.6M554.4 494.8l4 5.5M597.7 635l5.3 6.1M575.1 574l6.1 7.5M668.4 803.5l5 4.7M707.4 870.5l4.8 4.3M697.1 774.5l6.1 6.1M781.7 873.9l6.7 6.4M641.7 661.1l6.6 7.4M575 483.5l3.1 4.5M448.7 435.3l5.2 6.6M733.4 862l6.9 6.2M525.5 481.7l5.2 6.9M786.4 919.2l5.7 5.3M459.9 392.5l4.5 6M538.5 697.8l6.6 6.6M513 639.8l4.1 4.4M740.2 795.7l6.9 6.8M794.4 822.7l5.8 5.7M447.6 374.3l4 5.3M532.8 423l4.2 6.2M544.2 691.7l5.3 5.4M722.7 764.3l3.7 3.8M763.3 772.3l5.7 5.7M495.4 602.8l4 4.5M608 760.8l5.5 5M645.1 637.6l5.2 6M686.2 799.6l3.7 3.5M475.6 386.6l3.3 4.5M507.9 462.9l2.8 3.8M602 710.9l5.2 5.4M581.6 520.8l2.8 3.8M500.8 400.2l2.7 3.8M677.2 734l5.5 5.8M709.6 764.3l5.9 5.9M569.7 504.5l3 4M711.8 747.4l3.8 3.9M730.9 727.9l4.2 4.5M554.7 565l5.6 7.1M626.6 699.2l4.3 4.6M632.3 617.1l6 7.3M815.8 874.2l7 6.8M506.3 640.8l3.1 3.3M516.3 678.6l5.5 5.6M726.7 732.7l6.6 6.9M472.6 362.3l3.4 4.8M592.4 675.7l4.1 4.6M547.5 568l3.5 4.3M456.7 417.9l3.6 4.7M640 743.2l5.3 5.2M714.9 851.9l3.7 3.5M695 725.2l6.2 6.6M550 438.5l5.3 7.8M734.7 772.5l5.4 5.6M544.9 521.2l3 4M605.3 715.2l5.6 5.8M678 808.4l5 4.7M482.1 591.7l4 4.5M582.6 622.1l6.1 7.1M734 831.4l3.4 3.3M520.7 625.2l4.3 4.8"/>
<path stroke="#15ffe2" d="M687.6 648.3l3.8 4.6M768.4 782.1l4.3 4.3M479.7 406.2l4.2 5.7M594.5 503.5l4.2 6M729.5 862.9l3.3 3.1M808.7 827.6l5.8 5.8M741.5 854.3l3.8 3.6M620.4 716l4 4.1M449.4 525l5.3 6.3M593.5 686.2l5.6 5.8M591.2 503.5l3.2 4.5M703 805.4l3.5 3.4M618.2 715l5.6 5.8M690.2 741.9l4.8 4.7M630 614.1l5.1 6.2M707.9 736.5l4 4.1M452.5 512.7l4.2 5.1M635 767.8l4 3.9M576.3 670.5l3.5 3.8M534.8 493.7l3.6 5M659.4 736.2l5.2 5.3M456.2 499.3l3.9 4.8M474.8 399.7l2.9 4M643.8 751.4l4 4M686.8 688.7l6.1 6.6M481.5 649.2l3.8 3.8M592.2 701.7l5.2 5.3M668.8 848.3l4 3.7M604.4 612.1l3 3.4M677.8 790.8l3.5 3.3M828.5 904.1l4.6 4.5M460 607.2l4.2 4.5M476.9 574.6l3 3.5M614.2 753.5l3.8 3.5M767.2 822.9l4.7 4.6M774.5 889.9l6.2 5.8M669.9 659.4l3.9 4.6M726.1 854.6l4.6 4.3M655.9 768.6l3.8 3.7M549.7 645.4l3.1 3.5M620.4 565.1l5.3 7M689.2 738l5.3 5.6M671.7 750.6l5.9 6.1M720.9 826.2l7.1 6.7M547.8 468.2l5 7.1M474.6 455.3l6 7.7M573.9 498.4l5.8 7.8M560.9 701l5.7 5.9M608 737.1l6.8 6.9M739.4 753.9l5 5.2M695.6 722l3.4 3.7M445.2 418.1l4 5.1M453.2 639l5.6 5.8M452.9 630.8l4.5 4.7M488.5 622.6l6.4 7M613.4 707.5l6.2 6.4M807.5 921.1l4.7 4.5M540 685.4l4.8 4.9M647 722.6l4.9 5M731.8 771.8l5.5 5.6M823.1 892.3l6.6 6.4M755.2 767.9l5.9 6M446.1 480.4l5.4 7M782.2 861.1l6.6 6.3M746.7 916.3l5 4.5M536.7 700.5l4.6 4.6M687.8 707.2l3.9 4.1M604.2 591.4l5.6 7.2M629.5 632.9l4.6 5.4M526.6 454.7l3.7 5.2M702.3 693.9l6.3 7M609.6 533l5.4 7.7M576.8 516.1l4.7 6.5M646.4 645.2l6.1 6.7M770.3 890.7l5.2 4.9M674.3 661l4.1 4.7M568.3 516.8l3 4.1M631.2 781.7l6 5.8M512 480.9l3 4.1M563.3 452.4l2.6 3.8M669.4 677.6l4.4 5.1M579.5 758.2l5.3 5.2M642.1 758.7l6.1 6M576.7 539.7l4.1 5.5M655.2 686.8l4.2 4.7M811.8 876.2l5.5 5.3M787.7 904.2l6 5.6M577.7 670.6l5.1 5.5M514.1 624l4.3 4.5M639.4 741.6l6 5.9M810.4 848.7l5 4.9M557.3 492.7l3.5 5M767.2 876l6.5 6.1M505.2 440.8l4.8 6.7M731.7 859.4l6.7 6.3M751.2 803.2l3.5 3.5M673.8 767.6l5.9 5.5M651.6 793.9l7 6.5M689.2 679.2l3 3.4M568.6 559.5l4 5.2M541.9 690.2l4.6 4.6M549 717.5l6.4 6.5M708.2 860.9l3.7 3.3M797.4 918l7.2 6.7M603.5 565.3l5.7 7.3M461.9 610.2l5.3 5.7M773.2 783.9l4.6 4.7M603.7 742.7l4.2 4.2M600.9 526.8l5.2 7.3M531.4 474.7l3.4 4.7M728.9 845.2l5.7 5.4M668.8 734.4l6.5 6.7M783.3 899.8l5.7 5.3M679.3 639.8l3.7 4.4M743.5 790.9l3.3 3.2M589 494.8l3.7 5.2M763.6 788.7l4.3 4.4M555.9 679.6l3.2 3.3M683.9 728.8l4.4 4.7M725.1 734.2l5.5 5.7M617.3 618.6l3.6 4.3M584.6 737.1l7 7M505.6 427l2.6 3.7M753.1 934.6l3.6 3.2M862.1 862.3l5.7 5.8M743.3 913.4l6.2 5.6M806.4 828.4l5 5M540.3 567.3l3.3 4.1M568.7 664.7l3.4 3.7M687.8 701.2l6.4 6.9M619.7 568.2l3.7 4.9M498.3 355.4l5.5 8.1M811.5 846.2l4.2 4.2M683.9 701.8l6.5 7M709.2 787l3.7 3.6M876.1 834.8l6.6 6.8M666.7 785.5l6.6 6.3M568.5 711.7l3.9 3.9M511.2 629.3l4.8 5.2M803.5 864.8l3.5 3.4M594 510.5l3.7 5.2M620.9 597.7l4.3 5M525.4 700.4l6.8 6.8M546.1 544.7l3.9 5M846.7 903.1l7 6.9M615.4 797.2l5.3 4.9M505.5 618.4l6 6.8M565.7 432.8l5.2 7.9M627 761.2l4.8 4.7M841.9 889.9l6.4 6.3M627 711.8l6.6 7M516.4 410.3l5.1 7.4M650.7 770.6l6.4 6.3M469.6 573.7l3 3.5M607 586.1l4.2 5.4M632.4 762.1l6.8 6.6M798.5 881.5l6 5.7M458.7 644.5l5.4 5.6M485.2 607.8l6 6.7M750.9 823.4l7.1 6.9M696.9 832.6l7.3 6.7M888.7 849l6.9 7.1M550.4 455.7l3.6 5.3M614.5 626.5l3.9 4.6M781.2 839.3l4.8 4.7M447.2 380.5l4 5.3M563.7 444.2l5.5 8.2M593.1 540.7l5.3 7.3M634.1 557.2l5.4 7.4M816 925.7l5.2 4.9M738.1 845.2l6 5.7M490.9 655.2l6.3 6.4M625.5 762.9l3.9 3.7M732.1 806.2l5.2 5M707.8 678.5l6.5 7.3M708.4 841.4l5.1 4.7M767.3 812.4l3.2 3.2M813.3 822l6.6 6.6M732.9 746l6.9 7.2M712.7 726.8l6.5 6.8M686.1 806.9l6.3 6.1M755.7 760.1l4.3 4.2M546 521.4l3.6 4.9M623.5 716.4l5 5.3M561.8 618.6l4.4 5.2M739.4 823.3l6.7 6.4M759.2 764.5l4.8 4.9M499.9 647.3l5.4 5.7M741.6 710.1l4.9 5.3M791.1 900.9l6.7 6.3M779.3 814.3l5.9 5.6M593.2 571.8l3 3.8M599.5 553.5l3.1 4M448.5 409.7l4.4 5.7M643.1 611.9l4.6 5.7M471.8 370.8l5 6.9M721.7 832.2l3.5 3.3M646.5 749.6l6.5 6.4M657.3 739l6.7 6.8M795.8 823.8l6.9 6.9M722.5 696.4l4.5 5.1M601.2 668.7l5.8 6.5M524.8 412.8l5.2 7.6M733.8 805.4l5.3 5.1M569.5 479.2l2.9 4.2M515.9 640.3l5.2 5.6M492.5 698.9l3.7 3.7M657.7 640l4 4.6M499 663.8l4.9 5.1M583.6 683.8l5.7 6.2M700.2 773l5.4 5.3M670.5 678.5l5.1 5.8M699.7 683.5l6.1 6.8M480.9 637l5 5.4M632.4 785.6l6.4 6.1M802.4 906.3l4 3.8M597.7 743.9l5.5 5.5M775.2 847.3l6.5 6.2M712.7 838.7l7.2 6.7M618.5 671l6.5 6.7M677 785.2l5 4.8M792.2 885.6l3.7 3.4M560 515.1l3.9 5.1M586.7 688.9l3.5 3.6M675.4 721.6l4.9 5.1M627.9 758.8l5.2 5M805.8 888.8l6.3 6M683 832l7.3 6.3M461.5 448.9l3 3.8M694.4 716.5l6.6 7M606.2 580.7l5.1 6.6M452.7 597.9l6.3 6.6M461.5 360.8l5.8 7.9M709.2 758.3l5.1 5.1M844.4 849.6l4.7 4.7M518.2 571l4.2 5.1M680.9 782.5l6.4 6.2M855.2 894l3.6 3.6M558.7 679l4.7 4.9M450.8 412.3l3.5 4.5M748.3 811.3l5.3 5.2M703.7 818.1l5.4 4.8M574.6 730.7l5.3 5.2M556.4 624.8l3.9 4.6M677.4 789.2l3.6 3.4M574.5 632.1l6.4 7.3M719.3 826.3l5.7 5.4M702.1 816.1l4.1 3.7M697.2 659l5.2 6.2M704.7 839.8l3.9 3.6M477.6 596l6.5 7.2M635.6 731.2l5.6 5.3M542.2 395.8l4.9 7.3M754.8 888.5l7.1 6.6M764.5 863.9l6.1 5.7M447.2 576.8l3.1 3.5M794.2 851.8l3.5 3.4M733.5 709.7l3.7 4M770.5 805.7l5.8 5.8M655.5 768.4l6.9 6.8M606.1 733.5l5.9 6M570.1 580.9l4.2 5.1M746 743.6l4.6 4.9M552.5 682.4l4.4 4.5M522.4 665.9l6.8 7.3M629.2 679.9l3.9 4.3M454 487.7l3.7 4.6M466.4 513.3l5.6 6.9M606.2 613.6l4.4 4.9M562.4 485.7l4.3 6.1M753.6 799.7l3.8 3.8M574 668.4l6 6.5M552.5 696.2l4.3 4.4M506 664.3l4.1 4.3M646.9 763l6.9 6.9M554.1 439.9l5 7.5M763.3 799.3l6.1 6.1M737.8 745.6l5.9 6.2M609.5 516.4l3.2 4.5M462.4 660.1l3.9 3.8M584.6 517.5l3.1 4.2M453.6 611.3l5 5.4M590.5 743.7l6.7 6.7M452.3 585.8l5 5.6M597.3 708.1l5.2 5.3M756 889.8l5.7 5.3M701.8 765.6l4.4 4.4M640.3 648.3l3.7 3.9M470.3 478.4l4.7 5.9M610.1 633.4l3.9 4.6M658.3 736.3l3.4 3.5M835.2 902.5l5.2 5.1M515.5 388l5.4 7.8M578.6 500l3.8 5.3M747.1 723.7l3.2 3.5M555.6 456.7l4.3 6.2M660.5 767l6.4 6.4M580.9 712.1l5.2 5.2M726.6 774.4l5.4 5.5M524.9 564l5.8 7.1M573.2 717.7l6.3 5.9M700.8 657.9l5.2 5.8M832.7 846l5.5 5.5M475.6 387.1l3.4 4.7M763.7 897.2l5.1 4.7M628.3 688.8l3.8 4M504.4 561.3l4.4 5.1M483.2 404.2l4.5 6.2M465.2 651.3l5 5.2M450.8 547.2l5.8 6.6M544.1 633.5l4 4.5M658.1 660.2l5.6 6.4M612.1 584.4l4 5.1M541.5 573.7l3.9 4.9M628.1 628.9l2.9 3.5M685.3 667.3l3.3 3.9M731.5 843.7l4.9 4.6M709.2 807.2l5.3 4.8M704.4 684.3l5.5 6.1M755.5 744.7l6.1 6.6M585.9 739.2l7 6.9M591.9 732.2l6.8 6.8M749.2 797.7l4.9 4.8M483.4 636.8l6.1 6.7M564.5 508.3l5.4 7.1M446.9 553.5l5.8 6.6M613.6 581.2l5.9 7.7M798.3 866.7l5.2 5M457.2 607.1l3.8 4.1M527.6 466.8l4.5 6.3M799.3 828.5l5.8 5.7M525.1 412.2l2.6 3.8M638.7 710l6.3 6.7M464.8 571.2l3.5 4M596.5 642.2l4.5 5.2M522.1 414.3l2.8 4.1M620.9 751.3l6.2 6M631.8 667.9l6.6 7.2"/>
<path stroke="#29ffce" d="M745.5 930.5l5.6 5M624.9 766l4.7 4.5M751.8 778.7l4.8 4.8M492.7 692.7l5 5M552.7 488.7l5.6 8M830.7 894.4l5.1 4.9M512.6 575.7l5.2 6.2M616.2 549l4.5 6M720.9 824.5l5 4.7M765 813.6l3.9 3.9M804.8 803.5l3.7 3.8M590.6 585.5l5.1 6.3M742.6 825.3l4.9 4.7M527.7 472.2l3.3 4.6M589.4 529.3l2.9 4M742.4 866.6l7.2 6.6M585.3 500.8l2.9 4.1M575 482.5l4.5 6.6M629.4 563.9l2.7 3.6M740.1 711.9l5.3 5.8M786 819.2l4.7 4.6M694.3 657.2l4.6 5.5M676.9 666.4l4.6 5.3M834.2 893.4l6.4 6.3M844.7 881.8l3.4 3.3M464.5 642.5l6.5 6.8M562.6 671.8l3.6 3.8M681.6 653.7l6 7.1M666.7 656.6l4.9 5.7M834 888l6 5.9M775.6 822.6l5.1 4.8M597.5 729.7l5 5M801.2 917.3l4.5 4.2M634.5 781.8l5.4 5.2M821.7 851.7l3.3 3.2M690.4 796.3l4.8 4.6M755.6 819.1l4.9 4.8M699.3 809.7l5.5 5.3M673.3 660.4l4.7 5.5M638.9 805.7l7.3 6.6M587.6 699.7l3.9 3.7M662 788.8l7.2 6.8M551.5 498.1l4.6 6.5M637.5 748.1l5.4 5.3M509.2 599.8l3.5 4M705.1 801.4l7.1 7M603.6 512.6l3.2 4.5M790.9 865.8l4.8 4.7M577.6 562.8l5.3 6.2M742.7 914.6l6.8 6.2M793.4 913l5 4.7M850.4 850.2l5.8 5.8M604.4 583.3l5.5 7M530.4 443.7l4.1 6M767.3 759.3l3.9 4M467.1 546.4l3.8 4.5M845.5 880.4l6.7 6.6M597.5 716l6.2 6.3M572.7 551.8l5.8 7.7M611 569l5.8 7.5M552.8 649.8l4.5 4.9M482.3 490.6l3.4 4.4M730 814.8l5.7 5.4M724.2 721.8l6.3 6.7M617.1 733.6l3.2 3.3M446.6 358.6l3.2 4.4M547.7 466.3l2.7 3.9M607.3 799.8l3.4 3.1M702.7 772.1l5.2 5.2M513.1 638.7l5.4 5.8M485.5 681l4.3 4.3M493.2 457.9l5.5 7.3M673.5 753.3l5 5.1M725.2 849.5l5.5 5.2M785.9 831.5l4.2 4.1M487.8 681.6l5.4 5.5M554.6 476.5l5.4 7.8M497.5 550.9l3.3 4M739 785.4l6.9 6.8M730.4 744.1l5.7 6M553.4 732.7l4 3.7M536.9 628.2l4.9 5.5M514.8 692.1l5.5 5.3M483.2 617.8l3.7 4.1M573.5 526.4l4.7 6.3M700.6 648.8l4 4.9M756 879.3l4.9 4.6M527 457l3.6 5.1M508 452.7l4.6 6.3M562.1 441.5l3.8 5.8M681.2 653.6l4 4.8M617.9 583l4.5 5.8M736.2 855.3l3.9 3.7M509.2 436.6l3.8 5.4M589.9 754.9l3.4 3.3M750 922.9l3.6 3.3M818.4 884.8l3.3 3.2M748.5 914.9l5.3 4.8M477.5 680.1l6.7 6.7M800.2 897.3l7 6.7M739 919.3l6.8 6.1M671 652.4l3.5 4.1M745.3 769.7l5.8 5.5M786.7 807.3l3.4 3.3M767.4 818.8l3.9 3.9M551.9 704.1l3.9 4M529.5 413.8l5.2 7.9M598.1 541.8l5.2 7.1M843.1 898.2l4.5 4.4M472.6 396.8l3.7 5M524.7 409l3.5 5.1M753.1 747.6l5.5 5.9M646.1 779l5 4.9M642.7 583.8l4.8 6.2M690.9 639.5l3 3.6M675 785.5l4.6 4.4M690.9 640l5.6 6.7M542.4 436.8l3.8 5.6M578.3 469.5l5 7.5M737.2 815.3l6.6 6.3M806.3 859.9l4.1 4M771.8 919.4l6.2 5.7M597.5 696.9l5 5.2M483.4 393.8l5.5 7.6M677.9 699.3l6.5 7M640.6 760.3l3.3 3.2M625.5 570.6l3.4 4.5M575.9 579l3.7 4.6M668.7 794.6l3.4 3.2M609.9 738.6l5.2 5.2M550.3 666.4l6.3 6.6M474.7 357.9l3.7 5.2M737.3 746.5l3.2 3.3M612.7 546.7l4.5 6.1M524.8 418.4l4.7 7.1M682.6 675l3.8 4.5M583.7 505.1l3 4.2M755.5 863.4l4.4 4.1M752.8 789.8l5 4.9M675.5 872.6l4.6 4M788.9 830.3l6.8 6.6M581.8 494.9l4.8 6.6M626.2 765.7l4.8 4.6M789.1 819.8l7 6.9M671.4 776.3l3.7 3.6M686.9 681l6.3 6.9M617.8 503.7l5 7.4M631.8 786l4.6 4.4M784.2 870.5l3.7 3.5M547.4 455.9l2.7 4M486.1 676.4l6 6M584.5 471l3.9 5.9M557.7 651.5l5.3 5.5M748.5 822.1l6.8 6.6M669.6 639.2l3.6 4.3M791.4 884.6l7 6.5M664.2 629.8l6.3 7.4M451.1 456.5l4.4 5.5M674 640.3l3.3 3.8M466.4 381.6l4.8 6.5M667.3 622.3l4.2 4.9M606.8 536.2l3.9 5.4M693.7 687l3.2 3.5M464.3 492.6l3.5 4.4M712 801.4l5.1 4.6M792.4 915.9l7.2 6.8M555.2 449.4l5.2 7.7M728.7 738.3l6 6.3M757.6 896.1l3.4 3.1M466.3 511.8l2.9 3.6M499 398.1l4.3 6.1M516.8 665.8l6.7 7.1M543.5 613.5l6.1 7M759.6 860.3l5.6 5.2M645.4 701.8l4.7 5.1M658.3 688.3l5.3 5.9M500.7 379.7l4.2 6.1M580.9 746.5l6.8 6.6M783.1 922.9l5.7 5.3M763.2 859.2l4.6 4.3M725.6 760.5l4.9 5M465.5 654.4l3.7 3.9M669.9 681.1l5.4 6.1M682.3 666l5 5.9M540 457.8l4.2 6.1M693.5 802.4l4.3 4.2M738.7 738.3l5.5 5.8M794.1 822.6l6.2 6.2M732.1 798.8l6.1 5.9M862.7 865.1l6.3 6.4M463.3 586.2l6.2 7M857.3 887.1l5 5M527.2 693.4l4.1 4.1M507.2 485.7l5.7 7.6M636.5 547.2l4.8 6.7M457.1 638.5l6.3 6.5M700.7 833l6.3 5.8M591.8 738l4.5 4.4M655.6 767l7 7M655.6 662.7l4.2 4.7M542.2 677.4l5.7 5.9M523 641.9l3.3 3.6M832.9 882.5l4.5 4.4M540.6 435.9l2.7 4M847.2 857.6l3.7 3.7M499.8 700.7l4.7 4.7M567.4 710.4l3.9 3.9M599.1 496.2l4.6 6.6M678.1 773.1l3.6 3.5M678.1 748.7l3.9 4M576.5 647.2l4.2 4.7M689.3 736.5l5.5 5.8M699.3 775.5l4.6 4.6M799 892.6l5.8 5.5M493.1 581.8l4.5 5.2M579.2 511.3l2.8 3.9M577.3 664l5.2 5.7M683.2 623.2l4.4 5.3M510.7 641.5l3.5 3.7M709.1 807.9l5 4.5M582.2 515.4l3.9 5.5M487.6 680.4l3.3 3.3M667.1 617.3l4.1 5.2M727.9 834.8l6.9 6.5M848.7 871l4.6 4.5M596.1 553.4l5.4 7M705.8 741.8l5.3 5.5M754.5 872l5.8 5.4M479.1 376.1l2.9 4.1M694.1 643.9l5.1 6.1M685.5 710.1l3.1 3.3M516.7 401.2l4.1 5.8M690.1 717.7l4.4 4.7M513.7 608.9l4.6 5.3M717.2 738.1l3.5 3.7M610.4 589l3.3 4.2M702.8 713.3l3.4 3.7M623.1 589.7l4.7 5.9M644.1 678.3l4.6 5M713.3 743.1l5 5.1M570.1 474.5l5.2 7.6M630.3 633l5.1 6.1M758.8 882.8l3.5 3.2M554.7 665.8l4.7 5M550.4 496.7l3.1 4.3M796.7 839.5l5.9 5.8M728.3 844.6l3.6 3.4M624.8 575.9l2.9 3.8M671.3 803.5l6 5.7M679 791.3l6.5 6.2M638.6 640.5l4 4.7M570.1 677l5 5.4M746.2 801.9l5.1 5M561.1 687.1l5.5 5.8M588.7 506.7l5.6 7.9M825.7 864.1l5.6 5.5M691.7 697.3l3.8 4.2M461.5 379.3l3.4 4.7M719.5 700.2l4 4.4M724.6 826.9l5.3 5M545.7 464.8l5 7.1M445.8 516.4l4.7 5.7M606.3 572.9l3.3 4.3M811.7 864.1l6 5.8M730.3 719.9l4.9 5.2M569.9 709.1l4.6 4.6M695.9 681.7l3.1 3.4M502.7 442.2l3.7 5.2M583.1 736.1l4.5 4.4M760 928.2l6.5 5.9M569.8 710.1l6.8 6.5M641.6 662.9l5.5 6.2M456.5 559.2l5.1 5.8M645.3 746.8l4.1 4.1M616.9 758.3l7.1 6.8M818.2 897.4l5.7 5.5M503.7 395.5l3.5 5M694.4 763.3l4.4 4.4M732.6 732.4l5.9 6.3M654 776.1l4.5 4.4M603 699.4l5.9 6.1M790.2 846.4l4.8 4.7M444.2 626.9l5.9 6.1M818.5 848.5l3.9 3.9M465.7 647.8l4.2 4.4M589.1 734.3l5.1 5.1M498.9 452.1l2.7 3.7M785.4 862.4l5.9 5.6M696.1 664.8l5.2 5.7M754.5 856.3l6.4 6M477.1 392.1l5.8 8M554.3 456.5l2.8 4M700.7 793.5l4.9 4.8M776.2 877.2l5 4.8M588 632.3l3.9 4.5M734.1 764.4l6.4 6.6M573.7 484.6l4.8 7M644.6 776.7l5.5 5.4M736.2 916.7l4.6 4.1M608.7 580.1l3.1 4M590.7 754.1l5.5 5.4M636.1 667.8l6.3 7M450.6 369.2l3.1 4.2M891 850.9l5.9 6.1M792.7 818.5l5.5 5.4M644.9 767.3l3.3 3.2M756.2 902l5 4.6M560.7 550.3l4 5.2M517.9 635.9l5.7 6.2"/>
<path stroke="#3effb9" d="M490.4 355l4.5 6.5M791 891.9l5.2 4.9M606.6 772.2l5.7 5.3M476.4 609l4.9 5.3M685.4 675.4l4.9 5.2M855.7 821.7l3.2 3.2M714.4 764.4l6.6 6.7M727.4 703.9l3.5 3.8M636.3 663.4l6 6.7M813 866.4l3.3 3.1M517.2 468l4.9 6.8M655.5 579.2l5.5 7.1M684.1 786.7l5.1 4.9M643.6 806l5.1 4.7M527.7 390.3l5.4 8M733.6 923.6l6.4 5.7M473.9 382.6l5 6.9M601.4 572.9l3.3 4.2M766.8 783.3l7 7.1M778.4 850l3.6 3.4M545.3 431.4l4.9 7.3M542.3 709.2l4.9 5M496.1 642.7l6.3 6.5M599.1 511l2.8 4M742.4 936.1l5.9 5.3M745.5 899.6l7.3 6.6M450.8 569.3l5.3 5.9M665.9 624.8l6.5 7.4M583 693l5.9 6.1M747.5 716l4.7 5.1M731.2 690.8l3.5 4M799.3 876.2l6.6 6.2M650.2 577.8l4.9 6.2M529.6 664.7l3.3 3.5M707.5 681.6l5.8 6.5M843 888.4l5.6 5.5M530.7 696l6.6 6.6M781.4 911.7l7.1 6.6M465.6 547l3.9 4.6M734.5 753.6l4.7 4.9M728.9 867.6l3.9 3.6M604.8 722.1l5 5.1M772.5 902.9l3.8 3.5M734.5 763.8l3.3 3.4M795.8 847.1l5.6 5.5M651 659.5l3.3 3.7M522.4 684.1l3.7 3.6M765.6 877l5.9 5.6M801.7 859.7l6.7 6.5M696.1 649.2l3.6 4.3M550.3 685.7l3.7 3.8M840.9 884.7l5.7 5.6M617.1 523l4.4 6.3M657.4 698.2l4 4.4M733.3 914.1l3.8 3.4M751.6 891.2l4.4 4.1M769.1 888.5l4.1 3.8M691.2 628.2l6.1 7.4M729 727.3l6.2 6.5M597.5 698.2l6.8 7.1M562 455.1l5 7.2M742.5 736.7l6.1 6.5M862.6 847.6l4.7 4.8M607.4 586.4l5.9 7.5M610 547.9l3 4M646.8 769.1l3.6 3.6M771.8 846.5l4.9 4.7M714.1 675.8l6.4 7.3M458.4 649.3l6 6.2M718.1 690.9l4 4.5M776.4 869.1l4.1 3.9M817.4 902.9l3.9 3.8M714.1 688l4.3 4.8M768.7 825.1l7.3 6.8M549.4 704.2l5 5.1M717.7 730.6l5.7 6M727.6 868.4l5.5 5.1M684.2 795.2l6 5.8M765.5 843.4l6.8 6.5M797.3 856l5.6 5.4M522.7 656.7l6.7 7.3M720.2 883.3l6.6 5.8M724.2 802.7l4.4 4.2M465.6 369.8l4.7 6.4M695.5 671.7l6.5 7.3M697.2 841.1l7.3 6.6M569.9 466.1l4.8 7.1M521.8 709.9l3.4 3.3M761 926.6l5.7 5.2M775.9 875.1l5.4 5.1M752.6 814.5l5.7 5.6M762.7 909.3l3.3 3.1M701.6 676.7l4.6 5.1M730.7 691.5l6.4 7.3M513.7 641.1l4.5 4.8M528.2 461.2l5.1 7.2M648.5 775.2l4.5 4.5M537 738.8l5.1 4.9M534.8 398.4l3.7 5.6M724.7 787.4l3.2 3.2M787 931.2l4 3.7M798.8 840.5l6 5.9M546 679.8l4.7 4.9M762.5 897.3l6.2 5.8M707.2 679l4.3 4.8M555.7 451.8l3.8 5.6M514.2 431l5.3 7.6M761.3 841.7l7 6.7M535.8 741l4 3.8M682.7 676.2l6.6 6.8M698.7 663.9l6.3 6.9M706 736.1l3.4 3.5M609.2 719.3l4.2 4.4M527.4 661.9l4.8 5.2M731.8 707.9l5.7 6.1M758.4 771.1l4.1 4.2M741.5 749.2l4.8 5.1M782.9 768.4l5.7 5.9M553.8 670.8l4.6 4.8M816.6 911.3l5.4 5.2M829.4 856.9l4 4M755.6 854.9l5.8 5.5M538 412l3.3 5M532.8 696.3l5.2 5.2M522.1 449.5l5.3 7.5M645.9 584.8l3.3 4.2M483.6 659.8l6.1 6.2M538.4 729.7l4.1 4.1M640.1 608.9l4.8 5.9M680.7 762.9l5.6 5.5M790.1 814l4.5 4.5M527.7 467.7l3.5 4.9M575 454.9l4.1 6.1M546.3 666.6l4.7 4.7M625.5 547.2l4.9 6.7M746.7 837.9l6.2 6M592.3 734.8l6.1 6M476.4 414.3l4.3 5.8M487 367.5l3 4.3M680.7 703.6l4.7 5M684.2 743.8l3.8 4M578.1 518.7l5 6.8M552.4 477l2.7 3.8M450.6 493.5l5.1 6.2M788.7 845.4l7.2 7M510 661.8l5.2 5.5M492 364.4l5.4 7.8M628 617.8l4.9 6M600.4 697.5l4.4 4.6M487.5 473.2l3.9 5.2M563.5 436.9l4.4 6.8M539.1 457.3l5 7.3M626.7 789.1l4.9 4.7M709.6 831l4.6 4.3M797 838.9l3.6 3.5M711.7 791.7l6.5 6.4M690.6 744.2l5.2 5M733.6 919.3l6.5 5.8M852.4 867.4l5.2 5.2M853.2 893.5l6.6 6.5M637.2 630.7l5.1 6.2M621.7 566l4.1 5.5M804.2 843.5l6.7 6.6M758.4 937.8l6.4 5.8M673.2 671.9l6.1 7.1M444.5 524l5.2 6.2M569.8 623.3l3.7 4.4M541.9 694l3.7 3.8M546.3 717l3.4 3.4M553.6 430.5l5.1 7.7M684 684.8l3.3 3.7M746.8 848l4.3 4.1M468.2 627l3.6 3.8M765.2 868.8l6.9 6.5M788.5 918.8l5.5 5.2M529.6 691l3.2 3.3M803.5 839.9l5.1 5M523.8 650.7l3.6 3.9M630.6 747l4.5 4.4M838 910.5l6.1 5.9M731.6 755.4l4.6 4.7M522.2 428.7l2.6 3.7M596.2 515.4l4.5 6.3M731.1 823.5l4.2 4M511.6 654.7l4.1 4.3M767.8 897.3l3.6 3.3M446.9 386.3l5.6 7.3M662.7 749.6l3.9 4M664.5 679.5l6.3 7.2M740.1 905.3l5.3 4.8M821.2 915.5l4.2 4.1M846.3 875.5l3.6 3.6M638.8 614.5l4.9 6M565.7 520.3l4.4 5.9M535.5 418l5.2 7.7M751.9 921.9l6.4 5.9M525 676.4l5.5 5.6M678.2 715.5l4.4 4.7M665.7 817.5l3.9 3.6M625.6 772.4l3.4 3.2M519.5 454.3l5.6 7.9M526.4 653.2l5.1 5.5M557.8 697.1l4.9 5M699.8 820.7l5.2 4.6M538.9 567.1l4.1 5.1M652.5 807.5l4.3 3.9M468.3 619.8l3.6 3.9M669.7 789.6l5.4 5.2M626.7 644.2l4.9 5.8M689.9 684.3l3.6 3.9M536.7 438.1l3.2 4.7M449.3 597.8l6.3 6.9M458.2 407.8l3.3 4.4M731.5 830.1l4.9 4.7M656.8 742.3l4.4 4.4M547.6 593.9l4 4.4M716.2 689.4l4.9 5.5M491.6 356.9l4.1 6M630.3 598.6l5.7 7M695.5 809.6l6.1 5.9M712.4 763.4l4.3 4.3M602.1 740.7l5.1 5.1M514.6 681.1l5.1 5.2M711.8 754.3l6.8 7M635.2 616.8l4.6 5.6M470.7 359.7l4.9 6.8M737.2 734.4l4.1 4.4M756.3 817.3l6.6 6.5M618.8 558.4l3.1 4.1M573.5 737.2l3.9 3.8M787.5 771.1l5.1 5.4M665.2 667.8l3.8 4.4M534.9 612.9l5 5.6M734.2 832.8l6.8 6.5M873.9 851.6l3.3 3.4M857.9 860.6l4.7 4.7M630.8 715.4l6.6 7.1M698.4 672l6.6 7.4M744.9 771.8l4.1 4M709.8 830.2l3.4 3.2M476.2 578l5.7 6.2M459.1 537.8l5 5.7M728.2 729l6.6 6.9M724.6 734.8l5.9 6.1M726.3 820l3.4 3.3M506.8 653.9l3.8 4M778.1 765.2l6.2 6.4M449 581.8l5.4 6.1M593.7 627.5l6 6.9M556 655l3.6 3.7M663.5 719.6l6.5 6.7M550.3 686.6l6 6.1M614.6 576.1l4.4 5.7M778.7 931.9l6.5 6M706.1 798l5.3 5.2M694.7 833.7l4.2 3.9M557.9 488.5l4.1 5.8M639.3 586.3l5.6 7M799.8 877.9l5.6 5.2M670.8 690.8l3.4 3.4M493.1 698.7l6.3 6.3M783.1 914.1l4.2 3.9M599.1 719.9l3.5 3.5M592.1 558.1l4.2 5.4M493 691.5l6.9 7M626.8 573.7l3.8 5M509.2 669.9l3.7 3.9M697.4 833.7l4.2 3.9M473.4 413.1l3.3 4.4M480.8 589.9l6.2 7M566.7 547.8l5.6 7.4M600 736.5l5.5 5.5M764.4 834.9l5 4.6M861.8 829.5l5.9 6M536.9 472.9l5.1 7M541.9 690.2l5.3 5.4M627.3 727.1l3.2 3.4M689.7 665.2l3.5 4.2M526.2 477.6l6 7.9M656.5 675.5l4.9 5.5M807.2 930.3l3.8 3.6M592.1 693.7l4.9 4.8M543.5 735.9l4.1 3.9M538.1 727.1l3.3 3.3M754 845.1l5.2 4.8M576.7 530.6l4.3 5.8M751.3 930.5l5.6 5M791.4 918.8l7 6.5M602.4 696.6l6.7 6.9M684.8 830.3l4.9 4.7M602.6 591.3l4.3 5.5M831.8 905.6l3.4 3.3M755.7 903.4l4 3.7M853.2 894.4l5.4 5.4M572.4 659.6l4.6 5M706.8 659.2l5.8 6.7M721.4 746.2l3.4 3.5M623.7 526.3l5.1 7M663.7 646.1l3.1 3.6M543.7 419.8l3.2 4.8M553.3 617.5l4.6 5.4M614.6 625.6l3.2 3.8M497.3 408.6l5.2 7.3M540 694.8l4.5 4.5M708.8 851.8l5 4.5M731.1 768.7l5.5 5.7M648.3 667.8l4.3 4.8M642.2 718l6 5.8M564.1 465.9l2.6 3.8M728.6 877.3l6.2 5.4M556.3 441.8l4.6 6.9M760 831.6l4.9 4.8M668.2 808.6l4.3 4M573.8 440.3l3.7 5.8M692.9 645.7l3.2 3.8M731.1 727.2l3.7 3.9M759.2 891.7l6.2 5.7M454.2 375.6l3.4 4.6M759.1 851.5l6.4 6.1M453.7 512.9l5.4 6.6M597.3 631.2l4.2 4.8M749.6 721l4.8 5.2M526.9 621.8l5.2 5.8"/>
<path stroke="#52ffa5" d="M726.2 743.9l3.9 4M796.1 877.2l3.5 3.4M829.6 858.1l5.3 5.3M816 924.3l4.9 4.7M599.9 779.5l6.5 6M503.9 702.5l3.6 3.4M546.6 480.5l5.7 8.1M596.7 623.6l6 6.9M530.5 719.1l4.3 4.2M857.8 883.9l6.8 6.8M511 453.8l4.7 6.5M549 714.2l3.7 3.8M630.1 528.3l4.1 5.7M596.9 689.4l6.2 6.1M775.8 922l6.9 6.4M701.1 764.2l4.1 4.1M742.5 920.2l4.7 4.3M545.4 513.2l4.8 6.6M743.9 752.9l5.2 5.4M753.7 860.9l4.4 4.1M703.1 818.8l6.2 5.6M737.2 774.2l6.6 6.3M832.5 893l6 5.9M748.7 917.9l6 5.4M590.5 773.2l6.8 6.1M539.7 701.7l5.5 5.5M883.3 857.1l5.6 5.8M575.6 526.1l3.4 4.7M618.3 782l4.4 4.1M772.4 819.9l6.5 6.1M724.7 888.4l5.6 5.1M516.1 643.6l3.2 3.4M666.8 613.9l4 4.9M824.9 819.7l4.6 4.6M756.2 865.9l3.8 3.5M784.9 785.2l6.5 6.6M567.3 510.7l4.7 6.1M776.6 815.2l6.3 6M741.3 781.2l5.9 5.8M649.3 658.7l4.9 5.5M465.5 367.7l4.2 5.7M581.2 468.6l4.7 7M512.7 363.6l4 6.1M614.3 549l4.4 5.9M655.1 658.8l4.3 4.9M667.1 649.4l4.7 5.4M895 838.1l5.5 5.8M730.3 822.6l4.4 4.2M700.8 777.4l5.3 5.2M817.6 847.3l6.1 6.1M739.5 930.5l4 3.5M765.4 816.3l5.7 5.6M751.6 743.4l4.7 5M708.5 653.3l5.8 6.6M632.5 530.8l5.3 7.5M614.2 573.9l3.1 4M799.1 813.6l4.9 4.9M868 879.9l6.9 7M534.4 389.8l4.1 6.1M873.8 872l4.8 4.9M576.5 742.6l5.7 5.5M444.3 647.7l6.5 6.6M653.3 640.9l4.2 4.6M580.7 734.5l5.7 5.5M829.6 851.6l6.2 6.1M800.5 877.7l4.4 4.2M815.3 922.5l3.6 3.4M668.2 846.1l7.2 6.6M692.2 725.2l5.3 5.7M747.8 688.3l4.2 4.7M509.1 705.5l6.1 5.9M786.8 892.8l7.1 6.6M713.2 837.3l4.7 4.4M810.7 887.8l4.2 4M613.6 495.9l4 5.9M628.1 574.8l4.6 6.2M470.1 365.1l2.9 4M834 891.2l3.8 3.7M512.9 389l5 7.4M742.2 862.4l7.1 6.5M634.3 752.7l4.7 4.7M508.1 696.5l7.2 6.9M528.8 378.5l4.3 6.5M754.4 898.4l4.1 3.8M749.6 842.5l3.6 3.5M678.6 814.9l5.5 5.2M670.5 795.1l5.7 5.4M702.1 870.4l6.5 5.9M684.1 838l6.3 5.4M619.8 571.4l5.6 7.4M554.1 461.6l4.7 6.7M763.1 933.1l6.5 5.9M838.9 898.5l4.2 4.1M880.6 862.1l3.6 3.7M727.8 695.1l3.7 4.2M821.3 846.8l5.4 5.2M593.9 741.4l5.1 5.1M561.5 759.4l6.2 5.9M744 736.9l4 4.3M744.9 908.3l6.9 6.3M650.6 628.1l5.4 6.5M656.1 600.4l4.5 5.8M777.1 936.2l5.5 5.1M874.2 861.6l4.8 4.8M719.8 853l6.1 5.7M639.6 742.7l3.9 3.8M732.9 884.9l6.3 5.7M591.2 701.1l6 6.2M504.5 387.5l4.3 6.2M728.3 713.1l4.7 5M788.6 824.8l7.1 7M748.7 781.5l5.9 5.9M700 825.3l6.5 6M683.2 789.4l6 5.8M766 788.1l5.7 5.7M461.9 369.4l5.1 7M458.3 622.7l6.8 7.2M679 850.4l4.7 4.2M762.4 800.4l4.2 4.2M716.9 834.9l6.1 5.7M781.7 828.7l3.3 3.2M735.2 907.2l7.2 6.5M757.8 906.5l6.7 6.2M594.9 736.7l3.9 3.9M709.1 891.8l4.7 4M781.7 772.3l6.8 7M792.7 855.5l3.6 3.5M837.5 883.6l5.3 5.2M780.6 813.8l3.8 3.6M765.3 851.5l6.7 6.3M727.4 861l6 5.6M659.7 754.5l5.8 5.8M756.3 850l6.9 6.5M725.7 866.7l3.4 3.1M605.6 731.6l3.7 3.7M616.4 732.6l3.6 3.7M619.9 574.8l3.5 4.5M802.7 811.3l5.1 5.1M739.8 865l4.2 3.7M741 755.5l6.1 6.4M888.8 842l5.5 5.7M765.5 802.3l6.7 6.7M837.6 894l4.9 4.8M753.1 731.8l3.3 3.5M790 853.5l5.1 4.9M707.3 674.1l5.8 6.6M758.2 874l4.4 4.1M859.9 863l6.5 6.5M552.4 658.5l4.9 5M553.7 700.5l6.5 6.6M604.6 497l5.6 8.2M809.2 851.7l3.3 3.3M718.7 755.6l4.2 4.3M488.3 366l3.3 4.7M813.3 844.8l4 4M520.7 418.3l5.6 8M636.5 767.4l3.3 3.2M506 428.4l4.8 6.7M871.8 836l3.6 3.7M671.3 828.6l5.6 5.2M567.5 771.9l5.1 4.8M732.2 883.5l5 4.5M579 648.9l5.7 6.3M784.3 814.2l4.7 4.6M684.7 837.6l6 5.2M511.7 653.8l4.9 5.2M634.7 707.1l6.3 6.7M554.3 675l6.3 6.6M541.2 456.9l5.5 7.9M557 662.4l5.9 6.2M751.6 770.8l5.2 5.2M675.7 838l7 6.5M615.6 550.8l2.8 3.7M680.7 743.2l3.6 3.8M482.7 681.9l4.6 4.6M545.9 668.2l4.4 4.4M663.7 618.6l4.2 5.2M764.6 751.8l5.2 5.3M505.5 434.3l3.1 4.4M596.7 736l3.4 3.4M738.4 855.6l5.8 5.5M702.3 719.9l5.9 6.5M793.9 845.6l6.2 6.1M730.4 854.7l4.9 4.6M738 885.2l3.6 3.3M651.9 601.2l4.5 5.6M761.2 829.4l4.8 4.7M655.7 735l4 4M750.4 896.6l4.7 4.3M799.2 794.1l5.3 5.2M544.3 488.7l5.6 7.8M671.3 611.1l5.2 6.5M490.6 474.1l4.1 5.5M617 719.3l4.8 5M684.6 643.3l3.4 4M705.2 710.7l4.9 5.3M785.8 870.6l5.6 5.3M569.1 745.2l5.9 5.7M786.8 907.5l4.4 4.1M613.3 791.2l4.9 4.5M756.7 754.9l6.1 6M581.5 499.8l4.7 6.6M770.4 782.4l5.6 5.7M816.7 846.6l4.5 4.4M843 845.9l4.5 4.5M630.1 581.9l3 3.9M458.7 627.3l4.6 4.8M542.9 426.7l5.4 8.1M785.1 836.7l3.4 3.3M751.1 927.9l5.6 5.1M591.8 784.4l6.9 6.3M747.2 723.3l4.5 4.8M528 672.4l4.4 4.6M859.6 876.1l6.8 6.8M638.5 561.4l4.8 6.6M587.8 476.5l5.1 7.7M727.5 865.6l3.7 3.4M828.7 836.7l7.1 7M649.9 799.6l6.8 6.3M755.5 771.9l6.7 6.8M724.8 758l3.8 3.9M736.1 913.6l3.5 3.2M767.8 802.2l4.5 4.5M446.6 648.3l6.8 6.9M734.9 694.6l3.1 3.5M632.7 623.8l2.9 3.5M756 837.1l5 4.8M619.6 511.3l3.2 4.7M615.6 766.8l4.5 4.3M714.6 661.2l6.1 7M608.3 696.8l4.1 4.2M530.7 492.4l4.6 6.2M663.8 627.8l4.9 5.5M450.4 457.8l6.2 7.7M739.3 854.8l7.1 6.4M584.1 750.3l3.6 3.5M601.4 763.4l6.5 5.8M666.9 597.1l3.1 4M629.2 624.7l5.6 6.7M778.6 776.5l3.9 4M710.4 730.9l3.3 3.4M767.3 878.5l6.6 6.2M806.3 839.1l4.9 4.8M792.3 815l5.9 5.9M730.9 878.8l5.2 4.7M714.9 672.1l5.6 6.4M628 791l6.1 5.8M819.8 840.5l3.6 3.6M531.8 436.6l3.9 5.7M793.7 871.9l3.9 3.8M496.3 392.9l4.5 6.4M710.2 653.2l4.2 4.7M637.4 760.3l5.2 5.1M632.6 618.8l3.9 4.7M656.8 617l3.3 4.1M750.6 854.7l5.1 4.7M770.6 882.2l5.7 5.3M801.3 913l3.5 3.3M662.4 644.3l5.3 6.1M666.2 766.4l3.8 3.8M734.4 899.9l4.7 4.3M448.8 447.6l3.2 4.1M626.1 627.3l3.6 4.4M749.2 848l5.7 5.1M696.2 830l6.8 6.2M850.5 899.1l7.1 7M672.8 659.5l5.5 6.4M616 777l4.5 4.2M686.1 602.4l6.2 7.7M744.6 865.9l3.7 3.4M635 770.6l4.5 4.3M501.8 656l6.9 7.2M512.4 685.3l6.4 6.5M619.9 756.6l6.7 6.4M786.5 765.9l6.6 6.9M740.6 749.4l6.2 6.6M767.6 885l6.1 5.7M724.2 886.4l7.1 6.4M505.8 669l3.3 3.4M587.4 683.3l3.7 4M771.7 787.8l5.5 5.6M652.1 594.5l4.2 5.3M488.2 385.9l4.4 6.1M615.6 528l5.2 7.5M775.3 777.2l3.2 3.3M574.4 664.8l5.3 5.8M759.8 785l5.5 5.6M532.3 436.2l2.6 3.7M771.1 835.6l5.4 5.2M717.7 883.7l6.2 5.4M753.4 891l3.3 3.1M460.1 472.6l5.8 7.6M809.1 872.1l5.1 5M508.6 418.5l4.6 6.4M745.5 915.4l6.1 5.5"/>
<path stroke="#67ff90" d="M760 738.4l3.5 3.8M879.2 840.7l5.1 5.2M747.4 714.2l3.9 4.2M851.6 873.5l3.7 3.7M658.2 626.8l5.5 6.3M484.4 398.3l3.7 5.2M767.5 796.3l3.7 3.7M622.7 618.5l3 3.6M836.8 893l6.4 6.2M829.1 883.5l6.2 6.1M743.1 886.1l4.4 4M739.3 744.9l4.5 4.8M481.1 356.5l4.8 6.9M713.2 670.9l4.9 5.6M710.5 850.7l7.3 6.7M793.4 838.4l5.9 5.8M633.1 781.7l6.7 6.4M760.7 774l6.2 6.3M769.4 884.2l3.9 3.7M840.3 886.9l3.3 3.3M829.3 841l3.6 3.5M794.4 848.5l3.3 3.2M750.6 861.7l5.9 5.5M530.5 733.4l5.1 5M850.4 886.7l6 5.9M750.6 889.3l4 3.7M516.1 539.4l5.9 7.5M514.1 713.7l4.9 4.7M772.5 809.4l5.7 5.7M602.5 705.2l6.5 6.7M831.9 876.8l3.9 3.8M767.9 769.6l5.8 5.9M768.5 812.1l4 4M649 752.3l6.6 6.5M754.3 768.4l4.1 4.1M538.7 689.5l5.2 5.3M499.9 408.2l2.9 4M509.5 400.5l3.6 5.2M760.7 889l6.9 6.4M695.1 855.8l7 6.3M801 809.6l6.4 6.4M701.7 791.4l5.4 5.3M744.9 764l4.8 5M620.1 783.4l4.4 4.1M616.4 720.5l5.3 5.5M891.5 853.1l5.4 5.6M715.6 758.2l5.9 6.1M560.5 700.3l4.1 4.2M718.9 756.3l4.4 4.5M760 826.8l4.6 4.5M744.4 741.8l5.7 6M693.5 633.4l3 3.6M690.4 628l4.7 5.8M596.6 782l4.1 3.7M564.8 424.1l3.6 5.7M795.8 914l5 4.7M517.6 597.8l4.4 5.1M720.5 682.2l5.7 6.5M681.3 641.4l3.4 4M766.5 784.3l6.5 6.6M535.5 707.2l4.7 4.7M751.9 886.1l6.9 6.4M694.6 633.8l5.8 7.1M710.5 864.2l3.4 3.1M810.4 928.4l6.3 6M846.2 857.9l4.8 4.8M560.4 681.8l6.7 7.1M634.1 747.3l4.7 4.6M612.4 771.2l3.7 3.5M762.3 807.2l3.7 3.7M530.7 698.2l5.3 5.3M719.6 882.3l7.2 6.2M490 618.3l4 4.4M618 596.3l3.5 4.1M745.1 919.4l5 4.5M616.2 765.5l7.1 6.8M586.6 772.1l4.2 3.7M760.2 722.4l6.5 7.1M603.9 778.1l6.9 6.4M727.4 887l3.9 3.5M687.6 824.7l6.6 6.2M689.9 794.8l5.2 5M845.2 891.9l5.5 5.4M723 893l5.9 5.2M709.6 844.9l6.9 6.3M875.9 830.2l4.5 4.7M639.5 543.2l4.7 6.5M613.7 565.9l5.2 6.8M700.9 841.4l4.8 4.4M891.7 835.6l6.7 6.9M656 810.1l5.4 5M446.7 381.9l4.4 5.8M830.3 896.7l3.7 3.6M875.6 839.8l3.8 3.9M653.3 592.6l3.5 4.4M660.3 789.6l6.1 5.7M655.6 671.4l3.5 3.9M682.1 815.9l4.3 4M734.6 755.9l5 5.2M516.6 368.7l2.6 3.9M768 870.8l3.5 3.3M456.9 635.3l6.2 6.5M576.7 664.4l4.8 5.2M544.5 746.3l3.5 3.2M771.7 849.4l5.3 5.1M758 743.7l5.3 5.7M761.9 863.3l5.4 5M593.8 735.5l3.5 3.5M684.4 835.8l3.6 3.1M779.3 889.2l6 5.7M661 635.4l4.4 5.2M615.2 514.9l4.3 6.2M679.9 813.3l5.8 5.5M712.8 657.4l3.1 3.5M730.7 873l4 3.5M631.5 816.3l6.3 5.6M543.5 428.3l3.7 5.5M649.4 583.5l2.8 3.6M771.7 801.1l5.2 5.3M489.2 665l6.7 6.8M797.5 823.6l4.2 4.1M690 818.1l7 6.7M775.3 862.4l6.6 6.3M654.9 581.9l4.6 5.9M781.7 817.4l4.6 4.5M691.2 844.9l7.2 6.5M836 868l6.9 6.8M571.7 726.1l4.6 4.4M679 778.7l6.3 6.1M552 631.1l3.1 3.5M688.4 640l3.6 4.3M691.3 816.3l5.7 5.5M860.2 850.8l3.3 3.4M798 853.7l5.7 5.6M761.9 774.9l3.9 4M660.3 798.2l4.3 4M740.9 777.2l6.7 6.4M579.8 754.2l6 5.8M567.1 736.5l6.2 6M672.7 853.9l6.4 5.5M699.5 828l7 6.4M591.7 737.8l5.1 5M566.2 473.3l4.6 6.7M690.5 852.6l6.8 6.1M817.5 837.8l6.5 6.5M761.8 858.2l3.4 3.2M508.3 634.7l4.2 4.5M770.2 934l5.6 5.1M556.6 484l5.6 8M560.8 426.2l3.9 6M640.1 622.5l5 6.1M532 406.7l3.7 5.4M815.3 880.9l4.9 4.7M728.3 734.7l3.2 3.4M765.5 726.1l6.1 6.6M656.7 595.7l4.1 5.2M745.3 708.7l3.1 3.4M766.6 883.7l5.9 5.5M833.5 904.1l5.2 5.1M753.7 751.1l3.9 4.1M796.5 898.4l4.1 3.9M635.4 532l5.1 7.1M837.8 852.3l4.1 4.1M559.7 439.7l3.8 5.7M697.7 875.2l4.9 4.4M855.3 878.3l6.1 6.1M628.4 766.6l4.6 4.4M743.2 908.4l5.3 4.8M618.8 793.5l4.6 4.3M879.1 853.4l4.7 4.8M653.2 772.6l4.6 4.5M522.1 703.5l7.1 7M552.9 706l6.4 6.5M593.2 516l4.2 5.9M600.6 750.8l6.1 6.1M491.8 679.9l5.5 5.6M457.5 639.3l6.1 6.4M559.4 429.7l3.7 5.7M697.4 829l5.9 5.4M795.7 901.7l4.1 3.8M625.4 538.3l5.3 7.3M597.6 708.5l6 6.1M607.3 534.4l4.2 5.9M749.8 854.8l6.7 6.3M621.4 700.6l5.7 6M763.4 769.1l6.1 6.3M544.9 697.9l6.3 6.4M569 471l5.2 7.6M509.9 711.2l6.1 5.9M713.3 647.6l6.3 7.3M509.1 399l3.4 4.9M739 888.2l7.2 6.6M680.1 866.4l4.5 4M781.8 762.7l4 4.2M800.8 863l3.4 3.3M707 847.9l3.7 3.4M752.7 898.5l6.3 5.8M730 887.4l5.8 5.2M597.4 702.7l3.4 3.4M446.1 576.4l6.2 6.8M669.1 819.7l5.8 5.4M740.8 845.1l7.1 6.8M485.9 594.2l6.4 7.2M681.5 662.4l6.3 7.4M768.9 918.6l5.3 4.8M712.9 827.5l5.5 5.1M522.1 418.6l4.7 7M824.4 891.4l4 3.9M645.3 639.8l3.4 4M550.2 479.6l2.8 3.9M745 882l3.3 3M575.8 753.5l4.9 4.7M627.1 598l6.1 7.5M770.6 811.6l5.9 5.9M767.5 850.9l4.5 4.2M819.9 828l4.1 4.2M577.6 755.4l5.9 5.7M741.2 752.1l6.7 7M728.1 743.3l5.4 5.7M775.1 809.6l4.9 5M456.5 661.9l4.3 4.4M674.6 609.8l4.5 5.7M492 410.2l5.7 7.8M772.3 780.2l3.5 3.6M633.9 573.8l3.2 4.3M652.1 794.8l7.2 6.7M765.5 836.5l4.9 4.6M606.6 766.1l6.3 5.9M821.2 901l3.5 3.4M578.1 761.8l5.1 4.9M782.1 905.9l3.6 3.3M781.5 832.2l6.1 5.9M704.7 695.7l5.2 5.7M762.4 820.8l5.6 5.5M818.8 817.8l6.7 6.8M683.5 646.2l5.1 6M630 613.7l5.6 6.8M628 543.7l3.2 4.4M722.1 708l3.3 3.7M820.1 853.1l5.8 5.7M709.3 648.9l4.9 5.6M784.6 839.5l3.2 3.1M469.2 656.8l6.9 6.8M541.2 423.9l2.9 4.3M545.8 418.5l3.3 5M856.9 829.2l5.3 5.4M557.3 692.9l5.6 5.8M647.8 623.3l4.5 5.6M658.4 641.2l6.3 7.3M545.7 401.4l3.1 4.8"/>
<path stroke="#7bff7b" d="M610.8 785.6l4.9 4.6M626.2 780l6.9 6.5M558 755.8l5.2 4.8M588.7 730.9l4.3 4.2M624.3 804.3l3.6 3.4M529.7 706.4l4 4M763.4 850.4l5.8 5.5M592.8 731.7l3.8 3.8M711.5 662.4l5.8 6.6M525 383l4.5 6.6M610.9 565l4.6 6M763.6 862.7l6.3 6M545.4 684.1l6.7 6.9M713.3 873.6l4 3.6M735.3 693.8l5.1 5.6M755.2 770.3l6.1 6.2M519 377.4l2.9 4.3M742.2 697.8l5.4 5.9M498.5 357.7l2.9 4.3M749 923.3l3.6 3.3M804.8 841.3l3.6 3.5M695.8 852.5l6.8 6.1M693.1 632.8l5.3 6.4M657.3 598.2l3.7 4.8M694.2 664.2l5.8 6.3M715.3 844.5l5.1 4.7M560.9 456.5l4.5 6.6M705 666.8l5.1 5.8M757 692.4l5.6 6.2M798.3 898.5l5.6 5.3M838.4 834.4l6.7 6.8M782.8 773.6l6.3 6.5M654.3 826.3l7.2 6.6M624.2 529.4l4.3 5.9M715.2 848.2l5.2 4.8M532.9 728.1l5.6 5.5M536.1 707.5l4 4M528.1 722.9l4.5 4.4M595.5 774.9l4.5 4M754.8 893.4l4.3 3.9M721.6 892.6l5.2 4.7M846.3 907l5.2 5.1M513.5 700l7.1 6.9M641.5 824.7l4.8 4.3M689 636.4l3.7 4.4M674.7 803.7l7.2 6.8M830.6 876.1l6.9 6.8M865.9 852.6l6.3 6.4M664.6 813.8l4.3 4M692.9 841.7l7.2 6.5M593.3 739.6l5.3 5.3M868.3 826.2l5 5.2M677.5 837.5l7.5 6.5M766.7 754.2l6.1 6.3M579.7 686.9l3.8 4.1M774.3 853.1l4 3.9M605.4 493.3l4.3 6.3M584.9 747.2l5.8 5.7M548.6 404l3.9 6M602.2 694l5.3 5.5M824.8 850l5.8 5.7M576.9 725.9l6.2 6.1M875.6 866.2l5.1 5.2M623 516.2l2.6 3.8M784.7 805.9l5.8 5.7M580.9 776.1l3.6 3.4M597.3 474.9l5.1 7.8M641.4 737.4l4.9 4.9M793.8 836.2l4.1 4M785.7 813.3l6.2 6.1M575.3 753.6l3.9 3.7M655.5 644.5l5.1 5.8M594.6 750.8l6.1 6M760.2 882.3l5.6 5.2M776.6 843.8l4.5 4.3M752.1 927.3l4.3 3.9M812 881.9l6.7 6.5M794.8 894.7l3.4 3.2M498.8 660.9l6.5 6.7M509 668.1l3.8 4M681.6 781.4l6.7 6.5M759.4 815.5l5.6 5.5M806 852l5.1 5M548.6 638.9l4.5 5.1M710.2 653.3l5.9 6.6M570.1 440.8l3.7 5.6M728.3 719.4l4.6 4.8M888.4 835l6.1 6.4M634 583.3l5.1 6.2M479.1 368.2l2.9 4.1M781.3 878.7l5.5 5.3M531.7 410.5l5.5 8.3M683.1 666.9l4.8 5.6M765.4 729l4.9 5.3M542.4 421.7l4.9 7.4M521.1 703.2l4.5 4.4M486.2 660.5l5.7 5.8M765.9 856l5.7 5.4M561.4 723.1l3.3 3.1M647.4 623.3l2.9 3.6M772.9 787.2l4.3 4.4M531.3 697.5l5.2 5.2M822.3 917.7l6.6 6.3M674.1 805.4l3.9 3.6M756.4 736.3l5.5 5.9M566.5 768.1l6.1 5.7M811.4 825l5.6 5.6M839.8 902.9l4.7 4.6M760 715.7l4 4.4M637.5 774.9l5 4.9M521.6 705.1l6.1 5.9M607.5 537.8l3.3 4.2M630.5 792.1l4.4 4.1M728.4 885.4l5.6 5.1M661.6 632.4l3.2 3.6M714.4 874.3l4.9 4.5M688.2 625.7l5.5 6.7M762.6 857.6l3.8 3.6M873.5 848.6l6.3 6.5M786.4 763.8l4.1 4.2M742.9 935.6l7 6.3M632.8 520.7l2.7 3.8M731.5 900.8l5.6 5M763.3 926.7l4.7 4.2M749.1 869.8l7 6.4M697 865.9l5.8 5.2M657.8 600.9l4.7 5.9M566.4 459.3l4.3 6.3M784.6 911.6l6.3 5.8M666.3 804.8l5.6 5.3M654.8 651l4.6 5.3M694.2 647.5l5 6.1M645.3 669.9l6.2 6.8M674.4 797.2l4.2 4M826.5 838.6l6 6.1M576.1 669.6l6.8 7.3M713 710.7l4 4.4M509.1 376.6l3.7 5.4M698.4 649.8l6.2 7.4M637.4 570.9l5.1 6.8M622.2 823.3l5.7 4.9M777.1 768.3l4 4.2M701.5 879.2l3.8 3.4M817.4 908.2l4.7 4.5M516.5 636.1l4.7 5.1M594.2 716.6l6.9 6.9M759.5 795.3l3.9 3.9M707.7 652.5l5.9 6.6M687 843.5l5.8 5.2M881.4 816.4l6.2 6.4M529.8 733.9l6.2 6.1M694.9 836.3l4.6 4.1M716.1 681.3l3.8 4.3M474.2 457.7l5.5 7.5M672.7 775l5.1 4.9M616.2 750.9l3.8 3.5M720.3 688.3l5.8 6.5M875.1 855.4l3.6 3.7M705.9 871.7l5.5 5M758.7 761l4.8 4.8M752.8 743.4l4.5 4.8M714.5 847.1l6.5 6M672.8 650.2l3.4 3.9M856.7 892.4l5.2 5.2M752.5 795.5l4.3 4.3M825.3 875.2l3.3 3.2M828.7 840.1l6.8 6.7M670.8 866.9l7.5 6.5M592.4 737.9l5.8 5.7M628.9 540.3l3.2 4.3M533.6 725.2l6.8 6.7M732.2 698.1l4.1 4.4M624.7 782.7l6 5.7M527.5 691.3l3.9 3.9M664.7 582l4.3 5.7M599 763.6l4.8 4.3M775.5 893.8l6.6 6.2M695.1 833.4l4.7 4.3M693.1 650.6l5.6 6.8M563.9 769.7l4.3 4M601.6 754.2l3.7 3.7M812.4 824.5l3.3 3.3M732.6 870.9l5.7 5M659.9 574.5l5 6.6M746.9 768.8l5.7 5.5M640 545.8l4.5 6.2M655 587.2l5 6.4M780.7 798.7l5.8 5.8M604.5 740.4l5.1 5.1M511.5 368.8l3.9 5.8M756.5 941.9l3.4 3.1M623 557.5l2.8 3.7M525.7 697.8l7 6.9M738.4 678.7l4.6 5.4M741 910.5l6.5 5.9M740.7 717.1l6.1 6.6M794.4 854.2l4 3.9M826.2 826.9l6.5 6.6M714.2 905.2l6.9 6M742.1 923.6l7 6.3M538.6 729.3l5.6 5.5M700.3 667.3l5.3 6M722.4 863.4l4.7 4.4M747.5 884l3.4 3.1M794.6 817.3l5.9 5.9M847.6 826.4l7 7.1M678.7 710.2l4.6 4.9M817.2 824l4 4.1M697.7 855.9l5.1 4.6M725.1 698l5.6 6.3M875.8 857.5l5.7 5.8M720 870.8l6.4 5.9M568.4 742.2l5.2 4.9M778.7 749.2l6.3 6.6M638.3 750.6l4.6 4.5M689.7 854.6l6.7 6M627.2 771.3l3.3 3.2M662 789.1l4.7 4.5M824.7 862.5l6.7 6.6M626.4 535.1l4.3 5.9M600.3 543.3l5.7 7.2M641.9 562.2l3.1 4.3"/>
<path stroke="#90ff67" d="M701.5 883.6l3.5 3.1M792.3 797l4.3 4.2M670.4 599.2l3.7 4.8M523.3 697.1l4.1 4.1M792.6 810.3l5.8 5.8M705.5 878.6l4.5 4M704 855.8l4.5 4.1M726 881.6l6.6 6M594.6 762.4l4.1 3.7M739.3 755.5l3.6 3.8M766.9 775.2l4.3 4.4M689.9 879.8l6.2 5.5M749.6 925.3l3.4 3M649.4 618.1l4.2 5.2M587.6 684.3l5.1 5.5M786.1 872l4.6 4.4M767.7 889.8l7.2 6.7M656.8 776.2l5.5 5M811.9 894.3l6.4 6.1M727.3 913.1l5.4 4.8M630.3 782.1l6.8 6.5M787.6 769.7l3.8 4M818.5 905.2l5.2 5M734.3 880.6l7.1 6.4M717.3 884.7l6.9 6M720.9 914.8l7.4 6.6M584.2 715.9l5.2 5.2M499.3 389.5l5.6 7.9M745.5 736.3l4.7 5M671 791.7l4.2 3.9M795.5 834.9l4.7 4.6M818.6 817.6l4.6 4.7M663.5 735.4l6.1 6.3M766.4 790.6l3.4 3.4M699.1 862.7l5.7 5.2M814.1 863.7l5.7 5.5M635.8 789.2l6.1 5.8M512.1 361.8l5.2 7.8M566.6 483.5l4.4 6.4M848.6 857.7l6.4 6.4M660.3 763.7l3.8 3.8M735.6 912.3l6.4 5.7M677.4 612.3l4.8 5.8M737.5 678.1l4.2 4.9M597.2 778.7l5.8 5.3M656.6 818.7l4.9 4.5M819.3 836.6l5.5 5.5M724 727.3l5.5 5.8M799.7 818.4l3.2 3.2M723.3 855.9l4.9 4.5M865.2 860.5l7 7.1M716.9 907.5l5.3 4.7M731.6 720.5l6.4 6.8M608.4 763.9l6.5 6.1M752.5 750.1l3.9 4.1M776.1 822.6l6.7 6.5M792.7 908.1l3.9 3.7M508.3 614.6l3.9 4.4M685.5 855.9l4 3.6M806.7 919.7l4.7 4.4M808.5 900.5l4.7 4.5M531.9 414.7l2.7 4.1M561.9 485.7l5.4 7.8M735.5 724.2l5.4 5.8M738.7 659.1l3.4 4M787 832.6l6.7 6.5M626.8 822.6l3.8 3.4M694.5 641.9l6.1 7.4M806.8 837.4l5.2 5.1M695.6 856.4l5 4.5M666.5 607.8l4 5.1M525.5 377.6l4.5 6.8M560.1 761.4l5.5 5.1M534.5 717.9l5.2 5.1M631.6 794l4.3 4.1M769.4 769.4l3.5 3.6M713.5 639l5.1 6.3M716.6 829.3l6.8 6.4M804.2 834.3l3.6 3.5M764.2 898.8l6.6 6.1M635 800.4l5.5 4.9M772.8 765.4l6.1 6.3M627.2 742.6l6.7 6.6M744.3 932l4.4 4M777 810l4.8 4.8M545.1 712.8l4.8 4.8M687.2 848.2l3.4 3.1M872.4 866.3l5.5 5.6M872.2 852l4.6 4.7M801 796.6l3.8 3.9M803.1 846.1l5.5 5.4M657.2 610.5l5.2 6.5M770.7 915.2l6.1 5.6M735.2 903.2l4.4 4M829.2 922.6l4.1 4M632.1 801.2l7.5 6.6M599.3 789.8l6.1 5.6M688.9 611.2l5.7 7M774.3 789.9l5.6 5.6M584.6 776.6l5.4 4.8M753.8 887.9l5.2 4.8M489.2 655.2l4.4 4.5M806.2 849.8l5.3 5.2M456.4 652.9l6.1 6.3M533.6 407.2l2.8 4.1M779.6 811.5l4 3.9M816.6 852.4l7 6.8M592.3 727.2l3.6 3.6M691.4 869.7l4.1 3.7M627 757.1l6.8 6.5M655.4 833.5l4.2 3.8M625.1 572.8l2.8 3.7M715.7 667.9l5.6 6.5M510.3 708.1l4 3.9M517.5 384.1l2.7 4M510.6 376.9l3 4.4M765.8 742.6l6.5 6.6M741.9 674.5l5.3 6.2M569.9 475.8l3.9 5.7M651.1 814.8l3.5 3.2M547.8 702.1l6.3 6.4M663.3 626.5l3.8 4.3M598.9 771.1l5.5 5.1M763.6 885.3l4 3.7M537.5 405.7l3.9 5.8M718.1 913.6l4.6 4M681.8 829.9l6.4 6.1M531.6 698.3l3.9 3.9M695.1 629.3l3.4 4.2M639.4 768l6.8 6.6M719.9 650.3l3 3.5M532.6 689.6l5.1 5.1M647.5 642.8l5.6 6.1M859.4 869.4l6.4 6.4M583.1 472.6l3.4 5M738.6 865.5l7 6.5M830.6 858.6l6.3 6.2M747.4 698.2l6.1 6.7M634.3 565.9l3.6 4.9M624.6 614.1l4.4 5.3M586.9 762.3l3.5 3.4M765.1 766.1l5.3 5.4M596.5 488.4l3 4.4M601.1 752.5l3.8 3.8M749.5 887.9l4.4 4M753.3 874l6.4 6M645.2 571.3l2.9 3.9M584.9 719.6l5.7 5.7M599.3 791.2l5.1 4.6M552.6 693l4.8 5M872.7 852.9l3.8 3.9M788.7 791l5 5.1M652.2 819.1l3.8 3.4M747.8 889.5l4.3 3.9M759.5 768.9l4.9 5M615.2 775.8l3.9 3.6M775.3 891.8l6.9 6.5M727.1 913.3l3.7 3.3M777.3 786.2l4.4 4.5M556.5 420.6l3.6 5.6M650.6 806.9l4.6 4.2M852.2 829.1l3.8 3.9M643.6 803.3l5.6 5.1M551.6 745.9l4.5 4.2M813.7 856.7l7.1 6.9M685.9 831.5l7 6.2M722.1 887.5l4.4 3.9M652.5 812.9l4.2 3.9M775.1 767.8l5 5.1M511.9 629.6l6.3 6.8M661.3 602l4.1 5.3M769.1 840.1l6.1 5.8M715.8 690.7l5.4 6M747.4 742.9l5.3 5.6M514.6 391.9l3.2 4.6M565.2 723.3l3.8 3.6M743.7 740l5 5.4M837.8 816.9l3.2 3.3M560.7 743.7l3.6 3.4M559.5 441.7l3.7 5.6M693.5 612.6l2.8 3.5M536.6 664.9l6.6 6.9M721.8 692.6l4.2 4.8M568.6 658.6l5 5.4M728.8 654.6l3.1 3.6M632.8 791.1l5.5 5.3M837.2 837.9l5.3 5.4M750.6 926.8l5.2 4.8M575.7 462l3.5 5.2M871.7 879.3l3.2 3.2M658.8 797.6l4.6 4.3M564.2 747l6.4 6.1M575.9 459.5l4.7 7.1M457.3 400.2l3.8 5M742.2 910.8l4.9 4.4M514.3 359.5l4.7 7M544 718.6l6.8 6.8M705.7 868.5l4.8 4.3M607.4 492.6l4.8 7.1M674.6 657.9l3.3 3.8M694.5 870.3l4.7 4.2M780.5 803l7 7.1M657.3 792.2l3.9 3.6M600.5 733.9l3.6 3.6M737.2 717.1l4.6 4.9M688.8 818.5l4 3.8M741 745.1l3.6 3.8M746.9 816.9l4.3 4.2M642.9 568.7l2.8 3.7M707.6 825.5l6.7 6.2M787.2 864l3.7 3.5M863.5 856.9l3.7 3.7M621.1 513.7l3.4 5M713.4 827.4l5.4 5M626.8 775.6l4.9 4.7M736.7 922.5l5 4.5M895.9 832.1l5.9 6.2"/>
<path stroke="#a5ff52" d="M804.7 826.4l5.6 5.6M668.5 604.4l5.6 7.2M720.4 909.6l5.3 4.6M689.4 850.9l5.9 5.3M809.7 816.1l6.4 6.5M604.8 769l5.7 5.3M828.7 814.3l6.1 6.2M563.7 767.2l3.8 3.6M591.9 747.8l6.2 6.1M578.9 467.9l3.9 5.8M549.9 428.4l4.1 6.2M547.8 719.1l6.6 6.7M682.3 879.2l7.4 6.5M518.3 383.3l5.5 8.1M761.7 928.3l3.9 3.6M661.1 587.4l5 6.4M744.9 741.7l6.4 6.8M692.1 877.5l4.3 3.8M832.2 857.7l6.8 6.8M641.5 803.6l5.6 5M743.1 709.8l5.5 6M668.7 841l4.5 4.1M528.7 721.9l4.2 4.2M468.3 652.4l4.7 4.9M588 766.2l5.4 5.2M694.8 884.5l5.2 4.7M546.7 444.5l4.4 6.5M778.6 923.7l7 6.4M786.4 772.2l3.3 3.5M786.5 736.3l3.9 4.1M746.4 695.8l3.9 4.3M822.5 873.1l4.7 4.6M590.6 790.8l6.9 6.3M802 843.5l4.6 4.6M704.6 835.4l3.7 3.4M573.4 466.8l3.5 5.1M558.9 422.4l3.1 4.8M813.6 826.6l4.4 4.4M539.4 460.8l3 4.2M588.6 755.3l6.7 6.5M789.5 837.6l4.8 4.7M750.8 830l4.2 4.1M684 881.1l7 6.2M654.5 801.3l4.9 4.6M597.7 481.5l3.2 4.6M718.8 639.1l5.5 6.5M600.9 474.2l3.8 5.8M796 822.7l6.8 6.8M702.1 862l6.4 5.8M705.8 849.6l5.3 4.9M779.3 770l6 6.2M658.2 828l6.2 5.6M570.3 454.8l2.5 3.8M806.1 834.7l5.5 5.5M764.3 754.4l4.6 4.8M713.1 655.9l4.2 4.9M772.4 796.4l3.4 3.4M582.7 543.8l5.4 7.3M777.8 823.7l6.5 6.3M760.9 760l5.6 5.7M622 778.2l4.4 4.2M748.5 727.7l6 6.4M584.2 776.6l4 3.6M811.3 802.7l6.7 6.8M747.6 897.9l4.1 3.7M725 657.8l6.3 7.4M732.2 701.8l3.5 3.8M674.9 813.3l6.3 5.9M695.8 846.2l7 6.3M766.8 813l6.4 6.4M654.6 812.9l5.7 5.2M533.5 381.1l4.9 7.4M661.4 578.5l3.8 5M785 768.7l4.6 4.8M625.7 797.5l7.1 6.7M538.5 683.1l6.3 6.5M754.6 736.7l6.1 6.6M757.6 722l6.4 6.9M511.8 368.4l3.8 5.7M644.3 569.7l5 6.7M531.6 740.2l6.7 6.4M640.7 804.5l5.7 5.2M767.9 752.6l6.5 6.7M617.8 802.1l3.9 3.7M541.2 386.2l3.5 5.4M712.4 878.1l6.3 5.7M612.1 583.8l5.6 7.3M860.7 834.5l6.7 6.8M556.9 765l4.5 4.2M888.4 845.2l6.4 6.6M569.2 429.7l3.6 5.6M646.9 563.9l4.7 6.4M717.3 693.6l3.2 3.6M631.3 796.2l4.4 4.2M609.4 767.6l7 6.6M855.7 849.1l5.3 5.4M712.1 835.7l4.4 4.1M758.8 857.9l4.9 4.6M549.1 679.5l4 4.2M721.6 906.6l5.3 4.7M576.2 760.6l4.9 4.7M570.1 698.8l5.5 5.7M897.4 834.2l4.3 4.5M499 699.2l4.7 4.6M732.9 905.3l5.5 5M545.3 691.1l3.2 3.3M545 409.8l5.4 8.2M679.9 629.5l3.4 4.1M630.9 547.2l5.2 7.1M622.9 538l5.1 7M708.5 865.2l3.6 3.3M776.3 815.5l5.7 5.4M853.3 863.5l6.9 7M777.8 770l4.2 4.3M708.1 643.8l4.2 5.2M499.2 410.7l3.5 4.9M825.6 826.5l4.1 4.1M563.8 748.3l4.7 4.5M640.3 615.4l5.1 6.4M718.4 906.7l5.7 5.1M568.2 703l3.6 3.8M712.6 893.9l4.9 4.2M540.8 391.9l4.3 6.6M561.1 731.8l3.9 3.6M518.5 702.7l3.5 3.4M729.3 690.8l3.8 4.4M827.4 847.9l6.2 6.2M636.4 580l5.9 7.2M534.2 712.7l5.8 5.7M659.4 559.4l4.4 5.7M761 911.2l6.4 5.9M807.6 809.3l5.7 5.7M777.7 788.4l6 6.1M552.4 757.7l4.6 4.2M574.8 450.8l4.8 7.3M849.7 816.2l5.6 5.7M695.7 856.5l4.2 3.8M600 492.1l3.6 5.2M673.2 801.6l4.6 4.3M589.3 468.2l4.2 6.3M650.8 828.8l7 6.4M796.3 921l6.2 5.8M564.9 441.8l3.4 5.2M857.7 865l4.9 4.9M749.7 685.9l4.7 5.4M618.3 530l3.5 4.7M597.3 472.8l2.8 4.3M681 819.6l5.4 5.2M633 537.1l4.9 6.8M858.2 806.2l5.7 5.9M813.1 807.3l5.4 5.5M815.2 818.8l5.7 5.8M705.8 868.9l6.8 6.1M501.4 368.8l5.6 8.1M784.5 780.5l4 4.1M572.2 778l4.5 4.2M815.7 793.2l6.3 6.5M725.6 692.1l5.8 6.6M638.5 837.3l4.9 4.4M717.2 651.7l5.8 6.7M574.7 496l3.9 5.7M664.5 621.7l5.9 6.7M794.6 923.5l6.2 5.8M675 811.8l3.6 3.3M754.7 813.6l3.6 3.5M671.2 609.5l5.4 6.9M686 850.8l4.7 4.2M607 773.4l3.7 3.4M674 796.3l4.4 4.2M612.4 493.2l3.4 5.1M523.1 401.8l5.3 7.8M658.2 792.8l5.4 5M574.1 776l6.5 6.2M683.3 637.6l4.7 5.6M694.2 837.2l4.5 4.1M764.5 778.3l3.2 3.3M791.2 805l4.2 4.1M502.1 365.8l5.4 7.9M769.9 878.2l4.2 4M897.7 835.2l4.9 5.1M796.9 910.4l5.3 5M727.8 831.4l5 4.7M833.9 914.9l5.8 5.6M821.3 819.4l6 6.1M833 814.2l5.9 6M765.7 897.9l6.8 6.3M761.3 804.9l6.9 6.8M594 769.2l7 6.3M562.1 754.4l4.6 4.3M733.6 696.3l4.8 5.2M587 753.4l3.7 3.6M896.3 850.1l4.6 4.8M843.4 828.9l7 7.1M604.1 488.1l4.1 6M678.2 822l5.3 5"/>
<path stroke="#b9ff3e" d="M724.7 840.5l3.9 3.7M584.9 457.7l3.1 4.7M738.6 696.1l6.2 6.8M656.5 784.4l6.4 5.8M864.4 848.2l3.8 3.9M594.3 476.9l3.9 5.9M670 587.1l5.6 7.3M763.9 803.9l6.2 6.1M808.7 907.7l6.1 5.8M657.2 608.8l5.3 6.6M653 811.8l5.1 4.7M553.6 737.4l4.7 4.4M865 833.9l4.8 5M553.8 747.7l6.4 6M804.4 819.4l4 4M859.8 801.5l6.2 6.5M569.9 760.8l5.6 5.3M709.1 902.3l5.9 5.2M686.3 821l5.7 5.4M613.6 776l5.6 5.2M733.1 869.6l4.3 3.8M675.3 828.7l6.6 6.1M585.6 777.1l6.5 5.8M723.2 912.5l5.2 4.6M647.7 568.7l4.4 5.5M632.7 533.3l2.9 4M868.2 826.1l4.2 4.3M776.4 896.4l4.7 4.4M567.5 732l5.1 4.9M772.8 750.2l3.6 3.7M575.5 455.6l3.7 5.5M753.9 720.9l4.3 4.7M701.6 871.1l4.6 4.1M726.9 860.6l4.3 4M593.2 777.2l5.5 5M746.9 882.7l4.8 4.4M661.5 582.1l5.7 7.4M584.2 485l3.5 5.2M619.7 516.3l3.7 5.3M889.4 844.1l6 6.2M694.4 646.7l5.6 6.7M662.6 580.5l5.7 7.4M752.7 792.7l3.9 3.9M674.4 595.1l2.9 3.8M759.1 772.4l5.7 5.8M796.3 799.1l3.9 3.8M792.2 916.6l3.6 3.4M724.9 890.5l5.3 4.7M636 552.2l4.9 6.7M597.1 481.1l2.8 4.3M654.5 841.7l4.2 3.8M895.1 848.5l6.8 7M538.6 459.7l3.5 5M751.5 711.8l5.1 5.6M531.1 402l4.8 7.2M854.1 866.4l4.9 5M685.9 872.8l4.9 4.4M645.1 845.7l6.1 5.4M843.8 854.3l7 7M860.1 838.3l6.2 6.3M695.4 626.6l6 7.3M644.8 845.3l4 3.5M890.1 854.3l6.4 6.6M740.6 692.2l5.1 5.6M748 889.7l6.8 6.3M692.1 853l4.8 4.3M671.1 642.4l5.7 6.8M695.4 851.6l6.3 5.6M577.3 754l5.6 5.4M824.7 844l3.7 3.7M711.3 633.2l5.3 6.6M805.2 800.5l4.8 4.8M556.6 433.7l5.2 7.9M677.5 851.6l4.8 4.3M645.3 565.8l3.9 5.2M616.4 795.8l6.1 5.7M877.9 843.7l4.9 5.1M623.6 782.2l6.5 6.2M635.7 817.5l3.4 3M656 566.4l3.7 4.8M617.8 529.1l5.8 7.8M711.5 861.6l4.1 3.7M586 575.3l3.2 4M862.1 863.3l5.7 5.7M756.3 714.5l6.5 7.1M653.2 558.9l3 4.2M809.2 911.7l6.2 6M513.5 369.3l4.2 6.2M714 659.5l5.5 6.3M801.4 779l3.2 3.3M666.1 585.7l4.4 5.7M573 444.2l5.3 7.9M730.9 712.6l4.1 4.4M678.1 597.9l4.1 5.3M809 824.7l3.7 3.7M650.7 560.2l2.9 4M799.9 817.5l3.4 3.3M619.1 797.1l6.2 5.8M660.7 814.2l5.3 4.9M703.1 641.7l3.5 4.3M782.7 838.9l4.1 4M654 838.2l5.8 5.2M567.7 724.9l7 6.8M683.6 615.3l6.3 7.6M853.3 868.7l3.2 3.2M820.3 822.8l5.1 5.1M530.6 367.9l4.6 7.1M527.8 370.9l3.6 5.5M591.1 470.4l3.7 5.6M679.5 646l6.2 7.3M840.8 893.2l3.4 3.3M622.1 787.4l7.1 6.7M565.7 422.6l5 7.7M822.4 858.1l6 5.9M547.5 410.4l5.1 7.7M775 722.6l5.1 5.6M621.3 514.3l5.4 7.9M684.4 878l4.5 4M759.3 868.4l6.4 6M689 850.2l4.4 3.9M805.7 914.8l7.1 6.7M723 890.4l5.4 4.8M684.9 624.8l6.3 7.6M700.5 834.2l7.1 6.5M797.3 786.8l5.3 5.5M695.3 633l3.5 4.2M760 726.8l6.5 7.1M698.8 640.7l5.3 6.5M681.9 625.5l5.8 7.1M680 858.5l5.5 4.8M697.9 840.8l5.7 5.2M712.3 847.7l5.9 5.5M694.9 624.6l3 3.6M707.1 875.4l4.3 3.9M895.9 845.2l3.2 3.3M773.5 756.7l3.5 3.6M552.7 753l5.2 4.9M578 776.7l4.4 4.2M593.3 784.7l4.6 4.2M541.5 743.9l7.1 6.4M538.3 399.9l3.8 5.8M544.2 425.7l5.4 8.1M850.8 835.6l6.8 6.9M707.9 843.4l4.1 3.8M533.2 388.6l2.9 4.4M512.8 714.1l4.6 4.4M705.3 895.6l3.9 3.5M606.4 724.8l4.8 4.9M601.2 793.7l5.1 4.7M723 680.1l3.5 4M694.5 622.1l3.8 4.7M703.2 895.2l6.1 5.4M704.8 852.6l4.4 4.1M609.8 781.5l5.4 5M507.3 690.2l4.7 4.7M753 716l6.1 6.7M739.5 765.6l5.8 6M728.1 885.4l4.3 3.9M652.9 575l3.3 4.2M583.5 482.4l3.1 4.6M682.8 851.1l5.6 5M809 807.7l6.5 6.5M648.6 621.4l3.7 4.6M665.8 806.8l4.4 4.1M736 883.7l6.2 5.6M763 916.2l7.1 6.4M687.9 607.5l5.5 6.8"/>
<path stroke="#ceff29" d="M805.7 805.6l3.6 3.6M604.1 488.5l2.9 4.2M653.9 852.3l6.3 5.7M740.4 903.9l3.4 3.1M627 527.5l4.9 6.7M627.3 824.1l7 6.2M872.4 869l4.7 4.8M606.3 742.9l4.6 4.6M751.2 703.8l5.6 6.1M812.5 810.7l3.8 3.8M730.3 680.6l3.1 3.5M737.9 919.3l5 4.5M527.4 735.1l7.1 6.9M723.3 906.1l6.7 6M690.6 855.2l5.4 4.8M733.5 909.7l7 6.3M841.1 894.8l6 5.9M557.8 423.9l3.2 4.9M642.5 819l5.2 4.7M743 688.9l5.2 5.8M507.5 358.5l4.2 6.2M604.6 783.9l7.1 6.5M807.3 784.5l4.8 4.8M753.3 876.1l7 6.5M722.8 646.7l4.9 5.7M875.4 857.2l6.7 6.8M772.1 757.5l3.9 4M657.4 847.2l5.7 5.1M853.9 838.2l3.5 3.6M685.4 612.7l4.6 5.7M605.4 481.7l3.1 4.5M832.3 826.6l5.3 5.4M605 491.9l2.7 3.9M898.4 836l3.5 3.6M819.5 830l6.1 6.1M719.7 663.1l5.6 6.5M841.8 833.6l5.1 5.2M871.8 817.8l6.9 7.1M765 768.3l6.7 6.8M825.3 805.4l3.5 3.6M817.2 804.8l3.5 3.6M671.1 612.6l4.4 5.5M650.6 842.6l5.8 5.2M663.8 611.7l3.6 4.5M675.9 593.3l3.6 4.7M776.8 896.7l4.8 4.5M889.7 845.5l4.1 4.2M652.6 553.1l4.2 5.9M704.3 898.8l3.7 3.1M712.8 903.2l6.8 6M785.5 776.2l3.7 3.9M722.8 692.4l3.3 3.8M653.1 823.2l6 5.5M695.8 860.1l6.4 5.7M780.9 769.8l4.6 4.7M629.7 546.7l2.7 3.7M596.6 471.5l4.3 6.6M726.1 660.2l5.6 6.6M789.9 829.6l7.1 7M580.8 743.3l6.6 6.4M529.5 389.2l2.5 3.8M760.3 723.3l5.7 6.2M568.6 761.9l4.8 4.6M747.2 693.6l5.5 6.1M728.1 875.9l6.3 5.6M819.4 782.6l4.1 4.3M749.1 693.5l3.7 4.1M672.1 599l3.9 5M494.9 378.8l4.6 6.6M855.6 841l6.2 6.3M751.2 705.5l3 3.4M713 652.1l3.9 4.4M692.9 855.5l7.4 6.6M768.3 923.4l4.5 4.1M891.3 836.1l5 5.2M539.1 732.8l4.7 4.5M845 816.4l4.6 4.7M555.1 751.8l5.2 4.9M568.5 445.8l2.5 3.8M618.1 797.5l3.3 3.1M728.2 708.8l6.4 6.9M800.2 791.2l6.6 6.6M826.7 898.8l3.8 3.7M838.9 881.9l4.5 4.4M871.2 841.7l6.8 7M552 736.3l6 5.5M734.3 906.2l5.3 4.8M796.1 788.3l6.5 6.7M813.2 912.8l5.8 5.6M779.1 724.3l4.7 5.2M793 769.1l5 5.3M648.6 601.3l3.1 3.8M865.9 828.1l5 5.1M844.1 811.6l3.9 4.1M862 875.1l3.2 3.3M775.8 742l6.3 6.6M857.5 821.8l4.1 4.2M731 917.2l7 6.3M689.8 627.5l5.8 7.1M783.9 865.9l5.6 5.4M694 891.2l5.3 4.7M831.8 824.9l4.5 4.6M840 815.6l5.7 5.8M869.5 856.7l6.1 6.2M715.2 658.6l6.3 7.2M776.3 805.1l7 7M816.5 824.7l6.7 6.7M660.9 570l3.5 4.6M819 861.1l6 5.8M726.2 911.5l5.1 4.5M799.4 769.5l3.4 3.6M686.3 632.6l5.1 6.2M641.3 831.3l3.4 3.1M617.5 517.2l4.3 6.2M551.4 688.3l5.3 5.4M580.3 463l5 7.6M804.9 791.4l6.1 6.2M877 864l5.3 5.4M807.9 818.6l4.9 4.9M780.7 780.2l5 5.1M645.6 838.6l5.9 5.3M743.8 842.2l4.6 4.4M599.4 803.4l4.3 3.9M663.8 846l3.5 3.2M842 810.9l4.4 4.6M671.4 826.5l7.2 6.7M559.3 408.3l4.2 6.5M894.9 848l6.5 6.7M806.6 832.1l6 6M561 744l5.1 4.8M698.5 632.5l5.5 6.7M532.8 729.1l4.5 4.4"/>
<path stroke="#e2ff15" d="M657.2 855.4l6.8 6.1M721.6 915l6.6 5.8M640.1 532l4.9 6.9M685.7 873.6l7.2 6.3M656.8 825.7l7.1 6.5M723.7 880.7l6.7 5.8M557.6 425.5l4.7 7.2M670.2 605.4l4.6 6M630.8 814.4l7.4 6.6M800.1 924.5l3.7 3.5M763.9 887.3l4.7 4.4M627.5 536.4l3.8 5.2M722 641.9l4.3 5.1M724.7 703.9l6.8 7.2M626.2 827.2l7.3 6.5M772.6 776l6.4 6.6M802.8 818.6l4.3 4.3M717 652.2l4.7 5.5M662.7 831.9l4 3.7M560.4 420.5l3.7 5.8M858.8 861.3l5.5 5.5M533.2 369.1l4.8 7.3M527.1 735.4l4.3 4.1M711.5 669.6l6.3 7.2M804.2 788l4.5 4.5M647.6 817.9l5 4.6M649.5 812.3l5.8 5.3M794.2 764.1l5.9 6.2M858.8 857.1l6.7 6.7M754.3 699.5l6.2 6.9M664 807.3l7.2 6.8M744.3 667.8l5.5 6.5M537.1 373.1l4.6 7.1M758.6 733.1l5.5 5.9M750.1 872.4l6.7 6.2M807.9 784.5l5.2 5.2M681 822.9l4.7 4.4M774.4 769.3l4.8 5M784 763.2l3.5 3.7M683.2 881l4.6 4.1M533.2 383.4l3.1 4.7M724.9 907.1l3.6 3.2M665.1 576.8l4.4 5.8M740.3 706.2l3.7 4M662 582.3l3.8 4.9M627.8 818.9l6.7 6M699.4 634.2l6 7.4M778.3 754.2l5.1 5.3M853.8 864.8l4.3 4.3M634.5 577.1l3.6 4.7M731.1 903.7l3.9 3.5M784.2 805.4l3.2 3.2M806.5 783.4l5.9 6M755.5 701.9l3.6 4M706.7 899.8l7.2 6.1M769.5 849l5.6 5.3M676.4 870.7l6.6 5.8M621.1 504.2l5.6 8.2M780.2 792.1l3.7 3.8M782.7 744.2l6.4 6.8M822.2 847.7l4.7 4.6M652.1 554.8l3.3 4.7M600.9 796.1l6.9 6.3M832.6 820.1l6.4 6.5M633 534.2l3 4.1M723.4 648.5l4.7 5.5M833.7 897.3l5.5 5.4M662 846.7l4.1 3.7M658.3 823.1l7.1 6.5M706.1 884.5l7.4 6.7M831.8 849.8l3.9 3.9M667.4 573.3l4.7 6.2M545 437.2l5.3 8M728.1 705.6l4.5 4.7M876.2 824.7l3.9 4M656.3 558.3l5.7 7.9M727.5 891.7l5.6 5M561.8 766.8l4.1 3.8M813.9 868.4l5.3 5.1M860.1 858.5l4.3 4.3M864.1 853.1l4.9 4.9M826.7 863.9l4.1 4.1M816.9 840.3l5.8 5.8M603.2 793.9l5.5 5.1M857.1 877.3l4.8 4.8M818.7 815.9l5.4 5.4M660.5 839.8l6.9 6.3M615.8 513.5l4.4 6.4M672 589.2l3.9 5.1M714.7 904.6l4 3.5M773.1 707.3l5.8 6.5M744.3 890.4l6.7 6.1M724.3 649.9l6.1 7.2M652.9 563.9l5.5 7.1M681.1 829.7l4.1 3.9M627 803l7.1 6.7M723.3 642.1l3.1 3.6M640.3 553.2l3.1 4.3M838.6 824.4l5.4 5.5M815.5 829.4l4.5 4.5M655.4 845.7l7 6.3M856.9 825.4l5.6 5.7M563.8 758.9l5.3 5M868.2 884.4l3.8 3.8M643.8 815.4l5.7 5.2M575.6 761.6l5.8 5.5M730.9 652.7l3.7 4.3M730 851.9l7 6.6M590 456.5l4 6.1M650.1 585.6l6 7.7M810.5 799.6l5.6 5.7M792.5 812.3l6.2 6.1M832 833.9l6.3 6.3M649.7 829.4l3.8 3.5"/>
<path stroke="#f7f600" d="M693.7 856.6l6 5.4M830.8 843.4l5.9 5.9M619.5 796.5l5.5 5.1M666.6 613.2l4.9 6M625 825.7l6.2 5.4M707 877l3.5 3.2M669.6 596l4.2 5.5M523.4 366.7l4.8 7.3M754 697.3l5.4 6M806 805.4l4.5 4.5M690.7 861.4l7.3 6.5M749 707.8l3.5 3.8M786.4 752.9l4 4.2M870.5 826.1l3.4 3.5M571.8 757.5l5.6 5.4M761.5 741.2l4.2 4.6M632.9 545.2l5.7 7.8M693.2 834.8l6 5.5M639.3 534.2l5.2 7.3M693.3 856.2l7.2 6.4M793.1 755.2l6.1 6.4M704.4 650.7l5.3 6.4M666.6 844.3l6.7 6.2M812.8 802.5l3.5 3.6M582.5 782.1l6.5 5.8M889.7 839.5l3.2 3.3M697.4 861l6.1 5.5M671.1 609.5l2.8 3.6M658.1 845.3l4.2 3.8M881.2 867l4.2 4.3M820.5 793l4.7 4.8M736.7 914.8l3.5 3.1M863.5 820.1l6.9 7.1M765.9 714.2l4.9 5.5M678.7 852.7l6.9 6.1M719.5 906l7.3 6.5M658.4 855.4l3.5 3.2M624.7 512.4l3.5 5.1M862.1 827.2l6.5 6.6M701.6 898.2l6.8 5.8M769.3 715.5l6.5 7.2M655.1 566.1l4.8 6.1M655.3 847.1l3.9 3.5M781.8 711.4l4.9 5.5M759 733.1l4.7 5.1M801.7 776.9l4 4.2M733.8 664.3l4 4.7M817.4 773.4l5.9 6.1M704.2 873.4l5.3 4.7M721.8 677.7l3.2 3.6M587.2 453.5l3.1 4.7M700.1 617.1l4.8 5.9M862.8 864.8l5.8 5.9M894.2 834.6l6 6.2M672.2 592.1l3.7 4.9M742.8 709.8l6.3 6.9M744 665.4l5.7 6.7M628.6 827.8l4.3 3.8M662.9 840.9l4.8 4.4M784.3 712.8l3.7 4.1M842.6 817.8l5.9 6.1M818.4 780.3l6.2 6.4M626.8 790.6l3.4 3.2M710.3 889.4l7.4 6.4M592.7 466.8l4.1 6.3M667.8 571.8l5.3 7M768.4 708.2l5.6 6.3M674.1 606l4.8 6.1M637.7 535.8l2.7 3.8M526.7 365.9l4.3 6.6M701 640.4l4.3 5.2M716.8 658.5l5.6 6.5M793.5 806.4l4.7 4.7M709.4 870.2l4.7 4.3M755 719.1l5.2 5.7M746.4 670.8l3 3.6M714.7 894.5l4.3 3.7M525.5 382.4l4.9 7.4M665.3 595.4l3.5 4.6M817.3 760.6l6.2 6.7M650.7 812.4l7.1 6.5M659.7 566.1l6 8M728.7 650.1l4 4.7M647.3 818.9l7.3 6.7M570.8 747.6l6.3 6M851.4 814.6l6 6.2M756.1 762.2l5.2 5.3M634.8 814.7l6.7 6M568.5 754.1l4.8 4.6M825.6 869l4.8 4.7M730.2 674.2l5.1 6M873.1 835.2l6.8 7M682.4 609.8l4.7 5.7M681.2 874.9l7.3 6.4M730.5 904.3l6.2 5.5M810.4 777.1l4.4 4.5M713 632.8l4.1 5.1M785.4 730.5l6.5 6.9"/>
<path stroke="#ffde00" d="M685.6 618.2l5.6 6.9M771.8 924.4l4 3.7M633.7 828.8l4.5 4M702.9 885.7l3.4 3.1M705.7 894.3l6.6 5.6M809.2 902.6l6.9 6.6M833.3 826.3l4.2 4.2M701.1 621.3l5.5 6.8M662.3 578.7l3.9 5.1M703.2 886.3l5.2 4.7M700.3 886.3l5.3 4.7M750 682.4l4.2 4.8M799.6 754.2l5 5.3M837.1 800.3l5.7 5.9M789.3 764.6l6.2 6.5M594.7 466.6l5.1 7.8M654.5 827.1l7 6.4M718.8 862.5l5.5 5.1M770.3 699.3l4.5 5.1M781.9 718.9l5.2 5.8M830.5 790.3l3.9 4.1M683.7 595.5l3.8 5M666 847.6l5.7 5.2M854.3 827.5l5 5.2M560.7 681.1l4.1 4.3M790.7 763.7l5.1 5.3M837.7 804.8l4 4.2M793.7 776.1l4.8 5M634.2 824.7l6.1 5.5M742.9 668.4l5.6 6.5M536.5 384.2l5.2 8M811.2 822.7l3.8 3.8M661 828.4l5.5 5.1M749 693l4.4 4.9M807.8 900.9l6.4 6.1M566.5 765l6.6 6.2M792.4 776.6l3.1 3.2M845.3 803.9l6.8 7M688.5 599.5l5.3 6.5M780.6 720.8l4.5 5M793 741.4l6.2 6.6M863.9 880.6l5.1 5.1M799.8 763.5l6.7 7M839.5 866.4l7 7M766.1 924.7l3.7 3.4M857 841.4l3.3 3.4M786.1 751.7l5.5 5.8M837 861.3l4.9 4.9M783.1 714l5.2 5.8M710.1 888.9l7.3 6.2M778.3 772.9l5.2 5.4M587.3 781.8l4.1 3.7M700 628l6.3 7.7M613.4 793.6l6.9 6.4M754.7 691.2l5.6 6.2M611.1 784.7l4.6 4.3M742.3 688.2l6.2 6.9M833.6 803.3l5.5 5.7M799.7 792.5l5.1 5M655 838.2l3.6 3.2M756.6 683.5l3 3.4M738.7 692l4.3 4.7M851 811.3l5.9 6.1M650.3 837l4.9 4.4M761.4 700.4l6.5 7.2M653.4 841l6.9 6.3M773.6 727.4l4.6 5M626.4 806.3l4.2 3.9M639.8 825.6l4.4 3.9M687.2 853.4l7.3 6.5M607 802.6l5.3 4.8M612.2 808l6.3 5.8"/>
<path stroke="#ffc600" d="M810.4 764.7l3.8 4M679.2 599.8l4.5 5.9M800.2 756.8l4.7 5M545.1 390.5l2.9 4.4M732.9 656.2l4.5 5.3M644.7 842.5l6.3 5.6M646.6 843.9l6.8 6.1M672.7 835.5l4.8 4.5M799.5 777.6l4.8 5M775.7 909.5l5.9 5.4M861.6 819.3l4 4.2M774.2 706.6l6.1 6.9M846.9 811.5l5.1 5.2M678.7 585l3.1 4.1M735.2 915.4l5.5 4.9M790.9 751.4l5 5.2M809.2 792.7l4.9 5M654.3 584.8l3.3 4.2M798.5 764.7l4.3 4.5M831.7 815.1l4.2 4.3M859.3 860.9l5.9 5.9M651.6 557.9l5.5 7.7M816.2 816.6l3.9 3.9M736.7 662.6l6.4 7.6M755.4 721.2l3.9 4.2M787.2 740.6l6.4 6.8M853.9 843.3l4.3 4.4M825.9 856.9l4.2 4.2M840.2 839.5l5 5.1M669.5 598.1l5.2 6.8M734.8 661.5l4.2 5M664.8 584.5l4.5 5.8M641.2 831l6.3 5.6M834.1 823.4l5.2 5.3M663 851l3.5 3.2M691 868.9l4.1 3.7M619.4 814.5l7.2 6.3M669.5 814.6l4.5 4.2M805.7 768.5l5.8 6.1M897.1 837l6.6 6.9M894.3 850.3l4.7 4.8M869.5 839.9l4.5 4.7M784.7 724.1l6.7 7.2M649.1 832.4l6.7 6M745.5 680.9l4.3 5.1M802.9 779.1l3.8 4M797 741.9l6 6.4M810.4 922.8l5.5 5.2M808.2 791.2l5.7 5.8M635 822.2l4.2 3.7M628 804.1l6.5 5.8M521.5 365.4l3.8 5.7M741.9 663.5l3.2 3.8M787.6 729.8l6.6 7.1M784 917.2l6.6 6.1M809.9 786.8l5.1 5.3M697.9 870.3l4.6 4.1M739.2 688.7l3.6 4.2M789.4 757.9l4.8 5.1M766.1 714.2l6.2 6.9M737.4 678.7l4 4.7M890.7 835.6l3.6 3.8M706.8 888.6l4.9 4.5M679.8 596.5l3.5 4.6"/>
<path stroke="#ffaf00" d="M669.2 839.6l4.5 4.2M807.4 781.9l5.6 5.7M630.2 561.2l3.9 5.3M777.5 707.9l6.5 7.3M823 800.1l6.1 6.3M767.5 713.7l6.3 7M774.5 701.9l6.4 7.2M640.5 830.2l5.9 5.3M685.5 612.5l3.2 3.9M886.3 852.2l6 6.1M634.1 817.6l5.2 4.6M840 797.2l6.3 6.5M876.6 827.5l3.7 3.9M827 780.6l3.5 3.7M851.7 848.7l3.9 4M863.3 880.7l5.5 5.6M690.2 825.2l5.9 5.2M720.4 664.2l3.2 3.8M649.1 564.8l4.1 5.7M764.1 703.3l3.5 3.9M652.7 834.5l6.2 5.6M637.7 822.2l5.9 5.3M842 801.3l5.9 6.2M744.6 667l5.8 6.9M798.2 922.6l6.5 6.1M777.1 711.6l3.9 4.4M868.2 818.2l4.2 4.3M886.6 823l6.8 7.1M804.3 781.1l7 7.1M841.1 794.9l5.9 6.1M791.8 730.3l6.2 6.6M678.9 586.7l3.7 4.8M778.5 716.5l4.5 5M640 827l4.1 3.6M741.5 685.5l5.8 6.7M690.4 600.6l3.4 4.2M788.3 746l4.3 4.5M809.9 769.1l6.5 6.9M833.3 837.8l3.3 3.3M725.1 649l3.8 4.5M778.1 721.8l4.1 4.5M806.7 737.3l6.7 7.2M868.1 836.2l4.7 4.9M797.2 770.1l3.2 3.3M842.2 803l3.8 3.9M824.9 759.2l6.7 7.1M576.1 779.5l5.3 4.7M869.3 815.8l4.2 4.4M706.1 625l5.5 6.8M615.5 801.9l6.6 6.1"/>
<path stroke="#ff9700" d="M627.3 814.1l7.2 6.3M675.8 841.7l5.1 4.4M781.6 718.1l6 6.7M795.3 747.3l5.5 5.8M684.3 874l6 5.3M857.3 802.7l6.4 6.8M612.5 811.9l5.5 5M828.7 815.1l4 4.1M822.5 754.7l3.8 4.1M692.1 873.4l4.2 3.8M773.9 704.3l3.3 3.7M884 847.5l6 6.2M724.7 652.8l3.4 4M667.5 858.3l7 6M639.8 832.6l5.2 4.7M865.2 833l6.1 6.2M831.8 811.6l4.7 4.8M811.4 747.5l4.9 5.3M810.6 774.8l3.9 4.1M769.3 717.4l5.8 6.4M710.2 905l3.8 3.3M857.4 819.1l5.8 6M804.7 757.5l5.5 5.9M801.9 797l4.8 4.8M832.5 796.9l4.5 4.7M852.4 800.4l6.4 6.8M774.8 711.8l4 4.5M771.8 735.8l6.1 6.4M799.6 772.1l4.1 4.3M883.7 847.7l5.2 5.3M670.1 574.1l5 6.6M813.6 855.3l5.8 5.6M638.1 822.8l6.4 5.7M791.3 751.3l4.4 4.7M760.1 693.4l3.7 4.2M842.9 827.4l6.9 7M891.6 840.2l5.5 5.7M868.3 875.9l5 5M736.1 673.7l4.8 5.6M635.5 824.6l6 5.4M782.6 712l5.5 6.2M851.2 840.2l6.9 7M806.1 756.2l5.8 6.2M833.1 789.8l5.1 5.3"/>
<path stroke="#ff8000" d="M778.8 734.2l3.2 3.4M861.7 825l6.8 7M794 753.4l6.3 6.6M793.7 757l4.2 4.5M832.9 779.2l4.3 4.5M794.3 742.6l5.5 5.9M828.7 775l6.5 6.8M816.6 771l5.1 5.2M614.5 806.5l3.8 3.5M747.8 675.1l3.8 4.5M817.3 770.8l4.7 4.9M606.8 808.1l4.6 4.2M877.5 837.1l3.6 3.7M828 852.6l5.2 5.2M681.7 613.2l4.4 5.3M727.6 658.8l5.6 6.5M834.7 776.6l4.6 4.9M818.6 768.9l5.3 5.5M837.8 802.5l6.5 6.7M844.4 791.8l6.5 6.8M610 500.5l5 7.2M619.9 811.1l3.5 3.3M872.8 847.3l3.2 3.2M739.2 668.4l5.3 6.2M834.3 787l3.4 3.6M777.5 713.1l4.7 5.2M865.2 880.1l3.5 3.5M807.1 769.1l6.3 6.7M628.4 821.3l5.5 4.9M807.3 783.6l4.1 4.1"/>
<path stroke="#ff6800" d="M821.2 805.3l4.4 4.5M786 730.6l6.7 7.1M609.8 805.1l5.3 4.9M829.8 793.8l3.7 3.9M810.4 755.6l3.1 3.3M787.2 738.9l3.5 3.7M860 800.8l4.6 4.8M804.6 737.5l6.4 6.9M874.7 838.4l5.7 5.9M830.1 777.9l5.4 5.7M842.4 830.4l3.3 3.3M780.8 729.5l3.6 3.9M838.4 797.4l5 5.2M753.1 690.8l5.5 6.1M868.5 821.9l6.9 7.1M851.4 825.8l6.7 6.9M780.9 711.7l4.8 5.4M680 586.3l3.3 4.3M815.2 793.6l3.3 3.4M619.1 813.4l4.1 3.8M806.7 752.8l6.7 7.1M851.4 793.4l3.3 3.5M645.5 817.9l3.9 3.5M812.2 761.8l6.3 6.8M838.5 782.7l4.2 4.4"/>
<path stroke="#ff5000" d="M815.9 760.7l3.7 4M810.3 787l3.2 3.2M813.8 773.2l5 5.2M787.8 731.1l5.7 6.1M793.6 727.7l4.5 4.8M864.3 845l5.3 5.4M860.4 809.8l3.9 4M825 781.5l4.3 4.5M689.3 614.8l5.2 6.4M806.2 765.3l6.4 6.8M844.3 789.1l5.4 5.7M796.6 728.5l3.3 3.5M834.8 772.4l3.5 3.7M850.2 809.3l5.1 5.3M818.7 766.6l5.5 5.7M689.9 604.5l3.2 3.9M790.9 735.1l4.7 5.1M605.2 808.6l4.5 4.1M830.2 791.3l3.3 3.4M847.8 784.4l5.7 6M753.7 679.7l5.6 6.5M810.4 796.1l4.9 5M764.1 692.9l5.5 6.2M864.4 799.9l5.3 5.5M816.8 772.2l3.4 3.5"/>
<path stroke="#ff3900" d="M766 927.3l3.9 3.6M792.7 737.8l5.8 6.2M843.3 797.8l5.8 6M836.1 782.4l5.5 5.7M819.2 776.5l5.7 5.9M745.7 674.3l4.1 4.8M869.6 819l5.6 5.8M819.6 763.8l5 5.3M804.6 739.9l3.7 3.9M751 674.6l6.1 7.1M692 602.7l4.1 5.1M847 783.7l6.7 7.1M813.4 750l3.8 4"/>
<path stroke="#ff2100" d="M802.2 737.7l4.7 5.1M848.1 811l3.5 3.6M847.9 789.8l3.8 4M793.3 743.4l6.2 6.6M840.2 778.3l4.7 5M848.3 832.5l5.5 5.5M787.9 723.4l6.3 6.9M806.3 740.9l6.1 6.6M837.8 792.4l4.2 4.4M797.5 738.4l5.8 6.2M831.4 780l6.4 6.6"/>
<path stroke="#f30900" d="M855.6 788.9l3.7 3.9M790.9 924.5l5.3 4.9M845.1 862.9l7.1 7.1M816.6 750l4.2 4.6M852.9 819.5l3.7 3.8"/>
<path stroke="#d60000" d="M833.3 772.6l6 6.3M854.8 797.2l3.3 3.5M790.5 801.8l6.9 6.7M855.1 803.7l4.7 4.9M843.3 780.5l3.3 3.4"/>
<path stroke="#b90000" d="M844.8 790l5.7 5.9M830.7 776.6l6.3 6.6M785.2 737.2l6.6 7.1M886.7 860.2l5.8 5.9M886.3 832.6l6.1 6.3"/>
<path stroke="#9c0000" d="M891.2 831.3l3.9 4.1"/>
<path stroke="#800000" d="M859.8 827.9l6.1 6.2M883.1 826.8l3.3 3.5M846.6 779.2l6.3 6.7M854.2 794.3l5.1 5.4M880.1 818.9l5.1 5.3M829.9 764.2l5.3 5.6"/>
<path stroke="#ff2000" d="M825.1 861.6l6.7 6.6"/>
<path stroke="#ff9000" d="M563.5 424.1l3.7 5.7"/>
<path stroke="#ffd000" d="M556.1 578.4l6.5 7.4"/>
<path stroke="#ffd000" d="M663.2 832.8l6.3 5.8"/>
<path stroke="#ffd000" d="M688.1 718.3l5.2 5.6"/>
<path stroke="#a08070" d="M764.6 928.3l6.9 6.3"/>
<path stroke="#ff9000" d="M553.7 467.3l3.1 4.5"/>
<path stroke="#ffd000" d="M709.2 737.6l4.4 4.5"/>
<path stroke="#ff9000" d="M641.7 783.8l3.3 3.2"/>
<path stroke="#ff9000" d="M622.5 575.6l4.6 6"/>
<path stroke="#a08070" d="M636.9 725.3l5.8 5.5"/>
<path stroke="#ff2000" d="M725 669.4l5 5.8"/>
<path stroke="#ff9000" d="M539.3 513.9l3.5 4.8"/>
<path stroke="#ff9000" d="M489.5 403.7l4.3 6"/>
<path stroke="#a08070" d="M852.1 884.2l4.6 4.6"/>
<path stroke="#a08070" d="M864.5 859.4l4.9 5"/>
<path stroke="#ff2000" d="M495.8 361.6l4 5.8"/>
<path stroke="#a08070" d="M736.4 908.3l5.7 5.2"/>
<path stroke="#ff9000" d="M668.3 841.1l6.4 5.9"/>
<path stroke="#a08070" d="M784.2 930.5l6.6 6.2"/>
<path stroke="#a08070" d="M474.8 394.9l4.2 5.7"/>
<path stroke="#a08070" d="M482.6 396.1l2.7 3.7"/>
<path stroke="#a08070" d="M746.2 910.2l4.1 3.8"/>
<path stroke="#ff00ff" d="M681.6 687.2l4.6 5"/>
<path stroke="#a08070" d="M617.3 525.9l3.9 5.6"/>
<path stroke="#a08070" d="M855 867.7l5.9 5.9"/>
<path stroke="#ffd000" d="M821.7 872.3l6.1 5.9"/>
<path stroke="#a08070" d="M867.9 849.9l5.5 5.6"/>
<path stroke="#a08070" d="M519.4 419.9l4.2 6"/>
<path stroke="#a08070" d="M875.2 859.4l6.2 6.3"/>
<path stroke="#ff9000" d="M567 482.7l4.4 6.3"/>
<path stroke="#a08070" d="M770.1 730.4l3.7 4"/>
<path stroke="#ffd000" d="M530.1 447.9l5.5 7.8"/>
<path stroke="#ffd000" d="M632.4 777.6l6.9 6.6"/>
<path stroke="#ff9000" d="M848.5 875.7l5.4 5.4"/>
<path stroke="#a08070" d="M698.6 870.1l4 3.6"/>
<path stroke="#ff2000" d="M623.5 539.3l5.1 7"/>
<path stroke="#ff2000" d="M756.7 762.1l4.7 4.8"/>
<path stroke="#ff9000" d="M461.6 459.1l5.7 7.2"/>
<path stroke="#ff2000" d="M614.9 705.2l5.6 5.8"/>
<path stroke="#ff9000" d="M784.2 740.3l3.7 3.9"/>
<path stroke="#a08070" d="M558.6 610.5l6.3 7.4"/>
<path stroke="#ff9000" d="M743 867.6l5.9 5.5"/>
<path stroke="#ff9000" d="M808 859l4.1 4"/>
<path stroke="#ff2000" d="M556.4 436.6l4.3 6.5"/>
<path stroke="#a08070" d="M746.1 754.4l3.1 3.3"/>
<path stroke="#a08070" d="M611.5 772.8l6.9 6.5"/>
<path stroke="#ff9000" d="M661 633.6l6.5 7.6"/>
<path stroke="#ff2000" d="M657.6 578l3.3 4.3"/>
<path stroke="#ff9000" d="M452 409.1l5.4 7"/>
<path stroke="#ff9000" d="M695.3 718.3l6.8 7.3"/>
<path stroke="#a08070" d="M649.7 840.1l4.9 4.4"/>
</g>
</g>
<g shape-rendering="crispEdges"><polygon fill="#beff38" points="906.3,842.2 905.2,843.4 908.5,846.9 909.6,845.7"/><polygon fill="#ff6e00" points="905.2,843.4 904.1,844.7 907.4,848.2 908.5,846.9"/><polygon fill="#c8ff2e" points="904.1,844.7 903.1,845.9 906.3,849.4 907.4,848.2"/><polygon fill="#d0ff26" points="903.1,845.9 902.0,847.2 905.3,850.7 906.3,849.4"/><polygon fill="#ddff18" points="902.0,847.2 900.9,848.4 904.2,851.9 905.3,850.7"/><polygon fill="#e3ff13" points="900.9,848.4 899.8,849.7 903.1,853.2 904.2,851.9"/><polygon fill="#d7ff1f" points="899.8,849.7 898.8,850.9 902.0,854.4 903.1,853.2"/><polygon fill="#c4ff32" points="898.8,850.9 897.7,852.2 900.9,855.7 902.0,854.4"/><polygon fill="#f5f600" points="897.7,852.2 896.6,853.4 899.9,856.9 900.9,855.7"/><polygon fill="#4effa8" points="896.6,853.4 895.5,854.7 898.8,858.2 899.9,856.9"/><polygon fill="#ebff0b" points="895.5,854.7 894.4,855.9 897.7,859.4 898.8,858.2"/><polygon fill="#9cff59" points="894.4,855.9 893.4,857.2 896.6,860.7 897.7,859.4"/><polygon fill="#96ff60" points="893.4,857.2 892.3,858.4 895.6,861.9 896.6,860.7"/><polygon fill="#e5ff10" points="892.3,858.4 891.2,859.7 894.5,863.2 895.6,861.9"/><polygon fill="#88ff6e" points="891.2,859.7 890.1,860.9 893.4,864.4 894.5,863.2"/><polygon fill="#f0fc06" points="890.1,860.9 889.1,862.2 892.3,865.7 893.4,864.4"/><polygon fill="#acff4a" points="889.1,862.2 888.0,863.4 891.3,866.9 892.3,865.7"/><polygon fill="#95ff61" points="888.0,863.4 886.9,864.7 890.2,868.2 891.3,866.9"/><polygon fill="#99ff5c" points="886.9,864.7 885.8,865.9 889.1,869.4 890.2,868.2"/><polygon fill="#d9ff1c" points="885.8,865.9 884.8,867.2 888.0,870.7 889.1,869.4"/><polygon fill="#7cff7a" points="884.8,867.2 883.7,868.4 887.0,871.9 888.0,870.7"/><polygon fill="#8eff68" points="883.7,868.4 882.6,869.7 885.9,873.2 887.0,871.9"/><polygon fill="#caff2c" points="882.6,869.7 881.5,870.9 884.8,874.4 885.9,873.2"/><polygon fill="#ceff27" points="881.5,870.9 880.5,872.2 883.7,875.7 884.8,874.4"/><polygon fill="#73ff83" points="880.5,872.2 879.4,873.4 882.6,876.9 883.7,875.7"/><polygon fill="#d2ff24" points="879.4,873.4 878.3,874.7 881.6,878.2 882.6,876.9"/><polygon fill="#89ff6d" points="878.3,874.7 877.2,875.9 880.5,879.4 881.6,878.2"/><polygon fill="#e6ff10" points="877.2,875.9 876.1,877.2 879.4,880.7 880.5,879.4"/><polygon fill="#63ff93" points="876.1,877.2 875.1,878.4 878.3,881.9 879.4,880.7"/><polygon fill="#ccff2a" points="875.1,878.4 874.0,879.7 877.3,883.2 878.3,881.9"/><polygon fill="#99ff5c" points="874.0,879.7 872.9,880.9 876.2,884.4 877.3,883.2"/><polygon fill="#a5ff51" points="872.9,880.9 871.8,882.2 875.1,885.7 876.2,884.4"/><polygon fill="#45ffb1" points="871.8,882.2 870.8,883.4 874.0,886.9 875.1,885.7"/><polygon fill="#e3ff13" points="870.8,883.4 869.7,884.7 873.0,888.2 874.0,886.9"/><polygon fill="#d7ff1e" points="869.7,884.7 868.6,885.9 871.9,889.4 873.0,888.2"/><polygon fill="#4dffa9" points="868.6,885.9 867.5,887.2 870.8,890.7 871.9,889.4"/><polygon fill="#68ff8e" points="867.5,887.2 866.5,888.4 869.7,891.9 870.8,890.7"/><polygon fill="#8eff67" points="866.5,888.4 865.4,889.7 868.6,893.2 869.7,891.9"/><polygon fill="#a9ff4c" points="865.4,889.7 864.3,890.9 867.6,894.4 868.6,893.2"/><polygon fill="#007bff" points="864.3,890.9 863.2,892.2 866.5,895.7 867.6,894.4"/><polygon fill="#63ff92" points="863.2,892.2 862.2,893.4 865.4,896.9 866.5,895.7"/><polygon fill="#8fff67" points="862.2,893.4 861.1,894.7 864.3,898.2 865.4,896.9"/><polygon fill="#0083ff" points="861.1,894.7 860.0,895.9 863.3,899.4 864.3,898.2"/><polygon fill="#42ffb4" points="860.0,895.9 858.9,897.2 862.2,900.7 863.3,899.4"/><polygon fill="#4bffab" points="858.9,897.2 857.8,898.4 861.1,901.9 862.2,900.7"/><polygon fill="#0041ff" points="857.8,898.4 856.8,899.7 860.0,903.2 861.1,901.9"/><polygon fill="#85ff71" points="856.8,899.7 855.7,900.9 859.0,904.4 860.0,903.2"/><polygon fill="#007fff" points="855.7,900.9 854.6,902.2 857.9,905.7 859.0,904.4"/><polygon fill="#2dffc8" points="854.6,902.2 853.5,903.4 856.8,906.9 857.9,905.7"/><polygon fill="#88ff6e" points="853.5,903.4 852.5,904.7 855.7,908.2 856.8,906.9"/><polygon fill="#22ffd4" points="852.5,904.7 851.4,905.9 854.7,909.4 855.7,908.2"/><polygon fill="#0020ff" points="851.4,905.9 850.3,907.2 853.6,910.7 854.7,909.4"/><polygon fill="#006bff" points="850.3,907.2 849.2,908.4 852.5,911.9 853.6,910.7"/><polygon fill="#00c5ff" points="849.2,908.4 848.2,909.7 851.4,913.2 852.5,911.9"/><polygon fill="#d8ff1e" points="848.2,909.7 847.1,910.9 850.3,914.4 851.4,913.2"/><polygon fill="#0089ff" points="847.1,910.9 846.0,912.2 849.3,915.7 850.3,914.4"/><polygon fill="#0041ff" points="846.0,912.2 844.9,913.4 848.2,916.9 849.3,915.7"/><polygon fill="#f3f802" points="844.9,913.4 843.8,914.7 847.1,918.2 848.2,916.9"/><polygon fill="#d4ff21" points="843.8,914.7 842.8,915.9 846.0,919.4 847.1,918.2"/><polygon fill="#00a5ff" points="842.8,915.9 841.7,917.2 845.0,920.7 846.0,919.4"/><polygon fill="#00b7ff" points="841.7,917.2 840.6,918.4 843.9,921.9 845.0,920.7"/><polygon fill="#808080" points="840.6,918.4 839.5,919.7 842.8,923.2 843.9,921.9"/><polygon fill="#808080" points="839.5,919.7 838.5,920.9 841.7,924.4 842.8,923.2"/><polygon fill="#808080" points="838.5,920.9 837.4,922.2 840.7,925.7 841.7,924.4"/></g>
<g fill="none" stroke="#000" stroke-width="4.17" stroke-dasharray="4.17 4.17"><circle cx="1080.0" cy="990.0" r="95.47"/><circle cx="1080.0" cy="990.0" r="192.41"/><circle cx="1080.0" cy="990.0" r="292.38"/><circle cx="1080.0" cy="990.0" r="397.16"/><circle cx="1080.0" cy="990.0" r="508.83"/><circle cx="1080.0" cy="990.0" r="630.00"/><circle cx="1080.0" cy="990.0" r="764.06"/><circle cx="1080.0" cy="990.0" r="915.62"/><line x1="1080.00" y1="894.53" x2="1080.00" y2="-10.00"/><line x1="1162.68" y1="942.27" x2="1946.03" y2="490.00"/><line x1="1162.68" y1="1037.73" x2="1946.03" y2="1490.00"/><line x1="1080.00" y1="1085.47" x2="1080.00" y2="1990.00"/><line x1="997.32" y1="1037.73" x2="213.97" y2="1490.00"/><line x1="997.32" y1="942.27" x2="213.97" y2="490.00"/></g>
<g fill="none" stroke="#000" stroke-width="4.17" stroke-linejoin="round" stroke-linecap="round"><polyline points="866.8,841.0 868.1,850.5 871.5,857.3 869.5,866.8 874.9,870.9 880.3,877.7 883.7,881.0 887.1,878.3 893.9,881.7 900.7,881.0 906.8,887.1 910.9,893.9 914.3,896.6 923.7,900.0 933.2,905.5 941.4,910.2 946.8,915.6 952.2,922.4 959.0,919.7 967.1,917.0 976.6,915.0 986.1,911.6 994.3,909.5 999.7,909.5 1001.1,902.1 1005.8,900.7 1013.3,896.6 1011.9,891.2 1015.3,881.7 1017.3,873.6 1019.4,869.5 1018.0,864.1 1021.4,858.7 1020.0,853.2 1024.8,846.5 1026.1,841.0 1026.1,832.2 1030.9,830.9 1035.0,824.1 1041.7,820.7 1042.4,815.3 1047.8,808.5 1049.9,805.1 1055.3,805.1 1060.7,802.4 1068.9,801.0 1075.7,797.6 1077.0,786.8 1080.4,786.8 1080.4,796.3 1090.6,798.3 1100.1,801.0 1110.9,800.3 1122.4,802.4 1127.9,797.6 1131.9,797.6 1133.3,802.4 1139.4,805.1 1146.2,809.2 1153.0,813.9 1160.0,817.3"/>
<polyline points="865.4,888.5 870.2,892.6 873.6,899.4 870.9,904.8 877.6,912.2 880.3,906.1 887.1,906.8 892.6,910.2 894.6,917.0 900.7,919.7 887.1,921.1 887.1,927.2 891.9,930.5 892.6,938.7 889.2,940.0 891.9,944.1 899.3,940.0 904.8,938.7 907.5,944.8 912.9,942.8 917.0,938.0 927.1,940.0 925.1,944.8 919.7,948.2 915.6,953.6 923.7,957.7 919.7,961.7 917.6,968.5 916.3,972.6 918.3,978.0 917.0,983.4 910.9,984.1 910.9,992.9 914.3,999.7 914.3,1005.0"/>
<polyline points="1160.0,817.3 1166.8,818.0 1173.6,819.3 1179.0,816.6 1184.4,817.3 1187.1,823.4 1191.9,818.7 1195.3,819.3 1196.6,827.5 1199.3,833.6 1200.7,839.0 1205.4,837.6 1210.2,833.6 1217.0,834.3 1223.7,834.9 1229.2,837.6 1236.0,839.7 1240.0,839.7 1239.3,844.4 1242.7,845.8 1246.8,843.7 1249.5,847.8 1251.6,850.5 1254.3,845.1 1259.0,845.8 1264.4,849.2 1268.5,853.2 1271.2,858.7 1270.5,866.8 1266.5,868.8 1267.8,874.9 1267.1,883.1 1269.9,888.5 1273.9,892.6 1275.3,898.0 1277.3,906.1 1278.7,912.2 1281.4,915.6 1277.3,917.7 1273.9,921.1 1273.9,926.5 1271.9,931.9 1268.5,936.0 1272.6,939.4 1272.6,943.4 1276.6,947.5 1282.1,947.5 1286.1,950.9 1289.5,955.6 1292.2,957.7 1295.6,957.7 1299.7,960.4 1303.8,957.7 1307.8,955.0 1311.9,956.3 1307.8,961.1 1305.1,964.5 1306.5,969.9 1305.8,971.2 1308.5,975.3 1311.9,980.7 1310.5,984.8 1303.8,986.8 1303.8,991.6 1306.5,997.0 1305.8,1005.0"/>
<polyline points="1305.8,1005.0 1306.5,1008.4 1309.9,1011.8 1316.0,1011.8 1320.7,1014.5 1318.0,1019.9 1311.9,1023.3 1311.2,1026.7 1309.2,1028.7 1311.9,1031.4 1314.6,1034.2 1311.9,1036.9 1309.2,1038.9 1309.9,1041.6 1315.3,1043.7 1311.9,1047.0 1309.2,1049.8 1301.7,1050.4 1297.7,1055.2 1294.3,1060.6 1290.2,1061.3 1292.2,1064.7 1292.2,1069.4 1295.6,1072.1 1297.0,1075.5 1296.3,1082.3 1291.6,1083.7 1287.5,1084.3 1286.1,1087.1 1286.1,1090.4 1281.4,1091.8 1278.0,1091.8 1276.0,1094.5 1275.3,1098.6 1271.9,1101.3 1271.2,1106.0 1272.6,1110.1 1278.0,1109.4 1281.4,1111.5 1276.6,1111.5 1271.2,1112.1 1267.1,1113.5 1270.5,1116.2 1271.2,1120.3 1264.4,1125.7 1259.0,1126.4 1254.9,1125.7 1252.9,1128.4 1250.9,1132.5 1254.9,1136.6 1259.7,1137.9 1254.9,1141.3 1249.5,1146.1 1246.8,1150.1 1244.8,1152.2 1248.2,1154.9 1250.9,1157.6 1245.4,1157.6 1243.4,1154.9 1237.3,1155.5 1235.3,1157.6 1230.5,1158.9 1225.1,1162.3 1219.7,1165.0 1215.6,1165.7 1213.6,1169.8 1209.5,1170.5 1206.1,1175.2 1202.0,1175.2 1203.4,1168.4 1198.0,1167.8 1191.9,1172.5 1189.8,1167.1 1185.8,1167.8 1180.3,1171.8 1177.0,1171.8 1172.2,1176.6 1165.4,1173.9 1160.0,1175.2"/>
<polyline points="914.3,1003.6 913.6,1007.0 906.8,1010.4 907.5,1017.2 909.5,1025.3 914.9,1029.4 919.7,1027.4 923.7,1025.3 923.1,1022.0 926.5,1019.9 930.5,1021.3 933.2,1018.6 940.0,1018.6 938.7,1024.7 944.1,1027.4 938.0,1029.4 934.6,1029.4 935.3,1034.2 941.4,1035.5 941.4,1038.9 937.3,1040.9 930.5,1041.6 929.2,1040.3 933.9,1036.9 938.7,1038.9 940.0,1045.7 939.3,1052.5 942.7,1060.6 945.4,1068.7 948.2,1078.2 947.5,1082.3 952.2,1081.6 959.0,1084.3 967.1,1087.7 971.2,1091.8 976.0,1095.2 981.4,1095.2 983.4,1099.9 987.5,1099.3 989.5,1096.6 995.6,1099.3 1001.1,1100.6 1003.8,1102.0 1005.1,1097.9 1009.2,1101.3 1013.3,1102.0 1018.7,1104.7 1018.7,1099.3 1023.4,1097.9 1028.2,1102.0 1033.6,1106.0 1037.7,1099.3 1043.1,1099.3 1047.2,1097.9 1050.6,1095.2 1052.6,1097.9 1060.7,1099.3 1068.9,1100.6 1075.7,1102.0 1082.4,1103.3 1085.8,1107.4 1091.9,1109.4 1100.1,1110.1 1102.8,1107.4 1108.2,1108.8 1106.8,1102.7 1110.9,1100.6 1115.0,1104.7 1117.7,1109.4 1119.7,1116.2 1120.4,1123.0 1117.0,1124.4 1119.7,1127.7 1119.7,1131.8 1116.3,1133.2 1119.1,1137.2 1116.3,1142.0 1113.6,1145.4 1110.9,1144.7 1109.6,1149.4 1108.2,1154.2 1109.6,1158.3 1107.5,1162.3 1110.2,1167.1 1117.7,1168.4 1123.8,1171.8 1132.6,1168.4 1139.4,1172.5 1142.1,1170.5 1150.2,1175.2 1160.0,1175.2"/>
<polyline points="660.0,794.9 665.4,800.3 667.5,808.5 668.1,815.3 673.6,820.7 679.0,822.0 684.4,819.3 689.2,814.6 695.3,815.9 699.3,820.7 700.7,827.5 704.8,834.3 710.2,838.3 713.6,839.7 710.2,843.7 714.3,849.2 718.3,852.6 725.1,853.9 730.5,853.9 736.0,853.9 744.1,853.2 752.2,851.9 759.0,848.5 763.8,843.7 767.1,845.1 764.4,851.9 763.1,856.0"/>
<polygon points="667.5,848.5 669.5,850.5 667.5,856.0 669.5,861.4 666.1,860.0 664.1,853.2" fill="#000" stroke-width="2.6"/>
<polygon points="757.7,785.4 761.0,788.1 761.0,796.3 760.4,803.1 754.9,808.5 750.9,807.8 749.5,804.4 746.1,801.7 748.2,796.3 750.9,790.9 753.6,786.8" fill="#000" stroke-width="2.6"/>
<polygon points="849.2,842.1 851.2,844.4 851.5,848.5 849.9,851.9 847.8,851.2 846.9,847.8 847.4,843.7" fill="#000" stroke-width="2.6"/>
<polygon points="866.2,840.4 869.5,842.4 867.5,847.8 870.9,853.2 871.6,858.7 867.5,860.0 866.2,864.1 863.4,866.8 862.1,868.2 859.4,861.4 860.7,850.5 863.4,841.0" fill="#000" stroke-width="2.6"/>
<polyline points="867.5,860.0 872.9,866.8 877.0,873.6 882.4,877.7 887.9,879.0 893.3,883.1 900.1,881.7 905.5,885.1 909.6,891.2 915.0,896.6"/>
<polyline points="862.1,868.2 863.4,874.9 858.0,877.7 859.4,881.7 866.2,883.1 867.5,888.5 871.6,892.6 874.3,899.4 871.6,903.4 870.2,907.5 875.7,912.2 879.7,910.2 882.4,904.8 889.2,906.8 893.3,910.2 896.0,915.6 900.1,919.7 890.6,921.1 887.9,922.4 889.2,927.8 893.3,930.5 892.6,938.7 889.2,941.4 893.3,944.1"/>
<polygon points="856.7,874.9 863.4,873.6 864.8,880.4 860.7,883.8 857.3,881.0" fill="#000" stroke-width="2.6"/>
<polygon points="870.9,902.1 877.0,902.7 881.1,908.8 877.0,913.6 871.6,910.2 869.5,906.1" fill="#000" stroke-width="2.6"/>
<polyline points="451.5,771.9 456.3,774.6 461.7,778.7 467.1,781.4 469.8,786.1 475.3,785.4 480.7,787.5 485.4,789.5 486.8,793.6 492.9,796.3 499.7,797.0 506.5,797.7 511.9,799.0 517.3,803.1 520.0,805.1 525.4,805.1 529.5,809.9 534.9,813.3 540.4,817.3 544.4,822.1 549.9,826.1 555.3,830.2 560.7,833.6 562.1,837.0 560.0,838.3 564.8,839.7 570.2,838.3 575.6,839.7 581.1,839.7 586.5,839.7 590.5,843.1 593.3,846.5 600.0,849.9 605.5,851.9 609.5,851.9 612.9,853.3"/>
<polyline points="629.9,700.0 631.9,708.1 629.9,717.6 627.8,727.1 625.1,735.3 621.7,743.4 616.3,747.5 621.7,749.5 627.2,748.8 631.2,753.6 636.7,755.6 638.7,761.0 638.0,767.8 635.3,773.2 629.9,777.3 626.5,778.7 629.9,781.4 636.7,784.1 642.1,785.4 644.8,777.3 648.9,775.3 651.6,780.0 648.9,786.8 654.3,792.2 661.1,796.3 666.5,801.7 667.9,807.1 667.9,812.6 670.6,818.7 676.0,822.1 682.8,820.7 686.8,817.3 690.9,814.6 696.3,818.0 699.1,824.8 701.8,831.6 705.8,837.0 711.3,839.7 707.9,843.8 712.6,847.8 716.7,853.3 723.5,854.6 730.2,854.6 733.0,851.9 740.0,853.3"/>
<polygon points="524.8,700.0 533.6,700.0 532.9,705.4 529.5,709.5 525.4,708.1 524.1,703.4" fill="#000" stroke-width="2.6"/>
<polyline points="575.0,475.0 574.3,483.1 572.2,489.9 568.8,496.7 566.1,502.1 565.5,510.3 563.4,518.4 562.7,526.5 564.1,532.0 560.7,534.0 564.8,536.0 568.8,540.1 575.6,544.2 581.1,548.9 585.1,555.0 590.5,560.4 591.9,567.2 593.3,574.0 596.0,580.8 598.0,584.9 594.6,588.9 593.3,594.4 587.8,595.7 593.3,597.1 597.3,602.5 599.4,609.3 601.4,616.1 604.1,622.8 605.5,628.3 608.2,633.7 611.6,640.5 614.3,647.3 615.6,654.0 613.6,662.2 608.9,669.0 604.1,674.4 598.7,678.4 593.3,682.5 587.8,684.5 581.1,683.2 575.6,679.1 581.1,684.5 586.5,689.3 590.5,690.7 596.0,688.6 601.4,684.5 606.8,684.5 610.9,688.6 616.3,689.3 619.0,687.3 624.5,690.7 627.8,696.1 629.9,700.0"/>
<polyline points="568.3,362.4 572.4,367.1 577.2,370.5 576.5,375.3 575.1,380.7 579.2,386.1 583.3,391.5 586.7,397.0 587.3,403.7 589.4,410.5 590.7,417.3 589.4,422.7 591.4,428.2 596.1,432.2 598.2,434.9 595.5,440.4 593.4,445.8 594.8,449.9 597.5,452.6 594.8,455.3 590.0,458.0 586.0,462.1 583.3,459.4 581.9,463.4 584.6,466.1 579.2,468.8 575.8,474.3 573.8,481.1 572.4,487.8 569.7,493.3 567.0,500.0 565.6,506.8 565.0,515.0 563.6,521.7 564.3,529.9 562.2,535.3 564.3,540.1"/>
<polygon points="517.5,433.6 522.2,432.9 524.9,435.6 529.7,435.6 531.0,440.4 527.7,443.1 525.6,445.1 522.2,443.1 519.5,440.4 518.2,437.0" fill="#000" stroke-width="2.6"/>
<polygon points="537.1,460.7 541.2,459.4 545.3,461.4 550.0,460.7 548.0,465.5 552.1,468.8 549.4,472.9 543.9,475.6 539.9,472.2 535.8,470.2 533.8,468.2" fill="#000" stroke-width="2.6"/>
<polygon points="860.0,711.2 862.8,707.1 869.5,704.4 876.3,705.8 879.7,709.2 877.7,712.6 873.6,711.2 868.2,710.5 862.8,712.6" fill="#000" stroke-width="2.6"/>
<polyline points="1259.2,361.5 1261.9,366.3 1264.6,369.7 1265.9,375.8 1265.5,383.9 1265.9,392.0 1267.3,400.2 1269.3,407.0 1270.7,412.4 1270.0,419.2 1267.3,423.2 1262.6,423.2 1261.2,427.3 1263.2,432.7 1264.6,438.2 1261.9,440.2 1261.9,443.6 1266.6,444.9 1269.3,448.3 1270.7,451.7 1274.8,454.4 1280.2,452.4 1285.6,452.4 1289.7,454.4 1293.7,455.8 1297.8,453.8 1303.2,454.4 1308.7,458.5 1312.7,457.8 1318.2,462.6 1322.9,466.0 1325.6,463.3 1331.0,467.3 1334.4,463.9 1339.9,468.0 1346.6,468.3 1354.8,466.9 1365.6,465.0 1372.4,462.6 1379.2,459.9 1386.0,459.2 1392.8,456.5 1400.9,451.7 1409.0,445.6 1417.2,442.9 1422.6,443.3 1428.0,442.0 1434.8,436.1 1442.9,429.3 1449.7,421.2 1451.1,417.8 1446.3,415.8 1447.0,413.7 1452.4,411.7 1459.2,411.7 1467.4,413.5 1475.5,415.4 1482.3,416.7 1489.1,414.8 1492.4,411.0 1489.7,410.4 1494.5,405.6 1499.9,402.2 1502.6,397.5 1506.7,393.4 1504.0,390.7 1507.4,385.3 1508.0,379.8 1511.4,374.4 1511.4,370.3 1509.4,367.6 1513.5,363.6 1520.2,361.5"/>
<polygon points="1365.6,394.5 1369.0,393.7 1373.1,394.8 1371.7,397.7 1369.4,399.1 1366.3,398.1 1365.1,396.4" fill="#000" stroke-width="2.6"/>
<polyline points="1513.4,363.6 1519.7,362.2 1530.5,361.1 1541.4,362.2 1546.8,360.9"/>
<polyline points="1582.1,361.5 1587.5,363.6 1594.3,362.9 1601.1,364.2 1607.8,362.9 1613.3,361.5"/>
<polyline points="1708.2,420.5 1704.1,422.6 1697.4,423.9 1690.6,421.9 1689.2,424.6 1683.8,423.2 1679.7,419.8 1675.7,423.2 1672.9,417.8 1668.9,413.7 1664.8,414.4 1660.7,409.7 1656.7,407.6 1653.3,404.3 1647.8,409.7 1641.7,411.7 1635.0,413.5 1632.3,417.8 1626.8,423.9 1625.5,429.3 1621.4,434.1 1620.0,439.5 1614.6,444.3 1607.8,446.3 1602.4,447.7 1597.0,451.0 1592.9,449.7 1585.5,453.1 1580.7,457.1 1577.3,463.9 1576.6,468.0 1574.6,473.4 1570.5,475.5 1566.5,481.6 1564.4,487.0 1563.1,491.1 1563.8,495.1 1567.1,500.5 1567.1,506.0 1571.2,508.7 1576.6,510.7 1582.1,512.8 1584.8,515.5 1588.8,517.1 1594.3,514.8 1601.1,512.1 1607.8,508.7 1614.6,504.6 1621.4,500.5 1629.5,497.2 1637.7,493.1 1647.2,488.6 1655.3,485.6 1662.1,482.2 1670.2,478.8 1678.4,476.1 1685.1,472.7 1689.2,468.0 1694.6,466.0 1698.7,467.3 1704.1,463.9 1708.2,458.5"/>
<polyline points="1696.9,561.9 1700.1,564.3 1700.3,568.4 1698.0,572.2 1695.3,571.8 1693.6,567.7 1694.4,563.6 1696.9,561.9"/>
<polyline points="1341.2,1377.7 1348.0,1379.7 1353.4,1383.1 1356.8,1387.8 1362.9,1391.2 1368.3,1395.3 1370.4,1398.7 1364.3,1400.7 1356.1,1400.7 1350.7,1403.4 1348.0,1408.9 1344.6,1414.3 1340.5,1413.6 1337.8,1407.5 1335.1,1402.1 1333.1,1399.4 1334.4,1395.3 1331.0,1392.6 1329.7,1389.2 1335.1,1387.8 1334.4,1381.7 1337.1,1379.7 1341.2,1377.7"/>
<polygon points="1378.5,1399.4 1381.2,1400.7 1383.2,1404.8 1381.2,1406.8 1378.5,1404.1" fill="#000" stroke-width="2.6"/>
<polyline points="1389.3,1418.4 1390.7,1410.9 1396.8,1409.5 1402.2,1408.2 1407.7,1404.8 1409.0,1402.1 1414.4,1402.8 1418.5,1400.1 1425.3,1401.4 1430.7,1403.4 1432.1,1407.5 1436.1,1411.6 1441.6,1413.6 1447.0,1413.6 1451.1,1411.6 1451.7,1404.8 1455.1,1399.4 1460.5,1394.0 1464.6,1395.3 1461.9,1400.7 1457.8,1406.2 1457.2,1411.6 1460.5,1415.7 1466.0,1418.4 1468.0,1420.4"/>
<polyline points="1464.6,1402.1 1468.7,1406.2 1466.0,1410.2 1470.0,1412.9 1472.8,1417.0 1474.1,1425.0"/>
<polyline points="1477.5,1425.0 1478.2,1418.4 1479.5,1411.6 1477.5,1404.8 1474.8,1398.7 1474.8,1398.0 1479.5,1396.0 1485.0,1396.7 1487.7,1400.7 1493.1,1402.1 1498.5,1404.8 1502.6,1402.1 1506.7,1406.2 1512.1,1404.8 1517.5,1405.5 1518.9,1402.1 1524.3,1400.7 1527.0,1396.7 1533.8,1395.3 1540.6,1392.6 1540.6,1388.5 1546.0,1383.1 1551.4,1376.3 1554.1,1370.9 1555.5,1364.1 1558.2,1354.6 1562.3,1349.2 1566.3,1345.8 1567.0,1335.6 1568.4,1328.8 1569.7,1322.7 1565.7,1318.0 1564.3,1311.2 1566.3,1307.1 1569.1,1303.1 1571.8,1297.7 1578.5,1292.2 1581.3,1286.8 1584.0,1278.7 1581.9,1271.9 1583.3,1266.5 1580.6,1262.4 1581.3,1255.6 1585.3,1250.2 1588.0,1243.4 1593.5,1239.3 1600.2,1236.6 1603.0,1233.9 1608.4,1234.6"/>
<polyline points="1390.7,1409.7 1388.7,1415.9 1387.3,1422.0 1383.2,1421.3 1377.8,1423.3 1372.4,1422.6 1366.3,1422.6 1369.7,1426.7 1366.3,1430.8 1365.6,1437.6 1362.2,1442.3 1356.1,1446.4 1350.7,1450.4 1348.7,1455.9 1352.0,1459.3 1354.1,1464.7 1356.1,1470.1 1358.1,1475.5 1357.5,1481.0 1356.1,1485.0 1358.8,1489.1 1360.2,1495.9 1361.5,1502.7 1361.5,1510.8 1360.2,1516.2 1356.8,1521.6 1358.1,1527.1 1357.5,1532.5 1358.8,1539.3 1362.2,1546.1 1363.6,1552.8 1366.3,1561.0 1366.3,1567.8 1369.7,1574.5 1375.1,1580.0 1380.5,1582.7 1383.2,1589.5 1387.3,1596.2 1391.4,1600.3 1395.4,1603.7 1392.7,1608.4 1394.8,1614.5 1391.4,1611.2 1390.0,1603.0"/>
<polyline points="1395.4,1603.7 1400.9,1607.1 1407.7,1609.1 1413.1,1613.2 1417.8,1611.8 1423.9,1613.9 1428.0,1613.9 1432.1,1617.9"/>
<polygon points="1346.6,1418.6 1352.0,1419.9 1354.1,1422.6 1350.7,1425.3 1345.9,1424.0 1344.6,1421.3" fill="#000" stroke-width="2.6"/>
<polyline points="1467.3,1409.1 1471.4,1414.5 1471.4,1424.0 1475.5,1428.7 1483.6,1433.5 1480.2,1428.1 1478.2,1419.9 1480.2,1413.1 1479.5,1405.0"/>
<polyline points="1589.4,1618.6 1586.0,1612.5 1586.7,1607.1 1590.8,1601.7 1597.5,1599.6 1604.3,1598.3 1610.0,1600.3"/>
<polyline points="1480.0,1396.3 1484.1,1395.7 1488.1,1401.1 1494.9,1402.4 1503.1,1401.8 1511.2,1403.8 1516.6,1401.1 1523.4,1399.7 1526.8,1395.7 1534.3,1394.3 1540.4,1392.3 1541.7,1387.5 1546.5,1382.1 1550.5,1376.7 1553.2,1371.9 1554.6,1364.5 1557.3,1355.0 1560.7,1349.5 1566.8,1344.1 1567.5,1336.0 1568.2,1329.2 1569.5,1322.4 1565.4,1317.7 1564.1,1310.2 1566.8,1306.8 1569.5,1304.8 1570.9,1299.4 1574.9,1296.0 1578.3,1290.5 1580.4,1284.4 1583.8,1279.7 1582.4,1273.6 1581.0,1269.5 1583.8,1266.8 1581.7,1261.4 1580.4,1256.0 1582.4,1251.2 1585.8,1246.5 1587.8,1243.1 1592.6,1239.7 1598.0,1238.3 1601.4,1234.9 1606.1,1234.3 1611.6,1237.6 1608.2,1239.7 1610.2,1245.1 1617.0,1247.1 1621.1,1250.5 1625.1,1253.9 1629.2,1253.2 1637.3,1253.9 1645.5,1253.9 1652.3,1256.0 1657.7,1258.7 1665.8,1258.7 1671.2,1259.3 1676.7,1258.0 1682.1,1260.0 1688.9,1260.0 1697.0,1258.4 1703.8,1257.3 1707.9,1258.0"/>
<polygon points="1698.4,1261.4 1705.1,1258.0 1707.9,1261.4 1707.9,1268.2 1703.1,1270.2 1699.0,1266.8" fill="#000" stroke-width="2.6"/>
<polyline points="1589.5,1619.3 1585.4,1612.5 1586.1,1607.1 1590.9,1601.0 1597.7,1599.0 1604.4,1597.6 1609.2,1601.0 1615.3,1599.0 1621.4,1594.2 1630.2,1596.2 1635.6,1593.5 1641.7,1592.8 1645.1,1588.8 1651.9,1588.1 1656.0,1589.5 1662.8,1588.1 1666.8,1586.1 1672.3,1588.8 1669.5,1592.2 1671.6,1597.6 1673.6,1604.4 1677.7,1605.7 1681.7,1609.8 1680.4,1615.2 1676.3,1619.3"/>
<polyline points="1666.8,1604.4 1669.5,1608.4 1668.2,1613.9 1664.4,1615.0 1662.8,1611.4 1659.0,1609.8 1662.1,1607.1 1666.8,1604.4 1666.1,1611.2"/>
<polyline points="1697.3,1619.3 1698.0,1614.5 1703.4,1612.5 1708.2,1609.8"/>
<polyline points="1172.3,1405.8 1166.8,1409.2 1168.2,1414.6 1162.8,1415.3 1157.3,1417.3 1154.6,1422.0 1150.5,1426.1 1151.9,1431.5 1149.2,1437.6 1150.5,1443.7 1146.5,1447.1 1141.1,1450.5 1135.6,1451.2 1137.0,1453.9 1140.4,1456.0 1139.7,1459.3 1135.6,1462.1 1133.6,1466.8 1130.9,1472.2 1128.2,1477.0 1130.2,1481.0 1128.8,1485.1 1133.6,1485.1 1135.6,1481.7 1138.3,1480.4 1141.1,1484.4 1141.7,1488.5 1145.1,1487.8 1148.5,1483.8 1147.8,1477.7 1151.2,1473.6 1153.9,1472.2 1153.3,1466.8 1154.6,1461.4 1157.3,1457.3 1161.4,1453.9 1166.1,1448.5 1166.8,1445.1 1173.6,1443.1 1176.3,1437.0 1180.4,1432.9 1182.4,1426.8 1184.5,1420.0 1181.7,1416.6 1176.3,1416.6 1172.9,1415.3 1172.3,1405.8"/>
<polyline points="1145.1,1451.9 1148.5,1453.9"/>
<polygon points="1172.0,1407.1 1172.5,1411.2 1171.2,1414.6 1168.9,1413.9 1167.9,1409.8" fill="#000" stroke-width="2.6"/>
<polyline points="1127.5,1481.0 1120.7,1478.3 1116.6,1481.0 1113.9,1484.4 1111.9,1489.2 1109.2,1492.6 1107.8,1497.3 1105.8,1500.7 1108.5,1504.1 1106.5,1507.5 1102.4,1509.5 1099.0,1507.5 1097.7,1510.9 1099.7,1513.6 1095.6,1515.6 1094.9,1521.1 1092.9,1525.8 1095.6,1527.2 1099.7,1527.2 1103.1,1522.4 1106.5,1521.1 1111.2,1523.1 1118.0,1524.4 1118.7,1527.8 1122.7,1529.2 1118.0,1529.2 1119.4,1536.0 1124.1,1538.0 1125.5,1531.9 1128.8,1530.5 1127.5,1536.0 1129.5,1540.7 1132.2,1544.1 1132.2,1548.9 1135.6,1553.6 1141.1,1555.6 1147.8,1557.7 1149.9,1561.1 1153.9,1559.7 1149.2,1555.0 1148.5,1550.9 1143.8,1546.1 1138.3,1540.0 1134.3,1534.6 1130.9,1528.5 1128.2,1521.7 1126.8,1518.3 1128.8,1514.3 1128.8,1508.8 1132.2,1507.5 1136.3,1504.1 1132.9,1500.7 1126.1,1498.0 1122.7,1495.3 1121.4,1489.9 1124.1,1485.1 1128.8,1485.1"/>
<polyline points="1135.6,1544.8 1142.4,1550.2 1147.2,1552.3 1141.1,1552.3 1136.3,1548.9 1135.6,1544.8"/>
<polyline points="1120.0,1529.9 1123.4,1530.5 1124.5,1536.7 1122.1,1537.1 1120.4,1534.6 1122.1,1531.9"/>
<polygon points="1052.2,1451.6 1054.3,1453.2 1053.8,1455.7 1051.3,1456.2 1049.6,1454.9 1050.5,1452.4" fill="#000" stroke-width="2.6"/>
<polygon points="1448.0,845.3 1454.8,842.9 1459.7,840.2 1465.1,840.4 1466.5,842.9 1464.8,846.7 1464.0,849.9 1465.7,852.6 1464.8,855.9 1461.3,857.0 1456.4,856.4 1455.3,855.6 1452.1,856.7 1451.0,853.7 1454.3,852.1 1453.2,848.8 1451.5,847.7 1449.1,848.8" fill="#000" stroke-width="2.6"/>
<polyline points="605.9,843.6 612.9,842.2 619.4,845.7 625.4,849.5 630.3,852.8 636.2,854.4 642.7,855.2 649.3,859.3 654.7,862.6 660.1,866.9 663.4,871.2" stroke-width="7"/>
<polyline points="610.2,852.8 616.7,856.0 623.2,859.3 627.6,861.7" stroke-width="6"/>
<polyline points="615.6,849.0 621.0,851.7 626.5,854.4 629.7,858.2" stroke-width="3"/>
<polygon points="653.6,867.4 662.8,867.4 665.0,871.2 661.7,875.0 665.5,880.5 662.8,883.7 657.9,883.2 654.7,877.7 651.4,876.7 651.4,871.2" fill="#000" stroke-width="2.6"/>
<polyline points="665.0,871.8 671.0,875.6 676.4,877.2 681.8,873.4 687.2,868.0 692.7,866.1 698.1,868.0 703.5,869.1 708.9,873.4 715.0,877.2" stroke-width="6"/>
<polygon points="667.2,847.4 670.4,850.1 667.7,854.4 667.7,858.2 671.0,863.6 667.2,864.7 662.3,861.5 663.4,858.2 662.3,853.9 663.9,850.6" fill="#000" stroke-width="2.6"/>
<polyline points="530.4,617.0 528.6,620.3 527.1,624.6 524.2,628.9" stroke-width="5.6"/>
<polyline points="524.2,628.9 518.8,633.3 514.5,638.3 512.7,643.4 513.0,647.0 517.4,649.9 519.5,653.5 523.9,657.1 527.5,661.5 528.9,665.1 532.5,668.0 537.6,671.6 542.7,673.8 544.8,676.7 547.0,681.0 549.2,686.1 550.6,691.1 553.5,694.8 557.1,697.6 561.5,699.1 566.5,698.4 569.4,695.5 570.9,694.0"/>
<polyline points="575.2,678.8 579.6,683.2 583.9,686.1 589.0,686.8 594.0,683.2 599.1,678.8 604.2,675.2 607.8,671.6 609.2,667.3 612.8,665.1 615.0,661.5 615.7,655.0 615.0,649.2 612.8,643.4"/>
<polyline points="585.4,686.4 590.4,690.1 596.2,687.9 601.3,684.6 607.1,684.3 609.2,687.5 613.6,690.1 618.6,686.8 623.0,689.0 626.6,694.0 629.5,701.3 632.4,708.5 632.0,720.0"/>
<polygon points="585.7,649.9 588.2,650.6 589.0,655.0 587.9,660.4 585.4,664.4 582.5,664.7 581.7,662.2 583.5,656.4 584.3,651.7" fill="#000" stroke-width="2.6"/>
<polygon points="592.5,591.0 597.0,589.5 602.0,596.0 603.4,600.0 604.8,607.2 607.0,621.7 610.4,630.4 611.0,640.0 608.5,641.7 603.7,638.5 601.5,628.9 600.8,621.7 597.9,610.8 594.3,604.3 592.9,600.0" fill="#000" stroke-width="2.6"/>
<path d="M683.9,872.1 688.2,876.7 694.7,875.1 698.0,874.3 697.4,872.1 692.6,870.5 690.4,872.9 687.1,871.5zM730.0,854.7 736.0,854.7 737.0,858.0 738.1,863.4 740.8,861.8 744.6,862.3 746.3,866.7 751.2,864.0 756.6,861.2 760.4,854.7 763.1,851.5 766.3,854.7 767.4,861.2 768.5,864.5 763.1,871.5 757.7,877.5 752.2,882.4 746.8,885.1 742.5,888.9 736.0,890.0 730.5,890.5 727.8,893.8 724.0,893.8 725.1,890.5 726.7,888.9 719.7,887.3 711.5,886.2 703.4,886.2 699.1,887.8 693.6,890.0 688.2,889.5 686.0,886.2 681.7,884.0 681.7,879.7 677.9,879.1 673.6,879.7 668.1,875.3 665.4,875.9 664.3,882.4 660.0,884.0 656.7,882.4 656.7,864.5 660.0,863.4 663.3,867.7 666.5,869.9 671.9,870.5 678.4,868.3 683.3,866.1 688.2,864.5 693.6,865.0 694.7,867.2 699.1,866.1 703.4,866.7 706.7,868.8 707.7,873.7 711.0,874.8 714.8,875.3 719.7,874.3 725.1,875.9 728.9,871.5 730.5,866.7 730.5,861.2z" fill="#000" fill-rule="evenodd" stroke-width="2"/>
<polyline points="732.7,852.6 738.7,853.6 744.6,853.6 751.2,852.0 756.6,849.8 760.9,847.1 763.1,844.4 765.8,843.3 767.4,846.6 766.3,850.4 765.8,854.7"/>
<polygon points="707.2,843.3 710.5,842.8 713.7,841.7 714.3,845.5 711.5,847.1 707.7,846.6 706.1,845.0" fill="#000" stroke-width="2.6"/></g>
</g>
<rect x="450" y="360" width="1260" height="1260" fill="none" stroke="#000" stroke-width="4.17"/>
<rect x="1943.8" y="417.27" width="48.40" height="1145.45" fill="url(#jet)"/>
<polygon points="1943.8,417.27 1968.0,360.0 1992.2,417.27" fill="#ff00ff"/>
<polygon points="1943.8,1562.73 1968.0,1620.0 1992.2,1562.73" fill="#808080"/>
<polygon points="1943.8,417.27 1968.0,360.0 1992.2,417.27 1992.2,1562.73 1968.0,1620.0 1943.8,1562.73" fill="none" stroke="#000" stroke-width="4.17" stroke-linejoin="round"/>
<g stroke="#000" stroke-width="2.08"><line x1="1975.53" y1="417.27" x2="1992.2" y2="417.27"/><line x1="1975.53" y1="493.64" x2="1992.2" y2="493.64"/><line x1="1975.53" y1="570.00" x2="1992.2" y2="570.00"/><line x1="1975.53" y1="646.36" x2="1992.2" y2="646.36"/><line x1="1975.53" y1="722.73" x2="1992.2" y2="722.73"/><line x1="1975.53" y1="799.09" x2="1992.2" y2="799.09"/><line x1="1975.53" y1="875.45" x2="1992.2" y2="875.45"/><line x1="1975.53" y1="951.82" x2="1992.2" y2="951.82"/><line x1="1975.53" y1="1028.18" x2="1992.2" y2="1028.18"/><line x1="1975.53" y1="1104.55" x2="1992.2" y2="1104.55"/><line x1="1975.53" y1="1180.91" x2="1992.2" y2="1180.91"/><line x1="1975.53" y1="1257.27" x2="1992.2" y2="1257.27"/><line x1="1975.53" y1="1333.64" x2="1992.2" y2="1333.64"/><line x1="1975.53" y1="1410.00" x2="1992.2" y2="1410.00"/><line x1="1975.53" y1="1486.36" x2="1992.2" y2="1486.36"/><line x1="1975.53" y1="1562.73" x2="1992.2" y2="1562.73"/></g>
<g font-size="50" fill="#000"><text x="2005.85" y="434.47">4.0</text><text x="2004.3" y="510.84">3.5</text><text x="2004.3" y="587.20">3.0</text><text x="2004.3" y="663.56">2.5</text><text x="2004.3" y="739.93">2.0</text><text x="2002.5" y="816.29">1.5</text><text x="2002.5" y="892.65">1.0</text><text x="2005.0" y="969.02">0.5</text><text x="2005.0" y="1045.38">0.0</text><text x="2003.0" y="1121.75">−0.5</text><text x="2003.0" y="1198.11">−1.0</text><text x="2003.0" y="1274.47">−1.5</text><text x="2003.0" y="1350.84">−2.0</text><text x="2003.0" y="1427.20">−2.5</text><text x="2003.0" y="1503.56">−3.0</text><text x="2003.0" y="1579.93">−3.5</text></g>
<text x="450" y="133.1" font-size="50" fill="#0000ff">KNMI / ACSAF / EUMETSAT</text>
<text x="450" y="219.7" font-size="37.5" fill="#000">GOME M01 O3MNAP</text>
<text x="450" y="271.1" font-size="33.33" fill="#000">Sensing Start: 2018-04-25T12:08:54 UTC</text>
<text x="1081.4" y="339" font-size="46.1" fill="#000" text-anchor="middle">AAI [-]</text>
<g font-size="20.83" fill="#000" text-anchor="end"><text x="1712.2" y="108.7">Plot created:</text><text x="1711.2" y="132.7">2018-04-25 17:37:28 UTC</text></g>
<g font-size="25" fill="#ff0000" text-anchor="end"><text x="1713.1" y="255.8">Plot filter:</text><text x="1712.1" y="284.45">[AAI_Orbit]</text><text x="1712.1" y="313.1">Scat Angle &gt; 90</text><text x="1711.7" y="341.75">Sunglint visible</text></g>
</svg>
</body></html>
